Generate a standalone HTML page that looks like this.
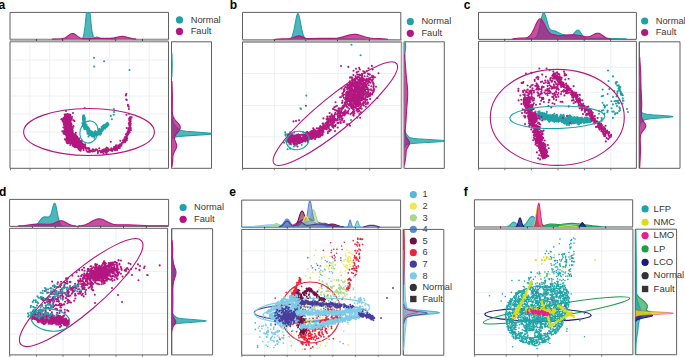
<!DOCTYPE html>
<html><head><meta charset="utf-8"><style>
html,body{margin:0;padding:0;background:#fff;}
svg{display:block;}
text{font-family:"Liberation Sans",sans-serif;}
</style></head><body>
<svg width="685" height="357" viewBox="0 0 685 357">
<rect width="685" height="357" fill="#fff"/>
<line x1="29.8" y1="41.6" x2="29.8" y2="168.3" stroke="#e8ecf1" stroke-width="0.8"/>
<line x1="49.7" y1="41.6" x2="49.7" y2="168.3" stroke="#e8ecf1" stroke-width="0.8"/>
<line x1="69.6" y1="41.6" x2="69.6" y2="168.3" stroke="#e8ecf1" stroke-width="0.8"/>
<line x1="89.5" y1="41.6" x2="89.5" y2="168.3" stroke="#e8ecf1" stroke-width="0.8"/>
<line x1="109.4" y1="41.6" x2="109.4" y2="168.3" stroke="#e8ecf1" stroke-width="0.8"/>
<line x1="129.3" y1="41.6" x2="129.3" y2="168.3" stroke="#e8ecf1" stroke-width="0.8"/>
<line x1="149.2" y1="41.6" x2="149.2" y2="168.3" stroke="#e8ecf1" stroke-width="0.8"/>
<line x1="10" y1="60" x2="168.5" y2="60" stroke="#e8ecf1" stroke-width="0.8"/>
<line x1="10" y1="78" x2="168.5" y2="78" stroke="#e8ecf1" stroke-width="0.8"/>
<line x1="10" y1="96" x2="168.5" y2="96" stroke="#e8ecf1" stroke-width="0.8"/>
<line x1="10" y1="114" x2="168.5" y2="114" stroke="#e8ecf1" stroke-width="0.8"/>
<line x1="10" y1="132" x2="168.5" y2="132" stroke="#e8ecf1" stroke-width="0.8"/>
<line x1="10" y1="150" x2="168.5" y2="150" stroke="#e8ecf1" stroke-width="0.8"/>
<line x1="274.3" y1="42" x2="274.3" y2="168.4" stroke="#e8ecf1" stroke-width="0.8"/>
<line x1="306" y1="42" x2="306" y2="168.4" stroke="#e8ecf1" stroke-width="0.8"/>
<line x1="338" y1="42" x2="338" y2="168.4" stroke="#e8ecf1" stroke-width="0.8"/>
<line x1="369.7" y1="42" x2="369.7" y2="168.4" stroke="#e8ecf1" stroke-width="0.8"/>
<line x1="242.5" y1="73.5" x2="401.5" y2="73.5" stroke="#e8ecf1" stroke-width="0.8"/>
<line x1="242.5" y1="105.5" x2="401.5" y2="105.5" stroke="#e8ecf1" stroke-width="0.8"/>
<line x1="242.5" y1="136.8" x2="401.5" y2="136.8" stroke="#e8ecf1" stroke-width="0.8"/>
<line x1="504.9" y1="41.3" x2="504.9" y2="168.3" stroke="#e8ecf1" stroke-width="0.8"/>
<line x1="531.4" y1="41.3" x2="531.4" y2="168.3" stroke="#e8ecf1" stroke-width="0.8"/>
<line x1="558" y1="41.3" x2="558" y2="168.3" stroke="#e8ecf1" stroke-width="0.8"/>
<line x1="584.4" y1="41.3" x2="584.4" y2="168.3" stroke="#e8ecf1" stroke-width="0.8"/>
<line x1="610.8" y1="41.3" x2="610.8" y2="168.3" stroke="#e8ecf1" stroke-width="0.8"/>
<line x1="478.5" y1="67.3" x2="636.4" y2="67.3" stroke="#e8ecf1" stroke-width="0.8"/>
<line x1="478.5" y1="92.3" x2="636.4" y2="92.3" stroke="#e8ecf1" stroke-width="0.8"/>
<line x1="478.5" y1="117.5" x2="636.4" y2="117.5" stroke="#e8ecf1" stroke-width="0.8"/>
<line x1="478.5" y1="143" x2="636.4" y2="143" stroke="#e8ecf1" stroke-width="0.8"/>
<line x1="36.5" y1="228.3" x2="36.5" y2="354.9" stroke="#e8ecf1" stroke-width="0.8"/>
<line x1="63" y1="228.3" x2="63" y2="354.9" stroke="#e8ecf1" stroke-width="0.8"/>
<line x1="89.4" y1="228.3" x2="89.4" y2="354.9" stroke="#e8ecf1" stroke-width="0.8"/>
<line x1="115.9" y1="228.3" x2="115.9" y2="354.9" stroke="#e8ecf1" stroke-width="0.8"/>
<line x1="142.5" y1="228.3" x2="142.5" y2="354.9" stroke="#e8ecf1" stroke-width="0.8"/>
<line x1="9.6" y1="250.9" x2="167.6" y2="250.9" stroke="#e8ecf1" stroke-width="0.8"/>
<line x1="9.6" y1="271.5" x2="167.6" y2="271.5" stroke="#e8ecf1" stroke-width="0.8"/>
<line x1="9.6" y1="292.4" x2="167.6" y2="292.4" stroke="#e8ecf1" stroke-width="0.8"/>
<line x1="9.6" y1="313.4" x2="167.6" y2="313.4" stroke="#e8ecf1" stroke-width="0.8"/>
<line x1="9.6" y1="334.2" x2="167.6" y2="334.2" stroke="#e8ecf1" stroke-width="0.8"/>
<line x1="264.6" y1="229.4" x2="264.6" y2="355.2" stroke="#e8ecf1" stroke-width="0.8"/>
<line x1="287.2" y1="229.4" x2="287.2" y2="355.2" stroke="#e8ecf1" stroke-width="0.8"/>
<line x1="310" y1="229.4" x2="310" y2="355.2" stroke="#e8ecf1" stroke-width="0.8"/>
<line x1="332.8" y1="229.4" x2="332.8" y2="355.2" stroke="#e8ecf1" stroke-width="0.8"/>
<line x1="355.5" y1="229.4" x2="355.5" y2="355.2" stroke="#e8ecf1" stroke-width="0.8"/>
<line x1="378.3" y1="229.4" x2="378.3" y2="355.2" stroke="#e8ecf1" stroke-width="0.8"/>
<line x1="241.7" y1="250.9" x2="400.6" y2="250.9" stroke="#e8ecf1" stroke-width="0.8"/>
<line x1="241.7" y1="272.2" x2="400.6" y2="272.2" stroke="#e8ecf1" stroke-width="0.8"/>
<line x1="241.7" y1="293.2" x2="400.6" y2="293.2" stroke="#e8ecf1" stroke-width="0.8"/>
<line x1="241.7" y1="313.7" x2="400.6" y2="313.7" stroke="#e8ecf1" stroke-width="0.8"/>
<line x1="241.7" y1="334.2" x2="400.6" y2="334.2" stroke="#e8ecf1" stroke-width="0.8"/>
<line x1="506.2" y1="229.1" x2="506.2" y2="354.7" stroke="#e8ecf1" stroke-width="0.8"/>
<line x1="537.8" y1="229.1" x2="537.8" y2="354.7" stroke="#e8ecf1" stroke-width="0.8"/>
<line x1="569.8" y1="229.1" x2="569.8" y2="354.7" stroke="#e8ecf1" stroke-width="0.8"/>
<line x1="601.6" y1="229.1" x2="601.6" y2="354.7" stroke="#e8ecf1" stroke-width="0.8"/>
<line x1="474.4" y1="250.9" x2="632.9" y2="250.9" stroke="#e8ecf1" stroke-width="0.8"/>
<line x1="474.4" y1="272" x2="632.9" y2="272" stroke="#e8ecf1" stroke-width="0.8"/>
<line x1="474.4" y1="292.6" x2="632.9" y2="292.6" stroke="#e8ecf1" stroke-width="0.8"/>
<line x1="474.4" y1="313.7" x2="632.9" y2="313.7" stroke="#e8ecf1" stroke-width="0.8"/>
<line x1="474.4" y1="334.8" x2="632.9" y2="334.8" stroke="#e8ecf1" stroke-width="0.8"/>
<path d="M74.9 136.7h0M80.3 145.6h0M75.4 143.8h0M65.4 123.3h0M68.2 126.2h0M78.5 147.0h0M67.5 114.2h0M77.7 144.0h0M76.0 144.5h0M66.6 133.5h0M68.7 126.3h0M68.4 125.3h0M68.1 124.4h0M68.7 132.1h0M71.5 134.0h0M68.2 137.5h0M84.1 146.9h0M76.0 144.2h0M73.4 137.5h0M83.4 147.8h0M66.8 122.8h0M68.5 120.5h0M67.5 140.8h0M67.0 115.8h0M65.2 115.5h0M67.3 135.3h0M70.6 132.6h0M81.3 145.4h0M71.1 139.3h0M69.3 134.8h0M69.2 134.1h0M68.4 124.1h0M69.5 114.5h0M68.1 121.8h0M76.5 136.9h0M66.8 122.2h0M69.9 128.7h0M68.2 114.2h0M78.1 144.0h0M66.9 120.3h0M71.0 124.7h0M81.1 142.3h0M71.9 134.1h0M80.3 141.1h0M74.1 137.9h0M72.9 144.8h0M69.3 117.7h0M68.7 136.6h0M72.6 133.9h0M79.0 145.7h0M68.9 128.6h0M71.4 137.7h0M66.7 116.4h0M64.4 130.6h0M67.5 127.2h0M67.2 120.1h0M78.6 142.4h0M67.0 129.7h0M83.4 146.8h0M69.4 138.5h0M71.5 137.9h0M68.7 141.3h0M76.8 138.0h0M68.2 120.1h0M66.8 132.3h0M68.5 123.7h0M70.3 130.0h0M68.0 117.9h0M83.8 144.9h0M67.4 122.8h0M68.1 143.3h0M65.3 126.4h0M80.4 143.3h0M74.3 138.9h0M68.3 119.4h0M77.4 146.5h0M82.6 145.3h0M81.1 144.6h0M68.8 137.9h0M65.6 119.9h0M68.4 121.8h0M82.2 144.4h0M73.3 134.2h0M69.1 121.3h0M81.7 141.6h0M70.7 140.2h0M71.9 135.9h0M67.2 129.5h0M64.3 131.6h0M65.1 123.9h0M69.0 115.6h0M78.7 146.7h0M66.4 133.5h0M71.6 135.0h0M70.1 127.0h0M75.5 142.2h0M69.4 115.0h0M64.9 129.9h0M70.5 115.2h0M69.7 119.0h0M83.0 146.5h0M73.0 139.5h0M68.3 131.5h0M69.1 135.5h0M79.5 144.8h0M65.5 128.6h0M75.4 134.7h0M73.2 140.6h0M69.7 128.1h0M69.2 135.2h0M75.5 143.1h0M81.4 144.4h0M68.9 120.1h0M81.0 147.5h0M67.1 114.2h0M76.3 141.2h0M74.6 147.1h0M62.7 119.6h0M72.0 130.3h0M77.0 144.5h0M64.7 114.6h0M70.3 139.8h0M76.4 143.8h0M69.9 134.7h0M75.2 140.8h0M68.2 123.2h0M68.9 122.0h0M66.5 129.1h0M68.5 121.3h0M69.0 127.9h0M83.0 144.8h0M70.8 136.8h0M70.0 127.7h0M68.2 125.0h0M81.5 148.2h0M68.0 132.2h0M82.9 147.8h0M68.6 135.0h0M69.4 135.2h0M80.3 145.4h0M75.5 141.6h0M69.3 138.1h0M71.2 130.8h0M78.4 147.6h0M68.5 130.7h0M81.8 144.9h0M68.3 116.8h0M70.3 131.1h0M69.2 135.2h0M82.7 145.5h0M65.2 124.4h0M78.1 142.5h0M77.3 137.6h0M75.2 140.2h0M75.9 136.3h0M83.0 146.9h0M65.6 127.7h0M67.0 130.5h0M70.6 122.1h0M68.6 116.1h0M63.7 122.9h0M80.7 146.5h0M78.2 144.6h0M65.5 118.6h0M66.4 141.1h0M66.2 134.1h0M70.9 137.8h0M71.9 140.3h0M66.5 126.6h0M83.0 145.9h0M71.5 132.4h0M71.8 138.8h0M73.9 137.8h0M67.7 121.5h0M67.4 116.5h0M63.3 131.9h0M76.9 141.3h0M77.5 143.8h0M74.9 141.5h0M66.7 118.6h0M80.0 147.6h0M77.6 142.8h0M80.2 143.9h0M72.9 133.1h0M81.7 144.5h0M66.8 115.9h0M67.4 115.2h0M68.7 114.8h0M68.6 124.3h0M67.7 124.1h0M66.5 121.7h0M71.7 135.9h0M67.8 115.6h0M74.7 135.1h0M70.1 120.6h0M69.9 142.4h0M70.1 114.9h0M68.7 126.6h0M81.6 146.7h0M70.7 135.2h0M78.3 142.6h0M72.7 139.7h0M71.5 138.2h0M67.8 121.8h0M74.5 134.5h0M67.7 115.6h0M78.0 142.2h0M82.9 146.0h0M78.5 145.2h0M66.6 116.1h0M65.9 127.9h0M69.1 126.9h0M65.7 118.6h0M69.5 140.2h0M75.3 145.4h0M64.8 127.0h0M79.1 144.7h0M77.0 143.2h0M65.8 119.3h0M77.6 140.5h0M79.5 145.7h0M68.8 122.0h0M71.4 136.4h0M75.6 136.9h0M73.3 137.0h0M67.5 117.9h0M70.9 141.0h0M70.0 140.1h0M77.7 144.1h0M77.2 143.4h0M69.8 127.2h0M73.8 142.3h0M79.4 144.6h0M79.6 146.6h0M63.7 120.8h0M67.5 115.1h0M75.3 137.7h0M69.6 122.6h0M73.4 134.7h0M82.9 144.7h0M65.4 130.1h0M67.3 124.3h0M72.4 131.8h0M71.3 140.6h0M65.2 118.1h0M69.1 129.3h0M68.9 119.5h0M73.3 139.5h0M77.5 144.8h0M66.8 129.6h0M65.6 129.7h0M67.5 137.3h0M65.0 122.9h0M64.7 124.3h0M66.5 127.5h0M72.5 131.8h0M67.7 117.3h0M74.9 142.9h0M71.6 136.6h0M65.8 126.3h0M68.1 117.2h0M76.9 141.1h0M64.5 119.3h0M66.1 119.4h0M67.1 119.3h0M66.0 117.3h0M79.7 147.5h0M67.0 125.0h0M73.5 126.1h0M78.8 143.4h0M72.6 137.9h0M69.8 121.5h0M68.3 131.7h0M78.8 147.4h0M69.4 129.0h0M75.6 139.4h0M63.9 118.0h0M75.2 141.0h0M77.7 141.0h0M77.4 144.6h0M72.1 140.9h0M69.8 128.7h0M66.3 116.6h0M70.6 134.8h0M76.7 141.0h0M67.2 121.8h0M66.1 125.0h0M71.1 134.8h0M74.8 142.8h0M80.3 145.5h0M61.8 119.1h0M69.2 121.4h0M75.1 145.8h0M72.4 139.3h0M74.5 141.4h0M83.4 148.4h0M81.1 147.8h0M77.1 146.9h0M75.7 143.6h0M69.8 129.8h0M73.2 138.5h0M66.5 121.6h0M74.8 143.5h0M73.6 144.9h0M73.8 142.3h0M66.4 132.6h0M64.9 130.1h0M68.3 131.1h0M69.4 115.4h0M79.4 142.5h0M72.9 134.0h0M64.8 130.5h0M71.8 134.9h0M72.7 143.7h0M67.0 129.8h0M75.7 147.1h0M80.3 147.6h0M68.6 129.7h0M67.9 119.6h0M75.5 142.7h0M83.6 147.6h0M68.7 120.0h0M74.1 141.3h0M75.6 146.8h0M82.4 143.4h0M67.0 119.0h0M69.1 117.7h0M83.4 147.5h0M65.9 118.8h0M67.7 121.2h0M69.2 137.9h0M72.5 131.3h0M73.8 144.2h0M68.9 121.7h0M80.4 146.9h0M67.3 122.9h0M79.3 138.5h0M68.7 116.8h0M68.6 133.3h0M65.5 115.3h0M67.3 126.8h0M67.3 126.8h0M76.3 139.1h0M65.7 133.2h0M64.9 116.3h0M83.8 147.5h0M80.1 145.1h0M82.2 143.4h0M65.8 124.2h0M62.3 131.3h0M66.1 123.4h0M65.0 119.1h0M66.8 115.3h0M71.6 133.9h0M64.8 119.0h0M70.3 121.0h0M79.1 144.6h0M68.6 133.8h0M65.6 121.6h0M72.0 140.7h0M66.9 124.9h0M71.2 134.3h0M70.8 125.4h0M69.3 134.9h0M73.3 137.9h0M72.5 133.9h0M71.3 129.5h0M77.2 142.6h0M81.0 142.0h0M70.6 121.1h0M70.9 119.6h0M67.2 118.6h0M83.0 147.7h0M80.3 149.5h0M71.1 123.2h0M83.4 146.0h0M65.6 122.6h0M69.9 134.4h0M70.1 134.0h0M79.5 148.7h0M67.9 115.7h0M70.6 126.7h0M73.9 136.1h0M67.0 116.7h0M67.0 123.7h0M72.2 132.2h0M80.5 143.7h0M74.9 143.5h0M77.1 145.2h0M76.5 141.5h0M73.1 142.3h0M78.0 145.8h0M75.6 137.4h0M75.2 141.4h0M67.0 126.4h0M68.8 120.8h0M78.4 138.9h0M68.2 120.7h0M80.5 147.2h0M68.0 139.7h0M72.9 127.1h0M79.7 150.3h0M70.0 120.2h0M67.3 135.3h0M65.4 117.7h0M82.0 148.3h0M70.4 137.1h0M78.5 141.8h0M66.4 125.6h0M77.9 142.5h0M77.3 136.7h0M66.7 142.8h0M81.7 147.7h0M64.6 132.5h0M70.7 130.4h0M71.4 143.4h0M76.0 147.0h0M64.4 127.9h0M72.8 140.2h0M70.3 122.4h0M70.6 135.9h0M78.8 139.1h0M70.1 116.7h0M74.4 141.9h0M68.6 114.6h0M82.6 146.5h0M69.3 132.9h0M64.2 131.6h0M72.5 143.8h0M69.7 135.1h0M73.0 143.9h0M68.8 117.5h0M71.1 136.1h0M68.5 137.5h0M82.5 144.3h0M67.9 115.6h0M72.0 131.7h0M71.7 139.0h0M66.9 138.2h0M68.7 117.0h0M70.7 137.8h0M69.7 122.9h0M70.2 121.8h0M80.6 143.2h0M64.4 122.3h0M63.6 133.6h0M74.6 143.1h0M74.9 140.0h0M68.8 137.1h0M77.5 143.2h0M67.2 133.3h0M71.1 138.9h0M77.1 144.5h0M71.8 141.2h0M73.3 138.5h0M69.5 130.3h0M73.8 134.2h0M69.4 129.9h0M77.0 139.8h0M68.6 129.4h0M71.2 132.4h0M75.3 142.6h0M68.3 134.6h0M71.2 127.6h0M78.8 143.0h0M70.4 129.0h0M77.7 146.0h0M74.2 146.0h0M66.9 132.6h0M74.6 140.8h0M65.6 115.4h0M71.8 129.1h0M77.6 147.6h0M72.2 136.2h0M75.9 132.8h0M67.6 143.3h0M69.9 142.4h0M73.0 135.9h0M68.3 131.2h0M68.1 121.5h0M67.6 125.9h0M71.2 125.7h0M70.3 131.1h0M83.7 148.1h0M67.6 128.5h0M66.2 132.7h0M68.1 129.2h0M66.1 140.2h0M82.6 145.5h0M79.7 145.9h0M72.6 128.4h0M70.6 124.7h0M78.7 147.6h0M71.5 133.5h0M72.5 141.6h0M67.6 117.0h0M80.0 143.2h0M68.7 126.7h0M70.5 133.8h0M68.7 122.0h0M66.9 131.4h0M76.9 145.3h0M78.5 143.4h0M71.2 132.7h0M75.5 143.2h0M69.2 132.5h0M65.9 129.7h0M64.8 139.3h0M65.8 122.3h0M68.0 126.9h0M74.1 140.9h0M77.1 141.4h0M68.8 116.3h0M76.1 140.2h0M77.9 143.4h0M69.8 131.8h0M66.4 116.5h0M73.7 139.9h0M68.2 124.0h0M74.6 137.8h0M64.6 130.1h0M71.1 139.7h0M63.8 124.8h0M67.3 133.7h0M66.7 137.1h0M72.4 138.5h0M66.1 122.4h0M80.6 150.7h0M70.6 125.6h0M65.2 126.6h0M64.0 124.7h0M66.9 116.8h0M66.9 131.5h0M74.3 145.0h0M74.9 140.1h0M66.7 122.0h0M69.4 119.6h0M69.5 127.0h0M76.7 141.7h0M69.6 133.7h0M81.1 146.3h0M71.6 140.3h0M74.6 136.7h0M73.1 146.1h0M73.7 144.3h0M66.3 128.4h0M68.6 124.4h0M69.0 131.7h0M68.0 134.1h0M66.6 119.8h0M72.8 131.1h0M70.7 140.1h0M61.3 119.5h0M71.5 119.6h0M65.3 121.2h0M67.0 125.6h0M82.7 146.6h0M65.8 115.1h0M70.3 121.3h0M67.2 120.8h0M65.7 134.0h0M67.7 114.6h0M70.0 132.4h0M67.3 120.7h0M68.8 124.9h0M74.5 146.0h0M69.7 121.4h0M69.9 139.5h0M71.4 129.9h0M67.1 131.3h0M77.5 143.8h0M73.4 120.2h0M81.2 146.1h0M81.0 143.7h0M73.7 139.6h0M65.3 116.0h0M74.9 138.6h0M73.5 136.4h0M74.0 145.3h0M67.4 122.7h0M81.1 149.0h0M79.6 146.0h0M69.2 118.7h0M68.1 126.8h0M65.9 115.3h0M76.6 145.9h0M80.9 146.0h0M83.6 147.4h0M71.8 138.1h0M73.9 139.3h0M69.2 142.9h0M70.6 136.8h0M83.1 144.9h0M72.4 137.4h0M66.3 127.8h0M67.9 135.1h0M67.7 114.8h0M75.4 140.5h0M73.5 140.9h0M72.6 130.3h0M79.8 142.4h0M74.3 143.8h0M69.1 127.7h0M66.9 117.2h0M64.9 119.4h0M66.1 121.6h0M67.9 126.4h0M63.9 133.2h0M80.8 147.3h0M68.7 125.3h0M79.7 146.9h0M72.5 141.3h0M79.4 143.3h0M68.3 130.4h0M67.7 114.1h0M79.1 139.9h0M68.1 124.0h0M68.1 119.8h0M77.4 142.8h0M75.6 137.7h0M68.5 122.6h0M67.9 124.9h0M81.7 146.6h0M70.4 124.8h0M72.8 142.2h0M70.0 119.3h0M77.6 143.6h0M64.9 118.8h0M71.1 134.5h0M68.2 115.4h0M68.0 137.5h0M78.8 144.0h0M68.0 117.4h0M67.3 125.2h0M74.3 144.5h0M76.0 135.2h0M69.9 126.6h0M74.0 137.5h0M71.5 131.9h0M79.7 143.5h0M69.8 125.8h0M75.1 143.0h0M73.9 137.9h0M74.8 142.3h0M67.4 129.6h0M75.5 140.4h0M73.4 141.2h0M64.6 130.6h0M67.1 115.1h0M83.1 145.9h0M74.2 141.3h0M69.7 122.2h0M74.3 142.3h0M65.8 125.5h0M71.0 132.6h0M79.1 144.6h0M66.3 132.7h0M69.0 125.7h0M67.5 126.5h0M69.2 117.1h0M69.5 122.8h0M69.0 125.0h0M62.8 121.4h0M68.1 116.6h0M70.3 132.6h0M68.9 122.7h0M75.1 141.8h0M80.7 147.1h0M67.4 125.2h0M66.5 139.5h0M68.9 134.6h0M65.2 117.1h0M66.9 119.1h0M79.3 146.4h0M72.4 132.5h0M77.2 143.5h0M67.6 116.7h0M71.7 137.3h0M81.0 141.3h0M78.4 146.6h0M67.9 114.2h0M70.4 134.5h0M68.8 128.9h0M75.9 142.2h0M66.9 117.0h0M70.7 124.6h0M78.5 142.4h0M68.4 133.2h0M68.6 132.4h0M83.1 146.4h0M69.2 127.0h0M68.6 115.7h0M68.5 129.9h0M64.9 120.4h0M69.3 117.3h0M67.5 138.6h0M81.7 147.9h0M71.7 136.5h0M70.8 140.4h0M71.3 127.0h0M74.1 134.6h0M77.1 140.2h0M71.9 136.9h0M77.4 143.1h0M71.2 135.4h0M67.4 122.1h0M75.2 134.5h0M68.1 134.1h0M70.7 120.6h0M73.0 137.6h0M77.9 143.4h0M69.9 119.5h0M72.8 134.1h0M76.1 140.2h0M68.5 130.4h0M66.5 125.1h0M67.0 129.4h0M72.0 134.5h0M74.4 139.3h0M72.2 135.2h0M66.7 118.4h0M80.0 140.8h0M80.2 148.1h0M68.4 118.1h0M69.5 124.1h0M66.8 121.1h0M77.6 146.6h0M80.4 146.4h0M66.1 115.8h0M67.7 127.6h0M64.9 122.0h0M66.2 133.6h0M81.2 145.9h0M65.3 116.9h0M67.2 121.0h0M69.0 133.8h0M71.5 134.0h0M75.5 141.7h0M67.0 132.1h0M70.3 119.8h0M66.6 128.7h0M83.1 147.7h0M74.9 142.8h0M71.8 118.7h0M77.3 143.6h0M66.4 126.8h0M77.3 141.9h0M67.4 114.5h0M81.4 141.0h0M66.1 120.7h0M70.5 132.2h0M70.9 141.0h0M73.7 133.6h0M66.0 120.8h0M68.0 119.7h0M66.0 125.7h0M68.8 116.1h0M69.1 122.7h0M62.9 119.3h0M70.9 132.4h0M69.7 128.2h0M71.5 137.0h0M70.1 125.3h0M66.0 115.4h0M64.0 127.7h0M76.4 141.3h0M71.6 124.2h0M65.9 131.0h0M73.9 144.3h0M66.7 130.9h0M78.9 147.4h0M81.7 144.6h0M68.3 126.6h0M76.7 139.6h0M70.9 124.1h0M65.4 119.7h0M70.3 131.4h0M66.7 140.8h0M81.6 146.4h0M68.9 120.0h0M73.0 142.7h0M65.0 134.2h0M66.5 119.4h0M83.9 145.3h0M73.0 141.6h0M64.7 119.3h0M81.0 145.0h0M68.9 118.2h0M65.7 117.8h0M67.7 127.5h0M82.6 144.7h0M68.0 115.3h0M81.6 144.8h0M70.9 138.6h0M67.3 116.7h0M68.3 138.2h0M67.4 132.9h0M73.6 134.6h0M74.3 142.7h0M71.3 141.6h0M83.6 148.1h0M65.3 120.5h0M78.0 143.0h0M70.7 130.2h0M75.1 144.7h0M80.9 143.8h0M85.2 144.4h0M65.5 125.0h0M70.6 132.0h0M82.1 146.0h0M83.1 144.4h0M71.2 128.5h0M82.7 144.7h0M69.3 130.3h0M67.4 129.4h0M78.6 138.6h0M67.4 133.5h0M71.6 131.6h0M70.8 129.2h0M67.2 131.9h0M67.7 119.7h0M69.8 116.5h0M72.9 145.5h0M72.2 135.5h0M72.4 140.6h0M76.7 144.0h0M64.6 123.6h0M68.7 123.5h0M65.6 125.5h0M69.6 126.3h0M74.1 144.5h0M70.0 128.9h0M68.8 127.1h0M68.3 141.4h0M66.9 121.7h0M67.3 118.3h0M70.4 144.9h0M75.0 143.1h0M69.7 126.0h0M70.6 140.0h0M69.0 115.4h0M66.0 131.0h0M68.4 138.6h0M69.1 124.3h0M69.4 127.9h0M71.1 138.3h0M71.0 137.5h0M69.7 120.2h0M73.1 142.2h0M70.8 117.3h0M83.2 146.3h0M68.5 122.2h0M68.4 124.3h0M67.0 122.2h0M84.5 145.7h0M66.5 125.8h0M71.8 137.7h0M84.1 146.4h0M83.2 144.6h0M69.1 115.7h0M68.8 135.5h0M73.3 136.6h0M73.7 141.2h0M65.6 127.8h0M65.6 127.5h0M65.9 114.2h0M67.9 115.4h0M72.4 134.7h0M65.9 117.1h0M67.0 122.3h0M65.4 127.7h0M67.5 116.9h0M66.0 115.3h0M80.7 147.5h0M67.2 132.0h0M66.5 122.4h0M73.4 142.0h0M67.2 114.4h0M67.2 124.0h0M81.8 148.2h0M80.7 144.8h0M68.6 141.2h0M67.7 117.8h0M65.7 127.1h0M67.6 115.1h0M68.2 122.9h0M65.1 115.0h0M68.1 119.1h0M74.5 137.3h0M68.8 118.1h0M68.2 120.3h0M78.7 149.2h0M67.5 127.7h0M65.8 127.7h0M69.2 117.5h0M76.3 144.1h0M71.7 141.2h0M66.5 138.3h0M73.1 137.5h0M66.4 118.1h0M67.1 124.7h0M73.0 135.9h0M82.3 146.6h0M77.7 143.6h0M76.7 136.3h0M68.1 135.3h0M66.9 114.6h0M80.4 144.8h0M69.6 116.7h0M64.5 119.3h0M73.1 141.3h0M75.9 145.5h0M74.6 145.6h0M70.1 132.1h0M65.8 121.3h0M67.8 115.4h0M78.6 144.7h0M83.2 147.0h0M67.8 124.0h0M78.1 147.0h0M68.2 130.4h0M68.3 126.7h0M70.0 134.3h0M67.1 114.3h0M70.9 131.5h0M68.7 122.1h0M74.1 141.3h0M70.7 134.1h0M79.3 144.9h0M80.7 144.6h0M63.4 127.2h0M64.8 125.6h0M81.4 147.1h0M69.5 134.4h0M63.6 117.9h0M67.1 115.9h0M83.7 147.2h0M70.2 137.5h0M67.1 116.2h0M66.2 135.4h0M69.4 134.4h0M64.0 132.7h0M82.9 145.3h0M81.6 147.6h0M69.5 119.1h0M63.5 120.4h0M69.3 130.4h0M78.0 144.4h0M70.0 139.8h0M72.9 144.0h0M73.0 135.5h0M68.4 122.5h0M79.2 141.8h0M67.3 114.6h0M73.8 140.8h0M68.4 121.9h0M70.7 132.8h0M83.4 146.5h0M71.4 134.7h0M66.7 116.3h0M65.3 132.1h0M76.3 137.5h0M67.7 116.3h0M68.7 124.2h0M66.9 114.7h0M71.9 134.5h0M68.7 129.4h0M71.8 133.9h0M66.3 126.2h0M72.3 139.9h0M67.9 121.0h0M80.3 146.4h0M82.7 146.4h0M72.9 133.2h0M67.7 133.2h0M78.6 145.4h0M68.2 125.8h0M75.7 145.3h0M65.1 125.9h0M75.8 139.7h0M69.8 127.5h0M68.2 139.9h0M80.2 148.4h0M68.6 116.2h0M78.6 141.9h0M71.3 135.0h0M69.4 129.2h0M71.6 127.5h0M67.5 116.8h0M70.7 124.4h0M74.2 137.1h0M65.9 118.0h0M74.1 139.3h0M82.7 146.7h0M82.9 148.0h0M79.3 146.8h0M77.5 143.2h0M67.5 121.3h0M83.5 145.8h0M63.8 122.5h0M99.3 148.2h0M107.1 151.8h0M101.4 151.3h0M102.8 150.6h0M87.5 151.8h0M100.8 151.3h0M93.9 149.7h0M86.0 148.8h0M88.0 148.0h0M97.3 150.1h0M91.1 150.6h0M105.3 150.5h0M87.5 148.6h0M83.7 150.0h0M112.1 151.0h0M92.4 151.4h0M98.1 151.7h0M89.5 150.4h0M89.1 151.5h0M95.1 150.8h0M106.5 153.2h0M85.4 147.3h0M107.4 150.5h0M111.4 148.4h0M99.5 150.7h0M93.8 151.3h0M90.1 151.8h0M89.2 148.9h0M92.9 150.5h0M107.8 150.3h0M84.4 147.2h0M105.7 149.6h0M102.6 151.2h0M85.2 146.2h0M85.8 148.8h0M104.5 151.2h0M102.8 150.4h0M92.8 149.2h0M107.8 149.0h0M89.0 152.0h0M96.0 149.4h0M86.5 150.8h0M102.0 151.9h0M86.5 148.4h0M89.3 148.3h0M105.6 152.4h0M97.8 153.1h0M102.5 150.0h0M104.5 150.8h0M100.9 152.4h0M89.2 150.2h0M103.5 153.6h0M87.4 148.4h0M91.2 150.9h0M96.4 149.5h0M129.2 129.3h0M122.7 142.8h0M107.8 149.0h0M123.9 142.3h0M129.6 123.8h0M125.6 140.9h0M127.6 135.0h0M120.1 144.9h0M110.4 149.9h0M127.3 135.2h0M123.6 140.9h0M118.9 145.7h0M115.7 148.8h0M128.9 132.0h0M118.9 148.0h0M125.3 136.7h0M115.3 147.7h0M128.9 129.1h0M120.4 145.3h0M123.6 141.3h0M129.7 120.6h0M129.3 131.0h0M129.1 130.0h0M118.2 145.3h0M130.6 125.0h0M121.4 145.6h0M129.9 117.6h0M130.4 122.2h0M127.3 133.5h0M130.4 125.4h0M125.6 138.8h0M128.3 130.0h0M109.0 149.6h0M129.8 117.5h0M129.7 126.9h0M110.0 150.0h0M114.7 148.4h0M126.2 137.3h0M126.7 128.0h0M110.3 149.9h0M129.1 118.9h0M119.4 146.2h0M130.8 117.3h0M129.4 129.3h0M123.8 141.1h0M119.7 145.4h0M107.7 150.1h0M107.2 149.7h0M127.0 135.0h0M128.8 128.0h0M130.6 121.6h0M119.9 145.4h0M130.5 120.1h0M117.1 147.1h0M130.1 120.0h0M129.8 121.0h0M110.7 150.2h0M130.3 123.9h0M128.7 131.6h0M128.0 131.5h0M129.2 124.9h0M126.9 140.1h0M124.5 140.3h0M119.8 145.2h0M130.7 123.7h0M130.5 121.9h0M110.9 150.3h0M129.1 128.2h0M117.1 150.0h0M112.1 149.9h0M112.8 149.8h0M126.4 137.6h0M115.8 146.3h0M114.1 147.1h0M107.9 150.6h0M118.6 147.0h0M129.3 128.1h0M103.8 149.6h0M122.9 140.6h0M126.9 136.3h0M105.2 149.0h0M117.4 148.3h0M130.6 121.7h0M131.6 117.4h0M130.3 124.4h0M111.2 149.0h0M128.7 128.5h0M120.3 140.8h0M111.2 149.0h0M123.9 141.4h0M130.5 120.9h0M130.2 123.1h0M121.3 145.1h0M106.1 150.7h0M130.3 121.9h0M130.9 117.7h0M124.0 139.6h0M113.7 148.3h0M124.6 138.1h0M129.7 132.2h0M125.1 142.1h0M119.9 146.4h0M114.4 147.1h0M117.2 147.5h0M105.4 150.3h0M115.3 148.2h0M129.9 119.3h0M103.5 151.5h0M128.5 130.3h0M130.1 127.5h0M121.6 144.4h0M126.8 136.7h0M113.6 148.7h0M127.7 133.1h0M129.2 131.5h0M128.7 130.0h0M124.6 141.2h0M129.9 118.5h0M128.8 123.6h0M127.2 138.2h0M127.4 132.3h0M116.4 148.4h0M130.3 119.8h0M126.4 134.0h0M129.3 122.2h0M116.6 147.0h0M129.7 117.8h0M107.9 148.9h0M126.0 139.8h0M108.4 149.8h0M112.4 149.8h0M129.0 128.6h0M106.3 150.8h0M120.1 144.3h0M112.3 149.3h0M130.1 124.4h0M107.0 150.4h0M118.5 146.0h0M129.0 124.1h0M128.4 132.4h0M128.8 131.6h0M130.0 117.4h0M104.0 150.0h0M128.4 133.5h0M130.9 130.1h0M128.9 129.4h0M128.9 131.1h0M106.6 150.8h0M106.6 147.6h0M129.5 128.3h0M126.7 135.8h0M116.2 149.3h0M103.4 150.6h0M124.8 138.9h0M107.4 150.0h0M129.2 129.4h0M118.6 145.8h0M129.6 126.5h0M107.4 148.8h0M124.2 140.8h0M108.0 151.0h0M130.9 128.0h0M126.7 138.6h0M114.4 148.8h0M130.7 118.9h0M129.0 132.8h0M119.9 147.7h0M130.4 124.2h0M120.4 144.9h0M130.2 119.9h0M117.3 147.5h0M130.3 117.8h0M106.1 150.7h0M128.3 129.9h0M116.1 145.4h0M121.8 143.1h0M125.9 134.3h0M105.3 150.7h0M113.8 148.7h0M107.8 148.4h0M129.5 130.0h0M114.1 149.6h0M124.6 140.8h0M119.6 147.9h0M115.1 150.3h0M129.3 120.2h0M125.6 141.0h0M128.2 134.2h0M128.8 131.6h0M130.3 125.9h0M126.8 100.0h0M128.0 105.7h0M126.3 94.1h0M128.8 106.6h0M125.9 95.4h0M128.4 106.6h0M128.9 109.0h0M126.2 99.6h0M129.0 113.7h0M127.9 104.7h0M110.8 141.7h0M126.5 114.8h0M66.0 111.0h0M73.0 113.0h0M72.0 117.0h0M74.5 121.0h0" stroke="#b3167f" stroke-opacity="1" stroke-width="2.1" stroke-linecap="round"/>
<path d="M96.6 133.1h0M87.8 133.3h0M99.5 132.4h0M85.0 125.5h0M99.1 134.4h0M99.6 133.3h0M93.2 134.3h0M84.9 126.3h0M84.0 115.6h0M85.0 123.5h0M101.6 127.1h0M83.6 124.5h0M84.7 118.6h0M84.6 125.9h0M92.9 133.1h0M94.8 133.2h0M104.2 126.9h0M103.8 127.9h0M107.3 124.7h0M105.4 127.8h0M89.6 132.8h0M83.3 121.5h0M106.4 124.5h0M84.2 125.1h0M96.5 134.3h0M85.8 126.0h0M102.5 128.9h0M84.6 123.8h0M88.9 131.8h0M84.4 124.6h0M103.5 127.3h0M96.2 133.3h0M97.0 134.9h0M88.0 127.3h0M84.7 122.7h0M104.7 128.5h0M99.2 128.8h0M99.9 130.9h0M108.2 123.9h0M93.6 132.5h0M82.3 123.3h0M95.4 131.2h0M84.7 127.7h0M91.2 135.6h0M89.3 133.6h0M94.0 134.2h0M105.8 125.9h0M101.8 128.6h0M88.2 132.1h0M101.9 128.2h0M103.6 127.4h0M102.1 130.9h0M93.3 133.2h0M104.8 126.2h0M91.3 133.6h0M84.5 119.9h0M84.6 127.0h0M98.0 133.7h0M89.2 129.1h0M89.2 131.6h0M89.3 130.4h0M84.9 123.3h0M83.5 119.4h0M83.9 117.5h0M98.9 133.9h0M87.3 128.1h0M89.2 133.6h0M106.0 125.3h0M96.8 135.0h0M102.1 128.8h0M100.7 130.3h0M106.1 124.3h0M83.2 118.3h0M87.3 131.2h0M107.5 126.0h0M89.6 134.4h0M106.5 125.1h0M84.5 123.1h0M83.3 118.0h0M104.8 126.5h0M87.5 132.5h0M91.4 134.8h0M105.7 124.9h0M85.3 124.4h0M107.6 125.1h0M88.2 131.1h0M85.3 125.5h0M83.9 125.6h0M92.6 133.5h0M90.6 132.6h0M104.3 126.5h0M84.6 117.6h0M83.1 117.3h0M84.9 121.6h0M95.7 133.5h0M101.1 129.6h0M90.5 134.0h0M96.1 134.1h0M97.3 133.8h0M84.3 116.3h0M85.2 125.5h0M107.3 122.9h0M86.5 128.8h0M106.6 125.2h0M91.4 133.4h0M83.0 125.1h0M83.3 115.6h0M84.2 124.6h0M86.5 128.4h0M89.8 132.0h0M88.9 133.3h0M92.8 135.8h0M91.5 131.6h0M83.0 116.9h0M85.1 126.6h0M107.3 125.1h0M83.3 116.6h0M99.5 130.5h0M91.5 131.8h0M100.5 133.7h0M86.6 128.9h0M88.9 128.9h0M92.1 134.3h0M105.1 125.9h0M88.4 127.7h0M85.0 119.1h0M84.4 117.1h0M104.6 127.1h0M86.5 128.0h0M83.9 120.4h0M95.5 134.6h0M103.7 128.4h0M95.1 131.8h0M84.2 121.7h0M89.4 130.5h0M86.5 125.8h0M83.8 116.2h0M106.9 124.4h0M90.4 132.6h0M84.8 120.9h0M104.3 126.5h0M108.4 124.8h0M101.9 128.3h0M86.6 125.1h0M84.2 123.4h0M92.2 134.8h0M95.0 134.9h0M103.7 126.4h0M107.5 124.9h0M104.9 125.7h0M88.1 128.5h0M94.9 133.6h0M83.8 120.6h0M91.9 134.8h0M83.2 118.5h0M83.6 120.1h0M83.1 120.7h0M86.1 127.6h0M85.5 128.3h0M98.4 131.0h0M84.5 118.7h0M83.1 120.3h0M96.8 132.2h0M98.1 132.8h0M99.4 132.0h0M99.5 131.4h0M97.6 132.9h0M93.9 136.3h0M98.6 129.6h0M83.0 118.9h0M82.8 124.7h0M100.5 131.3h0M84.4 123.4h0M92.4 135.0h0M83.9 126.9h0M90.5 130.9h0M103.1 128.4h0M97.7 133.2h0M89.3 132.8h0M85.5 126.6h0M102.7 129.7h0M97.4 133.1h0M89.6 132.2h0M103.7 126.9h0M98.5 132.0h0M107.4 124.0h0M97.9 133.1h0M104.4 125.7h0M93.9 136.5h0M99.4 132.0h0M102.4 127.3h0M82.9 119.3h0M91.2 132.2h0M95.9 134.8h0M83.6 117.9h0M102.0 129.9h0M99.8 132.1h0M105.8 125.0h0M87.7 130.1h0M89.3 135.3h0M104.2 124.8h0M88.8 131.4h0M103.4 128.6h0M90.1 130.7h0M88.2 128.2h0M83.9 127.7h0M84.9 124.2h0M87.5 133.7h0M83.7 122.3h0M103.0 128.6h0M107.4 124.5h0M83.2 119.6h0M82.9 117.8h0M83.3 115.7h0M106.0 125.5h0M83.5 118.6h0M99.4 134.0h0M85.5 128.1h0M85.3 123.5h0M85.6 125.3h0M99.0 132.9h0M83.8 116.2h0M103.7 127.2h0M94.0 133.3h0M85.1 125.1h0M84.2 124.2h0M98.3 134.4h0M96.8 134.0h0M84.6 129.2h0M86.9 128.8h0M88.4 136.5h0M105.8 126.6h0M92.8 134.9h0M102.9 127.9h0M95.2 131.3h0M94.0 134.3h0M91.2 133.6h0M99.8 134.5h0M92.2 131.9h0M101.2 133.2h0M84.5 123.0h0M85.9 128.7h0M102.8 125.7h0M88.3 130.9h0M103.1 127.9h0M106.4 125.6h0M94.7 134.5h0M84.3 119.7h0M101.6 131.4h0M98.5 133.8h0M85.5 127.5h0M104.5 128.0h0M90.4 134.5h0M83.6 117.9h0M84.3 118.3h0M85.9 124.6h0M96.2 135.8h0M103.0 129.4h0M83.5 119.6h0M83.7 116.4h0M96.5 134.1h0M88.8 131.3h0M90.0 131.9h0M102.2 128.4h0M106.6 127.0h0M107.1 124.5h0M101.1 129.7h0M84.1 115.6h0M84.5 121.6h0M95.2 135.2h0M107.0 125.2h0M83.7 118.9h0M92.2 134.0h0M88.7 130.6h0M89.7 130.3h0M84.5 127.0h0M85.3 126.6h0M83.0 126.3h0M84.1 119.8h0M93.6 134.4h0M89.0 133.1h0M99.4 131.8h0M96.2 132.6h0M106.1 124.4h0M86.8 129.1h0M104.6 127.1h0M88.2 130.4h0M98.5 134.2h0M102.9 129.9h0M88.1 131.1h0M89.8 132.4h0M96.8 133.7h0M83.3 120.2h0M92.3 135.2h0M83.6 119.5h0M84.4 124.8h0M96.5 133.7h0M106.5 123.6h0M107.6 123.1h0M84.8 126.4h0M83.7 121.6h0M91.4 135.7h0M89.6 132.3h0M87.2 131.0h0M102.2 131.3h0M100.1 132.9h0M93.9 133.8h0M96.4 133.9h0M94.8 134.5h0M97.7 132.1h0M106.0 125.8h0M106.9 125.5h0M107.2 123.9h0M105.0 128.6h0M83.8 119.9h0M90.2 132.4h0M101.5 129.9h0M86.7 127.0h0M95.9 134.7h0M83.5 117.8h0M83.2 124.2h0M88.0 131.4h0M83.3 118.4h0M89.4 131.5h0M86.0 124.7h0M103.8 127.4h0M87.3 127.8h0M87.2 131.1h0M102.2 129.4h0M94.3 136.5h0M83.1 117.6h0M84.0 124.6h0M96.1 134.4h0M84.3 123.8h0M84.6 125.9h0M96.7 135.1h0M91.9 132.7h0M85.1 126.6h0M94.4 137.7h0M96.9 133.9h0M83.7 117.1h0M86.2 126.3h0M87.6 127.1h0M105.0 127.7h0M83.5 117.6h0M86.8 129.4h0M83.0 123.9h0M100.6 134.6h0M101.9 128.6h0M83.0 117.9h0M104.3 127.8h0M99.3 132.8h0M84.3 124.5h0M105.4 125.9h0M84.6 128.0h0M102.2 130.2h0M83.4 118.6h0M88.9 133.8h0M91.3 134.7h0M105.1 126.7h0M103.3 128.5h0M92.3 136.4h0M83.3 117.7h0M89.4 131.8h0M88.6 129.5h0M107.7 123.5h0M97.8 131.9h0M88.6 131.2h0M87.3 130.1h0M99.8 129.2h0M83.6 119.5h0M103.0 129.3h0M98.3 133.2h0M90.4 131.2h0M100.3 133.1h0M89.1 130.3h0M84.8 121.2h0M90.0 130.6h0M83.6 117.6h0M83.0 119.2h0M94.0 57.7h0M104.1 61.3h0M94.2 66.6h0M129.5 70.0h0M84.7 107.8h0M113.9 109.0h0M110.8 115.9h0M111.9 119.2h0M113.7 114.8h0M114.1 112.0h0" stroke="#1ea2a6" stroke-opacity="1" stroke-width="2.1" stroke-linecap="round"/>
<ellipse cx="89" cy="132" rx="65.4" ry="23.5" transform="rotate(0 89 132)" fill="none" stroke="#b3167f" stroke-width="1.1"/>
<ellipse cx="89" cy="132" rx="9" ry="11.2" transform="rotate(15 89 132)" fill="none" stroke="#1ea2a6" stroke-width="1.1"/>
<path d="M304.3 140.3h0M297.2 138.4h0M286.6 134.5h0M291.0 138.1h0M289.1 137.2h0M295.0 141.5h0M283.8 142.5h0M296.3 137.1h0M300.2 137.9h0M295.9 145.6h0M298.6 136.1h0M289.0 138.0h0M285.8 141.0h0M291.2 138.4h0M303.7 137.1h0M303.4 140.6h0M293.9 146.5h0M303.2 132.4h0M293.8 140.3h0M306.5 138.3h0M299.3 139.1h0M292.8 139.9h0M301.3 137.9h0M291.3 144.4h0M289.3 139.5h0M285.9 141.3h0M297.8 139.7h0M295.7 140.4h0M295.4 139.5h0M293.8 143.9h0M305.9 138.2h0M293.2 141.1h0M291.0 140.7h0M304.0 135.0h0M305.3 135.4h0M297.7 136.0h0M284.1 142.8h0M291.4 138.3h0M299.6 135.6h0M296.3 140.8h0M307.0 139.9h0M285.5 135.6h0M301.7 145.0h0M291.7 140.9h0M305.1 138.0h0M296.1 143.8h0M303.1 139.0h0M291.2 138.7h0M287.6 149.3h0M287.7 137.6h0M291.8 140.4h0M289.5 144.2h0M303.6 134.9h0M305.2 138.0h0M298.1 141.0h0M290.2 148.8h0M294.6 137.1h0M291.2 140.7h0M306.4 140.5h0M298.2 139.9h0M285.4 134.2h0M290.2 132.3h0M289.3 137.1h0M290.3 138.0h0M292.4 133.2h0M292.0 134.8h0M290.2 133.5h0M289.9 136.5h0M285.7 134.9h0M288.6 134.2h0M289.7 133.6h0M287.8 134.3h0M351.5 44.7h0M360.6 55.3h0M306.3 95.6h0M301.0 109.0h0M285.2 132.2h0M300.5 108.4h0M351.0 120.0h0" stroke="#1ea2a6" stroke-opacity="1" stroke-width="2.1" stroke-linecap="round"/>
<path d="M349.5 100.2h0M359.4 86.4h0M360.0 102.3h0M351.5 84.0h0M363.9 94.8h0M373.6 88.9h0M360.7 94.8h0M365.2 85.4h0M353.2 101.2h0M353.8 84.3h0M359.4 96.5h0M360.5 92.4h0M361.9 94.4h0M373.9 90.9h0M352.4 113.0h0M361.3 91.3h0M359.3 110.7h0M355.5 78.5h0M342.2 107.4h0M350.9 100.9h0M346.3 106.1h0M368.8 80.3h0M349.9 103.6h0M367.6 96.9h0M363.5 102.1h0M353.6 111.2h0M353.8 94.9h0M363.9 88.8h0M361.1 96.9h0M355.9 81.6h0M357.8 97.2h0M361.4 94.9h0M356.9 97.0h0M367.7 94.4h0M372.8 79.5h0M354.6 87.4h0M359.1 91.6h0M350.1 96.2h0M357.3 101.4h0M359.4 77.5h0M357.6 105.5h0M355.5 102.2h0M362.4 96.6h0M354.8 96.4h0M358.3 71.5h0M357.3 117.6h0M358.2 89.3h0M368.3 90.5h0M354.8 104.2h0M358.3 100.6h0M369.6 94.3h0M366.8 79.4h0M361.1 105.1h0M342.1 102.9h0M366.7 86.8h0M363.1 78.7h0M355.2 95.6h0M347.6 112.6h0M366.0 81.0h0M365.8 99.4h0M352.4 77.8h0M357.5 93.5h0M351.8 94.3h0M361.9 100.3h0M361.9 78.7h0M366.5 81.5h0M345.6 110.9h0M356.9 103.2h0M371.2 80.0h0M353.6 95.2h0M351.6 105.3h0M349.7 89.0h0M358.7 94.8h0M361.8 96.3h0M352.3 95.7h0M362.3 98.9h0M344.0 91.2h0M348.8 84.8h0M346.1 96.3h0M353.5 94.2h0M356.9 94.3h0M363.0 81.1h0M358.8 89.5h0M361.0 96.0h0M357.3 86.9h0M352.4 85.8h0M355.6 79.8h0M371.5 94.4h0M353.5 70.8h0M362.6 80.5h0M365.4 97.5h0M358.3 98.1h0M356.9 82.8h0M359.9 88.4h0M361.8 96.3h0M357.5 109.6h0M344.2 106.8h0M363.3 92.0h0M362.4 86.8h0M367.2 88.9h0M359.3 108.4h0M360.3 82.8h0M347.1 93.7h0M361.5 90.7h0M369.2 94.3h0M357.6 102.1h0M356.1 98.9h0M360.2 117.7h0M347.6 98.2h0M354.3 111.6h0M356.3 87.5h0M358.1 92.6h0M362.1 85.1h0M367.5 94.1h0M349.4 96.0h0M356.1 88.4h0M346.9 92.0h0M363.0 88.9h0M356.4 88.9h0M355.3 103.0h0M351.6 90.0h0M355.8 91.5h0M361.8 98.7h0M360.6 84.5h0M368.7 79.5h0M358.7 97.8h0M354.0 95.1h0M338.9 108.2h0M362.4 96.9h0M356.5 97.4h0M353.1 115.0h0M347.7 84.8h0M351.0 83.1h0M342.3 93.5h0M351.0 93.9h0M358.9 104.5h0M364.1 87.8h0M350.4 106.4h0M356.8 96.2h0M370.6 77.8h0M356.1 91.7h0M361.8 89.9h0M357.6 94.7h0M340.1 97.3h0M355.2 92.2h0M366.9 93.2h0M350.7 101.0h0M358.3 89.6h0M359.8 80.2h0M359.7 82.1h0M356.5 110.3h0M351.6 100.9h0M344.5 104.5h0M350.2 77.3h0M357.1 85.9h0M349.8 81.2h0M343.4 95.7h0M356.6 105.6h0M361.8 94.3h0M347.4 86.7h0M358.3 103.0h0M360.7 93.0h0M356.1 85.1h0M362.6 93.0h0M343.8 97.7h0M341.3 108.4h0M348.4 91.3h0M352.1 88.4h0M361.2 97.8h0M348.2 93.1h0M348.0 95.9h0M355.5 83.9h0M358.3 94.0h0M356.2 90.9h0M357.9 104.1h0M350.8 96.5h0M351.1 87.9h0M350.2 100.5h0M352.0 104.3h0M350.8 93.3h0M364.5 83.1h0M368.4 96.4h0M360.9 78.3h0M357.1 94.3h0M363.5 99.5h0M347.5 103.6h0M350.1 95.7h0M357.9 77.1h0M361.1 91.2h0M363.6 87.9h0M359.8 86.3h0M357.6 93.2h0M363.5 98.4h0M362.7 94.3h0M352.7 83.0h0M359.4 88.8h0M360.2 88.9h0M362.1 93.6h0M352.6 99.2h0M352.6 93.4h0M350.6 100.0h0M352.1 79.0h0M347.7 111.6h0M353.1 93.2h0M369.9 74.6h0M350.1 93.1h0M349.8 101.8h0M351.8 90.3h0M357.3 78.4h0M360.5 96.3h0M357.5 86.1h0M360.2 93.3h0M349.4 93.1h0M367.8 73.6h0M348.3 87.5h0M352.2 96.3h0M352.3 95.8h0M362.2 91.1h0M360.1 89.7h0M359.8 85.5h0M362.5 94.0h0M351.8 106.2h0M362.7 89.7h0M360.1 97.8h0M355.6 95.2h0M348.9 105.3h0M356.5 98.9h0M351.7 98.2h0M359.2 94.3h0M356.8 108.9h0M362.2 94.8h0M355.7 90.7h0M345.1 99.2h0M354.1 98.3h0M352.7 100.2h0M367.5 87.9h0M345.1 111.4h0M354.5 95.3h0M353.8 109.7h0M352.7 95.4h0M360.2 84.9h0M363.8 103.3h0M366.1 95.8h0M356.9 102.2h0M367.5 76.3h0M356.0 82.0h0M365.4 84.4h0M351.5 104.9h0M353.5 103.3h0M359.3 81.8h0M356.3 94.6h0M355.1 94.6h0M360.5 90.8h0M359.4 108.1h0M362.7 87.0h0M348.2 88.0h0M354.1 85.9h0M345.5 94.4h0M355.2 86.1h0M357.1 100.7h0M363.8 85.5h0M359.1 81.1h0M362.8 85.5h0M355.4 86.1h0M352.3 83.2h0M339.5 108.5h0M356.3 83.0h0M363.8 99.3h0M350.3 88.3h0M362.8 98.9h0M358.2 109.0h0M353.8 97.2h0M359.9 86.9h0M360.3 78.5h0M354.3 98.3h0M356.8 102.8h0M363.9 79.9h0M358.7 103.5h0M373.2 77.7h0M359.3 93.4h0M355.0 101.6h0M361.3 83.9h0M366.8 78.7h0M344.6 102.5h0M366.5 80.1h0M357.1 95.9h0M359.2 77.2h0M367.4 102.3h0M344.7 104.2h0M354.7 85.9h0M363.0 85.4h0M356.0 68.7h0M360.7 75.3h0M352.0 82.4h0M350.8 92.3h0M354.1 97.1h0M357.6 96.4h0M359.5 103.4h0M360.4 97.6h0M353.7 115.8h0M361.3 92.9h0M354.5 91.8h0M373.3 76.4h0M358.0 84.7h0M351.6 95.4h0M368.2 92.1h0M356.0 106.0h0M355.7 98.8h0M352.9 111.6h0M368.6 82.5h0M352.4 83.7h0M351.3 103.1h0M350.4 90.1h0M362.2 84.7h0M355.7 86.5h0M366.4 93.3h0M356.2 101.9h0M349.8 96.2h0M357.5 91.9h0M354.7 81.2h0M353.7 100.3h0M355.1 104.4h0M363.8 83.4h0M342.3 95.7h0M360.2 82.3h0M361.1 92.1h0M362.9 85.9h0M371.5 80.6h0M353.2 83.1h0M363.6 87.4h0M349.4 99.2h0M355.1 99.6h0M362.3 88.2h0M367.9 81.1h0M360.3 78.8h0M368.2 73.8h0M352.1 86.8h0M350.3 87.1h0M364.8 85.4h0M357.0 92.5h0M348.0 88.8h0M347.7 99.8h0M361.8 84.1h0M360.9 106.8h0M365.3 91.2h0M355.1 107.7h0M352.3 78.0h0M352.0 101.7h0M363.6 86.7h0M352.1 108.1h0M357.5 97.9h0M361.2 81.7h0M363.2 105.0h0M365.6 96.4h0M354.5 96.8h0M341.8 109.7h0M369.9 95.9h0M356.1 87.4h0M358.8 106.1h0M370.3 93.1h0M348.4 97.3h0M354.2 102.6h0M355.3 91.8h0M356.9 100.4h0M368.9 74.1h0M360.9 112.2h0M363.8 87.9h0M361.6 84.0h0M354.4 113.6h0M347.8 107.5h0M357.7 86.8h0M367.4 103.4h0M354.4 87.1h0M359.6 81.3h0M355.7 96.3h0M346.5 99.3h0M335.5 106.5h0M363.9 94.0h0M348.6 98.9h0M355.6 88.5h0M356.2 89.7h0M345.5 102.4h0M359.1 74.5h0M363.0 83.6h0M373.5 91.6h0M355.9 105.5h0M359.5 98.6h0M346.4 93.5h0M355.2 96.5h0M345.5 99.5h0M363.4 91.1h0M357.0 90.1h0M359.0 89.7h0M354.4 97.1h0M359.8 79.7h0M349.6 86.9h0M350.4 114.1h0M346.6 94.6h0M350.4 90.0h0M359.9 83.4h0M351.9 93.5h0M357.5 95.8h0M359.7 101.6h0M361.6 87.6h0M356.2 97.4h0M354.6 98.3h0M358.5 101.9h0M349.5 82.7h0M356.8 98.6h0M344.4 105.1h0M353.2 83.8h0M354.0 99.1h0M356.7 88.6h0M362.1 91.1h0M368.7 85.2h0M350.1 77.5h0M354.2 97.8h0M367.2 99.8h0M356.1 106.8h0M372.8 82.0h0M359.7 89.2h0M355.6 76.4h0M349.5 92.5h0M351.8 113.1h0M369.4 81.9h0M353.6 89.9h0M356.3 90.9h0M358.9 93.1h0M350.4 82.2h0M357.7 87.1h0M358.9 111.6h0M374.2 89.3h0M354.2 97.2h0M365.2 102.2h0M362.1 76.0h0M356.9 82.4h0M343.8 89.8h0M354.0 112.1h0M355.8 90.3h0M372.1 94.4h0M358.6 94.5h0M352.6 104.5h0M343.6 94.8h0M359.8 108.2h0M356.2 89.9h0M360.0 85.1h0M350.0 77.7h0M359.0 102.0h0M363.7 93.5h0M356.3 86.2h0M355.4 97.7h0M358.7 95.3h0M372.1 76.6h0M358.7 91.3h0M370.7 89.8h0M353.9 96.0h0M354.0 90.8h0M346.8 106.8h0M345.2 87.0h0M358.1 79.9h0M372.3 77.0h0M364.1 82.9h0M355.8 84.4h0M359.4 93.4h0M343.3 92.5h0M354.9 93.5h0M362.9 88.9h0M357.5 101.8h0M357.2 82.4h0M357.8 104.2h0M359.4 114.0h0M350.2 100.7h0M353.7 109.8h0M342.4 100.7h0M351.5 77.2h0M359.7 96.4h0M358.4 91.0h0M363.6 83.1h0M359.7 80.0h0M353.3 96.5h0M367.7 83.3h0M368.4 94.3h0M356.0 92.2h0M350.1 84.3h0M357.8 109.1h0M357.0 101.6h0M360.5 95.7h0M361.0 87.9h0M368.0 102.5h0M357.1 94.2h0M364.5 85.7h0M353.4 75.1h0M357.5 84.4h0M359.2 79.6h0M355.2 96.4h0M357.7 96.6h0M354.5 87.9h0M365.4 100.4h0M349.0 94.4h0M362.2 76.9h0M357.6 95.3h0M345.9 97.9h0M362.6 90.1h0M369.0 78.3h0M356.0 91.3h0M373.4 87.3h0M355.7 97.0h0M356.5 98.0h0M348.8 96.3h0M347.3 89.4h0M362.1 74.7h0M350.2 102.2h0M362.1 77.0h0M356.9 104.0h0M344.3 88.9h0M354.7 82.2h0M350.0 82.1h0M365.9 94.1h0M346.6 106.0h0M356.0 88.2h0M346.5 98.9h0M372.2 75.8h0M354.0 93.6h0M359.3 91.8h0M340.8 97.3h0M361.5 100.4h0M353.5 105.5h0M364.7 85.7h0M362.9 98.7h0M358.7 87.3h0M353.2 98.5h0M358.9 99.3h0M365.4 82.6h0M351.5 100.8h0M349.3 109.0h0M356.3 87.8h0M356.0 105.0h0M360.4 99.4h0M361.4 84.8h0M363.9 105.5h0M352.7 80.7h0M352.8 98.3h0M373.5 84.4h0M360.9 79.9h0M346.2 92.6h0M364.0 98.7h0M356.5 101.8h0M351.5 87.7h0M366.7 84.8h0M345.0 102.9h0M354.0 80.9h0M350.4 104.2h0M350.7 99.2h0M343.0 105.7h0M364.8 73.1h0M351.9 89.5h0M358.7 90.9h0M354.0 98.8h0M366.2 85.5h0M345.2 110.3h0M350.0 88.9h0M359.9 69.5h0M354.1 95.6h0M365.8 97.0h0M365.0 89.3h0M350.0 98.3h0M362.6 95.3h0M355.2 81.0h0M363.7 94.0h0M356.8 88.5h0M359.9 98.1h0M362.1 91.8h0M356.0 91.6h0M365.7 80.8h0M354.6 83.4h0M355.7 94.8h0M353.3 115.5h0M372.9 92.8h0M364.6 88.1h0M353.6 101.3h0M342.6 107.8h0M357.9 106.0h0M352.3 79.9h0M348.0 100.1h0M357.1 98.0h0M351.6 87.5h0M371.3 86.3h0M363.2 96.1h0M353.6 92.2h0M351.7 96.2h0M357.3 74.6h0M354.3 79.4h0M359.3 95.0h0M354.4 107.1h0M355.6 100.9h0M361.3 88.5h0M350.9 97.7h0M363.3 85.9h0M350.7 85.5h0M358.6 90.3h0M368.4 91.2h0M366.8 92.2h0M350.8 99.2h0M353.9 94.8h0M374.9 77.2h0M361.7 108.7h0M346.8 92.9h0M359.7 82.2h0M357.8 95.0h0M360.3 103.5h0M346.6 102.3h0M363.2 89.9h0M360.2 82.9h0M376.0 86.7h0M359.9 93.6h0M361.2 83.2h0M350.7 101.1h0M363.9 94.4h0M357.9 100.8h0M352.0 88.3h0M361.9 86.8h0M354.7 79.6h0M348.6 99.6h0M355.8 77.9h0M347.7 93.4h0M348.8 100.1h0M351.0 91.6h0M353.5 107.4h0M361.7 95.1h0M357.2 89.6h0M350.1 91.5h0M364.1 90.4h0M344.6 90.0h0M346.6 87.4h0M354.7 107.8h0M361.1 94.3h0M358.8 103.2h0M354.0 96.3h0M349.8 90.1h0M355.3 89.7h0M352.9 109.1h0M345.9 104.6h0M352.0 93.6h0M351.7 84.7h0M352.4 86.4h0M366.0 87.3h0M365.7 82.6h0M353.1 85.2h0M351.2 90.0h0M349.5 100.5h0M356.0 102.9h0M348.6 93.7h0M357.5 90.0h0M346.4 84.8h0M350.3 89.3h0M358.9 95.4h0M365.1 89.8h0M351.8 87.7h0M354.3 88.0h0M363.1 92.4h0M352.6 96.6h0M349.6 100.5h0M362.4 90.0h0M360.2 89.7h0M362.4 98.0h0M359.8 98.8h0M364.0 71.6h0M353.2 99.3h0M355.9 94.6h0M350.9 86.7h0M346.6 100.4h0M363.2 94.6h0M356.6 72.4h0M367.0 87.4h0M361.7 88.1h0M359.2 87.2h0M360.8 93.4h0M364.3 85.7h0M363.3 97.7h0M353.1 95.5h0M356.5 91.3h0M360.0 84.1h0M369.2 95.3h0M365.6 89.5h0M343.0 108.3h0M360.8 81.3h0M363.3 71.3h0M363.4 81.0h0M357.0 96.3h0M365.8 106.8h0M348.4 85.3h0M358.5 104.6h0M363.0 87.7h0M351.0 95.6h0M360.8 83.9h0M360.7 79.4h0M348.3 111.1h0M364.2 93.1h0M345.7 94.8h0M358.2 109.2h0M359.5 100.1h0M362.0 73.9h0M367.8 92.8h0M373.7 83.7h0M357.6 85.3h0M373.8 86.0h0M370.1 99.1h0M355.6 104.8h0M354.2 82.0h0M371.9 90.5h0M368.5 68.4h0M342.7 115.3h0M356.9 96.1h0M359.7 79.1h0M357.5 111.8h0M361.5 98.9h0M378.5 73.2h0M369.8 79.1h0M346.4 100.7h0M364.6 76.2h0M370.5 82.8h0M359.0 82.9h0M377.4 98.0h0M357.0 89.7h0M348.0 101.3h0M362.4 103.5h0M367.0 87.6h0M358.0 91.6h0M366.6 71.1h0M358.4 98.8h0M349.1 124.2h0M360.8 100.0h0M356.8 89.0h0M362.7 90.5h0M363.7 95.6h0M357.9 105.7h0M348.3 66.9h0M347.1 97.8h0M356.0 82.3h0M354.0 95.8h0M351.5 107.9h0M372.3 80.3h0M347.1 124.2h0M351.4 102.7h0M360.1 88.4h0M367.8 103.8h0M357.4 82.4h0M358.9 95.6h0M365.8 104.2h0M372.6 69.5h0M341.5 88.4h0M359.1 96.5h0M348.2 104.4h0M352.1 101.5h0M368.7 89.6h0M364.0 88.4h0M355.5 92.3h0M359.6 104.6h0M364.5 86.9h0M348.1 113.4h0M357.5 98.3h0M357.7 97.1h0M350.0 101.8h0M355.0 89.8h0M353.6 101.0h0M345.8 99.1h0M359.1 67.7h0M371.0 89.3h0M362.8 78.4h0M357.5 92.5h0M362.1 81.5h0M362.2 84.2h0M364.7 79.2h0M371.9 65.9h0M350.4 92.8h0M365.6 93.5h0M352.2 91.2h0M350.1 125.7h0M335.5 102.3h0M350.0 89.0h0M289.2 140.6h0M307.1 132.0h0M314.3 131.0h0M296.3 136.6h0M311.1 138.0h0M295.6 139.1h0M293.7 135.5h0M298.5 140.3h0M297.1 141.0h0M318.7 132.9h0M294.9 138.7h0M301.5 139.5h0M303.9 140.6h0M310.2 136.5h0M319.3 133.9h0M307.6 136.9h0M315.3 133.8h0M291.5 137.7h0M309.3 137.0h0M292.8 139.0h0M315.7 133.9h0M307.5 139.0h0M291.6 140.7h0M315.7 135.9h0M304.0 134.7h0M303.6 139.3h0M289.8 138.5h0M316.6 132.6h0M303.9 136.2h0M316.4 136.3h0M289.5 141.2h0M309.3 135.1h0M299.2 136.5h0M305.1 137.8h0M307.7 136.1h0M315.4 137.5h0M316.8 131.5h0M292.4 135.5h0M315.4 134.0h0M291.0 139.7h0M287.4 139.7h0M297.3 141.1h0M297.0 144.2h0M312.5 134.9h0M305.5 136.5h0M299.3 135.0h0M313.5 135.6h0M318.4 134.8h0M308.3 136.3h0M309.5 138.8h0M315.6 134.5h0M297.2 142.9h0M320.0 133.3h0M292.8 137.2h0M288.6 138.4h0M313.4 132.4h0M292.7 135.7h0M298.5 139.8h0M304.7 139.7h0M290.6 143.6h0M301.3 138.5h0M298.9 138.6h0M290.0 137.5h0M307.8 139.0h0M302.4 139.2h0M292.3 138.3h0M313.6 136.4h0M301.1 139.9h0M288.0 136.4h0M316.6 135.3h0M300.9 139.0h0M290.2 138.9h0M296.7 138.4h0M295.9 143.5h0M288.4 142.3h0M299.1 143.3h0M292.6 137.0h0M294.1 138.0h0M310.0 138.1h0M292.2 137.0h0M287.8 138.3h0M292.8 135.5h0M297.3 143.6h0M292.8 142.1h0M307.3 138.1h0M316.3 134.5h0M314.3 134.1h0M302.7 137.4h0M313.5 136.3h0M312.9 134.0h0M308.9 139.1h0M313.4 134.3h0M299.4 137.0h0M312.6 138.0h0M304.5 137.6h0M311.9 136.8h0M311.4 135.1h0M289.4 135.4h0M315.0 135.6h0M288.3 137.2h0M301.9 140.9h0M305.9 134.3h0M313.3 131.8h0M288.9 140.1h0M309.7 137.2h0M298.7 139.4h0M288.5 137.4h0M298.7 141.2h0M307.6 134.0h0M289.9 138.7h0M314.7 133.3h0M288.5 138.9h0M295.3 141.5h0M297.9 137.9h0M289.1 140.6h0M318.0 134.7h0M318.0 130.7h0M316.3 132.1h0M293.7 138.7h0M314.3 133.8h0M298.6 139.9h0M296.5 134.9h0M310.4 137.6h0M289.8 141.1h0M287.2 139.2h0M317.0 131.5h0M299.0 139.1h0M313.1 134.3h0M301.6 139.8h0M290.2 139.5h0M303.3 139.7h0M292.7 138.7h0M289.6 142.4h0M287.8 135.7h0M300.1 136.6h0M295.9 140.6h0M297.7 135.9h0M319.2 134.3h0M313.8 132.8h0M310.6 136.3h0M295.1 137.3h0M311.7 134.9h0M310.4 136.5h0M304.7 137.6h0M295.0 138.6h0M294.4 144.7h0M301.2 138.6h0M296.2 137.2h0M316.8 135.6h0M303.1 140.0h0M310.3 138.6h0M317.7 136.7h0M307.3 135.2h0M292.6 142.0h0M298.0 141.9h0M317.5 133.7h0M288.5 140.0h0M294.1 132.4h0M307.4 135.9h0M316.4 137.3h0M313.2 132.0h0M311.1 134.9h0M310.6 136.7h0M299.9 140.2h0M289.0 142.6h0M307.3 133.5h0M289.5 139.7h0M314.1 136.6h0M291.6 136.9h0M287.8 139.5h0M320.9 135.5h0M292.9 142.6h0M306.9 138.4h0M289.3 134.8h0M319.3 132.8h0M287.5 140.2h0M309.8 135.7h0M315.0 134.5h0M297.5 146.5h0M287.3 139.2h0M288.3 137.9h0M289.1 140.0h0M312.0 135.1h0M304.7 137.2h0M316.6 133.9h0M308.6 138.3h0M307.1 137.7h0M293.7 136.7h0M294.6 139.2h0M319.6 133.7h0M318.2 132.7h0M302.3 140.9h0M313.9 136.5h0M310.5 134.2h0M296.5 140.1h0M294.1 144.3h0M312.8 138.4h0M318.8 133.2h0M319.9 134.3h0M298.8 137.6h0M289.3 136.9h0M297.9 140.6h0M289.4 140.1h0M319.9 133.7h0M297.4 139.3h0M315.3 135.1h0M295.3 138.3h0M319.0 134.0h0M303.9 139.8h0M314.7 134.6h0M307.6 138.7h0M311.4 132.5h0M289.5 138.1h0M289.9 142.4h0M299.9 142.9h0M316.2 134.6h0M317.0 133.7h0M310.0 133.8h0M307.3 137.9h0M288.6 141.0h0M316.9 131.4h0M309.4 137.6h0M307.9 137.9h0M315.2 135.3h0M294.8 136.8h0M308.1 138.0h0M309.0 133.6h0M313.1 138.2h0M290.2 139.9h0M310.7 133.9h0M317.6 136.0h0M308.7 139.1h0M292.7 138.2h0M318.6 137.1h0M290.5 137.6h0M294.9 140.3h0M316.0 136.4h0M305.4 132.9h0M298.9 141.4h0M313.7 135.0h0M308.7 136.7h0M291.1 137.4h0M294.9 140.3h0M313.3 133.2h0M313.4 133.4h0M289.6 138.8h0M304.0 135.4h0M311.6 138.9h0M297.4 136.3h0M289.2 138.2h0M300.9 138.0h0M317.9 133.6h0M311.8 137.3h0M294.4 141.5h0M314.9 134.1h0M309.1 135.8h0M296.9 139.5h0M296.2 141.3h0M293.1 141.2h0M300.4 137.6h0M298.2 134.5h0M297.0 144.3h0M316.5 135.7h0M312.5 136.0h0M303.8 138.8h0M318.5 132.5h0M309.0 134.6h0M318.3 132.9h0M314.3 134.5h0M307.9 135.7h0M309.4 133.6h0M312.6 134.9h0M312.6 136.6h0M315.7 133.5h0M298.5 139.2h0M298.3 134.5h0M295.4 139.0h0M317.4 133.5h0M316.2 132.0h0M301.1 134.8h0M300.8 139.6h0M291.6 138.0h0M319.5 133.8h0M309.2 135.7h0M319.2 134.1h0M308.0 136.2h0M303.7 134.9h0M311.9 135.6h0M316.2 133.6h0M315.4 135.6h0M298.5 138.2h0M303.9 137.2h0M318.7 134.7h0M304.6 140.4h0M314.1 136.3h0M305.1 140.0h0M314.9 135.5h0M289.3 141.0h0M287.0 140.9h0M290.0 140.4h0M301.7 138.6h0M299.5 139.3h0M320.0 136.8h0M319.9 132.9h0M291.6 139.2h0M314.5 134.1h0M304.1 137.9h0M315.1 135.0h0M299.0 136.5h0M311.5 132.1h0M287.1 140.0h0M302.1 134.9h0M298.4 139.8h0M295.6 139.8h0M297.4 142.0h0M301.9 142.2h0M303.9 138.8h0M304.4 136.7h0M310.9 133.8h0M314.0 133.5h0M318.8 133.3h0M308.2 132.7h0M295.7 139.6h0M306.4 137.3h0M302.1 139.8h0M294.9 138.7h0M298.3 139.5h0M294.7 137.8h0M304.9 136.8h0M289.4 136.3h0M305.4 138.0h0M301.6 142.0h0M287.2 139.8h0M296.4 140.3h0M318.6 131.7h0M307.3 140.1h0M289.3 138.2h0M306.9 138.9h0M310.6 136.3h0M291.7 137.6h0M301.1 140.9h0M294.3 139.6h0M305.4 138.1h0M314.6 135.6h0M295.1 139.4h0M291.8 138.9h0M291.7 140.7h0M307.4 136.3h0M289.4 139.7h0M304.4 136.5h0M313.0 132.6h0M312.1 134.4h0M309.1 135.6h0M287.4 139.5h0M302.1 141.0h0M295.0 135.5h0M304.4 138.2h0M291.8 134.8h0M291.7 137.4h0M318.2 132.6h0M314.9 130.7h0M290.5 135.9h0M314.6 135.0h0M289.2 139.7h0M298.4 138.9h0M319.4 131.7h0M319.3 136.7h0M302.7 137.9h0M310.0 134.6h0M300.7 142.5h0M315.5 135.5h0M297.7 138.5h0M294.2 142.4h0M291.9 140.0h0M308.5 138.1h0M305.9 138.0h0M316.3 132.4h0M291.9 141.8h0M313.8 135.3h0M317.7 132.0h0M311.5 134.4h0M290.8 141.6h0M292.2 138.9h0M290.0 139.7h0M298.6 140.7h0M312.4 135.8h0M292.1 136.4h0M302.4 139.8h0M288.4 141.2h0M310.1 138.0h0M290.2 142.9h0M313.6 135.8h0M308.0 138.5h0M293.7 143.3h0M310.2 135.7h0M299.7 142.9h0M305.4 141.4h0M306.2 139.1h0M296.5 143.7h0M301.5 140.5h0M331.8 119.4h0M313.3 133.9h0M315.5 131.2h0M335.7 119.1h0M320.3 131.4h0M319.6 134.3h0M343.8 114.3h0M327.3 127.3h0M327.2 127.6h0M329.9 125.0h0M304.1 138.6h0M322.7 134.5h0M329.6 113.1h0M330.9 123.0h0M340.6 115.3h0M318.1 135.5h0M322.4 126.7h0M313.7 135.7h0M311.6 137.8h0M306.2 136.8h0M310.3 131.8h0M309.7 135.7h0M321.0 127.2h0M322.1 132.2h0M333.3 117.7h0M340.8 122.9h0M327.1 127.3h0M329.9 121.3h0M323.2 128.1h0M315.5 130.8h0M326.0 129.0h0M333.4 127.8h0M341.1 111.4h0M339.8 119.5h0M304.7 136.3h0M331.4 124.6h0M308.0 141.9h0M327.4 121.0h0M341.8 119.0h0M335.6 125.0h0M306.6 133.5h0M320.1 127.0h0M310.8 133.8h0M333.6 125.6h0M332.8 120.5h0M334.2 120.2h0M319.7 133.6h0M329.4 125.5h0M312.4 136.1h0M340.0 112.2h0M344.6 115.4h0M303.0 137.3h0M330.9 130.1h0M333.3 120.5h0M312.3 133.5h0M304.0 139.7h0M302.4 139.9h0M329.4 116.6h0M302.8 139.3h0M318.5 128.2h0M334.4 116.3h0M305.1 139.7h0M331.7 119.5h0M322.7 131.0h0M319.9 130.3h0M327.9 133.0h0M318.5 131.9h0M335.4 112.9h0M329.8 120.1h0M319.1 129.2h0M308.0 137.3h0M325.4 128.1h0M346.2 112.7h0M340.2 114.9h0M305.4 138.2h0M319.2 132.7h0M323.8 128.9h0M321.4 131.5h0M308.0 138.7h0M311.6 137.6h0M325.6 125.9h0M330.4 116.6h0M332.2 119.3h0M332.7 123.5h0M327.2 116.5h0M302.2 138.1h0M313.1 136.2h0M317.3 131.2h0M313.1 132.1h0M322.4 135.2h0M322.5 134.1h0M317.8 131.8h0M303.3 141.2h0M342.5 118.5h0M338.4 109.1h0M335.0 131.0h0M314.0 132.1h0M322.7 129.1h0M337.1 111.0h0M329.3 125.3h0M330.4 118.6h0M333.2 121.9h0M345.9 113.6h0M331.8 123.8h0M307.1 136.8h0M328.1 131.5h0M338.0 111.1h0M309.0 138.8h0M304.3 137.7h0M304.6 138.6h0M305.4 138.0h0M310.0 136.6h0M335.6 119.1h0M327.7 123.2h0M332.9 119.5h0M328.2 127.4h0M318.6 131.8h0M333.1 116.0h0M309.7 134.8h0M318.1 130.3h0M321.4 130.4h0M332.8 122.9h0M335.6 119.8h0M326.6 124.6h0M329.5 124.8h0M313.9 130.9h0M323.4 118.4h0M337.9 116.2h0M320.4 126.0h0M332.5 117.9h0M323.4 125.3h0M326.8 129.2h0M327.2 121.9h0M309.0 137.2h0M311.9 134.4h0M309.6 133.6h0M323.7 123.5h0M332.8 123.9h0M334.2 122.6h0M312.9 137.0h0M319.9 136.4h0M309.3 137.1h0M331.9 124.0h0M321.5 130.0h0M315.1 134.1h0M312.5 134.4h0M338.7 109.9h0M327.8 133.1h0M337.0 105.7h0M317.5 133.3h0M312.9 136.2h0M334.1 121.7h0M337.4 111.2h0M309.8 135.9h0M337.2 114.4h0M326.6 122.8h0M339.8 113.7h0M340.1 111.2h0M321.2 128.9h0M343.2 114.0h0M310.0 133.8h0M323.3 130.8h0M321.9 128.3h0M314.2 135.4h0M324.6 128.8h0M335.6 120.3h0M306.6 135.3h0M323.0 127.1h0M324.6 125.4h0M311.6 136.0h0M332.2 125.4h0M315.3 136.6h0M327.0 124.7h0M328.1 126.0h0M330.6 116.5h0M334.3 107.2h0M338.0 110.8h0M324.0 126.6h0M312.8 130.9h0M311.7 131.0h0M337.5 119.6h0M333.1 117.8h0M331.7 114.4h0M344.0 121.9h0M328.0 126.4h0M338.7 113.3h0M332.7 124.7h0M328.8 122.0h0M342.1 120.0h0M328.1 119.4h0M331.9 116.3h0M340.3 112.4h0M319.5 129.1h0M338.6 122.9h0M314.3 129.8h0M323.2 126.9h0M339.5 115.5h0M343.8 112.4h0M344.2 114.5h0M336.0 120.3h0M344.2 121.0h0M337.8 113.4h0M329.8 125.0h0M314.6 136.3h0M302.6 138.1h0M334.4 118.8h0M333.9 118.4h0M332.5 119.2h0M326.1 122.9h0M330.2 121.6h0M330.5 117.0h0M327.0 127.9h0M328.2 119.0h0M315.0 139.1h0M329.4 130.8h0M332.3 126.6h0M327.4 125.4h0M313.6 133.0h0M308.9 139.1h0M331.5 123.5h0M307.8 138.1h0M334.3 116.5h0M311.5 138.0h0M333.3 117.2h0M318.8 132.0h0M334.6 109.7h0M312.1 133.7h0M309.9 137.2h0M331.1 121.3h0M334.3 117.9h0M319.3 133.6h0M323.8 128.7h0M333.9 125.9h0M313.2 128.2h0M320.9 132.2h0M328.6 127.1h0M314.5 129.8h0M308.1 133.9h0M342.4 115.6h0M307.2 134.8h0M340.5 108.8h0M339.5 117.4h0M322.3 128.7h0M339.7 116.5h0M304.5 136.2h0M328.0 126.7h0M319.8 134.2h0M316.6 133.8h0M333.1 108.9h0M304.2 139.4h0M338.5 115.5h0M305.2 135.9h0M334.9 125.8h0M313.5 129.8h0M329.4 131.3h0M338.6 111.3h0M340.5 121.4h0M306.7 137.1h0M314.9 130.2h0M324.7 128.6h0M334.3 121.9h0M302.6 139.7h0M341.4 117.7h0M335.2 114.1h0M342.9 112.8h0M312.3 137.0h0M312.0 134.7h0M334.8 114.4h0M323.9 125.4h0M314.5 136.0h0M303.3 140.0h0M311.5 133.5h0M329.3 119.0h0M337.4 123.1h0M316.7 128.4h0M340.6 113.5h0M324.0 125.9h0M322.6 123.6h0M320.6 131.1h0M320.6 130.1h0M320.5 134.8h0M343.4 122.0h0M322.2 129.2h0M314.2 136.8h0M323.6 132.2h0M338.9 111.6h0M328.8 121.4h0M308.1 140.2h0M321.0 129.3h0M323.6 129.0h0M302.5 138.2h0M341.2 111.1h0M338.3 111.7h0M307.4 138.6h0M329.4 129.2h0M316.3 132.0h0M310.7 132.6h0M315.0 133.8h0M303.6 135.3h0M331.2 120.3h0M320.6 134.2h0M337.7 127.5h0M337.9 118.0h0M325.9 123.2h0M319.0 133.7h0M307.2 132.1h0M329.7 121.4h0M335.0 126.2h0M337.7 120.2h0M307.7 133.9h0M303.2 135.2h0M341.4 116.7h0M329.1 124.5h0M306.1 136.2h0M334.2 122.4h0M304.3 136.9h0M326.5 119.1h0M328.7 128.1h0M332.2 119.4h0M305.9 135.4h0M336.0 110.3h0M341.6 112.8h0M339.9 108.5h0M336.9 120.5h0M316.4 132.3h0M345.4 113.4h0M328.8 123.4h0M332.4 119.3h0M327.5 117.9h0M311.2 133.1h0M305.9 105.7h0M293.5 121.4h0M299.1 120.3h0M296.0 121.0h0M341.0 66.0h0M373.0 83.0h0" stroke="#b3167f" stroke-opacity="1" stroke-width="2.1" stroke-linecap="round"/>
<ellipse cx="335.34" cy="113.66" rx="79.17" ry="16.85" transform="rotate(-39.27 335.34 113.66)" fill="none" stroke="#b3167f" stroke-width="1.1"/>
<ellipse cx="297.74" cy="140.49" rx="11.46" ry="9.04" transform="rotate(-16.39 297.74 140.49)" fill="none" stroke="#1ea2a6" stroke-width="1.1"/>
<path d="M573.9 122.5h0M566.6 121.6h0M532.5 115.2h0M563.7 115.4h0M550.4 116.5h0M572.8 121.6h0M572.7 117.6h0M559.5 118.6h0M573.9 120.1h0M536.6 116.8h0M579.3 120.9h0M589.1 120.4h0M584.7 119.8h0M579.1 120.5h0M553.4 118.1h0M586.8 121.1h0M563.3 119.1h0M541.1 118.1h0M562.3 116.2h0M581.5 122.3h0M570.6 119.8h0M580.3 122.2h0M530.2 114.0h0M589.1 121.0h0M586.2 122.1h0M559.6 118.1h0M586.1 120.4h0M539.4 115.5h0M550.7 118.3h0M539.1 112.8h0M570.0 119.8h0M585.7 120.0h0M586.6 119.3h0M533.1 114.2h0M576.4 117.6h0M562.8 122.1h0M541.6 117.1h0M584.5 122.9h0M561.3 117.6h0M531.0 112.2h0M551.4 118.5h0M570.9 117.0h0M581.5 120.9h0M540.6 114.7h0M565.2 119.0h0M533.3 115.0h0M585.4 120.4h0M528.0 116.3h0M589.2 120.7h0M563.7 117.1h0M575.2 122.1h0M570.2 117.6h0M559.6 119.3h0M555.6 116.3h0M541.2 114.6h0M545.4 119.4h0M534.1 113.8h0M545.0 115.6h0M569.1 119.0h0M562.6 118.8h0M563.3 122.2h0M561.3 117.0h0M587.5 118.8h0M581.5 121.4h0M545.0 113.8h0M563.0 118.7h0M589.1 121.2h0M544.7 116.8h0M572.1 119.3h0M568.8 118.7h0M570.1 118.4h0M563.0 118.3h0M574.5 120.5h0M551.0 120.3h0M587.1 121.3h0M563.6 118.4h0M549.4 116.2h0M567.9 121.2h0M571.1 116.7h0M585.8 119.8h0M568.0 119.3h0M560.9 117.1h0M550.4 115.9h0M554.5 119.2h0M546.4 113.9h0M567.1 118.1h0M582.1 119.6h0M565.1 119.8h0M541.1 113.5h0M529.9 115.5h0M583.2 120.0h0M546.5 116.6h0M571.3 119.5h0M587.5 119.4h0M587.1 119.1h0M562.5 121.5h0M585.5 120.5h0M553.2 118.1h0M587.3 121.3h0M570.6 118.8h0M532.8 115.5h0M579.1 120.4h0M538.4 113.9h0M590.9 120.6h0M531.6 111.7h0M575.5 121.5h0M537.8 113.8h0M561.8 120.0h0M550.8 120.4h0M583.1 121.2h0M545.3 115.7h0M573.2 120.1h0M587.2 119.8h0M532.4 112.4h0M572.9 118.1h0M533.2 114.5h0M576.9 121.2h0M582.0 117.9h0M536.7 115.1h0M583.7 121.1h0M555.4 118.8h0M547.6 115.3h0M588.9 121.1h0M552.4 115.8h0M540.9 117.2h0M548.1 120.3h0M584.8 117.7h0M590.0 120.2h0M556.4 119.3h0M558.9 119.3h0M565.6 118.2h0M580.8 120.0h0M529.0 111.4h0M578.0 120.5h0M589.3 120.6h0M553.6 117.0h0M555.5 116.8h0M588.3 119.6h0M553.4 118.2h0M551.5 118.0h0M582.1 120.3h0M557.6 118.9h0M568.8 117.5h0M546.8 111.9h0M570.6 121.2h0M550.5 120.4h0M577.3 117.8h0M558.9 117.7h0M585.9 120.6h0M562.1 121.0h0M581.9 121.4h0M555.3 120.9h0M570.0 119.9h0M544.5 117.4h0M564.7 120.3h0M569.7 119.2h0M539.5 118.0h0M562.0 120.4h0M586.1 121.4h0M540.7 115.2h0M558.4 120.8h0M580.7 118.8h0M554.5 119.2h0M530.7 109.8h0M561.1 117.2h0M556.8 120.1h0M586.4 119.7h0M569.6 120.3h0M576.9 117.4h0M550.5 120.6h0M584.5 121.1h0M580.1 120.3h0M533.6 115.2h0M569.4 120.6h0M585.1 122.0h0M568.8 120.3h0M589.1 118.6h0M544.4 116.1h0M564.6 121.9h0M561.3 120.2h0M546.6 116.2h0M577.1 121.3h0M554.9 118.7h0M568.7 121.0h0M577.3 117.5h0M573.7 118.5h0M534.1 115.7h0M531.5 113.7h0M579.6 120.9h0M568.4 123.5h0M537.4 114.7h0M536.0 115.4h0M559.2 117.9h0M539.3 114.5h0M586.6 120.1h0M542.5 113.5h0M587.3 117.8h0M572.9 122.6h0M562.9 119.1h0M570.0 122.1h0M571.4 120.3h0M545.8 117.1h0M558.4 120.1h0M531.9 115.3h0M531.4 112.1h0M587.5 121.5h0M581.6 119.0h0M575.3 120.6h0M533.6 118.9h0M567.1 119.9h0M572.8 123.2h0M555.0 117.9h0M551.4 119.0h0M573.6 120.2h0M528.5 114.1h0M557.6 117.2h0M544.3 114.9h0M555.7 119.2h0M562.9 116.4h0M554.6 116.8h0M583.2 121.3h0M583.4 119.5h0M575.8 118.6h0M578.0 118.4h0M559.3 119.2h0M545.1 116.0h0M579.3 120.6h0M535.4 114.5h0M564.9 123.0h0M567.8 119.0h0M535.5 111.5h0M540.7 116.2h0M570.2 120.0h0M582.0 120.7h0M553.0 115.1h0M561.1 121.2h0M572.5 120.0h0M564.5 119.4h0M557.2 115.8h0M568.0 120.7h0M572.6 120.0h0M578.3 122.5h0M563.2 118.6h0M569.7 117.7h0M540.2 116.1h0M538.4 113.8h0M578.9 121.0h0M542.3 114.2h0M555.3 118.3h0M583.7 120.1h0M537.2 115.2h0M570.6 119.1h0M543.8 115.0h0M567.3 119.6h0M579.4 119.4h0M579.6 120.6h0M576.9 119.8h0M560.8 114.9h0M562.1 119.1h0M538.2 118.0h0M535.2 115.3h0M575.0 121.3h0M531.1 114.7h0M586.7 119.6h0M540.1 113.4h0M573.2 121.6h0M555.8 120.5h0M566.3 120.7h0M575.5 121.0h0M546.4 117.7h0M579.9 120.3h0M575.5 120.7h0M564.4 119.5h0M563.9 120.0h0M552.3 116.3h0M589.0 119.4h0M552.0 119.0h0M543.2 115.7h0M563.4 114.9h0M586.0 120.4h0M586.1 117.6h0M563.9 122.9h0M552.3 119.4h0M574.9 121.4h0M563.2 118.1h0M579.8 118.6h0M580.4 120.1h0M572.1 120.1h0M589.2 119.3h0M568.7 120.2h0M589.4 120.7h0M568.8 121.0h0M542.0 114.2h0M567.8 115.8h0M576.3 120.2h0M554.7 117.2h0M538.3 116.3h0M549.5 120.6h0M577.0 123.1h0M540.9 116.5h0M528.4 115.1h0M583.5 122.6h0M589.2 120.1h0M582.7 120.8h0M578.3 121.7h0M573.8 120.1h0M562.6 118.4h0M569.0 118.6h0M574.9 120.2h0M548.7 116.3h0M540.6 117.4h0M571.6 119.5h0M565.6 122.3h0M590.5 121.0h0M554.3 116.1h0M553.5 120.3h0M535.8 114.3h0M528.5 115.5h0M536.5 116.0h0M565.1 119.5h0M588.7 120.7h0M535.3 113.9h0M537.9 116.0h0M570.8 120.8h0M546.9 116.8h0M530.7 114.5h0M583.8 119.1h0M537.1 116.2h0M555.5 116.4h0M575.4 121.4h0M577.0 121.1h0M588.2 120.8h0M565.2 118.6h0M536.2 120.4h0M533.1 114.1h0M568.3 120.2h0M561.7 117.9h0M543.1 119.1h0M538.5 114.7h0M549.6 119.4h0M546.3 115.3h0M550.1 118.3h0M550.1 117.0h0M575.2 121.9h0M556.9 118.2h0M581.4 119.3h0M559.3 119.8h0M546.5 114.9h0M586.1 119.2h0M568.7 121.4h0M581.1 117.8h0M542.3 117.7h0M589.3 119.7h0M568.0 118.2h0M551.3 118.4h0M543.5 117.7h0M534.4 113.8h0M530.1 113.6h0M540.0 117.4h0M547.1 118.6h0M561.2 119.1h0M553.1 116.9h0M531.1 112.6h0M537.2 114.3h0M529.0 114.6h0M530.4 114.8h0M546.5 117.6h0M567.8 122.4h0M537.7 114.9h0M583.6 119.9h0M590.2 119.7h0M566.2 123.2h0M531.7 111.0h0M539.2 116.3h0M559.9 119.9h0M586.9 120.3h0M590.0 122.2h0M574.2 122.4h0M584.1 121.4h0M534.4 113.3h0M559.7 120.0h0M558.0 118.3h0M541.5 116.3h0M563.3 119.8h0M563.4 118.6h0M589.2 120.7h0M531.7 116.8h0M546.3 119.0h0M538.6 116.0h0M542.5 112.9h0M547.5 119.3h0M550.7 119.8h0M588.3 120.0h0M548.7 116.6h0M558.1 120.2h0M538.6 114.3h0M541.5 117.7h0M541.9 114.3h0M563.8 117.9h0M546.8 117.2h0M545.8 114.4h0M560.8 119.3h0M528.9 114.4h0M582.2 118.8h0M530.9 115.5h0M553.9 117.5h0M590.3 120.5h0M538.4 116.0h0M530.9 113.4h0M558.5 118.1h0M567.8 116.9h0M552.1 116.9h0M542.0 114.9h0M571.3 123.2h0M564.8 121.5h0M550.1 115.3h0M566.5 121.3h0M580.8 120.9h0M560.3 118.5h0M552.1 119.0h0M566.5 121.3h0M559.7 118.1h0M534.2 114.3h0M584.9 120.6h0M536.1 113.5h0M574.6 120.7h0M555.1 118.6h0M577.3 119.3h0M560.9 117.8h0M579.6 121.0h0M557.2 120.5h0M543.3 117.2h0M576.5 118.9h0M580.0 121.6h0M559.4 119.4h0M586.5 121.0h0M572.4 122.3h0M586.7 119.3h0M540.2 115.8h0M587.4 119.6h0M576.3 118.9h0M587.5 122.4h0M549.5 119.4h0M563.1 116.4h0M584.3 121.0h0M570.2 119.2h0M545.7 119.1h0M546.0 117.2h0M587.6 120.0h0M570.1 120.5h0M531.2 114.7h0M544.1 116.8h0M562.9 119.1h0M539.9 115.7h0M557.0 119.8h0M570.1 118.2h0M533.2 114.6h0M543.9 116.5h0M583.4 119.9h0M530.3 115.1h0M535.4 112.9h0M579.6 120.0h0M570.5 118.7h0M557.4 119.9h0M582.0 120.0h0M541.0 116.3h0M528.2 114.1h0M579.2 118.0h0M567.9 120.8h0M549.3 116.3h0M564.3 119.2h0M533.1 114.4h0M547.3 118.8h0M563.5 120.9h0M581.0 123.1h0M547.7 117.7h0M531.9 113.6h0M533.6 113.9h0M546.9 118.4h0M567.0 122.8h0M572.3 120.9h0M571.6 119.2h0M583.1 120.9h0M570.8 120.7h0M570.1 120.3h0M565.4 118.4h0M570.3 115.7h0M573.9 119.4h0M589.5 121.1h0M539.1 116.2h0M568.7 116.1h0M535.7 115.1h0M541.4 112.9h0M586.5 122.5h0M553.2 118.7h0M563.7 117.4h0M540.9 117.6h0M560.1 117.8h0M529.4 114.6h0M564.4 119.7h0M588.0 119.0h0M571.1 121.4h0M570.0 117.8h0M562.5 121.8h0M548.0 117.5h0M576.7 118.7h0M552.8 115.0h0M548.5 120.4h0M562.0 122.0h0M589.3 118.9h0M574.0 123.3h0M570.3 120.5h0M536.0 114.8h0M578.8 120.4h0M554.5 118.1h0M567.2 122.5h0M563.1 119.8h0M577.5 117.4h0M529.4 116.9h0M533.8 116.1h0M545.9 115.1h0M540.7 115.5h0M570.8 118.6h0M535.3 115.1h0M533.6 115.3h0M561.1 119.7h0M532.3 113.5h0M578.0 119.2h0M548.3 119.0h0M546.9 117.1h0M565.0 123.7h0M589.4 119.4h0M545.4 118.4h0M542.1 116.5h0M551.2 116.7h0M576.9 122.7h0M586.8 120.4h0M537.9 114.0h0M530.0 113.4h0M546.8 119.1h0M548.4 115.3h0M574.9 122.8h0M570.7 121.4h0M575.0 119.9h0M552.1 120.6h0M554.2 121.7h0M587.4 120.9h0M531.0 114.4h0M528.8 116.4h0M528.6 115.8h0M579.4 119.1h0M560.4 118.9h0M571.6 119.9h0M569.1 119.4h0M579.2 118.2h0M561.0 120.9h0M548.5 117.7h0M534.9 115.1h0M553.2 120.9h0M540.3 115.0h0M586.3 120.2h0M575.9 120.9h0M545.9 116.3h0M560.0 119.0h0M557.2 120.3h0M565.9 119.8h0M587.7 121.6h0M545.4 115.6h0M566.5 120.2h0M559.8 116.6h0M588.1 120.1h0M541.8 115.1h0M568.4 122.5h0M533.4 115.8h0M562.0 120.3h0M588.6 122.0h0M573.1 122.9h0M529.7 114.9h0M589.9 119.4h0M562.1 116.8h0M564.3 119.6h0M587.5 119.9h0M564.8 118.5h0M541.8 115.8h0M555.3 115.8h0M575.0 123.0h0M553.1 116.3h0M538.7 114.5h0M552.1 119.2h0M535.0 112.3h0M533.9 116.2h0M535.2 116.6h0M559.9 118.6h0M548.4 115.5h0M539.4 115.0h0M574.5 117.0h0M566.1 122.3h0M579.6 120.6h0M538.3 114.3h0M567.1 118.3h0M544.2 117.8h0M558.7 121.8h0M556.1 116.5h0M564.7 118.6h0M564.0 116.4h0M585.9 121.1h0M567.1 120.2h0M549.2 121.8h0M578.0 120.3h0M538.2 114.9h0M576.8 119.2h0M564.0 121.1h0M544.7 113.9h0M575.2 121.7h0M535.0 115.4h0M530.4 113.2h0M545.2 115.3h0M559.4 121.0h0M567.2 123.3h0M547.8 116.6h0M564.2 120.6h0M589.9 121.7h0M590.9 119.5h0M573.3 119.9h0M547.2 115.1h0M557.8 118.7h0M578.8 120.4h0M583.8 119.9h0M587.9 119.4h0M552.7 115.4h0M549.5 115.3h0M549.3 115.9h0M577.3 121.5h0M588.3 119.7h0M563.4 118.0h0M555.6 119.9h0M569.7 121.2h0M554.6 117.2h0M563.8 118.4h0M539.5 117.1h0M534.1 115.4h0M553.6 116.9h0M544.7 117.3h0M537.5 115.4h0M588.8 121.2h0M571.8 118.7h0M552.0 119.8h0M590.5 120.4h0M535.0 113.3h0M549.4 119.6h0M583.7 121.7h0M588.9 118.8h0M577.7 123.7h0M540.0 113.9h0M563.7 117.9h0M532.5 113.9h0M531.7 115.5h0M582.4 121.4h0M528.2 113.4h0M533.6 116.9h0M534.5 115.5h0M572.6 122.8h0M566.9 125.0h0M541.4 116.6h0M554.4 113.8h0M587.9 119.7h0M541.5 114.3h0M532.2 114.5h0M568.5 120.2h0M535.1 112.9h0M563.1 117.4h0M544.0 116.2h0M530.1 113.6h0M569.8 115.4h0M575.2 122.1h0M547.6 117.4h0M537.9 115.5h0M589.5 120.4h0M543.6 114.7h0M543.4 116.5h0M550.5 119.8h0M542.6 118.5h0M543.2 117.4h0M586.2 120.0h0M533.4 113.3h0M580.4 122.5h0M561.4 120.3h0M530.3 113.3h0M538.2 111.8h0M569.3 118.5h0M563.4 116.0h0M542.7 118.8h0M546.1 117.5h0M586.3 119.4h0M574.3 119.8h0M569.1 124.9h0M586.3 121.7h0M542.9 114.0h0M548.6 117.3h0M580.8 118.7h0M555.8 115.6h0M555.9 119.1h0M578.8 124.4h0M591.1 121.4h0M583.9 120.5h0M576.5 119.7h0M555.9 119.2h0M572.3 122.2h0M542.5 113.7h0M544.4 113.3h0M540.1 119.6h0M570.8 120.7h0M587.8 122.0h0M575.5 120.8h0M544.1 119.5h0M569.5 119.0h0M549.7 118.7h0M579.8 123.0h0M558.2 120.9h0M543.7 115.8h0M545.8 118.8h0M533.5 113.5h0M551.0 115.3h0M549.0 118.6h0M556.4 121.5h0M569.1 121.7h0M586.4 118.8h0M579.4 121.9h0M563.8 120.9h0M550.7 117.1h0M539.5 111.3h0M564.9 121.6h0M531.7 115.7h0M531.2 115.0h0M568.6 116.8h0M538.8 113.0h0M581.3 122.1h0M570.0 121.7h0M560.7 120.2h0M586.9 120.0h0M536.1 115.9h0M547.5 116.3h0M559.8 118.6h0M588.7 119.3h0M532.8 114.9h0M565.8 119.0h0M586.0 121.5h0M536.8 116.6h0M572.3 118.7h0M571.2 123.7h0M550.9 115.8h0M561.4 120.2h0M587.0 121.5h0M557.0 121.3h0M556.9 114.7h0M563.2 121.4h0M529.6 115.8h0M578.8 122.9h0M531.9 110.7h0M589.6 119.4h0M620.5 91.4h0M617.2 85.6h0M622.9 100.8h0M615.9 83.8h0M622.9 95.2h0M621.0 94.7h0M618.5 88.6h0M623.5 100.7h0M615.6 83.0h0M618.9 86.8h0M619.2 88.2h0M622.0 93.9h0M620.6 93.3h0M622.6 95.2h0M622.8 98.4h0M617.0 82.0h0M621.0 92.4h0M619.9 89.3h0M622.0 94.9h0M620.5 91.9h0M619.3 88.4h0M616.2 82.0h0M620.4 87.0h0M619.2 90.6h0M619.6 88.0h0M609.3 89.1h0M605.2 106.6h0M618.0 102.4h0M604.7 107.8h0M614.5 101.3h0M619.2 111.0h0M622.5 103.6h0M619.3 107.3h0M615.3 113.4h0M602.6 102.8h0M620.0 110.1h0M619.3 103.3h0M616.9 105.9h0M616.6 96.5h0M611.6 108.2h0M607.4 112.2h0M618.6 100.5h0M619.9 108.3h0M603.8 105.1h0M617.4 91.4h0M612.8 104.4h0M617.2 113.0h0M613.0 97.0h0M618.8 85.4h0M618.2 103.1h0M617.3 95.6h0M601.5 118.1h0M616.8 100.9h0M611.4 101.3h0M603.2 95.7h0M616.0 103.5h0M601.6 96.3h0M617.3 93.3h0M622.9 100.8h0M607.6 94.1h0M617.5 113.0h0M614.3 91.0h0M615.7 100.7h0M604.4 113.6h0M601.7 119.0h0M613.7 111.6h0M599.0 113.7h0M612.9 117.9h0M601.6 120.9h0M607.5 110.8h0M615.0 114.3h0M599.0 110.9h0M601.8 110.6h0M612.3 111.6h0M607.8 110.7h0M605.0 106.4h0M607.0 105.3h0M603.4 110.3h0M608.0 70.5h0M613.0 76.4h0M608.5 81.0h0M602.6 89.5h0M628.0 112.0h0M627.0 109.0h0M616.0 83.0h0" stroke="#1ea2a6" stroke-opacity="1" stroke-width="2.1" stroke-linecap="round"/>
<path d="M527.4 98.0h0M540.7 131.1h0M539.9 139.0h0M528.8 123.2h0M523.8 103.9h0M541.4 145.4h0M540.1 143.2h0M531.7 121.3h0M524.6 104.8h0M541.4 148.5h0M542.1 144.1h0M542.9 147.7h0M539.0 147.9h0M524.1 116.0h0M539.4 134.9h0M539.9 124.2h0M531.2 122.1h0M533.8 122.5h0M538.5 138.4h0M542.9 158.5h0M534.7 126.4h0M536.1 118.9h0M542.8 134.0h0M538.1 135.6h0M536.5 121.4h0M537.6 136.9h0M541.7 136.3h0M541.2 142.4h0M532.4 106.9h0M539.3 136.8h0M534.9 122.7h0M541.5 151.1h0M534.4 136.2h0M542.0 146.4h0M543.7 145.9h0M524.7 112.4h0M526.3 102.9h0M539.1 144.0h0M525.4 101.7h0M541.3 155.7h0M536.7 140.2h0M532.2 123.9h0M536.9 138.8h0M530.1 105.3h0M539.7 135.7h0M543.8 153.1h0M525.4 98.0h0M543.9 154.3h0M530.8 116.9h0M533.3 121.8h0M544.8 154.1h0M545.3 144.5h0M531.0 121.8h0M543.6 157.1h0M527.8 99.4h0M537.4 138.0h0M534.6 128.8h0M542.8 151.2h0M529.2 98.1h0M534.9 116.3h0M536.5 126.2h0M523.7 103.4h0M540.4 136.0h0M543.0 148.5h0M545.6 151.6h0M529.5 106.3h0M534.7 128.6h0M548.4 156.0h0M532.7 100.4h0M537.8 140.8h0M531.0 115.2h0M544.6 152.1h0M535.1 135.2h0M541.1 152.4h0M530.6 99.7h0M537.9 134.1h0M531.0 124.1h0M529.1 104.0h0M534.4 122.3h0M537.9 143.2h0M537.7 132.6h0M540.3 132.6h0M532.7 114.2h0M538.9 127.4h0M532.9 125.2h0M546.9 151.5h0M540.6 151.3h0M538.3 122.8h0M535.3 128.2h0M535.0 114.3h0M537.5 131.7h0M525.8 106.6h0M542.3 156.6h0M530.4 123.9h0M525.9 98.5h0M531.1 115.9h0M543.7 155.0h0M530.0 117.1h0M534.1 120.8h0M542.6 157.1h0M540.3 145.3h0M529.7 120.6h0M527.6 108.3h0M531.5 122.0h0M534.7 119.7h0M544.0 151.4h0M539.4 129.2h0M544.3 153.3h0M545.1 157.1h0M540.8 150.7h0M536.7 121.3h0M525.0 124.1h0M536.6 130.7h0M535.8 139.7h0M539.9 149.6h0M547.8 145.1h0M532.3 116.5h0M536.4 143.3h0M539.1 118.5h0M539.0 145.1h0M527.4 98.3h0M543.3 148.5h0M538.8 140.0h0M532.8 105.4h0M529.9 113.2h0M533.3 116.1h0M537.5 128.1h0M541.8 152.7h0M538.1 158.2h0M536.6 134.4h0M526.5 104.9h0M544.7 156.7h0M545.7 155.2h0M526.7 103.4h0M534.9 139.1h0M538.2 138.1h0M536.4 138.3h0M540.4 141.2h0M521.3 99.7h0M535.8 115.1h0M530.7 118.7h0M537.0 137.3h0M526.8 103.9h0M533.8 113.6h0M531.8 107.6h0M526.9 100.7h0M534.6 126.4h0M532.6 109.2h0M537.7 126.0h0M528.1 110.8h0M538.7 146.2h0M529.0 104.3h0M542.5 143.6h0M540.4 136.8h0M522.7 109.4h0M531.7 121.1h0M533.2 120.8h0M532.0 126.1h0M533.2 140.3h0M523.8 99.5h0M532.2 106.8h0M539.6 139.8h0M528.2 103.3h0M543.0 148.3h0M535.9 119.2h0M527.0 99.9h0M543.5 143.1h0M529.5 113.0h0M545.0 157.9h0M546.5 152.4h0M546.6 149.9h0M544.0 150.6h0M525.7 102.8h0M525.2 99.9h0M533.6 122.0h0M542.2 120.4h0M534.9 122.1h0M539.2 133.1h0M541.9 144.7h0M544.2 144.3h0M544.6 153.5h0M540.6 138.0h0M536.9 152.4h0M525.9 103.9h0M526.4 99.4h0M534.6 125.0h0M543.2 150.8h0M532.7 121.2h0M528.6 104.3h0M528.1 105.5h0M527.4 112.6h0M540.7 150.3h0M531.4 118.4h0M539.5 150.4h0M543.6 154.6h0M543.3 143.6h0M547.2 152.3h0M532.3 112.7h0M529.5 109.6h0M529.3 112.8h0M524.0 99.7h0M544.9 153.5h0M531.7 109.7h0M536.1 136.4h0M528.1 116.0h0M537.4 129.9h0M533.3 124.4h0M536.4 142.3h0M528.7 110.3h0M531.4 115.2h0M533.1 104.7h0M528.6 118.6h0M540.5 148.4h0M544.2 155.9h0M526.7 98.6h0M545.1 147.7h0M540.3 141.9h0M527.3 102.7h0M526.1 108.5h0M545.3 149.0h0M525.7 110.8h0M543.3 152.5h0M533.2 131.3h0M546.5 156.5h0M534.6 128.5h0M525.3 106.7h0M537.3 134.4h0M538.1 123.4h0M527.6 102.0h0M540.4 147.4h0M546.2 151.0h0M547.1 155.0h0M537.7 136.8h0M539.5 132.1h0M527.6 110.2h0M546.6 155.1h0M544.7 140.5h0M540.7 137.4h0M535.6 140.8h0M544.2 147.8h0M532.3 118.5h0M527.2 104.9h0M546.6 156.9h0M524.2 100.5h0M530.4 114.4h0M534.1 127.8h0M529.5 99.4h0M536.1 115.1h0M548.8 148.3h0M538.4 135.3h0M537.7 132.8h0M524.6 99.5h0M530.2 124.8h0M528.5 105.1h0M533.9 121.0h0M532.1 121.7h0M530.0 124.7h0M533.8 116.2h0M539.5 145.3h0M535.3 125.5h0M544.1 152.2h0M530.2 119.3h0M530.2 106.0h0M535.2 118.4h0M541.2 150.7h0M532.7 119.5h0M542.4 147.0h0M539.6 139.4h0M529.3 113.9h0M530.2 109.2h0M526.1 105.3h0M533.4 125.3h0M535.6 140.8h0M528.1 116.7h0M542.6 155.7h0M526.2 98.7h0M540.8 145.1h0M530.3 107.7h0M540.1 159.4h0M527.9 103.7h0M542.5 153.6h0M530.0 123.2h0M534.6 114.0h0M527.9 99.9h0M530.8 110.8h0M535.6 120.1h0M546.4 153.3h0M545.4 155.7h0M524.4 103.6h0M534.8 132.3h0M526.1 100.0h0M527.5 104.2h0M541.9 133.5h0M534.2 130.1h0M542.3 152.2h0M545.5 151.5h0M528.2 107.7h0M538.6 135.8h0M542.8 145.9h0M543.3 143.4h0M538.4 131.4h0M538.0 127.9h0M535.7 132.6h0M532.7 123.1h0M535.9 132.1h0M543.4 151.3h0M533.4 118.5h0M529.1 126.1h0M538.9 122.7h0M539.9 150.8h0M529.4 113.0h0M534.0 124.4h0M541.7 142.6h0M533.8 121.3h0M545.1 148.4h0M539.6 129.1h0M527.7 103.8h0M536.9 118.6h0M526.4 107.4h0M531.4 125.3h0M541.4 116.9h0M536.1 117.0h0M541.3 147.9h0M542.7 151.9h0M540.2 143.4h0M539.7 144.2h0M541.5 152.0h0M541.8 153.6h0M524.5 109.9h0M543.1 151.8h0M526.6 108.3h0M535.0 112.9h0M541.5 145.3h0M531.2 105.7h0M541.8 156.6h0M539.2 155.3h0M524.6 98.3h0M541.4 135.0h0M543.9 153.4h0M536.1 130.4h0M535.6 130.4h0M534.4 134.1h0M534.1 131.9h0M543.6 130.6h0M535.6 139.9h0M545.2 155.1h0M528.3 102.6h0M526.5 113.2h0M526.1 98.2h0M529.6 101.1h0M532.9 109.0h0M543.1 152.1h0M529.4 117.7h0M533.7 135.3h0M532.1 116.6h0M545.6 157.0h0M525.2 110.9h0M534.4 121.3h0M529.1 121.4h0M529.1 111.0h0M526.5 102.6h0M533.8 121.2h0M528.7 110.3h0M526.8 99.1h0M544.4 150.6h0M532.6 118.5h0M526.9 98.3h0M536.9 135.2h0M534.7 126.7h0M539.8 139.1h0M533.1 119.4h0M528.8 106.2h0M533.8 137.8h0M533.4 121.9h0M544.1 150.1h0M532.7 117.3h0M528.2 111.9h0M529.7 109.0h0M530.9 113.2h0M530.8 112.1h0M535.4 129.4h0M531.8 120.6h0M543.7 156.4h0M533.7 108.9h0M546.0 153.7h0M538.8 115.9h0M533.0 127.6h0M542.2 156.2h0M537.8 145.8h0M543.8 154.9h0M533.3 131.2h0M531.8 117.0h0M539.2 138.3h0M542.9 137.8h0M527.8 100.0h0M528.9 104.0h0M542.3 155.3h0M535.7 142.6h0M542.9 147.0h0M528.3 109.6h0M544.1 156.6h0M533.4 115.4h0M532.2 105.1h0M534.5 118.9h0M536.1 117.9h0M527.3 101.3h0M542.5 148.6h0M543.0 150.0h0M529.8 109.7h0M535.2 131.4h0M544.7 149.5h0M530.7 121.4h0M539.8 127.1h0M530.1 112.7h0M533.8 126.4h0M533.7 116.1h0M545.6 146.2h0M527.1 108.0h0M527.4 99.6h0M541.6 152.5h0M527.0 108.9h0M536.4 130.9h0M539.6 140.5h0M529.4 118.4h0M543.0 153.9h0M534.5 117.5h0M528.9 109.9h0M525.7 102.3h0M542.8 152.1h0M529.3 111.1h0M543.5 151.7h0M534.8 125.2h0M545.7 153.4h0M530.2 102.2h0M539.8 150.0h0M545.8 156.4h0M539.1 140.8h0M531.6 104.9h0M544.7 157.9h0M543.4 145.4h0M522.0 113.0h0M546.4 155.6h0M529.2 102.5h0M525.9 106.5h0M523.8 99.5h0M542.5 131.7h0M532.8 122.4h0M525.4 103.7h0M538.3 126.5h0M541.4 151.3h0M528.4 103.2h0M540.6 135.4h0M529.7 107.8h0M536.8 128.2h0M535.8 117.4h0M525.3 116.4h0M526.6 98.5h0M538.8 132.0h0M532.1 125.3h0M539.4 139.3h0M525.8 110.1h0M545.2 156.9h0M525.3 99.4h0M529.1 109.8h0M537.8 136.6h0M528.6 105.9h0M530.9 113.5h0M531.2 129.5h0M542.2 142.7h0M543.8 149.4h0M532.6 116.7h0M537.1 137.9h0M525.3 99.6h0M541.0 152.0h0M542.1 137.1h0M542.7 152.3h0M530.1 110.5h0M536.0 127.5h0M539.9 142.7h0M529.6 98.4h0M541.5 148.6h0M539.2 140.5h0M544.7 144.1h0M528.9 107.7h0M537.1 145.8h0M537.7 131.6h0M527.1 107.4h0M528.6 105.7h0M544.2 148.8h0M535.7 121.1h0M531.9 114.0h0M529.5 121.2h0M537.1 139.7h0M529.8 105.7h0M526.3 108.5h0M538.7 136.8h0M544.6 151.2h0M537.8 138.6h0M545.8 154.1h0M535.0 113.6h0M529.2 120.3h0M537.4 118.8h0M531.2 119.9h0M534.6 112.8h0M541.3 145.5h0M531.6 114.8h0M534.8 122.6h0M540.3 124.5h0M545.2 157.7h0M532.1 117.7h0M541.4 138.7h0M532.1 117.6h0M538.9 146.7h0M535.0 120.6h0M525.5 99.4h0M538.7 128.4h0M531.2 118.6h0M529.1 114.4h0M525.0 117.6h0M524.0 98.6h0M538.9 142.1h0M532.9 132.0h0M540.6 135.3h0M534.1 133.0h0M534.4 120.4h0M536.1 125.0h0M532.2 127.4h0M543.0 153.2h0M529.0 120.0h0M531.9 106.0h0M526.6 103.2h0M533.5 117.8h0M537.5 132.1h0M541.7 131.3h0M537.6 142.4h0M538.0 137.7h0M529.2 102.3h0M536.5 120.2h0M535.0 119.5h0M524.7 105.7h0M537.4 133.2h0M541.7 144.1h0M525.4 100.9h0M535.9 129.8h0M527.3 105.3h0M539.1 145.1h0M535.7 131.7h0M525.1 102.5h0M538.6 127.9h0M530.0 112.5h0M530.4 110.1h0M538.4 138.1h0M533.6 122.2h0M544.9 153.3h0M544.2 152.7h0M540.2 149.8h0M534.9 122.1h0M545.8 151.5h0M525.7 102.7h0M538.5 145.3h0M533.2 119.3h0M542.2 150.0h0M527.6 99.3h0M537.3 132.3h0M524.7 102.9h0M529.2 116.3h0M536.3 132.0h0M528.8 106.1h0M543.2 138.3h0M534.8 129.0h0M528.7 111.8h0M533.5 131.1h0M529.3 126.4h0M525.5 100.2h0M537.2 141.3h0M542.3 139.9h0M540.9 153.3h0M542.3 155.0h0M529.4 121.3h0M536.5 137.1h0M536.4 134.8h0M523.7 102.0h0M541.4 140.8h0M529.2 114.9h0M531.1 124.4h0M539.6 134.6h0M538.2 127.3h0M529.8 115.2h0M542.4 150.4h0M526.0 104.0h0M535.8 134.7h0M530.9 108.5h0M542.9 153.7h0M541.6 154.8h0M540.4 140.5h0M543.4 150.8h0M543.3 143.0h0M536.4 137.9h0M535.5 144.4h0M546.1 151.8h0M555.0 87.9h0M556.7 87.5h0M539.6 89.2h0M541.8 93.4h0M533.9 92.6h0M537.0 88.0h0M548.1 90.6h0M553.8 84.6h0M547.5 95.2h0M556.2 84.2h0M548.6 102.3h0M532.5 88.2h0M563.2 90.8h0M560.0 82.0h0M537.9 85.5h0M566.9 89.8h0M551.7 88.6h0M547.8 83.2h0M568.6 78.7h0M518.4 88.8h0M527.4 89.7h0M554.5 93.1h0M543.4 99.0h0M535.2 85.8h0M563.9 71.6h0M552.0 87.2h0M531.3 72.9h0M538.5 77.6h0M556.2 97.2h0M567.2 93.2h0M522.9 83.0h0M549.2 83.1h0M541.8 87.7h0M525.9 73.6h0M544.4 92.5h0M527.6 85.5h0M540.0 104.0h0M565.3 79.5h0M552.3 96.9h0M555.5 82.7h0M553.4 97.1h0M550.5 80.2h0M557.7 94.7h0M532.7 84.7h0M542.2 81.5h0M556.4 87.2h0M537.9 92.5h0M541.3 91.9h0M560.5 101.8h0M564.4 95.4h0M539.3 68.5h0M536.9 85.1h0M553.3 71.6h0M549.6 85.2h0M538.5 93.8h0M553.4 77.2h0M552.9 78.5h0M547.4 89.7h0M573.6 86.0h0M562.4 101.9h0M556.0 91.2h0M558.4 93.0h0M573.6 103.3h0M559.3 84.2h0M538.1 88.5h0M550.2 80.1h0M547.3 90.7h0M539.8 97.3h0M549.5 100.1h0M549.4 88.2h0M545.8 82.5h0M540.8 82.0h0M556.2 76.7h0M527.8 89.5h0M556.2 100.0h0M546.6 68.5h0M549.7 70.1h0M518.6 100.4h0M566.2 74.9h0M526.2 91.3h0M536.4 77.8h0M554.1 95.1h0M539.4 95.2h0M541.7 90.0h0M520.3 95.5h0M541.4 89.0h0M549.0 93.3h0M554.5 104.0h0M543.1 97.9h0M549.1 83.0h0M551.7 81.7h0M538.6 86.5h0M537.7 86.6h0M569.5 89.2h0M536.5 83.4h0M561.0 94.1h0M547.4 88.9h0M563.8 91.6h0M539.0 88.6h0M552.6 93.8h0M550.4 78.4h0M543.9 102.0h0M550.2 91.5h0M537.5 92.4h0M545.6 93.8h0M541.8 97.8h0M555.5 94.8h0M545.5 90.6h0M530.2 87.1h0M542.2 74.6h0M545.4 90.4h0M535.9 86.0h0M562.2 86.0h0M551.3 107.5h0M556.5 72.8h0M537.6 89.1h0M541.9 98.9h0M558.4 96.8h0M529.7 99.2h0M550.9 77.9h0M547.6 80.5h0M540.7 93.9h0M547.6 86.1h0M533.9 103.2h0M549.2 90.6h0M532.2 90.3h0M531.5 92.4h0M563.0 86.4h0M538.3 89.7h0M521.6 82.9h0M558.0 88.4h0M537.4 84.6h0M518.4 90.9h0M545.9 76.7h0M557.5 76.0h0M550.7 92.6h0M566.8 90.6h0M545.1 80.5h0M553.6 86.8h0M534.7 79.8h0M548.5 106.1h0M564.6 75.4h0M552.5 103.3h0M548.5 81.7h0M523.2 92.3h0M542.1 86.5h0M531.4 85.5h0M555.7 96.7h0M537.8 95.7h0M550.8 86.3h0M534.7 81.0h0M568.8 106.4h0M532.7 100.7h0M548.2 89.9h0M573.6 86.2h0M549.1 91.2h0M536.3 89.4h0M553.8 98.9h0M558.3 80.5h0M556.8 88.9h0M523.3 82.1h0M549.1 99.9h0M521.4 104.1h0M569.0 88.0h0M547.4 93.3h0M541.1 100.7h0M554.5 86.2h0M552.3 80.8h0M532.6 97.6h0M565.8 93.1h0M543.7 87.0h0M525.8 101.2h0M563.1 90.8h0M564.7 73.6h0M561.4 91.7h0M553.1 88.3h0M536.0 104.8h0M557.7 88.6h0M568.6 87.0h0M556.2 92.5h0M565.6 90.9h0M537.4 76.8h0M558.7 89.8h0M557.7 86.0h0M528.9 100.7h0M527.3 107.5h0M538.1 79.3h0M547.6 80.6h0M552.0 81.6h0M543.9 83.2h0M526.2 92.2h0M528.4 104.2h0M531.5 93.8h0M524.4 104.6h0M523.7 100.8h0M522.8 91.0h0M531.6 93.2h0M532.3 104.8h0M523.7 100.5h0M523.4 94.7h0M528.7 96.5h0M531.6 96.5h0M531.3 91.6h0M528.9 94.5h0M530.3 92.2h0M529.3 93.3h0M526.6 97.8h0M534.0 90.7h0M528.3 99.1h0M524.9 96.0h0M526.9 99.3h0M523.7 99.9h0M528.3 101.7h0M531.6 98.6h0M524.5 99.0h0M531.7 94.6h0M534.0 98.3h0M529.4 91.0h0M524.8 94.2h0M525.7 99.2h0M527.3 95.2h0M524.4 97.7h0M524.5 90.2h0M527.5 102.3h0M527.7 92.6h0M530.1 97.5h0M524.7 95.4h0M533.9 100.1h0M531.5 93.6h0M531.0 90.5h0M609.4 137.6h0M589.1 114.6h0M571.9 95.8h0M577.4 99.9h0M603.4 127.3h0M573.1 97.8h0M606.5 132.7h0M579.3 100.6h0M604.4 136.3h0M560.4 83.8h0M599.3 122.6h0M579.5 100.9h0M566.5 87.2h0M588.1 110.1h0M559.3 74.2h0M563.4 86.9h0M600.5 128.7h0M583.0 106.9h0M573.3 94.1h0M561.1 82.5h0M561.4 84.1h0M567.9 86.3h0M580.2 102.1h0M555.0 73.5h0M563.9 87.1h0M577.5 100.7h0M605.1 128.9h0M603.3 128.5h0M604.2 135.5h0M567.5 86.1h0M560.0 81.2h0M602.4 127.3h0M591.6 119.5h0M567.4 88.7h0M578.8 100.2h0M607.2 131.8h0M600.1 125.6h0M605.4 134.6h0M580.7 105.5h0M566.1 83.6h0M582.1 109.5h0M559.9 79.9h0M561.4 79.1h0M558.1 79.0h0M568.6 88.3h0M563.4 82.7h0M568.9 88.6h0M593.1 117.8h0M592.4 115.8h0M557.1 72.3h0M601.5 129.2h0M600.7 125.5h0M605.4 135.5h0M564.9 87.7h0M594.2 120.8h0M585.0 109.0h0M592.0 120.0h0M605.0 131.3h0M559.2 76.9h0M600.8 127.8h0M605.6 125.8h0M590.7 114.2h0M576.1 98.9h0M584.9 107.3h0M559.3 83.7h0M594.9 121.9h0M584.7 108.6h0M586.8 109.5h0M592.4 120.0h0M559.9 78.6h0M556.4 75.5h0M558.8 81.6h0M556.7 78.9h0M596.4 127.0h0M561.0 81.2h0M577.7 94.7h0M590.0 116.1h0M566.2 91.1h0M605.3 132.0h0M603.3 133.9h0M573.3 100.1h0M587.8 110.0h0M598.7 123.3h0M610.5 135.5h0M592.2 118.3h0M578.1 102.7h0M554.6 76.6h0M591.6 113.0h0M592.0 114.6h0M594.8 116.1h0M575.6 93.1h0M604.0 127.4h0M589.3 109.3h0M575.5 97.0h0M566.6 89.1h0M553.8 75.8h0M594.0 118.9h0M572.4 92.3h0M601.9 128.3h0M571.0 94.3h0M571.3 92.1h0M597.9 123.7h0M575.6 96.9h0M609.8 136.5h0M585.7 109.4h0M607.9 132.7h0M558.5 82.2h0M558.1 73.8h0M553.1 74.5h0M604.8 128.4h0M578.6 105.4h0M594.1 121.3h0M584.5 105.8h0M608.7 135.4h0M600.9 124.2h0M580.9 103.7h0M562.9 85.1h0M571.8 100.6h0M577.7 96.3h0M572.3 97.5h0M594.9 118.5h0M600.6 127.4h0M599.5 127.6h0M563.7 86.3h0M562.2 84.3h0M591.9 116.0h0M595.2 120.3h0M597.8 123.8h0M603.2 132.8h0M574.7 92.6h0M557.7 76.7h0M576.3 95.0h0M573.3 92.4h0M560.6 79.0h0M590.7 118.0h0M579.7 108.3h0M587.2 114.7h0M604.2 128.1h0M586.2 110.1h0M605.2 129.4h0M599.1 126.1h0M581.8 108.4h0M588.0 113.5h0M579.1 104.2h0M575.8 97.5h0M597.6 118.1h0M590.3 109.4h0M574.7 96.4h0M589.9 115.7h0M582.3 108.9h0M560.0 79.7h0M595.7 121.2h0M581.5 105.1h0M604.7 134.3h0M604.5 131.2h0M561.2 78.8h0M567.0 91.4h0M592.6 118.4h0M564.1 86.3h0M601.9 125.0h0M591.8 116.4h0M609.3 133.0h0M576.3 92.8h0M592.9 117.1h0M588.4 111.2h0M591.5 117.6h0M605.4 136.0h0M573.6 95.4h0M563.9 90.1h0M599.9 124.4h0M560.7 83.7h0M586.6 107.0h0M605.8 133.2h0M601.9 127.5h0M593.1 117.4h0M552.9 74.7h0M611.1 134.8h0M579.1 102.1h0M571.1 90.5h0M556.7 77.5h0M560.8 82.8h0M556.2 75.4h0M585.9 108.6h0M576.9 95.9h0M569.4 92.5h0M600.8 125.2h0M557.0 78.7h0M579.6 98.3h0M597.4 126.4h0M601.9 125.6h0M592.3 120.0h0M584.0 106.1h0M561.5 83.9h0M576.3 98.1h0M594.1 120.8h0M597.8 123.5h0M586.6 113.7h0M603.6 132.0h0M584.7 110.1h0M599.5 129.6h0M605.6 131.0h0M560.9 85.5h0M561.4 82.4h0M611.1 135.7h0M569.6 92.5h0M579.4 101.5h0M575.3 102.1h0M602.2 127.4h0M553.7 73.9h0M581.1 104.7h0M582.4 100.3h0M558.0 80.0h0M580.3 100.4h0M601.3 131.1h0M553.5 78.6h0M567.6 89.0h0M590.2 110.3h0M584.2 108.1h0M596.4 122.3h0M572.0 95.7h0M560.6 80.5h0M576.2 95.1h0M600.8 126.6h0M579.6 99.8h0M573.7 100.5h0M598.8 122.8h0M587.7 109.9h0M561.0 81.7h0M577.0 95.7h0M605.5 131.5h0M554.9 74.7h0M597.4 121.7h0M571.4 92.3h0M594.4 122.7h0M561.9 84.1h0M592.6 113.8h0M602.8 128.3h0M555.7 78.2h0M608.4 134.5h0M559.1 79.9h0M553.8 73.8h0M599.5 126.8h0M583.0 105.7h0M555.3 75.0h0M591.9 114.3h0M582.0 106.0h0M610.8 136.7h0M606.6 138.1h0M603.3 129.9h0M583.6 106.3h0M599.0 126.8h0M595.4 120.5h0M568.8 90.5h0M596.0 121.2h0M571.3 90.9h0M578.8 98.7h0M558.7 77.2h0M559.3 83.3h0M582.9 104.4h0M601.5 126.8h0M599.1 123.9h0M561.1 84.0h0M581.7 110.1h0M572.2 91.4h0M564.1 86.8h0M574.2 96.5h0M592.5 116.5h0M605.3 133.5h0M560.5 77.5h0M568.9 92.8h0M595.7 121.6h0M583.2 103.8h0M573.4 99.7h0M597.9 125.7h0M552.3 75.8h0M608.8 133.0h0M569.3 90.0h0M602.2 127.3h0M600.1 127.7h0M599.3 128.6h0M591.2 110.7h0M590.4 114.8h0M556.0 75.9h0M576.5 101.5h0M589.1 113.2h0M570.7 88.8h0M592.5 116.7h0M586.3 107.3h0M592.5 115.2h0M602.0 128.5h0M573.2 93.7h0M588.7 113.5h0M558.1 74.1h0M595.9 127.0h0M598.2 127.1h0M591.7 118.2h0M594.5 116.2h0M588.3 106.5h0M573.2 92.6h0M599.0 124.3h0M557.4 84.4h0M584.9 111.9h0M560.0 79.2h0M594.3 122.5h0M580.4 106.6h0M589.5 113.8h0M561.1 85.5h0M576.8 100.0h0M591.9 114.8h0M580.3 99.8h0M594.8 119.6h0M556.5 79.8h0M575.8 94.1h0M561.7 77.8h0M594.8 121.3h0M579.8 94.9h0M593.7 123.3h0M597.0 121.4h0M554.1 76.4h0M586.4 115.1h0M601.0 123.5h0M606.6 131.3h0M554.8 81.7h0M558.8 78.5h0M579.0 101.2h0M595.8 121.7h0M557.9 81.6h0M608.3 139.1h0M593.8 119.1h0M554.3 73.5h0M595.8 121.0h0M577.6 100.9h0M561.3 86.0h0M591.0 115.9h0M591.8 121.1h0M590.0 112.0h0M567.0 89.9h0M561.1 87.0h0M554.6 78.6h0M562.3 84.2h0M575.3 94.9h0M573.7 93.6h0M557.3 77.3h0M601.0 128.0h0M564.2 84.6h0M559.8 76.2h0M566.2 85.4h0M578.0 101.9h0M587.9 114.1h0M559.8 76.3h0M562.3 82.2h0M557.1 72.4h0M577.0 97.7h0M605.8 141.4h0M597.8 123.6h0M602.3 127.9h0M605.9 131.7h0M567.6 85.5h0M592.7 112.6h0M577.3 99.6h0M574.6 95.8h0M594.7 123.6h0M587.7 107.2h0M588.3 113.6h0M566.9 92.0h0M609.0 132.1h0M590.0 116.0h0M591.4 111.7h0M596.0 122.6h0M603.4 133.7h0M563.2 84.2h0M568.0 90.2h0M609.3 135.5h0M591.4 116.8h0M602.4 131.7h0M572.6 93.9h0M609.4 137.0h0M577.6 101.1h0M598.2 125.9h0M607.1 130.5h0M563.0 118.0h0M567.0 116.0h0M570.0 123.0h0M583.0 114.0h0M586.0 115.0h0" stroke="#b3167f" stroke-opacity="1" stroke-width="2.1" stroke-linecap="round"/>
<ellipse cx="557.3" cy="117.4" rx="67" ry="48" transform="rotate(0 557.3 117.4)" fill="none" stroke="#b3167f" stroke-width="1.1"/>
<ellipse cx="557.3" cy="117.3" rx="47.5" ry="11.3" transform="rotate(-1.2 557.3 117.3)" fill="none" stroke="#1ea2a6" stroke-width="1.1"/>
<path d="M99.7 269.5h0M97.6 283.7h0M104.6 272.2h0M111.0 276.6h0M102.2 270.0h0M111.7 271.5h0M91.5 273.6h0M97.9 277.1h0M92.0 275.1h0M100.1 270.7h0M103.3 279.4h0M99.3 275.4h0M87.9 268.8h0M99.6 272.8h0M95.7 271.1h0M103.9 267.1h0M97.5 271.9h0M109.5 268.5h0M102.5 273.0h0M84.1 275.4h0M96.7 266.6h0M88.0 275.2h0M109.7 274.4h0M110.6 264.3h0M101.1 276.0h0M104.8 274.1h0M88.0 275.6h0M82.3 280.8h0M95.0 272.0h0M97.9 272.6h0M86.7 273.5h0M101.9 275.1h0M104.9 278.1h0M105.0 269.1h0M114.9 274.1h0M104.5 262.9h0M96.3 271.0h0M100.1 269.2h0M107.7 278.7h0M91.1 274.0h0M112.5 273.0h0M105.3 262.9h0M98.8 274.6h0M96.0 277.5h0M120.7 266.8h0M104.2 261.2h0M108.5 271.7h0M116.4 271.9h0M110.3 276.1h0M102.8 274.5h0M104.2 264.9h0M92.7 275.1h0M107.6 275.2h0M86.7 274.4h0M104.8 274.6h0M104.5 270.1h0M87.8 278.0h0M117.4 271.3h0M90.1 273.8h0M112.4 280.7h0M96.4 275.5h0M103.6 274.0h0M94.2 272.3h0M120.8 267.2h0M108.8 269.6h0M113.7 262.8h0M105.1 265.3h0M106.7 272.7h0M101.7 272.7h0M95.4 264.1h0M102.9 263.3h0M101.6 271.8h0M99.3 273.6h0M90.0 279.6h0M96.5 269.3h0M106.4 274.2h0M96.4 273.5h0M102.9 270.5h0M99.3 273.3h0M93.4 280.2h0M93.9 278.1h0M95.7 279.0h0M97.4 271.5h0M98.1 273.0h0M108.4 265.8h0M91.0 274.2h0M83.2 277.4h0M105.8 269.7h0M97.8 277.5h0M100.3 275.5h0M121.7 270.0h0M113.0 270.0h0M107.0 276.1h0M108.7 271.3h0M103.0 277.0h0M109.3 272.9h0M96.6 278.0h0M94.7 275.1h0M95.2 269.7h0M111.9 263.4h0M116.2 277.1h0M96.2 276.6h0M110.9 272.1h0M99.2 273.2h0M109.1 268.7h0M101.4 284.3h0M107.2 266.4h0M99.7 273.5h0M98.3 274.0h0M99.1 269.0h0M100.4 267.9h0M95.0 272.2h0M89.0 275.7h0M114.2 266.9h0M98.6 277.7h0M84.2 273.6h0M82.5 281.1h0M82.2 285.9h0M96.9 278.6h0M110.6 265.2h0M84.0 267.8h0M99.2 277.7h0M86.2 280.3h0M109.2 268.1h0M105.5 277.5h0M103.0 270.9h0M112.2 270.2h0M113.1 264.8h0M109.8 271.9h0M95.4 273.2h0M89.1 275.0h0M93.5 280.5h0M86.5 279.0h0M113.9 262.5h0M100.1 276.7h0M103.0 276.4h0M101.4 269.5h0M117.1 266.4h0M96.2 275.1h0M110.3 269.2h0M103.5 273.1h0M100.4 276.4h0M84.2 276.6h0M111.2 279.2h0M93.7 272.6h0M96.3 272.5h0M105.3 280.6h0M104.7 282.7h0M110.2 270.5h0M95.0 274.5h0M100.8 268.7h0M104.6 277.2h0M101.3 274.0h0M105.4 268.2h0M99.3 275.7h0M112.7 275.6h0M95.8 278.0h0M91.7 286.1h0M102.0 278.1h0M111.2 272.0h0M96.5 274.7h0M96.3 277.3h0M99.5 279.2h0M103.3 276.4h0M100.8 278.1h0M103.7 273.4h0M87.5 281.1h0M114.9 274.2h0M105.5 271.2h0M92.0 270.5h0M114.5 276.6h0M105.3 274.5h0M112.5 267.7h0M91.4 277.5h0M114.3 267.9h0M99.0 266.5h0M83.5 278.2h0M105.3 265.7h0M98.6 275.0h0M92.3 275.7h0M100.5 278.5h0M84.5 278.2h0M106.2 273.3h0M98.7 272.8h0M98.1 272.6h0M110.8 264.0h0M102.4 277.2h0M95.6 275.9h0M92.2 273.6h0M100.6 274.4h0M109.2 268.9h0M95.1 272.1h0M92.5 277.2h0M110.1 275.7h0M101.0 272.2h0M98.8 267.8h0M117.4 265.3h0M93.1 283.9h0M101.4 269.6h0M87.6 282.9h0M98.0 273.2h0M106.7 274.8h0M110.1 269.9h0M88.2 270.5h0M107.3 269.5h0M110.1 279.7h0M99.6 273.2h0M121.4 269.2h0M100.4 272.0h0M93.3 275.2h0M104.8 273.5h0M86.0 280.3h0M116.7 278.0h0M109.0 270.7h0M97.3 273.8h0M105.1 269.1h0M103.6 266.7h0M114.9 261.7h0M96.6 277.7h0M87.7 269.5h0M85.7 284.5h0M99.5 277.6h0M87.4 276.5h0M97.9 269.3h0M104.3 272.4h0M97.2 274.7h0M94.4 280.5h0M109.8 267.2h0M98.7 272.4h0M102.7 272.6h0M108.4 269.7h0M89.2 274.4h0M90.9 269.0h0M118.6 260.4h0M98.6 271.1h0M91.9 275.3h0M100.0 278.1h0M99.1 284.2h0M92.8 283.6h0M97.9 276.1h0M103.1 281.0h0M100.6 273.0h0M104.6 269.8h0M89.4 287.3h0M87.0 273.2h0M106.9 269.6h0M96.8 273.6h0M112.9 275.9h0M102.6 270.2h0M90.1 280.3h0M104.8 270.3h0M90.8 271.3h0M103.3 273.6h0M111.3 270.8h0M116.9 263.1h0M99.1 270.1h0M105.6 268.4h0M104.6 276.4h0M108.0 273.1h0M80.6 281.0h0M98.2 276.4h0M102.6 270.7h0M105.4 274.0h0M93.8 273.0h0M106.0 265.9h0M109.1 267.6h0M101.7 274.1h0M99.1 274.4h0M99.2 278.6h0M99.8 266.3h0M110.4 269.3h0M113.8 270.9h0M95.7 270.8h0M93.4 276.9h0M93.7 273.9h0M107.6 266.2h0M104.1 277.3h0M101.5 267.1h0M106.1 276.1h0M103.4 270.7h0M98.6 270.0h0M91.1 272.7h0M94.8 272.1h0M100.8 269.7h0M104.5 273.4h0M95.4 267.0h0M99.0 279.5h0M113.3 273.1h0M98.8 280.2h0M101.4 268.9h0M95.2 265.0h0M92.9 273.2h0M88.0 276.8h0M96.8 276.1h0M93.4 273.6h0M107.8 270.8h0M91.5 277.1h0M95.4 268.4h0M108.6 278.9h0M98.5 269.2h0M105.3 273.1h0M109.2 275.5h0M86.1 274.8h0M97.4 274.5h0M95.0 282.5h0M111.6 268.7h0M101.2 277.9h0M105.3 273.3h0M115.2 269.8h0M98.8 277.3h0M101.2 272.3h0M104.0 271.5h0M99.9 278.0h0M111.6 271.1h0M108.2 273.2h0M107.6 266.0h0M101.3 273.4h0M99.6 279.2h0M99.1 278.0h0M98.3 275.8h0M86.6 275.8h0M103.0 270.0h0M108.1 273.0h0M102.6 279.1h0M96.8 275.0h0M102.8 278.6h0M102.3 271.7h0M105.1 277.4h0M114.4 264.7h0M94.0 276.5h0M102.5 268.2h0M107.4 274.2h0M102.2 275.5h0M97.7 270.3h0M91.5 273.2h0M95.4 273.3h0M104.7 265.6h0M111.6 265.9h0M94.3 271.8h0M105.7 275.3h0M106.9 277.6h0M108.5 269.0h0M102.5 271.7h0M104.7 273.1h0M107.5 269.0h0M90.9 275.5h0M102.3 276.7h0M86.7 279.1h0M84.6 278.4h0M93.3 273.4h0M90.1 283.4h0M104.2 269.7h0M109.1 271.3h0M97.0 270.2h0M98.9 271.5h0M99.0 274.5h0M98.2 272.6h0M102.6 275.2h0M103.8 272.8h0M95.2 269.2h0M91.4 266.3h0M97.9 278.8h0M106.6 269.0h0M99.3 280.5h0M112.7 269.7h0M97.8 271.1h0M112.7 272.1h0M90.7 275.5h0M95.2 275.4h0M103.5 268.5h0M105.6 274.7h0M100.9 278.2h0M116.8 266.0h0M103.7 280.4h0M102.4 270.4h0M96.5 276.0h0M112.2 262.6h0M105.3 263.5h0M106.9 280.8h0M89.3 283.5h0M105.2 277.1h0M94.8 267.9h0M104.3 273.3h0M108.8 272.7h0M94.8 275.8h0M102.9 274.1h0M106.7 267.5h0M101.9 272.4h0M96.6 269.8h0M91.7 274.9h0M95.8 276.7h0M89.5 273.7h0M108.5 269.7h0M101.1 271.5h0M90.9 276.7h0M101.9 277.1h0M90.6 277.8h0M80.8 281.7h0M108.7 264.5h0M109.8 268.9h0M89.9 280.6h0M93.8 271.9h0M101.9 271.2h0M96.4 270.6h0M95.6 281.0h0M96.0 273.0h0M97.9 271.2h0M97.1 277.4h0M103.9 277.3h0M99.5 276.0h0M95.9 279.4h0M101.2 274.2h0M87.1 277.3h0M111.9 267.9h0M86.0 276.0h0M99.3 271.3h0M104.0 274.0h0M104.0 271.9h0M103.0 273.1h0M111.8 272.5h0M91.6 276.2h0M98.4 268.2h0M100.9 269.9h0M95.3 270.3h0M93.5 267.4h0M111.3 270.5h0M93.4 270.5h0M95.2 269.6h0M97.1 269.9h0M100.1 277.5h0M101.6 271.8h0M100.4 278.0h0M103.6 272.1h0M101.3 271.4h0M105.3 274.4h0M112.6 272.2h0M94.0 276.1h0M112.7 265.0h0M96.5 272.8h0M104.6 267.0h0M101.7 272.0h0M98.4 274.6h0M86.8 284.5h0M115.6 274.9h0M95.5 278.1h0M95.6 279.3h0M109.6 271.6h0M104.6 283.2h0M118.0 274.6h0M117.5 279.0h0M106.9 273.1h0M103.3 274.4h0M108.2 275.7h0M90.3 277.7h0M102.5 274.2h0M100.6 269.1h0M98.1 278.4h0M102.9 273.3h0M90.0 280.5h0M107.7 270.2h0M108.8 263.0h0M90.9 278.8h0M103.4 277.7h0M111.5 264.3h0M102.8 268.5h0M92.0 274.9h0M92.4 275.0h0M105.3 264.4h0M117.7 275.7h0M93.3 280.3h0M100.2 270.9h0M92.1 268.2h0M98.9 275.6h0M105.7 280.6h0M101.4 276.9h0M96.7 279.8h0M116.4 264.2h0M99.7 274.8h0M97.3 267.9h0M112.1 278.5h0M101.5 275.7h0M96.3 265.6h0M105.9 263.6h0M93.0 278.1h0M106.8 272.0h0M108.5 269.5h0M106.8 274.2h0M101.8 281.9h0M101.1 274.9h0M84.5 270.7h0M99.4 273.2h0M101.3 267.5h0M106.6 268.0h0M102.2 274.4h0M97.3 273.8h0M92.6 271.4h0M100.3 273.4h0M100.7 269.8h0M111.0 272.4h0M100.4 272.4h0M97.1 276.3h0M99.4 272.6h0M97.7 277.7h0M98.6 273.5h0M83.0 279.1h0M87.2 275.3h0M91.3 277.1h0M102.1 265.1h0M103.3 283.6h0M100.9 270.3h0M110.1 270.8h0M91.7 274.2h0M109.1 268.5h0M104.2 274.0h0M94.3 273.2h0M112.0 267.8h0M87.4 271.6h0M90.4 272.6h0M97.4 269.3h0M106.2 279.5h0M97.4 268.6h0M82.2 274.7h0M98.5 274.9h0M101.8 279.3h0M118.5 260.1h0M109.6 263.6h0M101.8 273.6h0M92.3 277.6h0M101.5 266.9h0M89.0 269.2h0M101.0 269.0h0M104.5 275.4h0M97.4 274.3h0M103.6 275.7h0M97.8 273.8h0M96.0 274.7h0M113.7 271.9h0M105.1 271.4h0M98.5 275.1h0M93.3 271.7h0M101.2 270.5h0M105.7 273.8h0M107.1 270.2h0M111.4 266.6h0M105.1 274.8h0M92.4 278.5h0M116.8 268.1h0M108.9 267.3h0M108.4 274.8h0M114.5 279.9h0M87.7 274.0h0M95.6 268.2h0M95.5 271.6h0M108.9 266.6h0M89.5 271.4h0M96.5 269.5h0M113.8 272.8h0M106.9 275.1h0M99.4 280.3h0M116.6 271.5h0M89.4 274.9h0M105.6 276.5h0M98.0 271.5h0M104.2 270.7h0M96.9 269.4h0M95.5 280.4h0M103.6 276.9h0M89.5 274.9h0M104.4 270.8h0M98.1 274.3h0M108.2 271.8h0M98.1 277.9h0M95.3 275.4h0M104.3 273.9h0M108.5 264.2h0M83.7 277.5h0M99.2 265.9h0M107.9 278.9h0M91.0 282.6h0M94.5 278.5h0M107.1 276.1h0M96.6 283.5h0M96.7 278.8h0M112.2 262.6h0M92.8 275.0h0M90.6 266.2h0M81.1 276.1h0M90.2 271.2h0M90.7 276.5h0M114.7 270.5h0M109.0 266.5h0M90.1 275.5h0M116.6 269.4h0M106.5 270.7h0M98.9 273.1h0M103.9 261.6h0M103.0 270.6h0M95.5 278.5h0M86.9 278.9h0M91.4 269.8h0M100.1 272.3h0M98.0 275.3h0M93.4 271.4h0M109.2 273.5h0M91.0 272.9h0M107.2 269.7h0M96.5 274.1h0M104.3 281.9h0M91.2 275.0h0M99.7 271.1h0M95.2 278.2h0M86.0 276.0h0M100.6 274.2h0M97.2 264.5h0M107.5 272.4h0M102.8 272.5h0M90.8 270.8h0M97.4 280.3h0M80.4 278.8h0M91.3 275.5h0M109.1 264.7h0M110.5 262.9h0M105.8 269.1h0M100.9 266.5h0M105.8 273.8h0M105.5 275.5h0M85.9 275.3h0M91.5 269.2h0M109.4 268.7h0M108.5 266.0h0M102.6 273.4h0M98.3 274.9h0M96.9 272.6h0M96.3 275.0h0M94.5 279.9h0M87.3 285.1h0M101.0 270.9h0M97.8 277.4h0M98.5 272.9h0M112.8 264.7h0M106.9 276.9h0M95.4 276.7h0M105.3 272.4h0M88.9 278.6h0M108.7 269.9h0M101.2 268.4h0M101.2 280.9h0M106.2 275.4h0M112.5 270.6h0M98.0 278.4h0M84.4 289.0h0M44.9 291.0h0M59.5 313.0h0M60.2 286.9h0M87.9 283.7h0M54.0 306.0h0M55.3 298.9h0M91.9 282.6h0M78.0 284.6h0M63.9 282.0h0M53.3 302.7h0M49.9 310.3h0M57.7 293.7h0M48.0 292.5h0M83.0 278.8h0M68.7 292.8h0M68.1 293.0h0M75.2 293.9h0M68.3 294.5h0M56.9 301.3h0M72.3 275.6h0M83.7 296.4h0M85.9 281.4h0M69.0 296.1h0M49.6 300.5h0M87.8 279.1h0M45.8 305.7h0M56.7 308.7h0M80.4 293.6h0M85.2 285.3h0M92.5 290.1h0M70.2 287.2h0M58.6 300.3h0M44.9 302.9h0M81.1 291.9h0M73.5 288.0h0M53.1 307.1h0M82.8 293.7h0M82.2 269.9h0M59.8 310.6h0M72.6 290.4h0M62.4 292.4h0M66.7 279.4h0M49.2 301.1h0M79.2 270.1h0M58.1 297.8h0M72.9 287.1h0M60.9 307.6h0M51.8 299.2h0M90.9 285.3h0M59.9 303.9h0M93.3 290.3h0M82.9 281.2h0M71.8 293.8h0M65.4 282.7h0M42.8 299.9h0M78.6 283.3h0M75.2 286.7h0M67.4 283.5h0M80.2 281.5h0M67.7 295.9h0M60.4 292.7h0M77.6 284.6h0M64.2 287.6h0M75.8 295.5h0M57.2 309.9h0M54.4 301.1h0M52.6 300.1h0M85.3 292.1h0M91.0 281.5h0M87.0 276.3h0M65.5 283.8h0M78.4 281.4h0M57.1 312.8h0M57.5 293.6h0M94.8 294.8h0M57.9 297.3h0M51.2 300.3h0M67.9 299.9h0M78.6 283.5h0M90.4 281.2h0M43.1 300.2h0M69.6 282.0h0M80.6 279.3h0M82.0 284.6h0M84.5 277.7h0M67.9 278.3h0M84.2 285.1h0M62.2 293.6h0M70.3 287.9h0M67.5 287.5h0M57.9 282.4h0M69.3 300.8h0M75.1 283.8h0M53.2 304.1h0M86.0 290.0h0M79.5 291.8h0M54.4 301.1h0M60.3 295.9h0M83.5 284.4h0M66.3 298.2h0M84.5 285.6h0M61.2 292.3h0M90.9 281.4h0M63.2 296.5h0M91.1 282.9h0M62.4 295.9h0M67.4 300.5h0M53.2 301.9h0M82.4 288.7h0M48.6 303.9h0M78.4 281.5h0M64.2 287.2h0M83.1 281.6h0M74.1 291.1h0M90.9 286.6h0M67.5 290.9h0M53.3 297.0h0M85.1 278.3h0M88.5 288.0h0M82.9 283.5h0M70.1 286.6h0M58.8 301.8h0M41.6 299.3h0M81.6 284.2h0M74.1 287.2h0M64.0 292.7h0M64.3 285.8h0M82.8 289.1h0M60.4 307.2h0M41.8 299.2h0M49.5 303.8h0M91.2 282.5h0M61.2 310.5h0M87.8 277.5h0M43.3 300.7h0M74.8 287.1h0M74.1 300.8h0M67.0 292.2h0M45.8 307.2h0M75.3 298.5h0M66.1 278.3h0M76.6 272.3h0M84.6 287.7h0M83.3 287.5h0M43.2 297.8h0M85.7 284.6h0M68.2 291.3h0M84.5 283.3h0M83.6 277.3h0M47.1 301.5h0M60.5 290.0h0M67.5 291.9h0M71.0 287.9h0M91.6 288.9h0M48.5 307.9h0M67.1 281.4h0M67.9 294.0h0M55.3 308.8h0M76.1 288.2h0M80.3 291.1h0M49.9 302.5h0M51.8 306.3h0M63.8 287.6h0M90.1 284.0h0M78.5 276.3h0M78.2 293.6h0M58.0 287.2h0M82.1 269.7h0M67.4 295.0h0M50.5 301.2h0M71.8 289.7h0M50.4 305.3h0M83.7 282.2h0M64.6 287.4h0M78.4 286.5h0M84.0 284.4h0M81.5 286.7h0M85.6 294.0h0M78.1 280.6h0M62.1 295.2h0M48.0 307.8h0M54.7 296.5h0M70.4 281.9h0M57.1 294.1h0M92.2 284.6h0M57.9 295.5h0M78.1 289.3h0M48.1 299.0h0M66.3 295.1h0M79.0 280.5h0M83.6 277.0h0M48.5 304.4h0M81.1 284.1h0M92.3 287.2h0M40.9 297.7h0M82.7 286.1h0M51.9 312.3h0M78.7 293.7h0M88.4 277.4h0M55.7 304.9h0M57.4 296.3h0M64.8 309.8h0M63.7 304.4h0M65.2 293.5h0M67.5 303.2h0M52.1 281.6h0M51.6 306.9h0M50.7 299.9h0M49.6 299.8h0M61.1 284.9h0M64.9 312.4h0M81.8 295.2h0M66.9 296.0h0M62.2 305.1h0M75.1 295.6h0M55.2 290.9h0M65.1 301.7h0M71.0 289.7h0M69.3 302.3h0M65.7 298.0h0M58.8 305.1h0M50.5 288.3h0M60.6 305.9h0M56.5 299.1h0M68.4 311.1h0M60.7 292.3h0M67.2 310.3h0M47.1 302.0h0M71.0 302.6h0M54.1 291.8h0M47.6 301.0h0M49.3 301.8h0M56.2 291.1h0M72.4 288.7h0M68.6 291.5h0M51.2 307.5h0M62.8 298.1h0M61.0 303.7h0M47.5 299.1h0M52.9 297.8h0M43.2 298.6h0M54.0 294.1h0M42.2 305.7h0M54.7 298.2h0M53.4 298.6h0M54.6 287.1h0M54.4 299.2h0M72.7 292.2h0M58.8 293.4h0M64.2 304.4h0M69.0 289.2h0M70.3 295.6h0M68.3 301.5h0M56.9 305.2h0M51.9 293.3h0M54.8 299.3h0M57.6 299.0h0M62.0 288.9h0M61.2 281.7h0M105.3 270.9h0M131.1 269.1h0M126.0 271.0h0M111.3 276.5h0M118.5 269.4h0M120.9 260.5h0M121.3 268.5h0M124.7 270.4h0M147.6 275.2h0M117.0 275.3h0M126.5 274.8h0M117.1 268.8h0M118.6 273.3h0M116.0 262.6h0M122.6 276.6h0M119.3 272.2h0M128.6 272.6h0M127.2 268.1h0M115.9 270.3h0M144.6 266.6h0M113.0 272.9h0M128.6 263.2h0M147.2 275.0h0M117.7 272.8h0M138.5 280.3h0M139.5 269.8h0M128.5 269.5h0M106.1 271.0h0M139.5 270.2h0M125.9 269.4h0M119.4 264.4h0M138.0 264.4h0M117.6 267.1h0M135.9 268.5h0M119.4 263.9h0M130.5 264.1h0M114.0 268.5h0M120.9 273.8h0M115.6 269.0h0M117.7 273.5h0M159.7 265.4h0M144.0 268.0h0M140.0 266.0h0M132.0 275.0h0M118.0 295.0h0M122.0 302.0h0M95.0 303.0h0M112.0 288.0h0" stroke="#b3167f" stroke-opacity="1" stroke-width="2.1" stroke-linecap="round"/>
<path d="M41.2 318.7h0M32.6 318.4h0M60.0 317.9h0M65.1 320.3h0M39.2 321.5h0M33.9 315.1h0M46.1 317.0h0M35.5 317.5h0M47.6 318.0h0M41.3 315.9h0M52.6 323.4h0M59.5 319.1h0M64.3 321.8h0M58.5 319.3h0M62.6 320.4h0M69.1 319.8h0M46.2 320.9h0M37.5 316.5h0M37.5 320.0h0M49.3 316.2h0M57.7 319.1h0M62.5 321.9h0M37.7 317.6h0M51.4 317.7h0M34.4 316.7h0M53.4 316.5h0M63.9 321.2h0M45.3 312.1h0M56.9 320.5h0M54.8 323.1h0M56.1 322.2h0M38.1 319.3h0M50.7 318.2h0M33.4 317.5h0M47.1 317.8h0M33.5 316.6h0M67.7 321.4h0M45.6 310.4h0M40.5 320.1h0M65.2 322.1h0M47.4 320.8h0M51.0 317.0h0M63.9 322.4h0M50.9 320.5h0M47.0 313.3h0M59.7 316.2h0M42.8 318.3h0M37.4 316.0h0M58.4 320.3h0M50.4 317.6h0M68.6 323.9h0M52.6 314.9h0M65.4 318.8h0M33.3 315.2h0M32.7 314.7h0M44.8 317.0h0M62.8 320.9h0M49.8 315.9h0M54.2 320.6h0M44.7 321.6h0M44.1 321.0h0M43.2 323.1h0M41.8 320.8h0M32.9 316.6h0M56.3 324.4h0M42.8 319.9h0M65.5 324.6h0M53.7 319.2h0M38.0 313.2h0M42.9 315.3h0M38.3 317.9h0M59.6 321.8h0M41.0 317.4h0M52.1 321.9h0M48.1 316.1h0M45.5 316.8h0M63.7 323.0h0M50.7 319.4h0M43.1 318.4h0M37.4 320.3h0M42.3 320.8h0M38.9 315.9h0M56.3 320.6h0M59.9 316.4h0M53.9 319.7h0M58.0 321.3h0M60.1 316.4h0M52.5 323.3h0M37.9 321.8h0M55.3 321.1h0M32.2 318.0h0M48.9 322.7h0M37.6 317.1h0M57.3 322.7h0M56.4 321.0h0M44.4 314.7h0M53.7 317.5h0M58.4 319.0h0M50.3 321.8h0M41.0 318.2h0M35.5 318.9h0M64.3 320.2h0M35.1 314.8h0M38.2 322.1h0M59.9 326.9h0M33.3 317.4h0M36.9 316.9h0M45.0 321.4h0M37.5 315.2h0M33.1 316.4h0M61.0 317.4h0M37.8 318.5h0M65.7 321.8h0M33.4 316.2h0M42.0 316.5h0M53.4 316.0h0M35.5 315.6h0M49.0 322.1h0M49.9 318.3h0M53.6 322.8h0M66.4 319.9h0M46.8 318.6h0M65.7 320.5h0M39.8 317.2h0M55.7 321.9h0M48.2 314.0h0M60.4 322.4h0M50.8 321.0h0M63.5 321.1h0M37.3 317.5h0M41.5 317.5h0M51.7 321.1h0M55.3 320.1h0M46.0 316.6h0M61.6 321.2h0M45.4 320.9h0M66.4 322.1h0M66.4 321.5h0M33.1 317.1h0M55.7 318.8h0M63.9 320.2h0M33.8 313.9h0M59.2 320.1h0M53.0 322.0h0M51.0 318.4h0M42.1 315.9h0M58.7 322.6h0M39.7 318.1h0M38.3 317.8h0M44.4 319.6h0M68.5 322.8h0M46.7 318.6h0M37.1 315.7h0M45.9 322.8h0M60.2 320.8h0M55.2 318.1h0M58.4 320.8h0M62.1 323.4h0M42.9 314.8h0M44.1 321.5h0M63.7 320.8h0M45.2 323.4h0M50.5 320.9h0M62.8 320.8h0M54.7 322.9h0M65.4 323.6h0M32.1 316.1h0M54.6 320.4h0M50.8 318.1h0M46.6 320.9h0M43.1 314.8h0M45.7 318.2h0M62.8 316.4h0M49.2 320.5h0M40.5 312.8h0M57.9 317.8h0M62.2 321.5h0M46.8 317.9h0M36.5 316.4h0M59.7 318.2h0M57.6 319.1h0M58.1 316.1h0M32.0 317.0h0M35.8 318.7h0M67.6 322.8h0M52.3 319.4h0M40.8 320.9h0M33.3 317.5h0M49.0 321.4h0M43.5 319.2h0M37.3 317.5h0M55.7 318.2h0M39.1 312.1h0M66.9 322.6h0M40.2 317.6h0M64.3 324.9h0M45.5 313.8h0M42.2 320.1h0M60.2 318.4h0M50.4 319.3h0M37.0 315.6h0M62.9 321.7h0M52.1 319.4h0M52.5 321.7h0M45.6 318.9h0M62.3 321.9h0M54.1 322.9h0M34.1 317.8h0M64.7 321.0h0M52.3 322.5h0M41.7 317.8h0M33.0 317.4h0M33.1 316.3h0M36.3 316.0h0M42.1 310.9h0M51.1 321.0h0M40.3 315.2h0M60.8 322.4h0M50.6 323.6h0M48.0 315.8h0M47.3 320.9h0M40.5 317.7h0M51.5 320.5h0M40.6 315.1h0M43.6 318.4h0M50.6 319.7h0M54.8 323.3h0M43.1 323.4h0M58.4 321.2h0M45.0 317.6h0M65.3 325.2h0M37.1 317.2h0M53.2 319.5h0M44.8 318.7h0M48.4 320.1h0M35.6 318.5h0M44.4 317.1h0M38.6 317.4h0M56.2 324.6h0M60.1 324.3h0M60.8 321.7h0M65.6 321.9h0M45.9 318.1h0M55.1 322.4h0M67.5 320.8h0M50.2 319.6h0M51.1 318.3h0M56.3 318.6h0M32.6 316.8h0M63.3 321.1h0M47.3 317.5h0M59.8 320.5h0M36.4 317.4h0M50.1 318.1h0M53.0 318.1h0M60.5 320.4h0M53.6 321.4h0M54.4 322.5h0M66.1 321.8h0M41.7 317.4h0M48.3 318.9h0M64.0 324.8h0M48.3 321.2h0M54.0 317.5h0M50.5 319.2h0M68.1 320.9h0M57.1 319.4h0M61.0 316.9h0M32.7 316.7h0M46.7 315.5h0M59.7 319.2h0M37.3 320.5h0M60.4 323.0h0M66.2 319.9h0M60.4 318.3h0M58.9 318.3h0M42.4 313.7h0M36.3 315.4h0M66.7 321.1h0M47.6 316.4h0M65.1 322.7h0M56.5 320.0h0M66.5 320.6h0M32.1 319.2h0M61.3 322.4h0M59.2 320.7h0M52.0 324.0h0M37.2 320.1h0M39.3 316.2h0M66.3 322.0h0M46.2 317.7h0M60.2 317.2h0M67.7 324.6h0M39.6 321.2h0M34.3 314.9h0M32.7 317.5h0M48.2 315.0h0M62.1 323.2h0M61.5 320.7h0M53.7 319.1h0M31.3 318.2h0M40.7 318.0h0M37.1 316.9h0M37.1 319.2h0M36.5 316.7h0M32.6 318.0h0M50.4 319.3h0M44.0 320.4h0M44.5 320.0h0M41.6 320.0h0M61.4 318.6h0M41.7 322.6h0M37.4 317.1h0M41.5 322.3h0M41.0 316.6h0M44.6 317.8h0M45.8 318.0h0M39.6 320.5h0M55.2 318.9h0M37.2 318.2h0M66.0 318.6h0M64.7 320.4h0M49.9 319.8h0M58.9 320.2h0M40.1 313.6h0M42.2 319.4h0M65.8 319.7h0M48.6 323.7h0M59.3 320.1h0M61.3 325.7h0M57.6 321.9h0M48.3 320.1h0M45.9 317.5h0M33.8 316.7h0M63.8 322.0h0M58.1 315.7h0M33.6 318.5h0M63.1 318.6h0M42.2 317.5h0M64.1 315.6h0M37.0 318.3h0M32.2 317.7h0M63.6 321.7h0M64.8 321.9h0M50.1 318.4h0M65.7 321.7h0M34.5 319.1h0M37.2 316.6h0M67.8 322.5h0M66.6 322.7h0M57.6 319.7h0M44.0 319.0h0M58.2 320.9h0M31.6 315.9h0M44.0 324.3h0M63.6 320.2h0M39.5 321.8h0M36.0 319.3h0M50.6 314.4h0M56.7 320.8h0M42.8 320.8h0M61.9 322.7h0M65.7 319.7h0M39.5 318.4h0M46.3 315.8h0M63.1 318.9h0M50.4 318.7h0M59.4 321.0h0M42.7 322.1h0M62.1 321.7h0M62.5 323.2h0M60.9 318.0h0M64.7 319.0h0M46.3 317.5h0M50.3 323.6h0M62.1 318.0h0M59.1 316.6h0M51.6 319.3h0M32.5 318.5h0M40.2 314.1h0M48.6 318.4h0M60.2 317.4h0M65.1 324.0h0M68.4 322.8h0M45.8 319.3h0M67.7 321.6h0M45.9 318.1h0M38.3 317.9h0M66.5 320.4h0M35.7 315.6h0M49.7 316.5h0M60.6 320.7h0M55.3 318.0h0M63.2 322.8h0M52.1 314.4h0M48.0 320.3h0M44.0 319.7h0M54.5 322.8h0M52.7 319.0h0M51.1 315.7h0M57.3 318.0h0M50.1 322.0h0M57.6 319.5h0M50.4 318.3h0M60.7 319.4h0M39.1 317.5h0M45.1 318.0h0M43.5 314.5h0M64.6 320.1h0M52.9 322.1h0M66.5 323.9h0M52.4 319.3h0M66.7 320.6h0M58.7 323.8h0M65.1 321.0h0M43.1 315.4h0M68.9 321.6h0M42.5 319.9h0M59.0 324.3h0M54.9 318.7h0M44.6 319.8h0M35.5 316.5h0M32.9 318.5h0M31.8 316.9h0M52.1 320.2h0M52.9 317.2h0M35.7 316.6h0M33.0 316.2h0M33.0 311.5h0M52.9 321.7h0M59.8 320.6h0M65.2 320.9h0M49.2 318.2h0M59.3 320.6h0M40.3 318.4h0M33.6 314.8h0M53.0 320.0h0M43.7 318.6h0M46.5 318.8h0M36.2 314.5h0M57.5 319.9h0M64.9 318.8h0M59.2 321.4h0M36.2 319.8h0M41.4 320.2h0M39.0 316.9h0M68.8 321.0h0M46.3 317.3h0M36.9 318.0h0M62.2 319.4h0M39.6 316.5h0M35.1 312.8h0M45.7 316.5h0M33.1 315.5h0M48.9 317.7h0M47.4 321.8h0M43.7 315.0h0M52.8 316.3h0M60.9 322.1h0M44.6 316.1h0M41.7 317.7h0M55.3 320.4h0M47.2 318.9h0M41.5 316.1h0M66.8 323.1h0M38.8 321.1h0M46.8 316.3h0M42.5 317.5h0M61.6 322.9h0M56.5 319.6h0M65.8 319.6h0M41.8 317.0h0M62.2 322.7h0M56.9 317.7h0M35.6 317.6h0M40.8 318.9h0M63.1 319.7h0M47.6 320.3h0M37.3 318.8h0M36.1 319.1h0M42.1 320.4h0M56.3 316.4h0M36.3 319.0h0M37.2 318.6h0M63.3 323.0h0M41.7 316.0h0M56.7 322.4h0M62.6 321.8h0M59.9 317.8h0M54.6 323.0h0M48.6 317.1h0M58.2 317.9h0M45.1 319.5h0M60.3 319.2h0M57.5 321.2h0M35.8 316.7h0M31.7 316.9h0M56.1 322.1h0M49.4 319.0h0M54.0 321.9h0M56.1 322.2h0M49.3 317.1h0M36.2 318.9h0M53.0 321.2h0M42.3 318.5h0M49.9 321.9h0M32.2 319.1h0M67.3 322.8h0M38.8 314.5h0M68.6 322.4h0M61.3 320.5h0M46.0 318.0h0M52.6 320.4h0M39.8 317.0h0M31.6 318.9h0M49.9 319.9h0M34.1 317.0h0M37.9 319.2h0M33.7 318.2h0M51.8 322.4h0M56.3 321.7h0M67.5 321.6h0M40.6 318.2h0M63.5 316.6h0M54.0 316.2h0M31.8 318.0h0M45.3 317.8h0M67.9 324.5h0M58.3 324.8h0M57.0 317.2h0M57.6 321.1h0M66.8 326.2h0M51.9 317.6h0M36.5 318.1h0M33.4 316.5h0M52.9 319.1h0M38.2 317.0h0M66.6 321.5h0M68.0 322.9h0M52.9 317.7h0M54.2 321.1h0M36.6 315.9h0M61.8 322.0h0M47.3 319.6h0M60.0 318.8h0M47.5 319.2h0M61.8 319.2h0M36.3 315.7h0M67.8 323.5h0M57.8 315.9h0M44.2 319.8h0M46.7 320.5h0M39.7 316.4h0M50.2 321.9h0M64.8 323.0h0M49.8 316.0h0M43.8 319.7h0M48.7 320.2h0M47.3 317.1h0M47.2 320.3h0" stroke="#b3167f" stroke-opacity="1" stroke-width="2.1" stroke-linecap="round"/>
<path d="M47.6 297.7h0M37.4 296.3h0M43.6 298.7h0M46.0 289.2h0M36.9 315.8h0M51.2 291.2h0M46.4 305.4h0M46.5 308.4h0M56.0 294.7h0M35.7 300.2h0M46.3 312.3h0M54.6 296.9h0M50.2 292.7h0M38.1 303.3h0M52.1 307.4h0M57.8 296.2h0M35.8 307.8h0M59.8 297.2h0M62.3 288.4h0M49.6 304.3h0M53.1 293.9h0M40.7 292.7h0M56.7 291.3h0M47.1 300.8h0M51.5 288.4h0M35.9 311.8h0M45.2 300.1h0M35.6 310.3h0M53.3 301.4h0M37.4 312.7h0M41.3 305.6h0M45.0 288.1h0M55.4 286.3h0M31.0 305.8h0M40.8 297.1h0M51.0 291.3h0M38.4 297.8h0M41.7 297.1h0M45.4 298.9h0M57.4 283.9h0M52.7 286.0h0M46.0 306.5h0M28.9 315.4h0M45.5 288.4h0M49.2 296.7h0M60.9 284.3h0M50.6 307.5h0M47.9 304.3h0M42.7 293.3h0M55.1 297.0h0M46.0 290.6h0M38.3 317.2h0M42.2 313.5h0M48.8 296.5h0M40.8 311.8h0M47.0 292.6h0M51.8 294.3h0M55.4 293.9h0M43.6 307.8h0M50.5 296.8h0M43.4 310.6h0M51.2 293.7h0M33.7 300.4h0M60.8 293.4h0M56.8 287.0h0M40.8 311.2h0M40.6 307.4h0M54.1 285.4h0M57.3 293.9h0M60.2 284.2h0M35.9 316.4h0M48.1 289.2h0M36.1 311.7h0M54.6 299.1h0M43.3 310.3h0M42.4 311.2h0M36.0 312.2h0M46.0 299.7h0M37.0 305.6h0M47.1 293.0h0M33.2 310.2h0M42.1 304.9h0M38.7 310.9h0M46.2 308.8h0M54.9 297.7h0M42.8 290.7h0M39.8 316.3h0M53.5 289.5h0M52.8 291.2h0M39.3 314.4h0M40.4 298.1h0M49.3 308.9h0M51.1 306.1h0M52.6 304.6h0M46.3 289.7h0M33.8 309.9h0M40.7 311.0h0M37.0 302.0h0M30.5 312.6h0M34.3 307.6h0M34.6 311.9h0M38.2 303.3h0M39.2 314.7h0M31.1 315.9h0M39.4 317.7h0M35.8 302.0h0M31.3 312.5h0M39.8 311.5h0M32.7 302.0h0M30.7 307.2h0M39.5 309.8h0M40.1 315.8h0M33.1 306.8h0M40.9 311.0h0M40.6 309.9h0M33.8 311.6h0M45.0 308.5h0M81.0 290.6h0M76.6 286.3h0M77.4 291.2h0M74.4 289.8h0M62.9 299.7h0M58.9 291.7h0M75.4 285.3h0M75.3 290.4h0M55.6 291.1h0M64.7 287.6h0M62.1 291.4h0M69.2 289.0h0M64.4 284.2h0M66.9 289.5h0M70.1 286.1h0M74.3 285.9h0M77.4 285.7h0M66.8 287.8h0M65.8 293.0h0M76.9 287.0h0M55.5 292.4h0M74.3 286.3h0M57.8 296.1h0M63.4 292.9h0M79.4 289.1h0M62.6 289.8h0M56.5 293.3h0M60.8 298.6h0M78.9 284.5h0M67.4 294.7h0M51.5 314.5h0M41.4 316.3h0M33.7 313.0h0M49.8 316.2h0M39.2 318.6h0M39.2 317.7h0M31.0 315.1h0M54.2 315.8h0M45.6 313.5h0M45.0 315.4h0M47.9 314.6h0M46.7 313.4h0M45.6 312.8h0M48.9 318.6h0M42.6 315.3h0M28.0 313.4h0M50.7 314.4h0M48.2 317.8h0M45.0 318.1h0M57.5 314.1h0M33.7 315.5h0M28.0 316.8h0M56.7 314.6h0M48.1 313.1h0M31.8 313.4h0" stroke="#1ea2a6" stroke-opacity="1" stroke-width="2.1" stroke-linecap="round"/>
<ellipse cx="81.17" cy="292.57" rx="79.53" ry="19.72" transform="rotate(-40.63 81.17 292.57)" fill="none" stroke="#b3167f" stroke-width="1.1"/>
<ellipse cx="50.5" cy="320" rx="19.5" ry="11" transform="rotate(8 50.5 320)" fill="none" stroke="#1ea2a6" stroke-width="1.1"/>
<ellipse cx="310.5" cy="312.5" rx="30" ry="30.5" transform="rotate(0 310.5 312.5)" fill="none" stroke="#e8223f" stroke-width="1.2"/>
<ellipse cx="311" cy="312.6" rx="56.8" ry="8.5" transform="rotate(0 311 312.6)" fill="none" stroke="#4a3c9c" stroke-width="1.1"/>
<ellipse cx="312" cy="310.5" rx="57.5" ry="12" transform="rotate(-3 312 310.5)" fill="none" stroke="#7dcbe6" stroke-width="1.1"/>
<ellipse cx="315" cy="313" rx="52" ry="7" transform="rotate(-2 315 313)" fill="none" stroke="#7dcbe6" stroke-width="1.0"/>
<path d="M280.3 339.6h0M268.2 331.8h0M257.7 347.3h0M277.5 344.0h0M268.0 330.4h0M260.0 331.1h0M271.0 325.3h0M255.3 322.8h0M271.4 337.5h0M286.5 330.4h0M255.3 329.4h0M277.9 331.0h0M266.5 336.8h0M270.7 338.6h0M266.6 332.1h0M279.4 330.8h0M274.1 332.8h0M267.7 346.3h0M263.3 317.9h0M270.6 324.2h0M283.7 335.4h0M264.1 333.1h0M277.6 340.5h0M276.9 341.1h0M257.6 345.7h0" stroke="#56b9d9" stroke-opacity="1" stroke-width="1.7" stroke-linecap="round"/>
<path d="M304.3 292.6h0M329.1 339.2h0M314.2 302.5h0M335.4 295.3h0M321.6 329.7h0M334.0 296.2h0M305.3 324.8h0M321.3 327.2h0M309.3 318.5h0M313.8 327.6h0M310.4 297.6h0M300.2 299.7h0M338.1 312.8h0M323.6 315.3h0M337.6 314.2h0M300.9 321.3h0M284.0 305.9h0M307.0 288.1h0M315.7 320.5h0M332.4 312.4h0M337.1 325.7h0M340.0 341.8h0M345.6 316.3h0M331.3 322.7h0M320.4 303.9h0M305.0 326.9h0M330.6 319.6h0M309.6 318.5h0M304.3 327.0h0M328.8 300.8h0M322.3 322.5h0M333.6 321.1h0M305.8 335.6h0M339.1 292.2h0M324.8 314.1h0M315.5 343.3h0M305.1 310.1h0M299.4 309.7h0M294.4 338.0h0M343.2 343.6h0M293.4 316.8h0M329.6 306.2h0M314.1 307.7h0M308.3 310.2h0M310.1 304.5h0M316.8 305.0h0M334.4 317.5h0M328.4 315.8h0M318.4 321.4h0M294.2 315.6h0" stroke="#56b9d9" stroke-opacity="1" stroke-width="1.6" stroke-linecap="round"/>
<path d="M310.3 277.8h0M329.5 271.7h0M324.6 269.4h0M316.5 263.8h0M319.5 272.1h0M325.4 260.5h0M323.0 271.3h0M320.9 270.3h0M329.7 262.2h0M332.6 273.1h0M319.1 268.3h0M322.0 275.5h0M311.3 265.9h0M320.5 274.4h0M326.9 284.0h0" stroke="#56b9d9" stroke-opacity="1" stroke-width="1.6" stroke-linecap="round"/>
<path d="M316.1 302.8h0M325.7 311.5h0M303.2 322.9h0M307.7 327.3h0M283.7 296.8h0M310.9 322.0h0M295.6 309.5h0M315.1 308.8h0M280.9 318.0h0M299.8 313.3h0M314.6 330.9h0M319.4 331.0h0M287.3 318.2h0M306.8 313.8h0M348.2 344.9h0M325.6 345.9h0M315.8 327.0h0M277.8 320.1h0M298.8 334.9h0M321.4 340.5h0M316.9 315.3h0M320.4 345.1h0M328.3 320.0h0M314.8 336.0h0M326.6 315.5h0M285.2 322.9h0M348.2 316.2h0M308.6 322.4h0M303.1 335.1h0M336.8 310.6h0M322.7 318.2h0M328.5 329.0h0M303.5 316.1h0M317.6 348.1h0M324.4 303.3h0M295.4 350.6h0M309.8 313.6h0M309.4 334.5h0M308.6 342.7h0M302.2 328.9h0M293.5 304.0h0M319.9 317.7h0M317.0 322.9h0M331.3 329.3h0M312.1 334.7h0M302.7 336.5h0M290.5 341.0h0M314.5 309.8h0M308.3 334.8h0M344.7 299.6h0M348.2 323.9h0M337.9 308.3h0M299.0 299.1h0M291.3 333.8h0M309.5 321.6h0M299.2 334.8h0M335.4 301.7h0M315.0 306.3h0M306.8 320.7h0M312.9 313.5h0M332.8 322.9h0M298.4 314.0h0M320.8 317.6h0M292.4 307.3h0M309.9 338.6h0M302.8 317.9h0M318.1 306.8h0M315.6 330.8h0M331.9 328.3h0M323.9 324.8h0M303.7 324.9h0M292.4 316.9h0M300.4 320.3h0M306.4 293.5h0M309.5 301.9h0M301.2 306.2h0M330.1 325.7h0M327.7 337.8h0M308.9 319.9h0M305.4 318.6h0M309.4 336.6h0M312.4 317.3h0M312.8 330.5h0M287.8 327.6h0M306.4 304.9h0M283.7 326.1h0M313.7 324.7h0M323.7 307.2h0M296.5 308.7h0M315.7 305.6h0M303.5 339.7h0M302.2 349.3h0M343.8 331.1h0M327.0 342.3h0M320.7 304.6h0M306.3 340.2h0M319.5 347.5h0M310.1 342.9h0M320.2 309.9h0M299.0 336.1h0M312.0 320.5h0M306.9 335.9h0M291.0 313.7h0M339.6 322.2h0M325.9 314.6h0M300.7 328.2h0M290.1 320.7h0M301.7 336.4h0M300.0 332.7h0M303.5 327.4h0" stroke="#f1e65b" stroke-opacity="1" stroke-width="1.7" stroke-linecap="round"/>
<path d="M347.3 260.4h0M345.6 266.2h0M347.7 259.0h0M350.1 257.3h0M347.9 259.6h0M349.0 256.5h0M347.6 258.6h0M346.4 264.8h0M344.5 266.4h0M341.9 261.6h0M348.9 261.1h0M349.7 256.7h0M345.5 255.6h0M352.5 262.4h0M344.2 260.1h0M350.6 258.2h0M348.5 258.4h0M347.3 266.3h0M349.9 264.5h0M350.0 260.7h0M347.4 260.9h0M343.7 264.5h0M343.9 260.8h0M347.9 261.1h0M352.9 254.6h0M351.1 253.8h0M348.7 252.5h0M349.8 252.3h0M349.4 260.3h0M352.0 262.2h0M346.0 256.2h0M349.2 262.1h0M348.0 261.9h0M345.5 259.3h0M345.7 253.7h0M350.0 266.3h0M347.5 265.6h0M347.3 257.7h0M346.4 267.7h0M350.2 260.7h0" stroke="#f1e65b" stroke-opacity="1" stroke-width="1.6" stroke-linecap="round"/>
<path d="M319.4 276.9h0M323.6 271.4h0M307.7 268.8h0M324.2 256.9h0M310.5 278.1h0M340.5 272.0h0M331.6 265.4h0M312.8 272.3h0M334.4 279.9h0M309.2 257.3h0M329.8 256.5h0M333.3 261.8h0M328.8 263.3h0M315.7 250.0h0M326.8 266.0h0M326.0 283.1h0M328.7 268.7h0M344.4 282.2h0M346.7 250.0h0M345.4 270.9h0M321.1 285.9h0M319.8 287.7h0M328.3 267.0h0M332.8 263.7h0M305.4 275.9h0M321.3 259.8h0M347.7 268.4h0M314.4 255.3h0M319.9 272.8h0M320.3 272.1h0" stroke="#f1e65b" stroke-opacity="1" stroke-width="1.7" stroke-linecap="round"/>
<path d="M350.4 284.9h0M340.7 288.8h0M331.1 281.2h0M337.3 290.5h0M327.5 290.0h0M336.6 280.2h0M336.7 292.5h0M340.8 286.6h0M345.6 289.9h0M322.0 291.7h0M341.0 291.7h0M343.9 289.3h0M328.3 290.4h0M353.4 289.5h0M333.0 294.7h0M353.6 277.2h0M344.2 289.0h0M345.2 286.0h0M339.3 284.7h0M347.0 294.4h0M330.6 295.7h0M330.8 286.5h0M321.6 287.8h0M342.9 292.9h0M331.9 288.2h0M343.7 287.5h0M341.2 280.4h0M327.3 291.2h0M344.4 294.0h0M339.7 287.6h0M339.5 289.2h0M343.0 297.1h0M338.5 293.9h0M339.2 296.3h0M346.8 291.3h0M331.1 296.7h0M327.2 284.3h0M331.3 287.4h0M344.9 281.2h0M337.2 300.2h0M353.3 288.1h0M320.6 292.5h0M331.8 287.6h0M333.7 286.1h0M338.4 279.9h0M350.3 297.9h0M336.5 289.9h0M330.0 291.7h0M343.5 282.6h0M350.2 287.5h0M321.0 294.7h0M342.5 288.8h0M340.8 292.3h0M330.8 287.4h0M334.5 292.1h0M341.0 293.5h0M338.7 292.4h0M336.3 292.0h0M328.7 291.1h0M339.5 285.2h0M333.2 293.3h0M338.4 288.1h0M332.6 286.6h0M340.2 293.1h0M342.6 281.8h0M339.4 287.2h0M343.8 292.5h0M327.8 296.1h0M341.4 287.7h0M340.3 289.8h0" stroke="#a9d88a" stroke-opacity="1" stroke-width="1.7" stroke-linecap="round"/>
<path d="M335.4 264.8h0M329.2 278.5h0M322.2 281.0h0M334.3 268.7h0M331.6 268.1h0M331.0 263.0h0M341.1 275.3h0M333.0 266.0h0M325.3 269.9h0M331.5 271.6h0M349.3 269.4h0M322.7 281.6h0M327.3 287.7h0M321.9 257.9h0M333.5 268.4h0" stroke="#a9d88a" stroke-opacity="1" stroke-width="1.7" stroke-linecap="round"/>
<path d="M325.9 307.0h0M305.0 299.6h0M313.3 297.7h0M325.2 303.5h0M344.2 304.1h0M340.7 306.1h0M317.2 317.0h0M324.0 294.4h0M316.1 318.0h0M319.1 280.2h0M303.1 308.6h0M293.6 292.6h0M316.0 318.0h0M337.5 292.0h0M334.1 309.5h0M292.0 291.1h0M318.8 289.8h0M311.8 307.2h0M326.5 307.8h0M304.3 293.7h0M336.5 319.8h0M318.6 297.1h0M331.1 314.0h0M335.9 290.9h0M290.8 291.3h0M318.4 300.8h0M346.1 290.9h0M322.2 304.1h0M338.6 280.7h0M328.7 301.6h0M313.9 294.9h0M326.4 291.4h0M338.7 301.9h0M342.5 298.0h0M345.1 295.9h0M304.2 307.2h0M335.2 302.6h0M299.9 303.4h0M319.9 311.9h0M318.6 299.3h0M332.0 307.5h0M327.0 296.2h0M341.9 305.4h0M312.1 304.7h0M335.4 295.1h0M328.2 286.4h0M322.0 288.5h0M302.8 291.5h0M331.1 305.0h0M327.0 298.8h0" stroke="#a9d88a" stroke-opacity="1" stroke-width="1.7" stroke-linecap="round"/>
<path d="M313.8 300.0h0M324.6 296.1h0M328.1 310.4h0M337.4 317.4h0M309.7 296.9h0M325.6 306.9h0M327.8 295.1h0M304.7 301.8h0M319.7 322.5h0M305.2 309.5h0M314.8 305.7h0M323.8 308.6h0M294.3 310.5h0M305.8 307.1h0M306.7 297.4h0M319.3 297.4h0M307.7 326.0h0M323.2 301.1h0M306.0 318.7h0M310.8 301.6h0M326.4 319.6h0M322.4 314.2h0M320.1 306.1h0M317.4 326.0h0M331.9 299.6h0M337.1 305.9h0M312.8 300.3h0M307.9 301.0h0M303.5 304.7h0M342.1 299.4h0" stroke="#5f8cc9" stroke-opacity="1" stroke-width="1.8" stroke-linecap="round"/>
<path d="M321.7 286.0h0M340.7 257.9h0M307.7 257.7h0M312.5 267.8h0M315.5 269.8h0M320.4 265.9h0M335.0 260.5h0M332.1 256.3h0M329.7 265.5h0M327.0 261.7h0" stroke="#5f8cc9" stroke-opacity="1" stroke-width="1.8" stroke-linecap="round"/>
<path d="M299.0 314.8h0M295.4 293.7h0M301.6 327.7h0M295.0 291.7h0M301.0 327.4h0M300.3 314.9h0M297.2 290.2h0M298.5 296.7h0M295.9 295.9h0M299.5 319.4h0M300.3 324.9h0M299.2 306.4h0M301.5 319.0h0M299.8 315.4h0M300.8 329.0h0M297.3 301.0h0M296.8 295.8h0M300.3 308.3h0M301.8 327.8h0M297.1 301.7h0M303.8 326.5h0M294.2 294.4h0M304.1 328.4h0M297.9 310.4h0M302.8 327.3h0M299.2 311.1h0M301.2 313.6h0M302.2 321.2h0M296.3 297.7h0M296.9 291.1h0M299.4 307.5h0M295.8 296.2h0M296.7 300.5h0M297.2 297.7h0M296.8 295.4h0M300.0 328.8h0M301.0 318.0h0M298.0 306.1h0M302.3 330.2h0M298.7 290.2h0M306.2 330.5h0M302.0 326.0h0M298.2 311.4h0M303.1 332.2h0M299.4 305.6h0M298.3 296.2h0M295.8 294.7h0M302.1 322.9h0M300.7 303.1h0M296.9 302.2h0M301.9 326.4h0M302.2 329.4h0M297.3 307.7h0M296.5 305.9h0M299.0 313.4h0M299.3 308.2h0M306.2 329.0h0M299.5 314.1h0M298.2 302.0h0M294.4 290.5h0M301.5 333.0h0M297.8 305.4h0M301.3 332.8h0M303.1 329.9h0M299.3 309.3h0M299.1 300.2h0M302.0 322.5h0M296.7 294.3h0M295.2 293.0h0M297.8 291.2h0M299.0 315.8h0M298.4 325.9h0M303.0 318.8h0M303.7 331.7h0M296.9 293.6h0M300.1 323.3h0M298.3 322.2h0M299.6 322.9h0M299.9 313.2h0M298.6 296.0h0M298.7 305.6h0M297.9 301.0h0M303.2 333.2h0M303.4 324.7h0M300.8 331.6h0M301.5 315.8h0M295.7 292.8h0M301.4 323.7h0M300.4 306.1h0M300.9 319.4h0M299.2 309.8h0M300.6 315.6h0M296.1 297.5h0M303.8 330.3h0M294.4 304.9h0M301.0 329.1h0M304.6 330.6h0M304.2 315.1h0M295.4 297.5h0M298.6 308.2h0M299.7 312.9h0M299.7 302.9h0M299.2 293.1h0M306.4 332.3h0M296.6 318.0h0M297.3 313.5h0M297.9 294.5h0M297.0 314.0h0M305.1 325.8h0M296.4 298.3h0M302.1 331.4h0M299.0 299.0h0M297.9 295.9h0M303.5 324.3h0M297.5 298.4h0M300.9 330.3h0M296.4 302.2h0M296.3 294.0h0M299.0 318.3h0M299.4 290.5h0M293.9 295.4h0M300.5 316.4h0M303.8 323.1h0M300.4 312.7h0M303.5 327.3h0M297.3 297.7h0M301.7 326.2h0M303.0 309.7h0M300.8 329.0h0M294.6 296.6h0M301.7 314.0h0M294.7 294.5h0M295.5 297.9h0M297.1 306.2h0M297.6 315.4h0M302.4 315.0h0M296.7 301.1h0M299.9 303.5h0M300.0 334.3h0M298.2 291.0h0M300.9 307.7h0M300.9 328.5h0M300.3 321.0h0M300.3 316.1h0M297.2 297.1h0M297.0 301.6h0M301.2 335.3h0M301.4 315.4h0M299.1 302.9h0M304.3 331.7h0M302.5 326.8h0M301.8 324.1h0M299.8 300.3h0M298.6 308.4h0M304.6 327.6h0M298.6 302.7h0M304.1 333.3h0M299.5 308.8h0M297.5 313.2h0M299.3 325.0h0M295.3 294.6h0M298.2 318.5h0M301.0 317.1h0M295.2 297.9h0M297.5 297.7h0M296.3 291.4h0M298.3 306.8h0M303.0 318.6h0M297.9 293.2h0M300.1 313.3h0M296.9 297.9h0M302.6 326.9h0M298.2 293.0h0M298.4 290.0h0M301.1 320.1h0M300.5 305.7h0M305.0 330.6h0M299.1 307.5h0M301.8 325.7h0M300.9 311.4h0M302.5 311.6h0M298.5 307.7h0M300.1 321.7h0M297.3 291.4h0M302.9 326.5h0M304.7 319.1h0M300.2 323.3h0M298.8 294.5h0M300.4 322.5h0M300.8 313.1h0M301.7 322.3h0M300.2 313.7h0M305.8 329.5h0M298.0 327.4h0M302.8 315.3h0M303.7 334.5h0M301.2 313.3h0M299.0 305.6h0M300.6 329.3h0M300.5 298.1h0M302.2 324.6h0M299.4 314.9h0M303.7 334.3h0M296.1 292.3h0M299.4 303.2h0M305.9 331.1h0M302.5 315.9h0M298.3 299.5h0M300.2 321.9h0M299.6 312.3h0M297.8 316.3h0M297.3 297.9h0M296.4 291.4h0M302.8 330.9h0M303.8 319.5h0M302.8 333.8h0M301.5 312.2h0M298.6 302.2h0M293.1 292.8h0M302.2 314.8h0M301.8 325.2h0M302.9 331.8h0M298.6 307.1h0M298.0 302.2h0M298.7 300.7h0M300.3 332.8h0M304.4 320.0h0M301.6 313.8h0M301.0 331.9h0M300.9 323.8h0M301.2 313.9h0M303.4 324.6h0M301.5 319.9h0M297.6 324.6h0M297.7 305.3h0M303.0 321.4h0M297.0 297.4h0M297.7 291.9h0M297.4 313.0h0M301.4 324.5h0M295.8 300.3h0M302.7 330.1h0M296.3 311.6h0M300.4 320.1h0M302.4 329.3h0M303.8 325.7h0M301.6 319.3h0M297.5 302.7h0M298.3 297.9h0M296.4 316.5h0M300.5 316.7h0M301.7 316.8h0M297.4 308.2h0M298.3 297.9h0M302.7 331.8h0M301.3 320.5h0M302.4 321.0h0M294.4 291.4h0M299.8 314.0h0M298.3 314.3h0" stroke="#6e1144" stroke-opacity="1" stroke-width="1.9" stroke-linecap="round"/>
<path d="M309.1 288.5h0M324.1 298.5h0M316.8 296.9h0M301.2 295.6h0M315.2 293.8h0M309.7 289.2h0M306.4 288.6h0M304.9 292.7h0M317.1 295.0h0M320.9 298.5h0M310.8 288.8h0M310.8 291.4h0M307.0 288.8h0M319.6 297.8h0M324.4 301.6h0M310.5 289.4h0M310.6 289.3h0M304.0 292.8h0M307.0 291.2h0M308.8 288.3h0M309.6 288.5h0M303.0 293.0h0M308.3 288.9h0M301.7 296.7h0M306.3 290.6h0M314.9 295.2h0M323.4 298.4h0M306.3 293.5h0M316.9 295.1h0M304.4 291.3h0M324.4 299.3h0M306.0 292.0h0M301.4 297.0h0M323.7 300.3h0M307.9 289.1h0M304.7 292.6h0M310.8 289.3h0M320.2 299.0h0M308.7 288.4h0M310.7 289.6h0M316.3 293.2h0M301.3 298.1h0M322.7 299.3h0M317.6 294.9h0M313.1 293.6h0M308.5 289.1h0M325.1 299.6h0M300.6 295.2h0M299.9 297.7h0M314.7 292.2h0M316.2 294.6h0M304.9 295.3h0M319.3 300.2h0M310.1 289.1h0M308.1 289.8h0M316.8 296.1h0M309.5 288.3h0M302.7 292.9h0M309.3 289.6h0M300.8 296.9h0M307.3 290.3h0M313.3 293.1h0M301.3 295.5h0M309.1 290.1h0M311.2 290.2h0M300.9 297.2h0M304.4 292.2h0M301.5 297.2h0M311.6 291.7h0M315.5 293.6h0M300.4 298.2h0M313.5 292.1h0M321.8 297.9h0M300.8 296.7h0M313.6 293.3h0M307.6 290.0h0M303.8 294.8h0M321.7 298.4h0M306.9 289.8h0M320.7 298.4h0M322.0 299.9h0M305.5 291.4h0M321.9 298.3h0M323.2 298.6h0M300.8 298.6h0M321.3 299.8h0M315.4 293.4h0M301.0 298.7h0M312.4 291.3h0M320.8 298.8h0M320.3 299.2h0M322.2 298.9h0M312.5 290.6h0M301.2 294.4h0M308.0 289.3h0M307.0 290.5h0M314.3 294.1h0M306.3 291.4h0M313.0 292.1h0M307.7 290.7h0M311.4 289.2h0M315.0 294.2h0M319.7 298.0h0M300.8 296.9h0M309.5 290.5h0M307.6 289.9h0M314.2 294.6h0M316.8 296.2h0M317.2 295.4h0M304.7 294.9h0" stroke="#6e1144" stroke-opacity="1" stroke-width="1.9" stroke-linecap="round"/>
<path d="M319.0 296.3h0M310.3 308.0h0M309.2 294.1h0M301.8 298.5h0M308.9 295.0h0M308.2 301.4h0M311.8 304.3h0M306.7 296.3h0M314.7 303.0h0M309.5 291.7h0M297.4 298.1h0M306.1 290.7h0M302.9 298.0h0M299.9 294.0h0M308.1 298.3h0M317.5 291.5h0M301.2 298.3h0M294.0 297.7h0" stroke="#6e1144" stroke-opacity="1" stroke-width="1.8" stroke-linecap="round"/>
<path d="M309.9 331.9h0M334.5 310.8h0M301.3 335.1h0M302.1 343.8h0M336.6 314.7h0M308.0 342.6h0M316.8 338.6h0M336.8 318.1h0M319.3 335.1h0M300.9 337.0h0M320.6 335.4h0M326.5 318.6h0M310.9 348.2h0M312.9 337.3h0M316.4 336.5h0M298.6 335.6h0M331.4 326.4h0M306.1 344.4h0M307.6 330.7h0M318.0 329.1h0M328.5 319.4h0M302.8 336.9h0M340.7 314.4h0M328.6 336.2h0M306.1 333.7h0M309.8 342.4h0M322.0 327.4h0M306.3 345.3h0M303.8 327.9h0M333.2 311.0h0M337.9 318.0h0M323.1 323.1h0M334.8 323.4h0M304.3 337.0h0M315.4 340.1h0M301.6 343.2h0M323.0 325.4h0M299.0 337.7h0M304.6 338.5h0M340.5 312.7h0M304.1 339.5h0M333.0 309.2h0M333.4 338.7h0M316.0 324.9h0M305.6 337.9h0M318.7 334.6h0M312.8 330.0h0M328.2 322.7h0M333.9 309.9h0M310.6 329.1h0M301.9 342.5h0M330.7 309.1h0M318.9 327.3h0M321.1 336.7h0M325.9 318.0h0M328.3 326.5h0M326.6 331.9h0M308.0 342.8h0M333.1 319.7h0M310.6 335.9h0M320.7 321.3h0M308.9 338.4h0M311.4 339.0h0M324.2 323.5h0M326.1 318.9h0M338.7 313.1h0M324.5 319.8h0M327.6 326.1h0M323.4 324.5h0M308.7 329.3h0M340.3 317.1h0M326.2 328.6h0M303.3 342.4h0M316.9 325.0h0M314.8 333.6h0M307.7 339.5h0M325.7 320.5h0M337.9 321.8h0M325.5 310.0h0M335.7 317.0h0M328.1 306.5h0M306.4 331.1h0M319.8 322.9h0M319.2 334.2h0M327.0 319.3h0M325.9 320.7h0M302.0 335.8h0M308.6 330.4h0M308.7 333.4h0M301.7 335.5h0M311.4 334.7h0M319.7 328.6h0M307.6 325.9h0M305.9 335.6h0M336.0 321.1h0M302.2 337.7h0M310.9 336.4h0M325.4 320.7h0M315.8 329.5h0M326.1 324.0h0M301.5 333.7h0M333.6 312.2h0M312.8 326.2h0M333.0 318.1h0M314.0 325.9h0M334.3 318.5h0M302.9 344.4h0M308.2 329.6h0M338.2 311.6h0M302.6 337.7h0M336.8 318.7h0M315.0 330.8h0M319.9 328.7h0M311.9 334.3h0M318.5 338.2h0M327.6 306.3h0M322.0 333.0h0M306.5 338.6h0M328.1 319.1h0M309.3 336.0h0M325.3 331.0h0M333.8 320.9h0M323.9 336.8h0M303.2 336.3h0M323.2 315.2h0M331.7 311.8h0M326.7 322.4h0M332.3 311.7h0M323.1 334.7h0M312.8 346.8h0M315.6 335.3h0M323.8 314.7h0M338.2 314.8h0M310.3 333.4h0M331.6 317.5h0M333.3 321.9h0M310.8 338.3h0M331.2 317.2h0M318.8 332.5h0M307.7 341.3h0M325.3 329.0h0M316.7 343.8h0M313.0 318.3h0M331.4 310.0h0M308.2 334.7h0M325.6 330.0h0M322.3 329.4h0M309.0 341.3h0M320.4 320.8h0M310.6 335.5h0M335.9 315.2h0M332.0 315.9h0M320.9 326.9h0M311.7 337.4h0M309.0 345.1h0M307.2 327.8h0M327.1 333.3h0M325.0 327.1h0M304.8 334.6h0M332.3 322.0h0M320.8 329.8h0M339.8 313.5h0M315.0 329.2h0M322.3 333.8h0M327.1 316.8h0M318.5 332.9h0M333.2 320.7h0M322.2 327.6h0M306.3 341.3h0M331.0 312.6h0M337.4 316.4h0M304.9 336.3h0M312.6 331.4h0M323.1 326.5h0M304.6 338.6h0M315.2 328.8h0M304.1 342.8h0M321.8 327.7h0M322.1 331.9h0M328.0 309.6h0M325.8 315.4h0M311.3 334.7h0M324.3 319.7h0M334.1 311.3h0M306.6 340.8h0M325.8 331.6h0M308.8 344.3h0M313.4 339.1h0M318.7 327.1h0M301.1 342.7h0M319.2 327.8h0M314.5 337.0h0M301.1 335.0h0M326.5 332.4h0M309.7 338.9h0M308.7 336.0h0M328.8 309.4h0M319.4 332.1h0M321.1 325.9h0M305.0 339.9h0M331.6 310.3h0M322.4 324.5h0M314.6 337.3h0M331.5 328.2h0M322.1 320.2h0M320.2 328.9h0M319.3 332.7h0M304.0 338.3h0M328.2 319.2h0M305.0 349.1h0" stroke="#e8223f" stroke-opacity="1" stroke-width="1.8" stroke-linecap="round"/>
<path d="M292.8 324.3h0M309.6 302.0h0M297.7 313.4h0M303.2 326.2h0M275.2 298.1h0M317.0 318.1h0M301.6 286.4h0M291.1 298.8h0M327.9 308.3h0M300.7 325.2h0M296.0 323.0h0M292.7 301.8h0M319.5 312.0h0M305.0 316.1h0M300.2 293.4h0M286.0 319.2h0M291.9 331.3h0M309.4 329.9h0M304.3 306.0h0M276.4 308.4h0M292.3 301.5h0M307.8 307.3h0M336.8 310.4h0M294.0 322.6h0M275.2 314.8h0M315.3 301.6h0M297.9 324.3h0M286.1 325.1h0M312.5 305.8h0M301.3 310.5h0M291.1 312.4h0M286.2 292.3h0M302.9 315.5h0M305.8 322.4h0M279.7 339.0h0M318.4 316.2h0M286.8 310.0h0M324.2 311.8h0M309.2 321.7h0M302.0 324.1h0M309.3 302.6h0M296.3 316.2h0M303.7 322.2h0M327.6 287.6h0M296.6 331.6h0" stroke="#e8223f" stroke-opacity="1" stroke-width="1.7" stroke-linecap="round"/>
<path d="M357.8 239.3h0M358.9 249.0h0M349.5 269.7h0M359.6 258.2h0M357.8 238.2h0M356.1 266.7h0M355.2 275.0h0M355.1 244.1h0M354.2 270.1h0M353.5 260.3h0M358.9 261.3h0M353.2 240.6h0M348.2 272.9h0M355.0 275.4h0M358.1 242.8h0M354.9 268.3h0M357.2 250.8h0M360.2 238.5h0M356.1 257.2h0M352.7 268.8h0M358.0 259.9h0M362.6 239.1h0M355.7 270.3h0M358.8 254.1h0M355.2 258.4h0M359.4 253.4h0M355.9 274.3h0M355.7 257.7h0M353.7 268.1h0M351.8 272.7h0M356.4 260.0h0M351.9 268.9h0M357.5 246.0h0M362.5 244.3h0M354.8 265.3h0M354.1 262.7h0M353.3 273.3h0M355.1 250.7h0M359.4 244.5h0M356.4 253.2h0M356.7 271.6h0M357.0 258.3h0M360.0 249.9h0M359.6 257.0h0M358.2 265.8h0M357.3 242.0h0M354.6 263.8h0M359.2 254.5h0M356.8 271.1h0M356.6 268.2h0M353.2 266.0h0M360.1 239.2h0M354.5 257.4h0M361.2 239.3h0M357.8 251.0h0M356.8 244.7h0M354.6 255.7h0M359.6 245.8h0M360.4 250.1h0M358.3 266.6h0" stroke="#e8223f" stroke-opacity="1" stroke-width="1.7" stroke-linecap="round"/>
<path d="M342.1 249.5h0M333.8 249.2h0M331.2 252.5h0M331.5 250.2h0M336.9 249.4h0M335.1 257.1h0M344.3 242.3h0M317.7 265.2h0M341.6 246.0h0M330.6 242.7h0M334.3 255.4h0M332.4 257.5h0M334.2 258.7h0M340.9 260.2h0M336.7 253.3h0M323.4 250.4h0" stroke="#e8223f" stroke-opacity="1" stroke-width="1.6" stroke-linecap="round"/>
<path d="M294.4 292.3h0M295.9 288.8h0M296.3 286.7h0M291.9 293.2h0M292.6 299.6h0M296.2 288.9h0M292.4 297.5h0M296.8 290.4h0M297.8 282.8h0M294.6 293.7h0M294.6 295.5h0M300.2 281.0h0M298.3 282.4h0M299.1 280.2h0M299.7 278.3h0M297.1 285.0h0M296.5 288.8h0M294.7 290.3h0M296.0 288.7h0M291.5 295.5h0M300.5 282.5h0M291.0 298.6h0M293.2 294.3h0M300.1 278.9h0M300.4 279.2h0M300.2 280.5h0M295.6 291.5h0M296.4 290.7h0M296.8 282.7h0M293.7 292.4h0M296.9 285.0h0M293.2 295.1h0M295.4 294.4h0M298.6 283.1h0M300.1 279.4h0M294.0 291.0h0M300.7 280.1h0M295.0 290.2h0M294.6 292.5h0M299.3 281.1h0M294.3 295.0h0M296.5 286.5h0M294.7 291.6h0M297.1 289.7h0M293.2 293.2h0M294.3 287.9h0M296.3 289.5h0M295.3 287.7h0M299.9 281.7h0M295.1 291.8h0M299.4 277.8h0M296.5 286.9h0M292.4 294.6h0M292.8 296.6h0M292.3 296.2h0M294.0 294.2h0M291.1 298.9h0M290.6 299.3h0M296.3 286.4h0M294.8 292.8h0" stroke="#e8223f" stroke-opacity="1" stroke-width="1.9" stroke-linecap="round"/>
<path d="M349.3 279.7h0M347.1 289.2h0M351.0 280.2h0M348.1 286.1h0M349.8 284.0h0M347.1 288.3h0M348.1 289.9h0M350.0 279.2h0M348.4 283.4h0M346.7 288.1h0M349.3 282.9h0M348.0 279.8h0M350.0 284.0h0M349.4 278.4h0M350.8 280.3h0M347.9 288.2h0M349.2 288.2h0M348.2 287.6h0M349.0 278.6h0M349.7 286.0h0" stroke="#e8223f" stroke-opacity="1" stroke-width="1.8" stroke-linecap="round"/>
<path d="M302.8 301.2h0M326.8 304.5h0M311.7 302.8h0M321.4 304.6h0M317.0 302.5h0M330.0 303.1h0M305.8 300.4h0M323.3 305.6h0M316.6 302.0h0M337.0 305.1h0M312.3 301.7h0M317.5 304.6h0M312.9 302.4h0M351.4 308.6h0M303.6 301.2h0M308.7 303.0h0M347.9 307.7h0M319.2 304.9h0M340.9 304.7h0M302.6 301.5h0M306.1 302.3h0M332.6 303.0h0M307.3 303.3h0M311.7 303.4h0M318.7 304.3h0M333.7 303.7h0M307.4 302.7h0M301.7 302.4h0M320.2 305.1h0M336.5 305.0h0M343.9 307.2h0M330.1 307.3h0M316.4 302.9h0M350.8 306.6h0M315.9 303.0h0M341.9 304.4h0M341.4 305.7h0M335.5 307.4h0M328.3 303.6h0M309.9 302.5h0M330.2 306.4h0M298.5 302.2h0M352.1 307.5h0M328.0 304.3h0M325.3 304.3h0M352.1 307.2h0M346.7 307.5h0M314.8 303.4h0M351.2 308.2h0M350.2 304.8h0M307.5 303.5h0M322.6 303.5h0M320.0 303.9h0M329.8 304.4h0M335.1 306.2h0M321.1 303.8h0M335.7 306.3h0M333.5 304.3h0M326.5 304.8h0M299.4 303.1h0M312.9 304.4h0M319.6 303.4h0M338.7 306.0h0M318.7 303.3h0M312.5 302.9h0M300.4 301.8h0M338.2 307.3h0M319.0 304.4h0M327.8 306.4h0M347.9 308.6h0M335.6 304.0h0M311.9 303.4h0M314.0 302.7h0M333.7 303.4h0M345.4 305.3h0M308.4 302.0h0M321.6 306.0h0M309.8 302.9h0M304.8 302.0h0M337.5 305.7h0M321.1 303.1h0M321.4 304.2h0M346.0 306.5h0M299.0 299.7h0M311.1 302.3h0M300.7 305.8h0M299.1 302.4h0M328.2 304.6h0M316.3 304.3h0M336.8 304.5h0M308.9 302.8h0M305.3 303.3h0M340.1 304.1h0M301.0 301.0h0M329.5 304.4h0M301.0 301.5h0M351.3 306.5h0M348.8 307.2h0M301.1 303.0h0M351.7 307.6h0M329.5 306.1h0M340.0 307.2h0M346.1 305.9h0M323.8 304.6h0M324.2 303.9h0M317.0 304.3h0M333.0 304.8h0M299.8 301.5h0M336.8 307.7h0M339.8 305.8h0M337.6 303.9h0M333.3 305.4h0M316.3 303.8h0M336.9 305.1h0M320.0 303.9h0M334.5 306.6h0M312.4 302.4h0M313.1 302.9h0M335.2 304.7h0M307.8 302.9h0M345.5 306.4h0M344.9 305.4h0M329.5 304.7h0M312.6 305.2h0M317.8 301.6h0M306.6 300.8h0M340.5 306.5h0M352.7 305.6h0M304.5 304.5h0M302.3 300.2h0M322.9 302.6h0M353.4 306.8h0M309.7 304.0h0M309.6 303.7h0M320.8 304.6h0M317.1 303.9h0M313.0 304.7h0M331.0 302.9h0M304.1 302.5h0M302.9 303.7h0M326.2 303.3h0M352.0 307.6h0M309.0 304.1h0M310.9 304.4h0M310.9 302.7h0M302.6 304.2h0M303.5 302.7h0M316.0 304.7h0M314.4 302.0h0M331.6 304.2h0M307.4 301.6h0M349.7 309.1h0M330.7 302.3h0M344.0 304.3h0M305.1 303.2h0M344.5 306.6h0M321.6 300.6h0M316.9 303.1h0M348.1 306.5h0M322.9 305.6h0M315.0 301.1h0M320.9 303.3h0M331.5 306.4h0M311.7 303.9h0M326.7 303.5h0M316.7 303.2h0M305.5 300.6h0M299.5 303.3h0M345.0 306.0h0M349.0 308.4h0" stroke="#4a3c9c" stroke-opacity="1" stroke-width="1.9" stroke-linecap="round"/>
<path d="M361.8 313.7h0M368.9 317.4h0M370.2 318.5h0M374.1 317.7h0M361.6 312.5h0M368.6 315.5h0M373.7 317.2h0M367.4 312.9h0M373.5 320.2h0M372.8 318.3h0M362.3 316.9h0M366.6 314.5h0M363.5 315.0h0M371.3 317.5h0M359.4 312.7h0M369.1 317.6h0M358.5 312.5h0M359.4 312.7h0M370.9 317.2h0M362.8 311.0h0M368.0 314.9h0M373.4 317.0h0M360.7 315.4h0M364.6 315.4h0M370.6 317.9h0M368.1 316.7h0M368.6 315.8h0M360.9 315.5h0M367.0 315.2h0M372.6 315.7h0M366.7 316.2h0M368.2 317.5h0M369.6 316.6h0M364.2 314.9h0M366.3 316.5h0M363.6 316.3h0M362.7 314.7h0M359.0 314.9h0M372.5 318.0h0M363.1 316.9h0M370.5 315.0h0M361.4 314.7h0M367.9 316.2h0M370.3 316.9h0M370.2 315.0h0M365.7 316.4h0M374.4 318.1h0M361.3 312.2h0M370.7 316.1h0M360.5 312.9h0M366.5 315.4h0M358.9 311.4h0M359.9 311.7h0M372.7 318.2h0M370.4 316.7h0M358.3 315.0h0M360.0 312.4h0M359.9 313.9h0M371.2 319.4h0M366.3 314.9h0M371.4 318.5h0M368.0 316.3h0M370.8 317.0h0M359.9 315.1h0M370.5 315.5h0M363.5 313.4h0M369.5 314.1h0M361.0 313.2h0M363.4 315.5h0M371.4 316.9h0M359.4 313.9h0M361.3 312.4h0M362.6 315.4h0M361.9 313.5h0M372.0 316.8h0M371.8 319.5h0M371.8 317.3h0M365.3 315.6h0M368.6 316.2h0M367.3 316.5h0M368.7 316.3h0M368.9 314.6h0M373.1 318.2h0M368.7 316.8h0M358.8 313.1h0M370.6 316.6h0M366.6 317.7h0M371.4 316.2h0M363.9 314.5h0M361.7 313.9h0" stroke="#4a3c9c" stroke-opacity="1" stroke-width="1.9" stroke-linecap="round"/>
<path d="M387.0 298.0h0M393.0 288.0h0M381.0 318.0h0" stroke="#4a3c9c" stroke-opacity="1" stroke-width="1.8" stroke-linecap="round"/>
<path d="M283.3 322.5h0M291.1 298.8h0M281.5 315.3h0M271.2 308.7h0M299.6 307.1h0M280.1 322.8h0M278.2 323.5h0M287.1 301.2h0M297.3 312.9h0M276.3 317.0h0M276.4 315.3h0M288.1 302.2h0M280.6 323.6h0M284.2 299.5h0M277.5 323.9h0M296.3 303.3h0M298.7 313.0h0M276.8 310.7h0M293.4 304.3h0M273.9 307.8h0M280.4 304.9h0M289.7 320.5h0M296.0 307.4h0M289.6 300.7h0M278.6 310.1h0M269.7 310.5h0M278.9 310.6h0M288.5 307.3h0M276.1 310.7h0M281.2 319.2h0M275.5 305.4h0M299.4 306.1h0M298.6 301.6h0M282.1 311.6h0M294.7 317.1h0M283.8 303.4h0M287.4 311.7h0M285.6 320.0h0M285.6 326.1h0M287.9 317.5h0M295.4 296.6h0M291.0 307.8h0M291.0 323.7h0M278.3 301.8h0M279.0 308.4h0M286.8 317.1h0M294.7 308.9h0M272.6 313.3h0M283.1 310.3h0M271.7 317.4h0M291.3 312.7h0M292.5 311.3h0M297.4 296.3h0M288.9 314.5h0M292.2 304.0h0M276.1 316.1h0M291.0 300.9h0M281.2 316.2h0M295.9 314.7h0M277.9 317.7h0M295.3 309.6h0M276.5 319.5h0M279.9 309.5h0M293.2 304.3h0M274.8 319.7h0M295.9 317.3h0M272.8 316.5h0M293.0 319.2h0M291.6 309.6h0M287.2 308.9h0M286.6 322.4h0M293.1 312.9h0M271.7 315.7h0M283.4 309.4h0M283.6 308.0h0M292.3 298.9h0M295.1 298.3h0M279.9 320.3h0M296.9 316.6h0M277.7 302.6h0M297.2 313.4h0M278.7 302.2h0M277.1 314.1h0M272.6 319.0h0M296.1 295.2h0M275.4 322.1h0M288.8 302.3h0M275.9 314.7h0M275.9 312.1h0M298.6 314.8h0M293.5 318.2h0M279.1 313.5h0M294.6 306.9h0M284.4 312.5h0M273.3 315.7h0M277.4 315.2h0M291.5 305.7h0M279.6 314.4h0M294.3 308.8h0M273.8 318.9h0M271.0 309.6h0M269.7 314.2h0M288.8 323.9h0M281.2 317.8h0M271.0 311.3h0M294.3 298.8h0M288.4 313.8h0M275.2 308.3h0M282.8 307.1h0M295.7 318.5h0M299.3 311.9h0M286.5 300.7h0M284.5 317.2h0M280.7 309.6h0M276.3 319.8h0M294.9 306.4h0M278.6 322.1h0M289.0 312.4h0M293.8 296.6h0M277.1 303.8h0M273.4 317.5h0M288.3 322.7h0M285.7 299.6h0M293.0 296.5h0M280.4 315.1h0M271.8 316.6h0M280.3 317.3h0M284.8 322.0h0M297.0 314.9h0M283.9 324.7h0M297.0 294.9h0M292.4 303.3h0M284.6 297.6h0M287.4 324.7h0M276.8 313.5h0M290.0 322.2h0M279.8 312.4h0M292.2 302.2h0M296.4 304.5h0M293.6 300.1h0M294.7 309.3h0M280.3 307.8h0M279.2 304.3h0M285.1 308.0h0M284.8 323.2h0M285.4 325.2h0M277.2 309.1h0M278.5 317.4h0M282.4 313.3h0M286.3 307.7h0M277.8 309.5h0M298.0 304.1h0M275.2 320.7h0M275.0 306.0h0M282.7 301.3h0M299.3 298.6h0M272.2 318.4h0M296.3 310.0h0M295.3 316.6h0M276.1 314.9h0M275.5 312.6h0M287.4 311.5h0M288.3 307.0h0M283.9 316.6h0M298.3 308.3h0M296.0 313.4h0M290.4 309.6h0M297.3 299.8h0M289.7 318.9h0M290.2 297.0h0M280.0 325.0h0M297.0 313.1h0M279.7 319.0h0M284.8 303.6h0M289.7 296.8h0M286.0 313.3h0M277.7 321.3h0M285.7 318.4h0M278.3 321.4h0M289.4 318.3h0M285.5 307.4h0M288.1 305.9h0M285.3 325.3h0M280.6 313.1h0M298.1 312.0h0M293.1 319.4h0M276.4 319.2h0M269.6 315.2h0M290.8 315.7h0M297.8 314.9h0M283.9 312.8h0M276.2 319.2h0M288.0 319.5h0M295.4 313.0h0M278.8 321.6h0M290.8 307.5h0M287.0 313.5h0M275.4 321.5h0M292.9 300.4h0M285.3 316.6h0M286.7 324.1h0M286.5 304.8h0M291.4 319.8h0M284.6 325.4h0M295.6 313.1h0M280.1 316.9h0M299.7 305.0h0M281.7 319.0h0M293.1 307.1h0M283.6 323.5h0M267.7 313.3h0M277.1 308.9h0M286.6 311.3h0M293.8 308.4h0M268.2 310.7h0M283.8 317.9h0M293.1 305.5h0M278.1 317.3h0M276.1 309.6h0M295.1 304.6h0M285.2 321.8h0M300.2 305.3h0M289.8 301.6h0M299.0 313.0h0M286.7 309.7h0M279.9 314.7h0M289.4 297.9h0M284.3 302.9h0M287.5 311.7h0M296.1 294.8h0M288.6 322.0h0M273.3 313.0h0M298.1 301.8h0M279.7 322.2h0M291.6 305.6h0M289.0 315.2h0M292.1 305.8h0M292.3 301.7h0M282.6 322.0h0M282.9 325.9h0M282.5 308.5h0M272.1 317.5h0M294.3 301.1h0M296.8 309.2h0M275.0 319.6h0M268.4 311.5h0M295.0 319.3h0M285.0 309.7h0M297.8 299.3h0M274.7 313.0h0M273.3 312.1h0M278.8 321.2h0M293.3 305.5h0M284.9 309.0h0M280.2 321.4h0M278.7 311.8h0M281.7 327.2h0M274.5 315.1h0M290.7 316.1h0M286.4 302.3h0M290.7 296.6h0M293.3 295.4h0M272.5 306.4h0M287.8 303.2h0M292.1 296.8h0M293.2 321.0h0M292.6 297.1h0M273.4 308.4h0M279.6 308.9h0M289.9 300.3h0M283.8 299.5h0M293.3 305.3h0M273.2 307.4h0M280.7 314.8h0M277.5 316.4h0M295.3 315.0h0M277.6 308.7h0M291.4 300.3h0M288.0 319.1h0M270.1 310.4h0M296.1 302.7h0M297.4 303.4h0M278.2 319.4h0M278.8 320.9h0M287.1 312.5h0M287.6 315.4h0M286.5 315.8h0M275.3 321.2h0M276.6 303.5h0M275.5 318.0h0M287.2 322.1h0M290.7 300.7h0M281.6 302.6h0M283.9 303.8h0M278.3 315.8h0M279.9 311.8h0M298.8 302.6h0M296.7 300.4h0M292.9 297.1h0M296.4 316.4h0M287.6 317.2h0M299.6 301.1h0M293.3 318.9h0M284.6 321.3h0M283.6 304.2h0M288.0 305.0h0M291.4 321.1h0M285.2 321.4h0M279.9 319.9h0M279.3 307.3h0M294.0 317.6h0M283.8 309.1h0M290.2 311.1h0M281.0 301.5h0M285.6 308.1h0M297.1 298.3h0M281.8 299.1h0M280.0 305.2h0M296.7 313.8h0M286.1 311.2h0M271.5 314.2h0M293.2 311.1h0M285.0 316.0h0M287.0 299.7h0M271.1 313.9h0M289.3 303.3h0M294.5 306.0h0M298.7 313.4h0M284.5 310.0h0M286.2 324.0h0M300.2 300.6h0M274.3 309.2h0M295.8 305.2h0M283.8 301.6h0M279.0 321.1h0M288.0 314.6h0M291.5 301.5h0M278.5 319.7h0M286.5 313.1h0M279.3 308.6h0M295.5 314.1h0M281.8 325.8h0M286.9 325.7h0M277.9 316.2h0M292.6 304.0h0M285.0 317.9h0M278.0 306.8h0M283.1 325.3h0M293.5 311.3h0M291.9 314.6h0M288.3 315.3h0M270.7 315.3h0M278.0 318.2h0M273.8 309.6h0M276.7 319.8h0M279.4 325.3h0M293.7 300.9h0M292.2 300.6h0M292.0 314.7h0M283.2 306.2h0M283.8 299.7h0M297.0 295.8h0M279.1 322.4h0M290.9 298.6h0M296.4 295.4h0M286.0 313.1h0M278.7 303.3h0M296.6 299.6h0M269.4 311.9h0M292.4 308.4h0M276.1 307.5h0M290.5 316.6h0M297.1 310.9h0M282.6 325.3h0M294.1 319.1h0M278.1 307.1h0M295.5 307.6h0M280.2 322.3h0M280.6 317.6h0M293.7 311.3h0M270.5 310.6h0M290.2 296.0h0M281.8 311.9h0M290.3 309.1h0M292.1 299.1h0M274.5 313.3h0M296.9 316.3h0M288.9 307.2h0M278.1 306.0h0M277.0 308.2h0M279.5 317.8h0M282.2 312.6h0M280.2 315.2h0M277.9 304.8h0M292.3 296.3h0M296.7 316.8h0M271.4 307.9h0M286.3 308.1h0M296.7 302.1h0M283.8 319.4h0M266.5 312.6h0M289.5 315.0h0M296.1 303.3h0M297.3 306.4h0M281.5 316.5h0M287.0 320.7h0M279.7 314.7h0M282.8 311.2h0M295.0 311.4h0M293.7 303.3h0M280.5 301.1h0M277.2 317.3h0M293.5 313.8h0M277.0 321.0h0M295.1 297.6h0M275.3 314.6h0M284.0 322.7h0M272.3 313.7h0M279.2 318.0h0M278.9 313.2h0M280.8 303.2h0M274.7 318.5h0M277.8 314.3h0M282.6 311.8h0M284.0 320.6h0M287.3 325.5h0M289.9 322.1h0M281.4 313.3h0M275.6 310.4h0M287.1 310.6h0M282.8 299.0h0M272.7 309.7h0M291.5 304.3h0M289.6 320.9h0M290.3 311.6h0M287.1 311.7h0M285.9 303.4h0M295.7 310.6h0M268.8 309.9h0M281.7 300.2h0M296.3 304.5h0M284.3 308.9h0M287.5 307.0h0M298.4 299.4h0M290.2 320.8h0M276.4 307.6h0M295.6 298.2h0M296.1 299.3h0M290.1 317.2h0M299.2 301.8h0M293.4 316.1h0M298.5 306.4h0M279.7 315.8h0M281.4 315.5h0M276.6 318.4h0M271.0 313.4h0M287.8 316.2h0M299.4 306.4h0M270.9 314.9h0M287.9 299.7h0M281.6 327.6h0M287.2 319.5h0M284.3 323.0h0M282.6 303.0h0M276.3 311.8h0M295.0 310.1h0M296.7 304.7h0M283.0 307.8h0M296.0 310.2h0M275.0 316.7h0M291.8 304.9h0M295.8 317.5h0M285.3 298.9h0M280.8 325.7h0M280.3 316.4h0M277.4 307.4h0M294.5 314.7h0M276.1 304.1h0M271.5 317.0h0M285.7 302.8h0M279.8 322.9h0M280.6 326.3h0M290.3 318.0h0M280.8 321.6h0M277.0 322.7h0M298.1 303.8h0M277.4 314.1h0M299.5 308.3h0M282.7 324.4h0M296.6 306.9h0M267.5 311.5h0M293.6 307.5h0M290.9 303.5h0M272.5 314.4h0M284.0 315.7h0M294.8 300.8h0M286.2 324.3h0M282.3 321.8h0M289.6 301.8h0M292.1 296.0h0M286.6 309.4h0M292.5 298.4h0M282.8 321.8h0M299.2 302.1h0M275.5 304.9h0M273.2 305.7h0M287.3 313.2h0M282.2 312.5h0M286.0 304.5h0M282.4 315.2h0M287.4 301.7h0M269.7 317.0h0M279.0 305.0h0M285.2 302.1h0M287.3 306.0h0M281.3 303.3h0M290.5 319.9h0M283.5 298.2h0M278.0 322.0h0M289.8 297.7h0" stroke="#7dcbe6" stroke-opacity="1" stroke-width="1.9" stroke-linecap="round"/>
<path d="M328.8 312.9h0M350.5 310.0h0M345.1 312.5h0M322.1 312.7h0M349.3 310.8h0M309.9 313.7h0M309.4 313.4h0M330.5 312.9h0M313.6 312.4h0M301.0 312.5h0M346.1 309.5h0M346.5 309.4h0M291.4 310.9h0M338.8 312.7h0M355.1 312.7h0M346.8 312.2h0M296.2 310.8h0M291.7 311.2h0M318.9 311.3h0M353.1 310.9h0M354.3 310.7h0M287.0 311.6h0M353.5 311.2h0M334.1 313.9h0M335.1 313.5h0M303.1 310.9h0M332.8 313.7h0M356.3 309.4h0M329.3 313.3h0M354.5 310.9h0M337.5 314.6h0M303.2 312.5h0M311.7 312.7h0M304.7 312.2h0M307.7 313.9h0M335.9 313.0h0M322.3 312.6h0M353.8 311.8h0M299.9 315.6h0M294.8 314.6h0M291.6 314.3h0M303.9 311.9h0M339.4 312.4h0M297.6 312.6h0M333.6 310.6h0M354.6 312.7h0M332.6 310.9h0M300.7 313.1h0M342.9 310.7h0M348.8 311.6h0M325.2 313.9h0M314.1 313.6h0M331.1 311.7h0M292.5 311.0h0M335.2 313.8h0M302.3 312.5h0M333.5 312.8h0M308.6 314.1h0M313.3 309.5h0M355.6 311.0h0M310.9 314.5h0M345.2 314.0h0M292.8 313.1h0M337.6 311.7h0M290.8 313.4h0M323.6 315.3h0M352.4 310.3h0M305.5 311.7h0M306.4 312.5h0M354.6 310.3h0M317.8 310.3h0M333.2 309.8h0M339.3 311.0h0M340.1 311.8h0M358.3 310.8h0M357.4 309.9h0M290.8 312.2h0M288.8 313.9h0M342.1 315.8h0M300.3 313.8h0M338.4 311.4h0M293.6 313.6h0M320.0 313.0h0M318.1 313.4h0M318.2 314.3h0M327.3 313.8h0M294.9 310.2h0M319.1 311.5h0M360.3 310.4h0M289.5 312.9h0M345.5 314.3h0M328.3 313.6h0M299.2 311.9h0M336.0 312.0h0M311.0 311.8h0M321.6 311.3h0M301.4 310.7h0M360.7 309.5h0M355.9 310.7h0M323.4 312.0h0M321.5 313.0h0M314.9 312.5h0M329.0 312.5h0M333.0 312.2h0M342.8 312.5h0M296.1 312.3h0M354.0 307.9h0M290.6 312.3h0M356.0 310.7h0M301.5 311.7h0M322.1 313.2h0M348.7 310.7h0M311.9 313.0h0M293.0 310.7h0M336.8 313.4h0M340.5 312.9h0M316.0 311.0h0M335.1 311.8h0M349.1 312.2h0M285.2 312.2h0M334.5 312.8h0M332.4 311.3h0M319.6 312.1h0M300.2 312.8h0M310.8 313.2h0M316.1 312.9h0M347.0 310.7h0M341.4 312.1h0M323.8 312.3h0M308.1 311.1h0M351.2 309.9h0M288.1 310.5h0M312.5 310.8h0M310.4 313.4h0M321.9 314.0h0M288.3 313.1h0M317.4 311.9h0M296.0 311.1h0M289.6 312.2h0M360.4 309.6h0M348.4 311.2h0M310.6 312.3h0M334.5 310.7h0M303.1 314.4h0M352.3 309.4h0M333.5 310.8h0M318.3 314.0h0M307.0 311.2h0M318.5 314.4h0M342.1 312.7h0M344.3 312.4h0M289.2 311.2h0M358.7 308.7h0M324.7 311.4h0M353.7 311.0h0M289.3 311.6h0M350.2 309.9h0M329.9 311.3h0M292.3 310.7h0M285.1 311.4h0M303.1 313.2h0M354.7 311.8h0M335.0 312.2h0M309.8 314.7h0M308.1 313.7h0M339.8 314.3h0M315.4 311.7h0M291.6 312.8h0M333.7 314.0h0M323.7 310.7h0M351.6 312.2h0M292.4 312.6h0M335.4 313.7h0M343.9 312.2h0M323.4 314.4h0M345.8 311.3h0M352.4 310.4h0M341.1 313.2h0M299.9 313.5h0M294.6 310.1h0M326.7 314.3h0M359.8 311.4h0M357.8 311.5h0M319.8 312.1h0M332.4 314.2h0M308.7 313.4h0M333.5 313.8h0M286.4 311.5h0M353.2 310.5h0M353.9 310.1h0M337.1 311.8h0M295.7 313.5h0M306.4 311.6h0M350.7 310.5h0M308.1 313.2h0M345.2 311.6h0M350.1 309.0h0M339.1 311.7h0M307.9 312.2h0M332.4 314.6h0M350.3 312.0h0M339.7 311.3h0M347.2 310.4h0M351.5 310.6h0M325.5 313.1h0M336.3 311.7h0M328.1 313.3h0M359.5 308.7h0M292.1 312.5h0M286.9 313.5h0M345.3 308.8h0M343.9 312.0h0M331.8 313.0h0M285.8 312.3h0M308.2 312.8h0M349.1 311.3h0M296.4 312.7h0M286.9 311.8h0M359.4 310.3h0M326.5 314.8h0M293.8 313.6h0M313.1 314.1h0M349.6 310.6h0M349.3 310.8h0M304.6 314.1h0M343.5 310.9h0M310.8 314.1h0M299.2 310.5h0M328.8 315.4h0M313.5 314.5h0M344.0 311.4h0M352.6 310.5h0M358.8 308.1h0M342.4 312.2h0M312.2 314.4h0M311.3 313.6h0M299.3 312.1h0M320.6 315.6h0M341.7 312.9h0M288.6 312.4h0M293.7 311.6h0M337.7 313.2h0M304.4 316.3h0M326.9 313.4h0M325.1 310.8h0M297.7 312.7h0M352.2 313.2h0M320.4 314.5h0M287.8 310.9h0M351.8 311.5h0M340.4 310.7h0M297.5 313.3h0M345.7 310.8h0M294.1 311.3h0M321.8 312.2h0M335.9 311.8h0M360.7 311.9h0M357.5 312.0h0M352.3 310.7h0M355.7 310.7h0M293.7 314.6h0M288.8 311.3h0M293.5 311.4h0M336.9 311.6h0M288.2 314.1h0M300.3 312.7h0M288.8 311.8h0M332.8 312.2h0M336.4 311.5h0M302.5 313.9h0M304.0 311.5h0M359.1 309.7h0M318.0 310.8h0M305.5 311.1h0M336.3 312.0h0M339.8 311.9h0M324.7 311.0h0M291.7 311.0h0M304.8 312.4h0M345.6 308.8h0M306.1 313.5h0M297.2 311.9h0M306.3 310.8h0M342.0 311.9h0M354.2 311.3h0M351.5 311.1h0M352.6 311.0h0M353.1 310.9h0M358.7 311.0h0M349.4 309.8h0M332.7 312.0h0M307.8 313.2h0M360.8 310.0h0M301.7 311.0h0M309.3 312.3h0M343.1 311.3h0M318.5 313.0h0M288.4 309.2h0M326.8 310.8h0M351.6 309.5h0M324.9 312.7h0M343.7 314.9h0M300.1 313.9h0M344.7 313.3h0M310.1 312.7h0M312.1 314.9h0M341.4 312.7h0M327.6 312.9h0M317.9 314.3h0M312.1 311.1h0M308.7 309.7h0M351.6 309.8h0M329.1 314.5h0M343.7 313.1h0M357.6 310.6h0M319.5 312.7h0M339.5 312.3h0M290.5 312.4h0M322.8 311.8h0M336.7 313.5h0M342.6 311.0h0M332.1 314.3h0M321.1 312.5h0M355.7 309.6h0M298.5 312.0h0M337.4 311.4h0M314.8 312.7h0M286.2 308.8h0M360.7 309.5h0M343.7 312.1h0M349.6 311.8h0M293.5 311.5h0M347.7 312.9h0M318.9 310.8h0M306.5 312.3h0M327.3 312.2h0M349.6 311.3h0M356.6 310.2h0M323.6 314.6h0M342.3 312.2h0M348.3 310.4h0M334.1 315.6h0M360.0 310.1h0M319.9 312.8h0M292.7 313.3h0M319.0 312.2h0M325.0 312.6h0M342.9 313.1h0M348.1 310.2h0M288.4 311.0h0M303.0 313.9h0M296.7 314.9h0M354.1 310.7h0M292.7 311.8h0M351.2 312.4h0M299.7 310.3h0M350.9 310.4h0M323.6 311.9h0M345.7 309.4h0M357.0 307.3h0M360.0 309.7h0M291.1 313.2h0M352.2 311.8h0M341.9 313.7h0M312.1 309.1h0M300.8 312.3h0M334.5 314.2h0M338.0 311.5h0M295.5 310.2h0M340.5 312.8h0M327.1 312.8h0M336.9 313.3h0M348.2 311.5h0M320.2 314.6h0M355.4 311.4h0M328.6 313.1h0M305.5 312.1h0M313.1 313.7h0M307.5 311.7h0M356.7 311.5h0M335.0 314.0h0M326.2 314.0h0M354.4 309.3h0M331.1 313.2h0M323.8 313.3h0M319.0 314.1h0M350.8 309.4h0M324.4 312.1h0M313.1 312.7h0M300.3 314.5h0M307.4 311.8h0M344.3 313.0h0M300.8 312.7h0M350.0 313.5h0M346.6 312.1h0M303.4 310.3h0M293.7 311.6h0M349.3 311.7h0M329.4 314.3h0M349.4 312.1h0M356.5 310.2h0M298.9 310.6h0M334.6 312.7h0M304.3 312.4h0M322.8 314.6h0M294.1 313.5h0M345.6 310.2h0M314.7 309.7h0M296.1 311.6h0M294.1 312.5h0M316.8 311.6h0M308.3 312.0h0M338.6 313.9h0M298.1 313.4h0M308.4 310.3h0M355.5 311.0h0M311.4 313.0h0M294.7 311.8h0M299.4 313.3h0M353.7 311.5h0M297.0 315.9h0M300.9 312.8h0M329.1 311.8h0M312.9 312.1h0M288.4 312.8h0M316.6 315.5h0M301.3 313.4h0M316.1 313.6h0M328.6 313.1h0M322.5 312.4h0M294.4 312.2h0M336.2 311.1h0M300.9 313.6h0M346.6 312.3h0M323.1 313.1h0M288.1 310.4h0M360.5 309.8h0M303.7 311.8h0M285.4 312.0h0M349.4 311.0h0M317.5 313.4h0M313.2 314.1h0M343.0 313.6h0M360.8 308.9h0M295.7 311.7h0M345.4 310.6h0M359.8 311.5h0M356.0 309.6h0M308.2 314.6h0M288.9 311.0h0M323.6 314.2h0M332.2 312.0h0M303.0 312.2h0M330.4 312.9h0M287.4 311.8h0M350.3 311.1h0M312.0 313.7h0M288.7 313.6h0M305.5 313.8h0M352.7 310.4h0M299.8 309.8h0M304.5 312.8h0M310.9 308.9h0M318.1 313.8h0M299.2 313.3h0M302.3 310.8h0M345.5 312.5h0M330.7 311.9h0M301.2 314.4h0M359.4 309.4h0M311.0 311.6h0M326.6 312.0h0M333.6 312.9h0M359.3 309.1h0M337.9 315.2h0M350.0 310.9h0M315.6 315.2h0M308.1 312.3h0M342.8 311.8h0M331.3 311.8h0M318.7 312.0h0M292.8 312.7h0M319.2 314.5h0M290.8 312.0h0M340.3 311.4h0M302.3 312.9h0M325.1 311.9h0M321.0 309.5h0M285.5 311.7h0M358.1 308.4h0M300.3 311.6h0M341.1 312.4h0M355.2 310.2h0M321.1 312.6h0M309.7 314.9h0M291.2 313.4h0M307.7 314.8h0M319.6 313.3h0M315.3 313.2h0M301.5 315.1h0M331.9 311.9h0M344.2 312.4h0M314.9 313.0h0M302.6 313.0h0M307.7 313.5h0M300.0 312.7h0M358.1 311.2h0M350.5 310.3h0M290.9 312.6h0M294.6 310.6h0M347.6 312.8h0M322.0 314.2h0M309.1 312.4h0M355.4 310.1h0M315.9 312.9h0M317.5 313.7h0M350.8 309.5h0M341.1 311.2h0M326.0 314.0h0M286.8 311.3h0M323.8 311.3h0M347.7 309.0h0M325.2 312.3h0M297.9 309.8h0M332.1 312.8h0M344.0 311.9h0M324.4 315.2h0M322.6 311.3h0M345.3 312.6h0M310.6 311.1h0M307.0 311.2h0M315.8 312.6h0M311.5 311.6h0M335.7 314.8h0M342.8 312.1h0M324.1 311.9h0M355.7 313.2h0M350.6 310.3h0M349.9 310.9h0M340.7 312.1h0M357.0 309.6h0M306.9 313.5h0M337.8 313.9h0M315.6 311.1h0M317.9 312.3h0M358.8 309.8h0M325.3 311.1h0M329.5 311.1h0M293.7 311.5h0M344.7 310.8h0M306.3 313.0h0M318.4 314.0h0M303.8 312.8h0M334.9 312.9h0M302.3 311.2h0M328.5 312.0h0M317.5 313.4h0M329.2 313.4h0M351.8 310.9h0M321.7 313.6h0M331.1 312.4h0M329.8 311.3h0M299.9 312.9h0M348.6 310.9h0M324.3 310.7h0M349.1 312.3h0M289.1 312.3h0M323.8 313.7h0M308.8 312.0h0M291.0 314.0h0M357.7 310.9h0M336.1 313.7h0M352.1 310.3h0M330.2 312.3h0M311.0 314.4h0M322.0 312.8h0M293.4 312.0h0M332.1 314.4h0M336.0 313.9h0M326.8 313.0h0M342.8 314.3h0M308.0 310.6h0M353.3 310.8h0M336.2 311.9h0M302.9 314.6h0M336.4 314.4h0M338.0 311.9h0M354.2 310.9h0M321.7 314.1h0M302.8 313.2h0M295.5 312.5h0M310.3 314.0h0M317.3 315.4h0M341.9 312.4h0M289.8 310.1h0M293.4 311.8h0M341.6 312.2h0M300.2 311.9h0M286.8 312.6h0M291.7 313.0h0" stroke="#7dcbe6" stroke-opacity="1" stroke-width="1.9" stroke-linecap="round"/>
<path d="M348.2 316.8h0M342.1 318.0h0M310.4 326.4h0M357.4 314.7h0M325.4 327.1h0M355.5 313.1h0M300.8 325.8h0M344.6 319.8h0M351.6 318.3h0M349.2 319.5h0M337.7 319.4h0M358.2 316.0h0M314.6 323.4h0M326.2 323.3h0M313.8 328.0h0M347.2 319.3h0M332.2 320.2h0M345.1 317.9h0M304.6 323.9h0M302.7 325.7h0M305.0 324.9h0M350.0 317.8h0M330.9 321.3h0M303.7 327.4h0M303.3 326.5h0M342.7 319.1h0M310.6 329.1h0M339.4 321.8h0M311.7 325.2h0M352.9 318.4h0M320.1 326.5h0M344.9 320.7h0M318.4 326.6h0M300.5 324.2h0M309.6 326.3h0M345.7 315.6h0M319.9 323.7h0M340.7 319.1h0M311.1 328.5h0M325.9 323.8h0M332.2 322.3h0M344.5 320.1h0M353.9 315.1h0M322.0 326.4h0M317.6 326.5h0M312.9 325.7h0M340.2 319.4h0M339.2 320.0h0M316.4 327.4h0M312.0 328.7h0M305.9 326.3h0M307.2 326.4h0M345.1 321.3h0M347.6 322.4h0M328.3 325.4h0M344.9 319.3h0M330.9 321.8h0M335.4 322.1h0M350.8 317.6h0M326.7 322.4h0M331.2 324.0h0M358.5 318.2h0M357.1 314.2h0M335.6 320.2h0M328.9 322.2h0M301.0 324.9h0M327.0 324.5h0M316.6 324.6h0M326.4 324.5h0M314.0 327.5h0M357.5 316.1h0M314.0 325.1h0M338.7 320.7h0M301.6 326.9h0M324.3 325.4h0M357.8 315.6h0M322.4 324.0h0M305.5 328.1h0M339.9 322.0h0M350.3 319.2h0M302.5 325.6h0M336.2 321.7h0M305.0 325.5h0M346.2 318.4h0M335.7 322.1h0M347.3 316.4h0M356.0 319.3h0M343.8 320.9h0M346.3 317.6h0M325.1 323.2h0M318.7 325.8h0M354.2 316.0h0M318.1 324.4h0M351.1 317.0h0M326.5 321.5h0M301.4 325.8h0M335.3 323.6h0M343.8 319.2h0M301.5 326.0h0M358.0 317.1h0M320.0 325.9h0M327.0 324.2h0M343.2 318.7h0M334.3 322.9h0M327.5 322.8h0M356.4 316.7h0M307.8 327.6h0M342.4 321.9h0M300.8 327.8h0M344.8 319.0h0M341.3 318.5h0M324.0 323.9h0M324.0 323.4h0M333.8 323.6h0M352.2 316.2h0M309.4 323.9h0M322.8 325.2h0M327.2 324.4h0M320.5 324.1h0M314.3 327.9h0M327.9 321.3h0M319.9 325.8h0M334.4 321.3h0M325.5 324.3h0M348.6 318.5h0M348.4 317.0h0M332.0 323.1h0M350.7 316.6h0M329.8 322.7h0M321.4 327.0h0M333.3 320.5h0M349.5 317.7h0M332.3 324.1h0M347.2 320.0h0M320.6 324.4h0M338.7 319.7h0M333.1 322.5h0M338.0 319.8h0M326.1 323.8h0M307.8 325.0h0M300.9 327.3h0M305.3 324.6h0M304.3 326.8h0M325.1 324.9h0M321.9 324.0h0M336.3 318.9h0M355.0 314.2h0M323.6 321.8h0M319.9 327.9h0M335.5 318.7h0M330.2 320.7h0M303.1 327.0h0M346.0 318.7h0M321.1 326.5h0M332.2 323.7h0M338.0 321.2h0M354.0 316.1h0M318.7 325.1h0M327.2 323.1h0M351.0 318.4h0M355.3 316.7h0M342.8 320.3h0M347.5 316.0h0M302.1 325.6h0M333.5 320.8h0M317.8 325.4h0M334.5 320.0h0M337.1 321.7h0M324.1 325.7h0M350.6 319.7h0M347.3 317.6h0M303.5 326.5h0M351.7 317.0h0M343.3 319.4h0M349.1 316.6h0M318.4 327.1h0M323.1 321.8h0M343.4 318.7h0M349.6 315.0h0M317.6 327.1h0M339.3 318.5h0M322.6 323.1h0M327.5 323.2h0M328.1 321.6h0M322.8 325.0h0M351.5 316.5h0M349.4 320.3h0M302.6 325.0h0M303.8 325.6h0M304.8 327.4h0M308.7 326.9h0M312.8 327.5h0M311.8 326.5h0M317.2 327.6h0M323.0 325.1h0M342.6 321.3h0M334.5 319.6h0M307.5 327.1h0M339.2 320.1h0M334.0 322.1h0M300.2 325.3h0M350.8 318.3h0M312.4 325.2h0M329.6 323.8h0M330.4 323.1h0M303.5 324.3h0M308.6 327.3h0M310.3 324.3h0M353.7 317.1h0M351.6 314.8h0M351.2 317.0h0M314.8 326.6h0M323.9 322.1h0M331.3 319.7h0M303.3 327.3h0M308.1 326.1h0M328.1 324.5h0M306.6 326.7h0M328.0 326.8h0M331.0 322.5h0M301.7 328.9h0M345.3 319.4h0M322.7 324.8h0M328.0 323.8h0M338.1 319.6h0M350.4 316.5h0M309.4 329.0h0M310.7 326.6h0M336.6 319.4h0M351.9 317.6h0M313.0 325.9h0M327.4 323.4h0M302.4 328.1h0M300.5 328.2h0M354.6 318.6h0M344.8 320.6h0M340.8 320.9h0M303.2 327.3h0M340.9 320.4h0M341.9 319.7h0M320.9 328.4h0M347.1 318.3h0M358.5 317.2h0M314.8 326.9h0M302.1 328.2h0M316.1 322.8h0M339.5 320.5h0M352.1 316.0h0M355.3 318.0h0M347.9 320.2h0M335.6 320.4h0M312.6 326.9h0M319.2 327.1h0M312.5 327.4h0M333.7 321.8h0M305.7 328.0h0M345.9 317.0h0M338.1 322.8h0M346.5 319.2h0M340.5 316.3h0" stroke="#7dcbe6" stroke-opacity="1" stroke-width="1.9" stroke-linecap="round"/>
<path d="M266.8 333.7h0M273.9 347.4h0M292.7 330.5h0M274.5 337.4h0M261.8 326.3h0M286.3 325.7h0M278.1 330.6h0M274.7 334.1h0M283.7 337.5h0M271.5 316.6h0M273.8 340.6h0M283.4 343.2h0M278.6 342.2h0M283.1 338.6h0M271.7 331.8h0M289.2 336.6h0M262.8 341.7h0M263.2 325.8h0M279.2 337.3h0M272.3 336.2h0M276.7 331.7h0M275.3 345.2h0M273.7 327.7h0M265.9 325.7h0M277.6 332.3h0M286.2 328.2h0M267.9 342.0h0M291.1 320.9h0M288.4 323.4h0M267.8 334.8h0M281.9 337.8h0M265.7 324.3h0M274.0 341.7h0M265.7 319.1h0M270.5 339.7h0M259.3 326.3h0M273.7 329.2h0M266.1 345.1h0M267.5 332.1h0M258.3 328.0h0M275.4 334.2h0M291.3 345.7h0M272.0 332.9h0M273.8 327.1h0M265.4 333.9h0M271.1 323.8h0M267.8 327.6h0M261.8 328.5h0M267.5 337.0h0M270.6 329.0h0M277.7 335.8h0M272.1 340.5h0M277.4 343.5h0M286.0 320.6h0M282.9 332.0h0M271.4 324.3h0M259.9 336.9h0M273.3 334.1h0M275.6 332.3h0M283.4 328.7h0" stroke="#7dcbe6" stroke-opacity="1" stroke-width="1.7" stroke-linecap="round"/>
<path d="M357.4 303.5h0M354.5 303.1h0M365.1 304.9h0M360.4 298.8h0M361.3 299.5h0M362.5 306.4h0M364.4 300.3h0M368.7 305.1h0M360.5 300.5h0M363.8 298.4h0M354.7 297.4h0M359.6 300.8h0M358.4 301.3h0M358.7 298.3h0M365.8 308.8h0M361.6 303.3h0M361.5 299.7h0M361.5 309.1h0M360.3 306.5h0M360.3 300.2h0M358.6 299.1h0M359.1 302.5h0M359.5 306.1h0M360.5 297.6h0M353.7 307.8h0" stroke="#7dcbe6" stroke-opacity="1" stroke-width="1.8" stroke-linecap="round"/>
<path d="M285.3 314.3h0M291.6 317.0h0M286.5 316.5h0M289.8 315.0h0M290.6 320.3h0M293.9 320.9h0M283.6 314.3h0M297.0 325.5h0M280.7 318.1h0M288.9 321.7h0M290.8 324.4h0M287.4 310.7h0M291.9 318.7h0M279.0 320.4h0M287.1 321.6h0M292.4 319.9h0M287.4 320.8h0M281.6 310.3h0M288.1 312.6h0M288.3 319.0h0M282.2 308.1h0M294.1 314.3h0M284.6 315.8h0M282.0 318.1h0M287.9 320.3h0M284.0 317.6h0M286.3 313.1h0M288.5 312.6h0M285.2 318.3h0M290.4 319.0h0M288.8 318.1h0M293.6 317.2h0M282.2 317.0h0M287.7 310.8h0M288.7 316.5h0M288.8 319.7h0M276.6 311.9h0M281.9 318.4h0M289.0 319.5h0M290.3 326.2h0M287.5 316.3h0M288.3 315.5h0M293.6 311.6h0M285.5 312.0h0M283.4 309.8h0M295.0 309.1h0M290.5 319.5h0M286.5 316.5h0M283.7 317.8h0M295.6 310.0h0M285.9 308.2h0M283.2 309.2h0M293.9 323.3h0M279.8 321.3h0M286.6 311.0h0M290.6 317.0h0M285.9 317.3h0M284.7 312.5h0M289.6 313.9h0M281.1 320.5h0M286.3 319.6h0M291.1 320.3h0M281.8 318.0h0M294.5 317.1h0M286.3 318.7h0M287.0 316.0h0M284.9 323.6h0M290.3 317.6h0M284.9 318.9h0M288.5 316.3h0M293.8 313.9h0M293.8 316.4h0M279.6 315.3h0M294.3 313.3h0M284.8 320.0h0M288.9 324.9h0M287.9 317.8h0M288.8 316.2h0M284.3 313.7h0M290.4 310.6h0M292.5 319.2h0M284.4 319.0h0M287.3 313.4h0M291.5 317.0h0M292.9 313.1h0M289.1 322.6h0M288.7 317.2h0M289.8 318.5h0M285.6 323.8h0M289.1 307.4h0M285.9 318.4h0M285.6 317.8h0M275.3 315.5h0M278.2 316.8h0M289.2 321.9h0M291.1 314.0h0M289.6 314.0h0M287.9 323.9h0M285.8 321.0h0M290.2 318.7h0M285.3 320.1h0M287.3 317.1h0M295.0 315.5h0M280.2 316.2h0M284.2 318.1h0M286.1 314.8h0M277.5 310.2h0M281.2 316.1h0M292.7 317.9h0M289.9 316.2h0M286.6 319.6h0M294.0 318.0h0M282.2 320.8h0M297.1 317.3h0M286.9 316.1h0M284.2 319.2h0M292.8 320.5h0M289.9 315.0h0M288.3 313.3h0M286.7 322.3h0M278.0 314.6h0M276.6 318.3h0M287.2 314.9h0M292.2 317.7h0M283.2 322.6h0M287.7 323.8h0M279.2 311.4h0M279.6 310.8h0M286.9 306.8h0M290.8 319.2h0M291.0 323.2h0M293.4 317.9h0M283.1 315.6h0M286.4 320.2h0M291.2 312.9h0M282.0 319.5h0M285.6 322.4h0M287.2 321.9h0M287.1 319.7h0M291.7 314.7h0M289.4 315.4h0M284.9 313.0h0M275.3 324.5h0M291.2 321.9h0M292.3 316.5h0M289.8 316.5h0M289.0 317.8h0M289.4 314.1h0M293.4 318.9h0M284.6 318.8h0M286.8 318.6h0M282.1 317.0h0M286.0 306.8h0M282.9 316.0h0M283.0 311.0h0M277.0 309.8h0M286.6 326.0h0M292.3 314.7h0M275.0 316.0h0M293.6 315.5h0M286.9 313.2h0M283.6 323.4h0M288.7 309.1h0M285.8 318.7h0M286.7 314.3h0M294.4 322.0h0M288.0 320.2h0M289.0 317.0h0M285.7 310.5h0M286.2 319.9h0M282.4 320.7h0M286.4 319.4h0M283.1 315.5h0M292.9 319.3h0M285.9 313.5h0M290.8 317.7h0M293.7 318.2h0M292.3 315.7h0M283.6 312.6h0M295.6 315.8h0M277.3 313.1h0M294.3 311.7h0M275.0 321.0h0M282.4 316.0h0M286.7 314.5h0M283.4 314.5h0M276.2 318.5h0M279.4 315.3h0M288.3 313.7h0M278.3 317.8h0M290.3 317.2h0M292.9 312.9h0M293.9 312.2h0M288.3 322.0h0M286.8 315.5h0M285.0 321.6h0M299.0 319.1h0M293.2 316.4h0M290.3 315.7h0M288.7 323.4h0M292.6 314.0h0M277.2 315.0h0M291.4 313.2h0M284.1 316.0h0M275.2 312.8h0M292.7 317.1h0M283.1 311.4h0M289.3 318.8h0M283.2 318.0h0M285.0 317.5h0M295.3 314.1h0M288.7 321.9h0M289.0 324.9h0M279.0 316.1h0M291.6 313.4h0M283.7 319.3h0M289.4 315.8h0M281.8 317.2h0M288.9 319.3h0M289.8 311.0h0M279.5 319.6h0M288.7 312.3h0M282.5 311.5h0M293.4 315.0h0M288.9 322.7h0M287.3 314.0h0M299.0 318.5h0M291.3 312.8h0M285.1 319.2h0M291.5 317.9h0M288.5 321.4h0M294.0 317.4h0M281.9 316.6h0M297.1 308.9h0M284.4 317.9h0M285.1 319.9h0M283.3 317.4h0M285.5 317.4h0M296.9 318.9h0M288.0 320.2h0M281.6 312.9h0M286.3 316.3h0M288.3 318.4h0M292.0 317.7h0M285.4 312.6h0M288.1 308.4h0M299.0 317.9h0M286.4 319.6h0M287.7 323.5h0M280.9 318.3h0M292.0 313.0h0M284.7 318.4h0M296.6 316.1h0M293.3 313.8h0M291.2 310.7h0M284.5 309.1h0M285.3 313.7h0M285.1 314.9h0M287.5 316.8h0M285.3 316.7h0" stroke="#4a3c9c" stroke-opacity="1" stroke-width="1.9" stroke-linecap="round"/>
<ellipse cx="536" cy="312" rx="31" ry="25" transform="rotate(-20 536 312)" fill="none" stroke="#1fa5a8" stroke-width="1.0"/>
<ellipse cx="538" cy="314.8" rx="53.2" ry="6.3" transform="rotate(0.6 538 314.8)" fill="none" stroke="#1c1a7e" stroke-width="1.1"/>
<ellipse cx="556.5" cy="310.4" rx="74.1" ry="6.1" transform="rotate(-9.47 556.5 310.4)" fill="none" stroke="#1e9e4a" stroke-width="1.1"/>
<path d="M512.4 332.5h0M526.4 338.7h0M525.3 325.7h0M534.6 335.9h0M511.7 315.3h0M543.3 314.2h0M519.3 320.6h0M529.2 319.5h0M536.4 293.0h0M560.4 291.9h0M526.4 322.5h0M534.7 304.9h0M552.9 297.0h0M536.4 320.4h0M528.2 344.1h0M546.3 315.1h0M566.5 309.8h0M547.3 297.9h0M555.5 317.0h0M513.7 337.8h0M566.7 300.2h0M528.1 327.3h0M558.0 318.3h0M535.4 288.0h0M516.0 306.3h0M511.1 305.1h0M529.2 343.5h0M524.3 290.4h0M542.0 338.9h0M568.5 304.4h0M534.3 317.5h0M553.9 319.3h0M528.2 299.8h0M509.5 316.7h0M545.5 311.5h0M531.6 343.3h0M516.1 294.6h0M513.3 321.2h0M523.5 318.6h0M561.7 313.6h0M566.0 292.9h0M519.4 299.7h0M529.2 311.0h0M548.7 289.3h0M516.0 300.3h0M511.0 305.2h0M535.7 340.1h0M524.0 325.7h0M555.1 331.4h0M539.4 294.1h0M528.8 314.0h0M552.0 297.9h0M530.6 287.9h0M548.4 293.1h0M554.6 289.1h0M533.2 290.8h0M524.9 299.9h0M514.9 309.4h0M549.2 338.6h0M526.5 320.1h0M549.5 315.7h0M564.9 293.7h0M524.6 322.0h0M536.1 292.5h0M536.7 315.4h0M510.3 314.3h0M555.1 317.9h0M531.7 308.1h0M531.3 290.9h0M533.7 330.0h0M552.5 291.6h0M522.4 300.2h0M562.3 313.9h0M521.8 341.0h0M523.8 317.2h0M543.6 293.5h0M528.5 322.8h0M540.6 338.3h0M515.6 322.6h0M506.0 314.0h0M568.2 305.4h0M550.6 310.2h0M555.1 308.1h0M527.7 318.8h0M507.0 307.8h0M524.9 316.4h0M537.4 296.1h0M522.9 321.4h0M564.3 317.9h0M526.7 327.9h0M520.6 301.2h0M526.5 325.2h0M531.1 320.9h0M565.3 303.7h0M546.7 336.5h0M555.5 315.6h0M561.9 291.8h0M527.5 325.0h0M524.9 293.3h0M541.2 324.9h0M545.9 337.3h0M543.9 316.7h0M558.5 302.1h0M554.6 314.0h0M523.8 301.1h0M528.5 307.9h0M528.5 297.0h0M538.5 334.5h0M533.3 313.9h0M554.1 318.8h0M549.7 303.3h0M552.4 286.3h0M529.7 330.3h0M529.3 297.1h0M535.0 326.9h0M534.5 298.0h0M506.0 320.0h0M517.8 317.9h0M549.5 333.4h0M559.5 328.4h0M561.2 323.3h0M525.3 317.3h0M547.7 322.1h0M559.1 326.6h0M561.0 296.6h0M527.2 309.8h0M548.9 326.2h0M544.1 309.4h0M519.3 317.1h0M553.8 284.0h0M514.2 307.1h0M550.0 308.5h0M530.7 330.2h0M555.5 331.2h0M514.7 327.4h0M540.7 312.7h0M547.5 314.2h0M533.6 310.9h0M517.3 305.4h0M516.1 337.5h0M540.5 298.9h0M556.2 287.9h0M557.7 284.8h0M558.5 300.6h0M545.9 286.0h0M539.8 300.0h0M558.1 330.9h0M529.5 323.2h0M541.1 328.2h0M511.9 303.3h0M522.9 309.7h0M547.3 325.3h0M507.1 314.9h0M527.7 309.7h0M514.1 296.4h0M529.8 344.3h0M546.1 323.9h0M539.4 333.1h0M508.4 318.2h0M538.2 304.3h0M506.3 317.4h0M533.7 322.2h0M556.3 305.5h0M529.4 337.7h0M546.9 303.3h0M542.1 342.0h0M530.4 338.0h0M530.5 341.0h0M548.9 286.7h0M546.4 319.8h0M515.4 333.7h0M557.9 292.9h0M537.9 318.3h0M546.4 309.6h0M544.7 326.8h0M536.2 317.5h0M538.6 336.8h0M514.2 323.3h0M545.7 324.8h0M508.6 328.8h0M555.5 333.6h0M548.3 301.3h0M529.2 322.7h0M548.3 319.9h0M514.4 305.9h0M553.2 329.7h0M512.2 312.5h0M526.2 324.1h0M567.7 297.9h0M539.8 327.7h0M521.1 321.3h0M514.8 331.7h0M531.0 330.4h0M525.2 303.6h0M528.4 326.0h0M556.9 331.0h0M532.7 309.9h0M539.9 333.9h0M536.9 323.6h0M551.6 318.7h0M544.6 298.4h0M532.8 324.2h0M547.6 289.4h0M562.0 295.6h0M520.8 295.1h0M540.7 331.4h0M553.2 330.6h0M541.6 308.0h0M530.7 297.7h0M557.0 322.0h0M559.9 319.7h0M526.9 297.1h0M561.0 288.9h0M519.1 305.6h0M514.0 325.4h0M554.2 298.3h0M525.4 301.1h0M527.3 338.5h0M545.2 296.7h0M561.1 293.3h0M548.8 331.2h0M550.2 316.2h0M526.9 306.0h0M532.2 344.7h0M515.6 322.9h0M518.5 296.0h0M545.6 309.2h0M545.7 306.6h0M507.1 305.4h0M521.4 299.3h0M550.8 329.1h0M560.2 319.3h0M549.7 338.3h0M539.8 330.2h0M506.9 311.8h0M536.1 319.0h0M557.7 315.2h0M556.3 312.2h0M557.8 319.8h0M533.2 317.1h0M540.5 298.6h0M530.4 307.1h0M523.3 319.6h0M539.1 319.7h0M535.8 292.3h0M540.7 308.7h0M537.4 298.7h0M536.4 293.9h0M521.3 296.6h0M562.3 308.2h0M566.3 291.1h0M540.7 302.0h0M566.9 293.5h0M530.8 341.7h0M529.7 299.3h0M528.7 305.9h0M510.4 308.0h0M532.5 320.7h0M550.8 303.2h0M524.8 336.5h0M530.2 307.3h0M554.2 302.8h0M537.2 295.9h0M544.7 312.2h0M532.3 341.4h0M531.2 313.5h0M541.0 334.1h0M561.0 297.3h0M529.3 338.4h0M513.3 319.7h0M545.5 318.1h0M558.8 310.1h0M557.7 318.0h0M518.5 303.0h0M536.5 297.7h0M510.8 322.0h0M541.1 322.1h0M565.3 297.2h0M532.3 304.8h0M536.6 308.3h0M522.6 301.2h0M563.0 285.0h0M541.9 301.9h0M533.2 341.1h0M545.0 340.4h0M516.7 315.1h0M523.3 319.5h0M527.0 308.4h0M549.9 323.8h0M544.7 287.3h0M560.9 305.4h0M555.2 316.5h0M557.5 314.5h0M542.9 302.6h0M543.9 309.9h0M521.9 332.9h0M552.1 299.6h0M528.2 326.3h0M545.9 285.9h0M539.6 318.0h0M534.9 345.1h0M535.7 319.7h0M546.7 317.6h0M564.4 292.6h0M537.1 339.3h0M546.5 293.8h0M549.5 309.1h0M541.2 336.8h0M512.5 326.3h0M515.0 325.2h0M548.2 333.6h0M523.0 309.9h0M540.5 339.3h0M538.8 311.4h0M538.3 303.8h0M554.3 305.1h0M513.1 327.2h0M566.7 304.8h0M538.0 335.7h0M550.2 307.0h0M560.6 320.0h0M524.1 327.0h0M539.1 301.8h0M528.0 320.2h0M552.1 293.9h0M533.3 306.9h0M537.8 291.6h0M559.6 315.8h0M543.0 295.9h0M522.4 324.1h0M563.0 310.6h0M512.2 323.4h0M553.9 299.4h0M534.0 325.0h0M521.8 320.6h0M515.1 326.4h0M540.4 336.6h0M552.0 320.0h0M505.6 313.2h0M523.4 341.3h0M536.7 330.0h0M537.7 323.7h0M540.7 338.7h0M539.9 344.1h0M515.9 306.3h0M539.3 342.9h0M556.8 300.2h0M555.8 294.8h0M554.9 314.5h0M519.4 336.8h0M510.9 327.8h0M542.7 310.8h0M518.1 334.8h0M558.5 284.8h0M540.3 324.4h0M519.4 301.6h0M542.4 324.3h0M531.3 287.7h0M506.4 307.0h0M522.3 311.5h0M513.0 329.7h0M541.9 314.2h0M567.1 290.1h0M519.2 300.3h0M522.2 338.1h0M542.2 294.7h0M548.5 324.1h0M510.1 308.0h0M558.9 289.0h0M536.4 329.4h0M565.1 289.8h0M527.9 335.8h0M533.7 341.6h0M525.9 326.5h0M511.3 324.6h0M522.6 342.1h0M563.6 288.2h0M552.3 285.3h0M537.4 327.3h0M566.6 293.1h0M543.6 338.0h0M553.5 298.1h0M550.3 331.2h0M529.5 338.6h0M533.3 341.7h0M565.1 308.2h0M537.6 302.3h0M514.5 301.6h0M515.2 303.8h0M513.6 302.2h0M562.7 310.3h0M545.2 318.3h0M547.2 308.5h0M515.8 323.1h0M542.3 287.5h0M547.9 338.3h0M539.8 296.1h0M529.7 309.2h0M522.0 299.0h0M549.3 302.0h0M516.7 337.0h0M565.5 302.2h0M537.6 298.3h0M539.8 336.0h0M560.4 314.1h0M512.7 329.4h0M563.2 288.0h0M529.4 328.5h0M556.8 324.7h0M507.9 329.0h0M552.2 318.9h0M513.8 331.4h0M512.5 303.9h0M551.0 329.4h0M533.2 328.0h0M513.6 338.2h0M525.1 342.8h0M509.0 308.9h0M547.3 286.0h0M551.4 333.9h0M516.8 294.8h0M561.6 321.1h0M557.8 314.4h0M517.5 311.1h0M541.9 340.8h0M540.9 319.9h0M541.4 339.1h0M554.6 317.6h0M550.7 311.6h0M560.2 287.1h0M525.3 337.1h0M567.0 312.5h0M568.0 297.7h0M552.0 292.5h0M508.6 306.0h0M530.1 319.6h0M519.4 309.6h0M536.5 342.6h0M515.6 310.0h0M528.6 299.1h0M558.3 288.8h0M563.3 300.0h0M529.5 315.6h0M552.4 295.2h0M519.1 301.8h0M508.2 302.4h0M522.2 296.2h0M519.1 296.7h0M546.1 341.6h0M545.1 321.7h0M545.1 294.2h0M541.3 308.5h0M522.2 296.0h0M515.9 316.2h0M549.2 299.2h0M507.2 306.1h0M533.4 326.4h0M511.1 332.9h0M530.7 321.6h0M513.5 314.7h0M534.1 329.9h0M524.7 308.5h0M525.4 330.4h0M514.8 323.4h0M564.5 316.7h0M555.7 332.0h0M554.9 320.7h0M535.1 341.1h0M560.3 297.8h0M536.2 302.5h0M539.5 297.9h0M551.5 311.4h0M522.0 300.6h0M509.9 313.6h0M535.7 324.1h0M512.0 303.6h0M532.4 330.4h0M544.6 287.2h0M508.9 318.0h0M556.4 296.0h0M512.7 325.6h0M547.5 300.1h0M566.2 303.3h0M512.5 313.4h0M550.5 297.9h0M535.6 309.8h0M541.9 296.1h0M532.9 302.8h0M541.3 302.4h0M557.6 329.2h0M507.8 326.7h0M519.7 334.0h0M538.3 289.5h0M536.1 311.6h0M553.8 287.7h0M555.2 325.6h0M544.4 321.0h0M529.1 314.4h0M556.2 295.6h0M553.2 310.9h0M509.7 301.3h0M550.1 301.6h0M526.6 323.3h0M556.3 301.0h0M541.5 306.9h0M519.0 317.6h0M551.4 296.1h0M550.8 291.9h0M534.6 327.8h0M550.3 307.3h0M559.2 296.9h0M547.6 292.7h0M561.5 321.3h0M529.9 314.8h0M555.2 329.5h0M554.2 319.9h0M560.4 288.4h0M531.6 320.8h0M531.0 306.1h0M541.6 321.9h0M518.0 292.1h0M533.2 325.6h0M542.0 326.7h0M526.9 342.5h0M508.9 316.9h0M527.6 308.1h0M523.1 308.1h0M517.9 338.1h0M515.4 309.2h0M512.0 318.7h0M559.8 288.1h0M534.6 343.5h0M552.4 302.0h0M517.2 310.2h0M547.0 300.5h0M529.4 314.4h0M517.4 306.8h0M529.1 343.4h0M530.7 323.8h0M533.0 339.0h0M563.1 322.2h0M561.6 314.7h0M558.6 329.4h0M554.9 319.9h0M556.7 305.9h0M556.3 313.1h0M563.4 302.1h0M534.6 311.2h0M537.0 340.9h0M537.4 292.0h0M565.1 300.7h0M557.4 290.5h0M561.4 292.5h0M544.7 309.8h0M540.9 318.2h0M518.8 306.5h0M542.8 299.9h0M545.3 297.1h0M508.4 313.0h0M545.6 333.4h0M559.3 291.6h0M541.1 322.6h0M543.6 293.3h0M563.0 313.1h0M519.8 290.7h0M558.5 284.5h0M525.2 300.4h0M556.6 310.7h0M568.7 293.1h0M553.0 310.3h0M565.0 292.7h0M545.2 287.0h0M530.6 338.0h0M527.9 314.2h0M532.0 329.0h0M567.3 311.3h0M546.8 287.9h0M536.1 342.7h0M512.0 320.1h0M539.6 299.2h0M532.0 317.7h0M509.9 330.5h0M536.7 317.3h0M549.2 330.5h0M527.3 313.9h0M565.9 303.8h0M511.7 330.2h0M536.8 292.9h0M561.9 287.1h0M553.9 289.3h0M518.3 317.2h0M558.0 308.5h0M557.0 312.2h0M525.9 325.1h0M522.3 341.3h0M560.0 308.0h0M550.5 305.3h0M536.1 312.6h0M510.7 318.2h0M563.7 300.2h0M538.8 341.1h0M527.4 332.9h0M538.1 293.4h0M545.9 297.9h0M549.6 315.6h0M540.5 307.2h0M508.1 325.9h0M515.4 314.6h0M522.1 304.9h0M535.3 323.0h0M542.5 316.5h0M556.5 297.3h0M512.3 309.5h0M559.1 329.1h0M543.7 321.2h0M529.6 325.1h0M517.5 294.2h0M557.0 300.6h0M506.3 319.4h0M537.3 309.4h0M533.4 294.3h0M554.5 316.8h0M530.8 322.4h0M552.2 293.9h0M547.3 308.7h0M531.2 309.5h0M521.3 312.8h0M524.7 320.7h0M528.6 310.6h0M533.5 341.0h0M533.0 301.0h0M547.0 304.6h0M528.9 321.3h0M565.6 305.1h0M516.4 294.6h0M512.2 336.1h0M509.8 332.2h0M510.7 319.1h0M531.6 342.1h0M550.6 333.8h0M558.1 316.6h0M542.2 335.6h0M558.4 293.3h0M526.2 306.8h0M532.4 289.1h0M511.8 321.8h0M548.2 339.3h0M564.7 299.4h0M537.7 296.1h0M524.6 317.0h0M514.8 300.8h0M506.7 309.1h0M539.7 335.5h0M532.1 305.7h0M523.9 304.6h0M520.4 333.1h0M549.0 321.1h0M568.2 291.9h0M532.2 293.0h0M554.4 326.8h0M508.7 305.3h0M540.0 327.1h0M535.4 293.3h0M530.2 321.9h0M515.5 299.2h0M516.7 305.5h0M559.1 292.1h0M527.6 304.4h0M558.6 293.1h0M554.7 318.7h0M550.2 286.4h0M536.1 291.7h0M558.1 325.8h0M562.6 285.8h0M554.0 318.5h0M542.8 287.9h0M546.0 339.7h0M565.7 295.5h0M555.2 312.2h0M540.3 296.1h0M529.2 320.4h0M512.3 330.9h0M559.0 323.4h0M556.6 300.3h0M547.0 305.8h0M507.0 326.7h0M544.0 289.4h0M546.7 312.6h0M540.8 316.2h0M545.1 311.1h0M555.7 300.2h0M568.9 301.0h0M555.5 326.3h0M538.4 302.4h0M553.9 290.6h0M528.0 328.5h0M535.3 302.1h0M529.0 342.4h0M546.9 326.7h0M520.1 304.4h0M527.6 335.1h0M544.3 307.7h0M549.5 304.5h0M542.8 323.7h0M510.0 319.2h0M532.4 291.3h0M550.2 313.5h0M536.5 313.5h0M522.7 320.1h0M539.5 306.9h0M529.6 325.9h0M558.1 323.4h0M535.4 312.7h0M534.6 313.6h0M551.3 313.7h0M539.9 328.0h0M533.3 297.4h0M534.9 336.0h0M568.1 296.4h0M560.5 302.1h0M562.4 312.8h0M537.3 301.3h0M550.1 309.6h0M545.6 317.3h0M537.3 317.6h0M518.8 338.3h0M528.4 307.9h0M527.9 299.1h0M555.0 315.0h0M514.8 312.0h0M509.4 320.4h0M560.3 290.9h0M541.6 338.8h0M514.9 323.3h0M545.5 341.5h0M520.4 333.5h0M525.3 312.7h0M537.4 291.9h0M517.5 313.8h0M538.7 339.3h0M565.8 306.3h0M535.2 316.7h0M536.4 290.7h0M555.1 313.0h0M525.4 338.9h0M530.7 311.1h0M540.6 297.7h0M555.7 332.6h0M531.6 340.8h0M533.8 328.1h0M563.1 286.2h0M526.2 325.9h0M533.8 312.7h0M549.6 317.9h0M533.8 329.2h0M529.1 313.1h0M512.6 322.3h0M511.4 327.5h0M535.7 295.3h0M558.2 319.5h0M544.3 342.1h0M564.2 310.1h0M538.5 303.1h0M519.4 303.5h0M541.5 311.2h0M518.2 307.0h0M554.9 291.8h0M539.1 300.5h0M561.5 316.6h0M549.5 302.8h0M545.9 292.3h0M548.9 304.9h0M562.9 301.4h0M530.9 324.6h0M528.1 295.3h0M539.5 319.7h0M553.8 288.1h0M540.7 314.2h0M537.2 297.7h0M510.9 302.8h0M508.3 327.9h0M560.8 321.5h0M534.3 342.0h0M534.1 316.7h0M511.1 300.1h0M553.4 316.2h0M525.8 329.1h0M545.5 287.2h0M517.0 311.7h0M529.0 315.6h0M565.8 298.3h0M561.5 324.1h0M526.6 324.0h0M520.0 299.1h0M553.7 298.6h0M531.6 313.6h0M537.5 303.9h0M532.5 305.0h0M542.6 328.1h0M516.1 301.6h0M522.2 291.5h0M531.5 296.9h0M531.8 311.2h0M554.0 306.9h0M508.0 313.4h0M525.1 327.7h0M511.9 320.6h0M516.4 307.8h0M543.6 304.0h0M521.0 317.0h0M505.3 315.7h0M547.0 286.1h0M536.1 343.4h0M525.6 289.3h0M535.4 301.8h0M529.3 316.8h0M550.8 318.3h0M540.9 342.5h0M532.3 323.6h0M540.6 294.2h0M561.5 308.0h0M515.5 336.2h0M545.2 336.0h0M556.4 293.6h0M563.1 296.0h0M517.1 305.2h0M555.4 325.8h0M543.9 299.3h0M531.7 299.8h0M543.4 341.8h0M532.8 311.4h0M550.5 322.1h0M550.9 332.9h0M548.5 338.6h0M514.5 303.7h0M536.0 330.4h0M517.2 301.3h0M524.2 308.4h0M553.0 296.6h0M537.4 343.0h0M546.2 323.1h0M550.1 313.4h0M527.6 336.2h0M540.6 316.4h0M521.5 338.6h0M510.4 321.9h0M515.7 336.7h0M563.6 308.2h0M567.2 291.8h0M515.5 312.4h0M558.2 286.6h0M542.6 311.7h0M554.8 312.7h0M544.1 340.0h0M538.3 321.8h0M528.9 314.6h0M529.7 311.3h0M515.3 336.2h0M523.6 313.4h0M511.7 299.3h0M522.6 312.8h0M557.4 288.5h0M562.8 323.7h0M526.3 301.0h0M519.7 292.4h0M538.8 307.2h0M525.4 339.3h0M517.9 300.4h0M568.7 297.6h0M546.5 295.3h0M544.7 319.4h0M516.9 304.9h0M532.3 293.2h0M522.2 306.1h0M509.3 311.9h0M544.7 296.9h0M553.0 309.2h0M565.3 317.1h0M546.5 315.0h0M521.5 340.7h0M539.6 299.6h0M523.9 290.1h0M541.9 337.7h0M523.3 299.6h0M538.0 309.1h0M568.3 300.5h0M549.9 295.0h0M514.2 297.1h0M561.6 307.7h0M558.0 303.7h0M558.1 300.6h0M549.2 308.9h0M536.7 341.0h0M566.7 297.9h0M535.7 297.5h0M559.5 320.5h0M552.4 297.2h0M553.4 326.5h0M528.0 325.3h0M552.5 294.4h0M507.2 306.2h0M519.9 298.6h0M520.3 292.3h0M556.3 308.4h0M555.4 303.2h0M565.5 287.6h0M537.1 301.2h0M529.2 342.4h0M529.7 318.0h0M548.1 306.8h0M528.5 314.9h0M565.6 313.5h0M562.3 321.2h0M528.2 301.1h0M534.5 312.2h0M552.2 302.7h0M564.0 302.5h0M548.2 293.0h0M560.3 292.0h0M525.7 334.0h0M510.4 298.9h0M507.3 315.2h0M559.2 289.7h0M539.2 301.9h0M520.7 334.1h0M509.3 304.7h0M556.6 332.8h0M531.7 304.9h0M528.6 341.5h0M547.8 299.0h0M545.7 292.2h0M560.9 321.0h0M543.4 341.4h0M541.8 323.1h0M546.8 305.9h0M540.8 327.3h0M519.5 333.7h0M550.1 321.8h0M545.1 289.9h0M549.0 327.3h0M529.4 339.2h0M510.7 318.4h0M555.0 300.9h0M538.4 296.8h0M507.4 307.3h0M558.7 322.3h0M517.3 292.5h0M526.2 309.3h0M538.5 294.6h0M560.0 307.6h0M565.0 306.3h0M536.8 332.4h0M555.9 288.2h0M535.7 307.3h0M538.3 344.9h0M533.1 327.1h0M517.6 317.3h0M563.7 289.3h0M527.9 343.4h0M524.9 320.1h0M535.6 315.0h0M526.7 296.7h0M563.4 299.8h0M512.6 331.4h0M518.5 331.8h0M547.3 326.2h0M566.2 312.8h0M515.3 301.7h0M526.5 330.4h0M530.1 314.1h0M537.2 318.9h0M551.9 285.7h0M564.4 305.2h0M549.2 306.9h0M543.2 318.9h0M559.3 320.0h0M520.7 336.7h0M536.7 325.3h0M556.5 320.1h0M522.9 338.9h0M531.7 340.5h0M543.2 342.5h0M545.5 326.6h0M548.0 335.9h0M556.6 284.7h0M539.1 302.2h0M538.0 290.5h0M534.4 294.6h0M509.1 312.8h0M546.1 289.4h0M557.2 293.1h0M551.9 284.0h0M518.2 292.2h0M518.7 319.5h0M532.4 326.1h0M555.8 307.3h0M563.3 291.2h0M529.1 310.8h0M544.5 321.7h0M565.5 298.5h0M531.0 326.2h0M559.4 305.6h0M563.1 300.8h0M551.6 334.9h0M530.3 341.7h0M557.8 329.4h0M532.9 295.1h0M561.2 291.4h0M543.2 320.3h0M548.8 337.1h0M518.3 298.3h0M515.7 332.2h0M531.1 300.2h0M523.5 338.8h0M535.1 345.6h0M548.4 340.1h0M540.1 322.4h0M510.2 304.1h0M542.9 340.4h0M567.5 291.3h0M532.3 343.0h0M511.6 321.6h0M512.4 313.6h0M512.6 318.3h0M536.6 345.8h0M552.8 315.7h0M547.0 293.0h0M545.9 323.4h0M557.6 323.3h0M540.5 317.2h0M526.8 299.6h0M523.7 317.6h0M536.9 317.3h0M511.2 318.8h0M531.4 329.9h0M539.5 296.2h0M552.0 298.4h0M544.7 339.3h0M536.3 290.7h0M533.3 292.1h0M542.0 339.3h0M552.5 313.1h0M516.1 337.6h0M513.9 323.0h0M515.2 329.8h0M538.7 339.6h0M532.9 340.5h0M555.2 303.7h0M547.5 310.4h0M547.8 335.7h0M539.1 305.9h0M535.6 318.8h0M528.3 327.1h0M525.3 334.5h0M531.8 328.8h0M553.8 287.6h0M532.5 309.0h0M514.8 308.9h0M519.3 336.3h0M538.5 304.8h0M529.5 289.1h0M542.5 340.7h0M520.6 300.5h0M526.7 319.4h0M529.5 310.7h0M545.1 301.8h0M559.8 326.8h0M540.6 334.7h0M560.6 316.7h0M547.9 289.5h0M536.6 294.5h0M526.3 306.6h0M539.2 322.9h0M526.9 299.4h0M552.9 309.9h0M525.2 331.7h0M526.2 327.7h0M526.1 295.1h0M532.7 342.9h0M547.4 300.0h0M522.4 309.0h0M545.6 311.7h0M551.5 319.7h0M537.5 305.2h0M508.8 305.3h0M527.0 312.5h0M549.3 303.9h0M531.0 306.6h0M514.2 314.6h0M567.0 295.0h0M521.8 295.1h0M536.1 331.3h0M521.0 304.9h0M538.1 293.2h0M523.5 335.6h0M529.3 343.1h0M545.2 309.3h0M539.5 305.4h0M526.4 297.2h0M513.6 328.2h0M560.8 319.3h0M535.2 335.2h0M522.3 314.2h0M562.8 308.7h0M562.4 311.6h0M542.3 317.9h0M513.5 313.8h0M548.4 327.5h0M527.3 311.0h0M542.4 304.8h0M508.4 330.3h0M518.5 304.0h0M534.0 305.6h0M533.4 340.4h0M534.1 345.4h0M508.0 318.9h0M548.7 311.8h0M538.1 296.1h0M538.9 338.3h0M523.9 319.4h0M551.0 314.4h0M553.4 329.3h0M561.2 304.7h0M550.7 289.8h0M541.4 337.4h0M523.6 324.8h0M530.2 289.6h0M514.0 304.9h0M512.2 324.8h0M521.0 323.9h0M539.0 317.2h0M533.5 344.8h0M538.5 302.3h0M549.8 322.2h0M527.0 317.2h0M522.6 312.6h0M523.2 291.0h0M529.7 339.1h0M542.4 302.0h0M512.6 309.8h0M519.9 304.1h0M557.6 302.1h0M534.4 314.1h0M524.7 301.3h0M566.8 304.6h0M561.4 287.0h0M508.8 303.1h0M521.6 293.1h0M532.8 298.3h0M554.4 293.4h0M525.7 304.6h0M514.2 309.9h0M530.6 328.6h0M526.6 323.2h0M550.6 331.5h0M512.6 320.8h0M534.4 290.9h0M509.2 316.6h0M518.8 333.5h0M531.7 329.1h0M554.6 313.8h0M524.8 318.8h0M509.7 301.0h0M532.2 313.4h0M510.5 328.0h0M546.2 291.4h0M536.7 336.6h0M517.9 334.4h0M514.3 306.7h0M532.4 292.5h0M566.4 290.4h0M527.3 297.5h0M543.3 288.1h0M516.5 338.6h0M560.8 326.3h0M565.3 301.5h0M517.9 337.9h0M526.4 321.0h0M550.0 303.0h0M565.4 305.5h0M565.5 301.1h0M535.0 332.2h0M515.0 317.5h0M524.9 291.5h0M538.7 312.5h0M529.3 320.7h0M544.0 342.2h0M510.6 315.0h0M527.1 331.0h0M544.3 304.4h0M568.8 301.2h0M518.7 296.1h0M541.8 313.3h0M542.3 319.2h0M532.2 343.9h0M529.0 330.7h0M530.8 311.2h0M530.6 323.3h0M529.5 342.8h0M557.7 328.8h0M535.2 289.2h0M541.8 326.3h0M541.0 318.1h0M562.8 316.1h0M566.6 306.5h0M518.5 315.7h0M537.8 317.1h0M529.0 342.1h0M544.5 304.4h0M555.6 283.5h0M547.1 298.1h0M520.4 298.9h0M546.3 319.0h0M551.8 301.0h0M512.5 334.6h0M531.8 304.2h0M527.6 312.6h0M515.0 309.8h0M548.5 287.3h0M549.3 310.9h0M547.2 294.6h0M547.5 290.6h0M551.2 291.3h0M540.9 299.7h0M539.9 313.7h0M554.6 300.0h0M521.4 321.1h0M544.8 298.1h0M527.5 298.8h0M523.0 299.9h0M527.6 336.4h0M526.5 314.7h0M513.3 337.2h0M561.6 325.3h0M527.3 298.0h0M526.8 311.8h0M515.7 339.1h0M516.9 294.2h0M560.3 309.0h0M561.0 309.2h0M523.9 310.5h0M561.3 303.3h0M553.5 308.3h0M532.7 287.8h0M544.5 297.7h0M515.3 295.5h0M526.9 302.6h0M530.4 310.6h0M537.4 335.6h0M522.3 294.6h0M525.7 325.7h0M521.0 340.1h0M531.6 320.9h0M540.5 326.2h0M557.1 295.3h0M551.3 314.9h0M559.3 315.0h0M516.5 304.4h0M558.1 285.7h0M519.8 304.8h0M562.4 295.8h0M554.8 332.2h0M536.0 322.6h0M526.1 311.0h0M543.7 294.7h0M566.0 289.3h0M548.7 309.8h0M514.7 311.6h0M554.9 332.2h0M540.2 327.3h0M537.4 309.1h0M530.8 304.8h0M518.8 291.2h0M548.0 289.5h0M534.9 326.1h0M516.1 329.5h0M509.8 308.9h0M548.9 317.6h0M557.4 286.0h0M547.4 335.1h0M533.5 314.5h0M563.4 306.8h0M516.3 335.8h0M550.1 326.2h0M555.0 306.0h0M557.7 323.3h0M550.4 310.2h0M550.0 286.8h0M536.4 326.6h0M562.8 295.1h0M557.6 296.8h0M510.9 328.2h0M526.8 340.6h0M522.3 312.8h0M507.4 320.2h0M532.4 312.4h0M523.8 312.2h0M524.6 338.0h0M550.2 327.0h0M569.2 298.6h0M555.8 302.4h0M560.7 311.2h0M511.8 309.8h0M515.3 306.1h0M507.1 305.2h0M531.4 307.4h0M520.4 341.3h0M516.2 296.6h0M547.2 302.1h0M550.6 325.1h0M530.4 340.4h0M512.7 310.1h0M512.8 305.1h0M554.9 316.1h0M557.3 329.2h0M514.2 301.1h0M547.6 306.1h0M508.4 316.7h0M540.0 305.8h0M533.2 301.9h0M566.4 289.4h0M520.7 311.9h0M522.1 309.7h0M563.2 320.5h0M563.0 299.1h0M531.2 309.3h0M530.9 309.5h0M525.4 319.2h0M549.5 304.4h0M547.3 313.0h0M560.8 284.4h0M546.4 310.9h0M553.6 309.9h0M539.3 332.3h0M551.9 299.5h0M541.3 334.6h0M518.1 312.2h0M509.3 323.8h0M539.2 295.6h0M557.3 301.9h0M555.8 293.3h0M549.3 287.8h0M535.5 320.4h0M556.8 311.7h0M525.4 322.2h0M532.6 304.9h0M551.6 289.9h0M562.6 294.9h0M513.8 331.6h0M513.8 324.9h0M523.9 326.3h0M566.4 304.2h0M538.1 327.6h0M529.1 328.8h0M535.5 336.7h0M553.4 314.5h0M556.0 294.3h0M525.1 328.5h0M533.3 288.5h0M542.4 294.8h0M510.1 302.5h0M539.5 287.9h0M518.4 321.7h0M516.2 298.8h0M557.0 324.0h0M565.0 287.1h0M545.5 294.7h0M520.2 320.0h0M520.5 340.5h0M564.9 313.9h0M527.5 304.8h0M527.8 297.5h0M548.5 337.0h0M523.6 291.3h0M524.0 306.7h0M510.0 321.9h0M514.6 327.5h0M569.1 302.0h0M541.3 303.0h0M566.9 310.2h0M524.8 334.1h0M535.4 332.7h0M552.8 296.7h0M541.9 323.3h0M547.2 318.8h0M567.6 294.8h0M550.9 287.6h0M529.8 327.5h0M524.3 303.4h0M533.9 313.2h0M535.1 321.6h0M521.0 336.0h0M535.5 298.2h0M523.9 319.1h0M565.1 315.4h0M522.3 304.6h0M538.8 313.2h0M545.2 293.3h0M513.6 332.8h0M560.4 315.0h0M526.9 326.9h0M539.3 318.0h0M562.0 309.8h0M560.5 305.4h0M527.4 303.9h0M545.1 308.9h0M521.5 314.7h0M526.6 341.1h0M539.3 330.0h0M531.3 342.6h0M527.1 336.9h0M565.9 307.6h0M561.7 315.0h0M543.0 319.5h0M556.1 311.2h0M553.9 290.3h0M545.2 323.2h0M528.4 299.8h0M528.1 319.8h0M541.1 301.5h0M516.3 295.2h0M538.1 293.2h0M548.7 323.3h0M562.5 292.9h0M558.7 320.5h0M532.6 291.3h0M514.3 300.6h0M558.8 324.2h0M523.3 341.0h0M554.3 311.9h0M536.1 306.1h0M514.5 328.9h0M529.4 319.6h0M550.8 286.1h0M541.2 309.0h0M540.6 310.7h0M518.7 307.5h0M536.0 301.3h0M544.2 337.8h0M538.9 329.6h0M537.3 342.3h0M517.4 304.9h0M553.7 329.5h0M565.1 295.9h0M545.4 342.0h0M515.4 327.6h0M518.9 337.8h0M511.4 327.2h0M567.7 302.9h0M547.1 321.4h0M549.0 316.6h0M545.3 341.6h0M564.2 309.1h0M557.0 318.5h0M536.9 298.8h0M555.7 324.9h0M518.2 293.8h0M545.2 292.4h0M548.1 290.0h0M529.7 343.1h0M520.6 306.0h0M539.5 311.2h0M550.5 299.2h0M542.6 315.0h0M554.3 329.7h0M550.2 294.6h0M557.3 293.1h0M562.1 317.3h0M548.3 298.4h0M513.8 318.1h0M514.5 333.3h0M537.0 340.7h0M553.2 302.3h0M547.1 315.5h0M528.0 324.3h0M521.3 290.9h0M526.6 341.0h0M535.6 306.3h0M532.5 295.6h0M568.2 299.7h0M524.1 289.3h0M523.8 291.3h0M551.6 321.1h0M532.8 330.6h0M545.5 309.2h0M518.7 296.0h0M516.4 305.7h0M557.6 308.1h0M519.9 292.3h0M520.3 300.9h0M536.2 320.8h0M508.7 318.4h0M558.0 318.9h0M538.9 331.6h0M559.5 312.6h0M558.7 298.0h0M545.8 285.7h0M552.2 290.4h0M524.2 307.5h0M521.8 333.7h0M536.9 298.2h0M516.3 292.5h0M548.0 289.5h0M545.5 312.1h0M526.8 318.3h0M544.0 290.2h0M552.9 304.4h0M522.7 339.8h0M556.4 301.4h0M554.1 320.7h0M531.7 322.3h0M536.1 295.9h0M533.7 296.4h0M556.9 306.5h0M556.1 323.2h0M552.6 300.6h0M513.0 312.3h0M537.1 304.0h0M543.2 312.2h0M545.4 307.6h0M543.8 333.7h0M566.4 298.0h0M522.1 292.4h0M553.7 302.9h0M553.0 297.0h0M554.3 333.0h0M535.3 302.6h0M544.3 318.1h0M558.6 321.7h0M529.1 288.2h0M525.5 318.0h0M522.4 333.0h0M522.8 293.9h0M528.7 309.9h0M524.0 298.6h0M543.5 295.8h0M543.8 288.5h0M526.0 339.2h0M523.5 289.8h0M535.1 299.9h0M509.4 324.0h0M542.7 303.3h0M557.7 312.6h0M568.8 304.4h0M511.5 318.7h0M507.0 306.2h0M531.8 292.4h0M548.9 331.1h0M564.2 312.7h0M532.0 305.0h0M540.0 315.7h0M520.6 317.5h0M523.9 295.8h0M562.6 322.0h0M518.1 297.2h0M527.7 317.9h0M535.8 292.7h0M545.1 321.2h0M524.3 321.5h0M541.3 330.3h0M553.7 329.7h0M540.2 326.3h0M560.3 316.4h0M561.6 301.0h0M541.9 294.1h0M524.5 334.4h0M553.6 307.2h0M511.3 301.4h0M515.6 303.0h0M562.4 286.5h0M531.9 338.6h0M521.5 299.5h0M560.7 295.7h0M549.8 331.0h0M521.2 341.5h0M518.3 321.0h0M552.2 314.9h0M565.0 317.1h0M548.2 314.8h0M517.0 335.4h0M523.5 338.1h0M557.6 321.9h0M568.7 306.7h0M532.7 301.5h0M548.5 299.3h0M554.2 300.1h0M522.1 295.8h0M519.9 303.3h0M556.6 322.0h0M563.1 294.7h0M511.1 316.4h0M526.0 307.9h0M550.4 310.5h0M536.2 300.5h0M537.6 322.4h0M562.0 313.5h0M506.8 322.7h0M537.3 300.9h0M537.8 336.4h0M510.7 327.4h0M531.1 330.2h0M551.8 334.4h0M567.4 297.2h0M562.3 308.1h0M564.1 298.9h0M520.9 313.1h0M559.5 317.6h0M553.4 326.7h0M559.1 311.7h0M536.6 340.4h0M532.6 338.4h0M543.9 304.8h0M536.2 303.2h0M540.6 311.0h0M555.2 291.4h0M557.1 314.5h0M545.9 337.5h0M545.5 305.9h0M519.8 334.3h0M526.4 307.6h0M562.0 293.3h0M551.9 313.3h0M506.9 321.9h0M537.2 341.1h0M534.1 322.2h0M546.3 291.0h0M532.3 305.8h0M523.8 341.2h0M522.4 296.4h0M509.1 318.8h0M559.9 295.6h0M508.8 327.5h0M510.5 327.4h0M510.1 325.9h0M546.9 339.7h0M534.9 335.3h0M555.1 300.7h0M536.0 321.9h0M532.7 308.9h0M551.5 310.9h0M526.8 299.5h0M521.2 313.9h0M506.5 310.5h0M546.3 339.6h0M508.0 302.5h0M513.0 333.7h0M520.7 336.6h0M543.5 301.4h0M544.5 324.3h0M555.8 329.7h0M506.5 309.5h0M531.5 309.3h0M553.9 299.1h0M533.2 338.8h0M508.9 315.9h0M513.4 316.6h0M555.3 318.5h0M541.7 320.9h0M547.3 333.7h0M557.5 302.3h0M539.3 342.2h0M522.3 323.8h0M546.2 309.0h0M532.0 296.7h0M532.3 322.9h0M545.2 315.3h0M529.6 310.6h0M565.3 315.6h0M538.6 296.4h0M521.6 323.1h0M560.5 300.3h0M540.0 302.8h0M524.5 289.4h0M538.3 321.2h0M532.4 291.1h0M535.5 345.5h0M537.4 332.0h0M528.4 330.6h0M553.7 294.5h0M560.5 286.6h0M550.7 326.3h0M510.1 301.7h0M526.6 324.3h0M543.3 324.0h0M510.6 302.1h0M521.7 309.9h0M551.7 305.9h0M519.8 298.9h0M546.4 307.7h0M515.1 338.1h0M540.9 304.7h0M515.6 325.3h0M561.4 304.7h0M562.3 325.3h0M506.5 321.7h0M545.3 334.2h0M542.4 301.1h0M543.8 295.4h0M534.5 290.3h0M517.4 292.5h0M551.7 309.9h0M561.3 326.7h0M527.0 329.4h0M567.1 296.4h0M558.8 328.8h0M531.4 310.2h0M519.4 298.7h0M540.2 300.1h0M511.7 323.3h0M567.0 303.9h0M529.5 301.1h0M519.4 338.5h0M544.7 325.6h0M553.3 300.2h0M529.2 307.4h0M531.4 296.5h0M521.8 303.3h0M537.2 292.7h0M530.4 309.9h0M550.5 331.6h0M516.5 309.6h0M514.1 308.7h0M514.8 301.0h0M550.7 294.5h0M512.1 316.5h0M522.2 309.8h0M527.5 306.5h0M537.9 316.0h0M515.8 297.7h0M515.4 332.8h0M563.0 302.3h0M523.1 318.4h0M542.8 314.8h0M534.0 299.7h0M516.3 311.2h0M533.8 295.9h0M533.1 314.1h0M528.4 301.8h0M506.8 324.2h0M509.0 304.1h0M552.8 313.7h0M564.0 289.0h0M517.7 305.8h0M534.2 345.3h0M525.6 313.6h0M516.1 295.2h0M550.6 294.9h0M537.0 300.7h0M524.7 298.8h0M530.5 298.4h0M529.7 311.0h0M561.6 302.3h0M549.2 308.4h0M562.2 301.9h0M525.8 331.3h0M506.0 312.7h0M523.7 292.0h0M562.7 317.2h0M564.3 297.9h0M520.9 312.2h0M522.1 294.7h0M558.5 326.7h0M550.4 328.4h0M565.8 293.4h0M532.1 315.1h0M531.4 301.6h0M520.4 336.6h0M558.7 314.0h0M533.7 323.6h0M546.0 301.1h0M524.7 294.1h0M526.4 301.8h0M540.4 309.4h0M544.6 300.2h0M511.5 331.5h0M520.1 315.4h0M535.9 332.1h0M529.3 329.6h0M537.3 291.2h0M563.3 295.7h0M533.2 310.4h0M530.5 322.5h0M555.9 326.8h0M552.9 328.9h0M522.2 337.4h0M509.5 309.2h0M516.2 297.0h0M530.2 341.5h0M538.9 301.9h0M559.5 318.4h0M542.1 338.4h0M546.7 313.9h0M547.7 332.7h0M567.2 303.6h0M560.4 327.2h0M543.8 307.1h0M549.6 305.8h0M559.5 311.6h0M545.6 310.0h0M550.0 302.7h0M512.0 318.7h0M514.8 298.4h0M551.9 297.2h0M553.3 300.8h0M541.1 323.7h0M510.7 320.4h0M558.8 321.5h0M550.8 332.4h0M560.0 293.0h0M530.6 320.6h0M552.9 331.6h0M522.5 317.0h0M518.6 301.2h0M550.8 322.3h0M565.0 311.3h0M560.1 288.3h0M526.0 341.7h0M520.1 332.8h0M531.6 327.1h0M548.8 338.9h0M563.5 308.5h0M535.1 302.2h0M561.2 307.6h0M513.3 316.3h0M531.1 312.1h0M563.8 290.7h0M537.5 336.0h0M544.8 314.4h0M525.6 305.8h0M519.1 299.0h0M541.0 299.4h0M544.0 291.9h0M540.9 299.6h0M507.5 306.1h0M521.2 336.0h0M520.8 333.0h0M565.0 289.3h0M536.9 317.6h0M539.4 339.1h0M518.8 338.4h0M509.2 306.6h0M546.4 287.4h0M535.3 337.5h0M531.5 297.5h0M505.5 318.9h0M533.8 321.5h0M528.0 325.7h0M569.6 302.5h0M533.6 294.8h0M516.2 337.2h0M528.4 306.6h0M541.5 300.4h0M566.6 289.8h0M531.7 292.2h0M564.6 304.0h0M545.5 294.9h0M521.4 337.6h0M517.8 302.4h0M508.7 314.4h0M515.9 316.6h0M520.7 301.1h0M544.6 302.7h0M536.9 289.5h0M545.0 340.6h0M552.2 305.1h0M550.9 319.4h0M538.7 320.3h0M536.0 337.5h0M522.0 311.7h0M535.6 302.7h0M557.2 330.6h0M515.5 323.8h0M559.8 313.0h0M519.5 312.7h0M521.7 309.5h0M562.6 301.8h0M553.1 334.4h0M521.7 299.7h0M527.0 332.4h0M524.9 314.7h0M525.8 325.2h0M546.1 313.8h0M517.5 334.8h0M529.3 337.5h0M541.9 311.4h0M541.2 335.7h0M550.3 316.1h0M536.7 342.8h0M556.5 286.4h0M508.1 313.1h0M531.2 316.0h0M518.6 293.3h0M524.5 321.1h0M550.6 284.7h0M544.6 341.1h0M533.4 290.4h0M516.5 293.5h0M519.5 335.9h0M540.2 337.3h0M521.1 321.6h0M533.6 319.1h0M524.7 304.1h0M511.9 329.4h0M567.7 296.3h0M558.1 311.0h0M562.9 307.9h0M543.9 316.9h0M517.2 307.8h0M553.7 304.8h0M561.0 307.8h0M536.7 314.3h0M510.6 319.6h0M531.0 311.0h0M526.3 333.3h0M550.2 316.3h0M551.0 289.2h0M528.9 310.9h0M520.1 303.2h0M512.1 324.6h0M515.4 304.9h0M524.0 313.0h0M538.6 315.9h0M567.4 303.7h0M565.2 309.5h0M554.8 311.6h0M557.7 319.4h0M547.9 290.9h0M532.4 319.0h0M510.5 330.3h0M534.2 289.7h0M506.5 322.8h0M531.4 340.2h0M515.3 334.8h0M552.3 331.0h0M518.7 310.7h0M513.3 309.2h0M555.8 304.9h0M568.2 301.5h0M540.9 322.6h0M534.0 314.9h0M521.2 319.1h0M513.3 320.9h0M523.7 325.1h0M528.5 295.7h0M547.5 285.9h0M510.1 312.2h0M553.9 291.8h0M513.3 319.8h0M522.3 332.7h0M534.3 318.6h0M527.2 296.7h0M566.7 299.2h0M557.5 326.0h0M524.4 291.7h0M539.9 287.2h0M532.1 292.1h0M539.4 310.2h0M545.6 293.3h0M527.0 329.2h0M510.2 322.2h0M558.5 304.3h0M542.9 316.8h0M542.8 342.8h0M531.1 309.6h0M544.0 320.7h0M543.7 302.3h0M558.9 325.6h0M543.9 338.4h0M554.0 304.5h0M560.5 323.6h0M550.7 320.6h0M546.6 310.2h0M560.0 293.5h0M568.9 297.3h0M513.2 320.5h0M533.9 291.6h0M564.5 308.7h0M548.9 338.9h0M515.0 312.7h0M566.8 303.3h0M547.6 315.6h0M554.5 310.3h0M512.0 309.5h0M544.3 286.1h0M515.5 293.3h0M561.5 306.7h0M539.6 297.7h0M555.6 297.0h0M555.1 301.6h0M539.2 288.3h0M532.6 329.8h0M529.5 306.6h0M548.9 306.9h0M511.0 306.9h0M537.7 332.1h0M519.4 301.4h0M562.7 308.1h0M513.4 332.1h0M519.9 340.4h0M523.1 315.3h0M520.3 308.6h0M531.2 339.3h0M516.0 327.2h0M564.8 294.4h0M508.7 329.3h0M539.9 302.6h0M540.2 330.0h0M515.7 324.9h0M554.1 285.9h0M530.0 327.7h0M529.1 324.2h0M515.6 298.2h0M538.5 331.7h0M552.4 302.7h0M536.6 297.1h0M510.2 333.0h0M562.8 298.7h0M512.0 321.0h0M554.1 296.8h0M526.9 331.8h0M522.0 323.9h0M539.4 320.6h0M510.2 322.3h0M567.6 308.1h0M523.9 301.4h0M566.1 293.1h0M535.1 298.4h0M546.9 320.9h0M518.6 338.2h0M541.3 337.7h0M538.1 337.2h0M516.3 323.1h0M567.0 297.4h0M533.0 309.6h0M542.7 316.8h0M549.4 289.7h0M550.2 313.7h0M534.7 295.8h0M532.9 288.7h0M533.7 322.4h0M559.9 292.8h0M524.3 297.4h0M531.1 294.1h0M520.1 321.6h0M541.9 320.2h0M561.6 319.7h0M543.5 319.6h0M558.9 284.7h0M548.5 307.4h0M547.2 315.1h0M555.2 332.2h0M555.3 322.3h0M523.5 330.3h0M519.9 304.6h0M523.7 342.4h0M511.4 333.2h0M516.9 325.3h0M520.5 315.5h0M531.0 311.5h0M557.9 319.8h0M564.6 319.3h0M543.3 308.9h0M538.3 333.6h0M536.7 310.0h0M562.7 312.1h0M546.4 308.9h0M559.7 305.3h0M566.7 298.0h0M537.3 310.4h0M517.5 307.2h0M536.6 303.3h0M526.5 304.5h0M509.8 321.8h0M544.2 333.9h0M542.6 315.4h0M511.3 319.4h0M548.5 319.0h0M532.4 329.6h0M526.2 329.6h0M526.5 299.2h0M534.1 339.2h0M539.7 310.0h0M557.0 328.0h0M533.7 327.5h0M529.1 316.2h0M538.9 301.0h0M516.9 335.8h0M513.5 304.5h0M517.6 299.4h0M543.8 289.8h0M528.7 313.6h0M564.6 305.0h0M522.6 302.6h0M526.0 341.9h0M540.3 298.4h0M559.4 328.5h0M549.5 319.4h0M529.7 312.2h0M523.8 293.1h0M527.3 303.1h0M561.9 321.0h0M525.3 311.1h0M516.2 337.5h0M522.2 297.7h0M530.6 301.3h0M567.0 308.1h0M536.0 308.3h0M563.2 296.4h0M552.4 318.7h0M511.9 326.4h0M512.0 299.9h0M536.8 330.5h0M507.2 321.8h0M559.4 290.0h0M513.0 311.0h0M563.3 317.1h0M540.7 303.7h0M564.5 286.2h0M515.1 309.3h0M565.9 312.9h0M543.3 307.4h0M524.3 309.8h0M512.2 330.7h0M538.4 292.6h0M546.0 299.7h0M558.5 307.2h0M521.5 316.8h0M539.3 337.4h0M509.2 317.6h0M526.5 340.1h0M511.0 301.8h0M543.3 323.6h0" stroke="#1fa5a8" stroke-opacity="1" stroke-width="1.6" stroke-linecap="round"/>
<path d="M566.8 331.2h0M540.0 327.6h0M505.3 296.6h0M540.0 299.7h0M546.5 310.1h0M552.5 315.6h0M517.1 314.1h0M501.2 301.0h0M579.9 320.8h0M511.9 280.5h0M509.7 300.7h0M539.9 315.6h0M557.5 315.1h0M555.3 313.2h0M520.8 321.2h0M536.9 318.1h0M522.4 309.6h0M536.3 342.4h0M523.5 313.4h0M559.0 286.4h0M532.8 330.3h0M533.7 293.4h0M562.7 285.9h0M523.2 298.2h0M531.4 272.5h0M527.5 306.1h0M536.9 313.3h0M568.7 297.5h0M524.1 306.9h0M512.7 322.7h0M514.9 304.0h0M524.5 330.9h0M509.9 302.3h0M512.6 346.8h0M520.2 314.5h0M545.8 291.9h0M541.1 327.2h0M529.5 319.0h0M543.3 289.3h0M537.0 348.5h0M534.1 307.4h0M519.4 324.8h0M535.6 303.2h0M532.3 302.6h0M529.3 323.0h0M539.0 274.1h0M534.5 333.8h0M512.8 300.1h0M524.8 339.7h0M513.5 336.3h0M489.5 295.8h0M511.4 292.4h0M584.5 336.8h0M502.4 293.9h0M534.0 315.6h0M550.5 323.3h0M532.8 330.2h0M534.0 316.0h0M516.7 301.4h0M522.3 329.7h0M522.5 323.4h0M513.8 334.3h0M533.2 297.3h0M548.1 342.2h0M553.4 324.4h0M568.9 309.8h0M547.6 325.9h0M584.5 313.7h0M539.8 283.3h0M515.4 303.9h0M509.0 321.2h0M541.5 320.1h0M552.8 319.1h0M554.6 302.0h0M537.4 297.2h0M562.3 307.6h0M538.0 318.3h0M529.5 313.2h0M533.9 320.9h0M538.7 303.3h0M548.8 304.9h0M513.6 304.5h0M516.8 310.0h0M559.4 304.5h0M530.1 313.9h0M559.5 306.9h0M549.5 338.0h0M543.0 302.6h0M560.2 298.6h0M534.2 322.2h0M549.8 343.5h0M552.8 312.2h0M557.4 294.1h0M519.0 328.1h0M536.7 296.8h0M566.2 313.8h0M551.1 310.2h0M563.5 294.5h0M567.0 328.9h0M526.2 320.7h0M537.0 312.1h0M565.3 319.6h0M547.8 294.5h0M520.7 309.6h0M546.2 320.4h0M545.2 326.9h0M527.4 282.9h0M530.1 322.7h0" stroke="#1fa5a8" stroke-opacity="1" stroke-width="1.6" stroke-linecap="round"/>
<path d="M531.9 282.0h0M519.0 280.4h0M554.6 292.7h0M558.2 285.4h0M532.2 284.1h0M554.7 288.7h0M545.6 280.9h0M554.5 286.4h0M567.9 279.4h0M559.9 279.9h0M546.9 292.9h0M530.9 272.0h0M536.1 286.1h0M541.0 279.1h0M537.3 287.8h0M549.3 279.0h0M552.3 283.8h0M567.5 276.0h0M559.1 288.6h0M529.3 279.1h0M571.4 275.5h0M544.9 272.0h0M539.9 273.4h0M523.3 286.6h0M546.7 276.3h0M571.4 276.0h0M545.0 282.9h0M551.9 282.0h0M550.3 283.5h0M557.9 281.3h0M536.2 292.3h0M535.3 276.8h0M553.1 279.3h0M557.0 281.5h0M537.1 285.7h0M550.2 290.5h0M557.5 283.0h0M549.8 287.0h0M540.1 285.0h0M571.2 294.0h0M563.3 279.5h0M553.2 290.1h0M543.5 282.7h0M529.8 284.2h0M539.8 286.5h0M545.8 289.4h0M533.4 279.4h0M558.0 282.2h0M530.0 278.0h0M565.4 272.0h0M540.3 293.9h0M535.6 283.7h0M541.8 282.6h0M551.4 278.6h0M558.1 281.6h0M531.7 284.8h0M553.2 289.2h0M539.6 284.4h0M528.7 283.6h0M530.9 277.3h0M559.9 279.7h0M528.4 282.9h0M537.3 273.1h0M545.5 280.2h0M563.6 283.0h0M518.7 291.2h0M546.8 273.9h0M547.0 275.8h0M524.4 287.0h0M539.4 272.0h0M540.9 294.0h0M551.8 283.9h0M540.9 287.6h0M538.2 285.9h0M547.4 274.1h0M558.2 286.0h0M528.6 277.9h0M545.4 281.7h0M542.0 282.9h0M544.1 284.0h0M556.2 287.0h0M537.3 283.1h0M526.4 288.7h0M542.1 284.5h0M528.9 280.0h0M564.9 285.2h0M561.8 280.6h0M531.5 287.1h0M544.7 280.9h0M524.6 281.1h0" stroke="#1fa5a8" stroke-opacity="1" stroke-width="1.6" stroke-linecap="round"/>
<path d="M568.9 270.8h0M573.2 261.7h0M572.9 255.3h0M568.4 273.5h0M571.4 255.5h0M573.2 258.3h0M570.8 240.5h0M570.0 259.3h0M571.8 265.4h0M571.7 261.5h0M571.9 260.8h0M569.3 276.1h0M570.1 247.4h0M569.1 274.2h0M571.3 276.3h0M569.0 252.5h0M572.2 258.3h0M571.1 247.1h0M571.2 257.0h0M570.2 271.2h0M570.7 274.0h0M572.9 265.0h0M569.5 275.1h0M569.5 244.7h0M571.7 264.8h0M571.0 256.8h0M573.6 238.0h0M571.5 239.9h0M571.6 258.3h0M571.7 239.6h0M569.6 265.2h0M571.0 243.8h0M572.4 257.9h0M573.9 251.6h0M570.8 243.4h0M574.4 261.7h0M570.1 248.8h0M569.2 269.7h0M570.6 269.1h0M574.0 254.0h0" stroke="#1fa5a8" stroke-opacity="1" stroke-width="1.6" stroke-linecap="round"/>
<path d="M565.1 273.0h0M561.4 260.1h0M566.7 259.9h0M565.8 261.0h0M561.8 254.6h0M563.2 266.7h0M568.9 257.0h0M565.6 257.6h0M566.6 262.6h0M562.3 259.0h0M566.0 264.2h0M560.1 265.4h0M565.7 265.6h0M566.6 261.5h0M563.2 257.3h0M565.1 261.6h0M562.7 256.0h0M563.0 253.9h0M564.5 253.6h0M565.1 266.7h0M564.3 254.5h0M565.2 267.5h0M560.9 261.3h0M559.6 259.8h0M565.1 261.9h0M557.8 269.8h0M559.1 254.4h0M560.0 263.9h0M565.9 259.2h0M565.7 256.2h0" stroke="#1fa5a8" stroke-opacity="1" stroke-width="1.6" stroke-linecap="round"/>
<path d="M555.6 260.5h0M557.3 260.7h0M554.5 271.6h0M563.3 272.0h0M563.3 266.6h0M560.0 269.9h0M548.6 253.5h0M557.5 262.5h0M551.9 268.9h0M565.8 276.2h0M551.8 257.3h0M558.2 272.0h0M550.4 256.8h0M554.6 260.9h0M551.2 251.8h0M554.1 264.9h0M545.3 253.6h0M552.4 270.0h0M557.8 273.7h0M546.6 251.1h0M559.1 274.3h0M566.0 265.8h0M560.2 272.9h0M555.4 267.0h0M555.8 263.7h0M558.2 275.6h0M551.0 263.7h0M550.4 251.6h0M551.8 265.3h0M554.8 260.9h0M556.3 270.5h0M557.7 268.0h0M559.4 264.3h0M554.0 257.6h0M551.4 258.9h0" stroke="#1fa5a8" stroke-opacity="1" stroke-width="1.6" stroke-linecap="round"/>
<path d="M556.8 266.6h0M560.4 275.3h0M553.5 272.0h0M549.4 279.5h0M562.0 271.0h0M562.8 283.2h0M557.7 283.8h0M554.6 282.8h0M549.1 278.9h0M552.2 272.0h0M553.9 273.8h0M557.6 278.9h0M561.1 276.5h0M556.3 272.4h0M558.4 274.1h0M548.2 271.7h0M556.7 276.5h0M563.0 274.7h0M551.9 280.1h0M544.6 277.9h0M560.1 273.5h0M564.9 280.5h0M560.3 266.2h0M553.0 269.2h0M559.6 272.6h0" stroke="#1fa5a8" stroke-opacity="1" stroke-width="1.6" stroke-linecap="round"/>
<path d="M560.0 239.0h0M559.3 243.8h0M553.8 246.9h0M575.0 239.0h0M574.0 243.0h0" stroke="#1fa5a8" stroke-opacity="1" stroke-width="1.6" stroke-linecap="round"/>
<path d="M547.6 257.4h0M554.5 255.0h0M549.0 259.2h0M546.4 258.7h0M544.9 260.6h0M536.1 260.0h0M542.0 260.6h0M550.4 259.0h0M546.6 256.9h0M542.0 259.5h0M544.8 259.9h0M541.7 263.8h0M535.3 260.1h0M543.8 257.1h0M562.4 268.0h0M540.0 276.0h0M545.0 277.0h0M549.0 274.0h0M595.0 260.0h0" stroke="#d7dd1c" stroke-opacity="1" stroke-width="1.7" stroke-linecap="round"/>
<path d="M526.6 293.1h0M520.4 303.5h0M516.4 316.1h0M524.9 295.1h0M520.8 306.7h0M524.8 295.6h0M526.0 292.7h0M521.8 303.1h0M528.5 287.5h0M520.0 307.9h0M521.7 303.9h0M526.0 293.0h0M516.3 314.5h0M525.6 294.2h0M524.9 297.8h0M528.9 286.9h0M526.9 292.6h0M526.7 291.8h0M527.8 288.4h0M525.7 292.1h0M521.1 304.5h0M517.1 313.4h0M529.8 285.2h0M530.8 284.2h0M521.9 303.3h0M525.9 295.9h0M531.0 283.0h0M516.1 314.0h0M531.1 283.4h0M530.8 281.6h0M515.7 315.8h0M516.4 312.8h0M519.4 309.1h0M516.6 315.7h0M517.0 311.5h0M527.8 288.3h0M525.6 293.4h0M515.7 313.7h0M521.8 302.5h0M528.1 288.4h0M519.0 307.1h0M523.3 296.4h0M520.6 303.4h0M518.2 310.7h0M529.5 283.7h0M518.2 310.4h0M524.5 296.8h0M524.9 296.6h0M526.5 292.1h0M525.4 294.9h0M526.7 293.5h0M531.0 281.6h0M531.5 281.2h0M526.0 294.9h0M520.4 304.1h0M529.9 285.5h0M525.9 290.3h0M529.5 283.5h0M519.5 305.7h0M515.7 315.7h0M522.1 302.0h0M521.2 301.0h0M524.6 298.6h0M531.8 282.9h0M529.2 287.9h0M528.7 287.0h0M526.9 292.0h0M518.0 310.0h0M518.6 308.9h0M522.8 299.5h0M520.7 305.4h0M525.4 293.9h0M520.2 305.4h0M518.2 312.7h0M516.4 314.1h0M517.3 313.2h0M518.0 311.4h0M524.0 297.2h0M526.7 291.4h0M524.3 298.5h0M521.5 302.7h0M523.2 300.3h0M519.7 306.6h0M523.5 298.4h0M522.9 301.9h0M530.2 282.0h0M529.5 284.8h0M520.8 304.1h0M521.3 304.2h0M520.8 304.1h0M523.7 298.5h0M518.2 311.2h0M530.4 286.0h0M520.6 306.5h0M515.5 314.8h0M530.2 286.0h0M524.4 296.9h0M516.0 314.2h0M524.2 297.5h0M524.6 295.2h0M521.0 303.9h0M517.3 311.4h0M527.3 289.8h0M513.8 317.2h0M526.3 294.3h0M530.0 284.5h0M529.9 285.8h0M530.1 284.8h0M518.8 309.0h0M522.6 302.5h0M523.2 301.0h0M522.8 299.8h0M521.9 303.3h0M525.2 294.7h0M525.8 293.1h0M528.3 288.7h0M519.3 308.2h0M522.0 301.9h0M514.3 316.5h0M514.7 317.2h0M518.3 310.3h0M518.5 310.7h0M521.4 304.3h0M519.0 308.0h0M515.1 317.9h0M526.4 290.8h0M518.5 310.4h0M532.0 282.4h0M519.5 307.4h0M523.2 298.3h0" stroke="#d7dd1c" stroke-opacity="1" stroke-width="1.8" stroke-linecap="round"/>
<path d="M514.0 315.4h0M517.4 307.9h0M512.7 317.8h0M518.7 307.0h0M516.3 310.9h0M517.9 308.6h0M515.9 309.7h0M514.9 313.5h0M512.9 317.7h0M513.3 315.4h0M516.4 311.4h0M515.7 311.9h0M516.2 311.1h0M516.1 312.7h0M513.0 317.4h0M516.5 311.8h0M517.7 306.1h0M516.5 311.7h0M515.1 314.3h0M514.5 313.0h0M518.3 305.6h0M514.4 318.0h0M515.1 312.5h0M517.0 310.6h0M519.0 306.1h0M517.2 309.1h0M513.8 316.2h0M512.9 316.7h0M512.9 316.8h0M515.4 311.5h0M517.6 309.1h0M516.6 307.9h0M516.3 309.4h0M515.2 313.5h0M516.0 310.9h0M513.3 316.8h0M513.1 316.5h0M512.4 317.2h0M513.0 317.1h0M517.4 307.3h0M514.4 314.2h0M517.5 307.3h0M515.7 309.9h0M514.3 316.6h0M512.3 317.1h0M513.4 318.1h0M518.7 305.6h0M514.8 313.2h0M514.2 313.6h0M516.7 308.8h0M515.2 312.4h0M516.2 308.4h0M515.2 314.2h0M515.7 311.8h0M518.3 306.8h0M514.0 315.7h0M514.7 315.4h0M513.8 316.0h0M513.9 316.7h0M518.7 305.4h0" stroke="#d7dd1c" stroke-opacity="1" stroke-width="1.8" stroke-linecap="round"/>
<path d="M551.1 312.9h0M553.2 314.6h0M544.1 311.9h0M542.2 310.7h0M537.8 314.3h0M531.3 307.8h0M544.7 313.0h0M554.3 309.5h0M536.3 307.9h0M546.9 309.9h0M526.6 310.4h0M528.0 309.8h0M527.4 309.0h0M540.5 311.6h0M531.5 308.8h0M530.0 312.1h0M538.6 311.0h0M536.3 311.4h0M543.0 309.2h0M536.1 310.5h0M527.5 307.4h0M548.5 312.7h0M530.2 307.2h0M553.1 312.9h0M536.1 312.2h0M546.6 312.4h0M542.5 313.2h0M527.2 311.7h0M545.6 311.0h0M548.2 310.9h0M544.7 310.7h0M551.7 311.7h0M552.7 311.5h0M553.5 311.5h0M533.5 312.9h0M540.7 311.1h0M555.4 311.3h0M548.7 313.9h0M538.3 309.0h0M549.5 311.5h0M539.8 311.8h0M548.1 312.6h0M549.4 309.7h0M547.3 309.4h0M534.6 308.5h0M536.2 309.3h0M540.4 312.8h0M552.9 311.7h0M546.4 312.0h0M554.6 310.6h0M526.0 308.3h0M551.6 312.7h0M525.7 309.6h0M545.1 311.0h0M548.6 313.1h0M550.3 310.8h0M555.1 311.0h0M535.7 309.8h0M527.4 308.4h0M536.9 311.9h0M541.1 308.8h0M526.3 309.8h0M553.4 309.0h0M552.4 309.1h0M536.7 310.6h0M539.2 311.3h0M542.5 310.9h0M541.3 307.9h0M553.6 313.6h0M541.7 312.7h0M526.9 307.9h0M531.7 311.9h0M535.2 309.5h0M536.3 310.6h0M544.6 310.2h0M536.6 309.0h0M530.5 307.4h0M544.7 310.9h0M529.1 310.5h0M542.8 310.6h0M534.6 311.3h0M552.9 313.1h0M553.6 314.1h0M536.4 312.1h0M530.8 309.9h0M549.4 312.0h0M554.7 311.7h0M547.7 310.3h0M552.9 310.0h0M541.2 313.6h0M553.7 310.5h0M554.1 312.7h0M536.4 312.8h0M527.8 309.7h0M530.4 308.9h0M535.5 311.1h0M548.5 314.0h0M548.2 310.2h0M539.8 309.6h0M538.3 310.0h0M536.5 311.8h0M553.4 313.1h0M535.2 309.6h0M547.5 311.7h0M545.3 312.8h0M530.4 307.9h0M547.8 311.4h0M525.6 309.7h0M536.4 311.6h0M543.4 312.3h0M543.5 309.2h0M545.7 311.4h0M550.0 310.8h0M525.7 309.4h0M549.0 312.3h0M536.4 310.4h0M534.3 310.7h0M535.0 313.8h0M528.3 312.3h0M532.6 311.6h0M529.9 309.8h0M536.7 313.7h0M542.2 310.2h0M530.6 307.1h0M554.7 311.6h0M540.3 309.6h0M548.8 308.1h0M544.8 309.8h0M532.1 309.4h0M554.6 311.2h0M538.1 311.3h0M538.6 311.7h0M552.6 312.7h0M554.9 310.2h0M528.5 310.6h0M526.9 311.7h0M553.7 311.5h0M534.8 310.1h0M526.5 309.9h0M528.0 310.3h0M540.7 311.0h0M547.1 312.2h0M546.4 310.1h0M555.0 309.2h0M547.8 310.7h0M535.5 309.9h0M538.7 310.7h0M540.6 310.2h0M555.9 310.5h0M546.0 311.8h0" stroke="#d7dd1c" stroke-opacity="1" stroke-width="1.7" stroke-linecap="round"/>
<path d="M543.2 305.5h0M543.3 305.1h0M550.1 325.9h0M547.8 314.1h0M542.3 302.3h0M543.4 305.6h0M550.6 325.5h0M543.8 306.9h0M545.6 314.6h0M551.2 325.2h0M544.2 305.2h0M542.2 303.1h0M548.8 318.6h0M546.7 314.6h0M549.6 321.5h0M540.9 301.8h0M545.9 310.7h0M549.1 323.0h0M547.8 318.0h0M551.4 327.1h0M551.3 326.7h0M551.3 325.2h0M548.1 318.1h0M542.5 303.4h0M544.0 306.7h0M550.8 323.5h0M547.3 315.3h0M549.5 321.4h0M546.9 314.6h0M546.8 312.5h0M546.8 314.9h0M544.4 309.8h0M548.8 319.8h0M541.9 303.7h0M549.3 321.5h0M548.2 317.6h0M549.0 318.9h0M552.0 326.6h0M549.4 320.5h0M542.0 301.5h0M548.5 317.7h0M545.6 311.1h0M549.3 323.7h0M548.7 316.9h0M548.9 320.5h0M549.3 321.5h0M543.7 306.9h0M546.2 313.4h0M551.3 326.7h0M548.8 319.5h0M548.7 319.4h0M542.2 301.1h0M544.2 306.5h0M545.8 312.0h0M551.4 327.1h0M542.0 302.1h0M547.3 314.8h0M546.2 311.3h0M544.7 312.1h0M545.7 312.4h0M544.4 309.5h0M547.6 317.0h0M547.7 318.1h0M542.4 304.2h0M541.8 303.2h0M543.9 306.8h0M547.3 316.7h0M548.9 321.4h0M547.5 314.1h0M543.3 305.4h0M545.6 311.9h0M542.3 301.2h0M543.6 305.1h0M548.1 319.8h0M548.0 318.4h0M549.2 320.9h0M549.4 320.7h0M544.5 308.8h0M542.3 307.5h0M544.7 309.2h0" stroke="#d7dd1c" stroke-opacity="1" stroke-width="1.8" stroke-linecap="round"/>
<path d="M561.1 319.5h0M562.3 318.8h0M561.8 319.0h0M571.2 312.1h0M551.7 325.5h0M561.6 319.3h0M570.8 312.6h0M571.5 312.9h0M557.4 321.1h0M565.3 315.9h0M568.6 314.0h0M567.6 315.8h0M566.3 316.5h0M557.4 321.7h0M552.6 325.6h0M557.7 321.0h0M569.5 314.4h0M565.1 316.5h0M569.6 312.6h0M561.5 319.5h0M568.7 314.6h0M563.4 316.9h0M563.2 317.7h0M565.8 316.6h0M553.4 323.9h0M567.0 316.0h0M565.7 315.4h0M567.9 316.2h0M553.7 323.8h0M550.1 325.8h0M563.1 317.7h0M564.2 316.9h0M552.4 323.8h0M571.2 312.2h0M550.8 325.9h0M556.9 322.4h0M556.1 321.7h0M551.1 325.8h0M558.1 320.9h0M567.6 316.4h0M567.9 315.3h0M551.0 326.1h0M571.1 313.1h0M570.6 313.5h0M554.2 323.5h0M555.8 322.1h0M570.3 314.4h0M568.9 315.1h0M565.2 317.3h0M550.5 325.4h0M567.5 315.2h0M566.5 316.2h0M549.2 326.8h0M558.2 320.0h0M561.9 318.7h0M556.6 321.3h0M566.8 314.9h0M572.0 312.6h0M551.6 323.4h0M551.8 325.8h0M558.1 320.5h0M569.5 313.6h0M566.5 315.7h0M561.1 319.0h0M561.1 319.1h0M569.0 313.7h0M568.9 314.3h0M566.6 315.1h0M568.8 314.3h0M554.8 323.3h0M560.7 319.3h0M559.9 320.7h0M566.4 315.8h0M555.5 322.4h0M567.7 316.3h0M556.3 323.2h0M556.2 322.7h0M552.9 324.3h0M565.5 317.4h0M550.7 326.1h0" stroke="#d7dd1c" stroke-opacity="1" stroke-width="1.8" stroke-linecap="round"/>
<path d="M563.1 307.8h0M570.2 314.3h0M568.3 312.2h0M570.3 315.6h0M562.9 308.9h0M560.6 306.7h0M567.1 311.9h0M572.4 315.5h0M569.5 313.3h0M568.9 312.3h0M569.4 312.8h0M564.3 310.9h0M558.8 305.2h0M558.2 306.6h0M574.0 316.1h0M563.1 309.5h0M569.6 313.5h0M560.8 308.3h0M564.2 309.8h0M564.3 309.8h0M565.2 310.0h0M560.0 306.8h0M563.5 309.6h0M565.6 311.3h0M565.3 310.3h0M566.0 310.9h0M565.8 310.7h0M563.7 307.8h0M571.6 315.1h0M566.6 310.5h0M560.9 307.3h0M570.3 313.6h0M572.3 315.1h0M569.0 313.0h0M561.8 307.0h0M558.8 305.8h0M561.9 309.2h0M562.2 309.4h0M562.2 309.6h0M562.6 309.4h0M569.0 313.4h0M561.5 309.2h0M565.8 310.8h0M571.3 315.5h0M563.3 309.5h0M558.8 306.0h0M566.8 310.9h0M568.4 313.0h0M564.9 311.6h0M559.5 306.6h0M573.6 316.2h0M560.6 307.3h0M565.9 310.7h0M561.9 308.0h0M567.8 311.7h0M562.8 309.3h0M573.2 315.9h0M563.4 309.0h0M563.7 309.3h0M567.1 310.6h0M562.5 309.6h0M560.9 308.6h0M564.1 309.2h0M566.8 313.5h0M574.1 316.9h0M570.5 313.9h0M572.5 315.8h0M573.8 316.9h0M559.5 305.9h0M567.5 312.3h0" stroke="#d7dd1c" stroke-opacity="1" stroke-width="1.8" stroke-linecap="round"/>
<path d="M532.4 311.4h0M542.3 314.8h0M535.4 313.7h0M531.6 309.8h0M538.3 313.6h0M532.3 312.6h0M543.5 311.9h0M546.4 312.8h0M533.0 311.5h0M536.2 312.0h0M532.6 312.9h0M532.5 313.0h0M534.3 310.5h0M538.4 310.0h0M531.6 310.6h0M542.4 313.5h0M549.3 314.4h0M533.4 313.4h0M538.5 314.0h0M535.7 313.5h0M527.8 309.8h0M528.6 312.7h0M547.6 312.8h0M538.0 314.4h0M546.4 314.8h0M538.9 313.3h0M542.8 314.0h0M544.0 314.0h0M536.2 312.1h0M545.8 312.1h0M545.1 314.5h0M537.2 313.1h0M538.9 313.3h0M533.0 311.5h0M546.5 314.8h0M534.1 311.3h0M539.2 311.2h0M535.8 313.4h0M536.6 312.0h0M543.5 312.6h0M539.7 312.2h0M544.2 315.1h0M538.7 313.0h0M544.4 312.9h0M533.6 310.7h0M535.2 311.1h0M527.6 310.9h0M544.9 311.8h0M543.9 312.9h0M532.0 311.3h0M534.0 310.6h0M538.2 312.1h0M533.6 310.8h0M545.2 313.6h0M547.2 315.5h0M539.7 314.7h0M540.3 311.7h0M537.5 312.3h0M531.9 312.2h0M531.0 311.1h0M535.2 310.4h0M538.1 311.7h0M544.7 312.3h0M535.3 310.8h0M540.6 313.0h0M548.3 313.8h0M548.2 312.9h0M543.5 315.0h0M543.4 312.9h0M527.3 312.8h0M536.4 311.8h0M540.0 313.0h0M538.8 312.1h0M542.6 312.8h0M543.9 312.1h0M541.6 311.5h0M533.6 310.7h0M536.2 313.0h0M533.8 312.8h0M544.0 314.2h0M540.8 311.4h0M544.8 315.0h0M539.4 313.1h0M533.5 310.7h0M538.0 312.1h0M533.7 311.7h0M531.4 311.7h0M530.8 309.2h0M543.5 311.5h0M536.9 313.0h0M533.1 312.3h0M535.6 311.0h0M538.4 312.4h0M537.5 313.4h0M537.0 312.3h0M535.7 311.7h0M542.7 311.1h0M536.8 311.0h0M547.4 314.2h0M534.1 311.9h0M527.5 311.4h0M534.3 310.7h0M541.6 310.5h0M540.1 312.0h0M542.0 312.4h0M542.5 312.7h0M547.1 315.2h0M535.7 313.6h0M544.2 313.6h0M539.6 312.7h0" stroke="#e91e8c" stroke-opacity="1" stroke-width="1.8" stroke-linecap="round"/>
<path d="M536.0 292.0h0M514.0 316.0h0M552.0 300.0h0M565.0 306.0h0" stroke="#e91e8c" stroke-opacity="1" stroke-width="1.8" stroke-linecap="round"/>
<circle cx="179.5" cy="19.9" r="3.6" fill="#1ea2a6"/>
<text x="190.7" y="22.65" font-size="9.3" fill="#383838">Normal</text>
<circle cx="179.5" cy="31.4" r="3.6" fill="#b3167f"/>
<text x="190.7" y="34.15" font-size="9.3" fill="#383838">Fault</text>
<circle cx="410.3" cy="21.6" r="3.6" fill="#1ea2a6"/>
<text x="421.4" y="24.35" font-size="9.3" fill="#383838">Normal</text>
<circle cx="410.3" cy="33.3" r="3.6" fill="#b3167f"/>
<text x="421.4" y="36.05" font-size="9.3" fill="#383838">Fault</text>
<circle cx="644.7" cy="21" r="3.6" fill="#1ea2a6"/>
<text x="655.7" y="23.75" font-size="9.3" fill="#383838">Normal</text>
<circle cx="644.7" cy="32.5" r="3.6" fill="#b3167f"/>
<text x="655.7" y="35.25" font-size="9.3" fill="#383838">Fault</text>
<circle cx="183.1" cy="207.5" r="3.6" fill="#1ea2a6"/>
<text x="194" y="210.25" font-size="9.3" fill="#383838">Normal</text>
<circle cx="183.1" cy="219.3" r="3.6" fill="#b3167f"/>
<text x="194" y="222.05" font-size="9.3" fill="#383838">Fault</text>
<circle cx="413.3" cy="194.6" r="3.6" fill="#56b9d9"/>
<text x="422.4" y="197.35" font-size="9.2" fill="#383838">1</text>
<circle cx="413.3" cy="206.2" r="3.6" fill="#f1e65b"/>
<text x="422.4" y="208.95" font-size="9.2" fill="#383838">2</text>
<circle cx="413.3" cy="217.8" r="3.6" fill="#a9d88a"/>
<text x="422.4" y="220.55" font-size="9.2" fill="#383838">3</text>
<circle cx="413.3" cy="229.4" r="3.6" fill="#5f8cc9"/>
<text x="422.4" y="232.15" font-size="9.2" fill="#383838">4</text>
<circle cx="413.3" cy="241" r="3.6" fill="#6e1144"/>
<text x="422.4" y="243.75" font-size="9.2" fill="#383838">5</text>
<circle cx="413.3" cy="252.6" r="3.6" fill="#e8223f"/>
<text x="422.4" y="255.35" font-size="9.2" fill="#383838">6</text>
<circle cx="413.3" cy="264.2" r="3.6" fill="#4a3c9c"/>
<text x="422.4" y="266.95" font-size="9.2" fill="#383838">7</text>
<circle cx="413.3" cy="275.8" r="3.6" fill="#7dcbe6"/>
<text x="422.4" y="278.55" font-size="9.2" fill="#383838">8</text>
<circle cx="413.3" cy="287.4" r="3.6" fill="#333"/>
<text x="422.4" y="290.15" font-size="9.2" fill="#383838">Normal</text>
<rect x="410.1" y="295.8" width="6.4" height="6.4" fill="#333"/>
<text x="422.4" y="301.75" font-size="9.2" fill="#383838">Fault</text>
<circle cx="645.1" cy="208.9" r="3.6" fill="#1fa5a8"/>
<text x="653.6" y="211.65" font-size="9.5" fill="#383838">LFP</text>
<circle cx="645.1" cy="222.25" r="3.6" fill="#d7dd1c"/>
<text x="653.6" y="225" font-size="9.5" fill="#383838">NMC</text>
<circle cx="645.1" cy="235.6" r="3.6" fill="#e91e8c"/>
<text x="653.6" y="238.35" font-size="9.5" fill="#383838">LMO</text>
<circle cx="645.1" cy="248.95" r="3.6" fill="#1e9e4a"/>
<text x="653.6" y="251.7" font-size="9.5" fill="#383838">LP</text>
<circle cx="645.1" cy="262.3" r="3.6" fill="#1c1a7e"/>
<text x="653.6" y="265.05" font-size="9.5" fill="#383838">LCO</text>
<circle cx="645.1" cy="275.65" r="3.6" fill="#333"/>
<text x="653.6" y="278.4" font-size="9.5" fill="#383838">Normal</text>
<rect x="641.9" y="285.8" width="6.4" height="6.4" fill="#333"/>
<text x="653.6" y="291.75" font-size="9.5" fill="#383838">Fault</text>
<text x="-1.5" y="8.8" font-size="12" font-weight="bold" fill="#000">a</text>
<text x="229.8" y="8.8" font-size="12" font-weight="bold" fill="#000">b</text>
<text x="463.8" y="8.8" font-size="12" font-weight="bold" fill="#000">c</text>
<text x="-1" y="195.8" font-size="12" font-weight="bold" fill="#000">d</text>
<text x="229.2" y="195.8" font-size="12" font-weight="bold" fill="#000">e</text>
<text x="463.8" y="195.8" font-size="12" font-weight="bold" fill="#000">f</text>
<rect x="10" y="38.8" width="158.5" height="3.5" fill="#bdbdbd"/>
<line x1="10" y1="39.5" x2="168.5" y2="39.5" stroke="#9a9a9a" stroke-width="1.3"/>
<line x1="10" y1="41.6" x2="168.5" y2="41.6" stroke="#9a9a9a" stroke-width="1.3"/>
<path d="M10 39.5V12.4H168.5V39.5" fill="none" stroke="#5f5f5f" stroke-width="1"/>
<path d="M10 41.6V168.3H168.5" fill="none" stroke="#5f5f5f" stroke-width="1"/>
<line x1="168.5" y1="41.6" x2="168.5" y2="168.3" stroke="#5f5f5f" stroke-width="1"/>
<path d="M171.5 168.3V41.8H211.5V168.3H171.5" fill="none" stroke="#5f5f5f" stroke-width="1"/>
<line x1="171.5" y1="41.8" x2="171.5" y2="168.3" stroke="#5f5f5f" stroke-width="1"/>
<line x1="10.5" y1="168.3" x2="10.5" y2="170.3" stroke="#5f5f5f" stroke-width="0.8"/>
<line x1="30" y1="168.3" x2="30" y2="170.3" stroke="#5f5f5f" stroke-width="0.8"/>
<line x1="50" y1="168.3" x2="50" y2="170.3" stroke="#5f5f5f" stroke-width="0.8"/>
<line x1="70" y1="168.3" x2="70" y2="170.3" stroke="#5f5f5f" stroke-width="0.8"/>
<line x1="90" y1="168.3" x2="90" y2="170.3" stroke="#5f5f5f" stroke-width="0.8"/>
<line x1="110" y1="168.3" x2="110" y2="170.3" stroke="#5f5f5f" stroke-width="0.8"/>
<line x1="130" y1="168.3" x2="130" y2="170.3" stroke="#5f5f5f" stroke-width="0.8"/>
<line x1="150" y1="168.3" x2="150" y2="170.3" stroke="#5f5f5f" stroke-width="0.8"/>
<line x1="36.4" y1="39" x2="36.4" y2="41" stroke="#333" stroke-width="0.9"/>
<line x1="62.6" y1="39" x2="62.6" y2="41" stroke="#333" stroke-width="0.9"/>
<line x1="89.4" y1="39" x2="89.4" y2="41" stroke="#333" stroke-width="0.9"/>
<line x1="115.7" y1="39" x2="115.7" y2="41" stroke="#333" stroke-width="0.9"/>
<line x1="142.5" y1="39" x2="142.5" y2="41" stroke="#333" stroke-width="0.9"/>
<rect x="242.5" y="39" width="159" height="3.7" fill="#bdbdbd"/>
<line x1="242.5" y1="39.7" x2="401.5" y2="39.7" stroke="#9a9a9a" stroke-width="1.3"/>
<line x1="242.5" y1="42" x2="401.5" y2="42" stroke="#9a9a9a" stroke-width="1.3"/>
<path d="M242.5 39.7V12.4H400.8V39.7" fill="none" stroke="#5f5f5f" stroke-width="1"/>
<path d="M242.5 42V168.4H401.5" fill="none" stroke="#5f5f5f" stroke-width="1"/>
<line x1="401.5" y1="42" x2="401.5" y2="168.4" stroke="#a0a0a0" stroke-width="1.6"/>
<path d="M404.2 168.4V41.8H444.3V168.4H404.2" fill="none" stroke="#5f5f5f" stroke-width="1"/>
<line x1="404.2" y1="41.8" x2="404.2" y2="168.4" stroke="#a0a0a0" stroke-width="1.6"/>
<line x1="242.7" y1="168.4" x2="242.7" y2="170.4" stroke="#5f5f5f" stroke-width="0.8"/>
<line x1="274.3" y1="168.4" x2="274.3" y2="170.4" stroke="#5f5f5f" stroke-width="0.8"/>
<line x1="306" y1="168.4" x2="306" y2="170.4" stroke="#5f5f5f" stroke-width="0.8"/>
<line x1="338" y1="168.4" x2="338" y2="170.4" stroke="#5f5f5f" stroke-width="0.8"/>
<line x1="369.7" y1="168.4" x2="369.7" y2="170.4" stroke="#5f5f5f" stroke-width="0.8"/>
<line x1="274.5" y1="39.2" x2="274.5" y2="41.2" stroke="#333" stroke-width="0.9"/>
<line x1="305.8" y1="39.2" x2="305.8" y2="41.2" stroke="#333" stroke-width="0.9"/>
<line x1="337.5" y1="39.2" x2="337.5" y2="41.2" stroke="#333" stroke-width="0.9"/>
<line x1="369.3" y1="39.2" x2="369.3" y2="41.2" stroke="#333" stroke-width="0.9"/>
<line x1="478.5" y1="39.35" x2="636.4" y2="39.35" stroke="#5f5f5f" stroke-width="1"/>
<line x1="478.5" y1="41.3" x2="636.4" y2="41.3" stroke="#5f5f5f" stroke-width="1"/>
<path d="M478.5 39.35V12.4H636.4V39.35" fill="none" stroke="#5f5f5f" stroke-width="1"/>
<path d="M478.5 41.3V168.3H636.4" fill="none" stroke="#5f5f5f" stroke-width="1"/>
<line x1="636.4" y1="41.3" x2="636.4" y2="168.3" stroke="#5f5f5f" stroke-width="1"/>
<path d="M639.3 168.3V41.8H680V168.3H639.3" fill="none" stroke="#5f5f5f" stroke-width="1"/>
<line x1="639.3" y1="41.8" x2="639.3" y2="168.3" stroke="#5f5f5f" stroke-width="1"/>
<line x1="478.7" y1="168.3" x2="478.7" y2="170.3" stroke="#5f5f5f" stroke-width="0.8"/>
<line x1="504.9" y1="168.3" x2="504.9" y2="170.3" stroke="#5f5f5f" stroke-width="0.8"/>
<line x1="531.4" y1="168.3" x2="531.4" y2="170.3" stroke="#5f5f5f" stroke-width="0.8"/>
<line x1="558" y1="168.3" x2="558" y2="170.3" stroke="#5f5f5f" stroke-width="0.8"/>
<line x1="584.4" y1="168.3" x2="584.4" y2="170.3" stroke="#5f5f5f" stroke-width="0.8"/>
<line x1="610.8" y1="168.3" x2="610.8" y2="170.3" stroke="#5f5f5f" stroke-width="0.8"/>
<line x1="504.7" y1="38.85" x2="504.7" y2="40.85" stroke="#333" stroke-width="0.9"/>
<line x1="531.5" y1="38.85" x2="531.5" y2="40.85" stroke="#333" stroke-width="0.9"/>
<line x1="557.8" y1="38.85" x2="557.8" y2="40.85" stroke="#333" stroke-width="0.9"/>
<line x1="584.2" y1="38.85" x2="584.2" y2="40.85" stroke="#333" stroke-width="0.9"/>
<line x1="610.6" y1="38.85" x2="610.6" y2="40.85" stroke="#333" stroke-width="0.9"/>
<line x1="9.6" y1="226.35" x2="168.6" y2="226.35" stroke="#5f5f5f" stroke-width="1"/>
<line x1="9.6" y1="228.3" x2="167.6" y2="228.3" stroke="#5f5f5f" stroke-width="1"/>
<path d="M9.6 226.35V199.4H168.6V226.35" fill="none" stroke="#5f5f5f" stroke-width="1"/>
<path d="M9.6 228.3V354.9H167.6" fill="none" stroke="#5f5f5f" stroke-width="1"/>
<line x1="167.6" y1="228.3" x2="167.6" y2="354.9" stroke="#5f5f5f" stroke-width="1"/>
<path d="M171.7 354.9V228.7H212.6V354.9H171.7" fill="none" stroke="#5f5f5f" stroke-width="1"/>
<line x1="171.7" y1="228.7" x2="171.7" y2="354.9" stroke="#5f5f5f" stroke-width="1"/>
<line x1="9.8" y1="354.9" x2="9.8" y2="356.9" stroke="#5f5f5f" stroke-width="0.8"/>
<line x1="36.5" y1="354.9" x2="36.5" y2="356.9" stroke="#5f5f5f" stroke-width="0.8"/>
<line x1="63" y1="354.9" x2="63" y2="356.9" stroke="#5f5f5f" stroke-width="0.8"/>
<line x1="89.4" y1="354.9" x2="89.4" y2="356.9" stroke="#5f5f5f" stroke-width="0.8"/>
<line x1="115.9" y1="354.9" x2="115.9" y2="356.9" stroke="#5f5f5f" stroke-width="0.8"/>
<line x1="142.5" y1="354.9" x2="142.5" y2="356.9" stroke="#5f5f5f" stroke-width="0.8"/>
<line x1="32.4" y1="225.85" x2="32.4" y2="227.85" stroke="#333" stroke-width="0.9"/>
<line x1="55.2" y1="225.85" x2="55.2" y2="227.85" stroke="#333" stroke-width="0.9"/>
<line x1="78" y1="225.85" x2="78" y2="227.85" stroke="#333" stroke-width="0.9"/>
<line x1="100.7" y1="225.85" x2="100.7" y2="227.85" stroke="#333" stroke-width="0.9"/>
<line x1="123.5" y1="225.85" x2="123.5" y2="227.85" stroke="#333" stroke-width="0.9"/>
<line x1="146.3" y1="225.85" x2="146.3" y2="227.85" stroke="#333" stroke-width="0.9"/>
<line x1="241.7" y1="227.2" x2="400.6" y2="227.2" stroke="#5f5f5f" stroke-width="1"/>
<line x1="241.7" y1="229.4" x2="400.6" y2="229.4" stroke="#5f5f5f" stroke-width="1"/>
<path d="M241.7 227.2V200.1H400.6V227.2" fill="none" stroke="#5f5f5f" stroke-width="1"/>
<path d="M241.7 229.4V355.2H400.6" fill="none" stroke="#5f5f5f" stroke-width="1"/>
<line x1="400.6" y1="229.4" x2="400.6" y2="355.2" stroke="#5f5f5f" stroke-width="1"/>
<path d="M403.3 355.2V229.4H443.8V355.2H403.3" fill="none" stroke="#5f5f5f" stroke-width="1"/>
<line x1="403.3" y1="229.4" x2="403.3" y2="355.2" stroke="#5f5f5f" stroke-width="1"/>
<line x1="241.9" y1="355.2" x2="241.9" y2="357.2" stroke="#5f5f5f" stroke-width="0.8"/>
<line x1="264.6" y1="355.2" x2="264.6" y2="357.2" stroke="#5f5f5f" stroke-width="0.8"/>
<line x1="287.2" y1="355.2" x2="287.2" y2="357.2" stroke="#5f5f5f" stroke-width="0.8"/>
<line x1="310" y1="355.2" x2="310" y2="357.2" stroke="#5f5f5f" stroke-width="0.8"/>
<line x1="332.8" y1="355.2" x2="332.8" y2="357.2" stroke="#5f5f5f" stroke-width="0.8"/>
<line x1="355.5" y1="355.2" x2="355.5" y2="357.2" stroke="#5f5f5f" stroke-width="0.8"/>
<line x1="378.3" y1="355.2" x2="378.3" y2="357.2" stroke="#5f5f5f" stroke-width="0.8"/>
<line x1="264.6" y1="226.7" x2="264.6" y2="228.7" stroke="#333" stroke-width="0.9"/>
<line x1="287.3" y1="226.7" x2="287.3" y2="228.7" stroke="#333" stroke-width="0.9"/>
<line x1="310" y1="226.7" x2="310" y2="228.7" stroke="#333" stroke-width="0.9"/>
<line x1="332.7" y1="226.7" x2="332.7" y2="228.7" stroke="#333" stroke-width="0.9"/>
<line x1="355.4" y1="226.7" x2="355.4" y2="228.7" stroke="#333" stroke-width="0.9"/>
<line x1="378.1" y1="226.7" x2="378.1" y2="228.7" stroke="#333" stroke-width="0.9"/>
<rect x="474.4" y="226.2" width="158.5" height="3.6" fill="#bdbdbd"/>
<line x1="474.4" y1="226.9" x2="632.9" y2="226.9" stroke="#9a9a9a" stroke-width="1.3"/>
<line x1="474.4" y1="229.1" x2="632.9" y2="229.1" stroke="#9a9a9a" stroke-width="1.3"/>
<path d="M474.4 226.9V199.8H632.7V226.9" fill="none" stroke="#5f5f5f" stroke-width="1"/>
<path d="M474.4 229.1V354.7H632.9" fill="none" stroke="#5f5f5f" stroke-width="1"/>
<line x1="632.9" y1="229.1" x2="632.9" y2="354.7" stroke="#5f5f5f" stroke-width="1"/>
<path d="M635.4 354.7V229.2H676.6V354.7H635.4" fill="none" stroke="#5f5f5f" stroke-width="1"/>
<line x1="635.4" y1="229.2" x2="635.4" y2="354.7" stroke="#5f5f5f" stroke-width="1"/>
<line x1="474.6" y1="354.7" x2="474.6" y2="356.7" stroke="#5f5f5f" stroke-width="0.8"/>
<line x1="506.2" y1="354.7" x2="506.2" y2="356.7" stroke="#5f5f5f" stroke-width="0.8"/>
<line x1="537.8" y1="354.7" x2="537.8" y2="356.7" stroke="#5f5f5f" stroke-width="0.8"/>
<line x1="569.8" y1="354.7" x2="569.8" y2="356.7" stroke="#5f5f5f" stroke-width="0.8"/>
<line x1="601.6" y1="354.7" x2="601.6" y2="356.7" stroke="#5f5f5f" stroke-width="0.8"/>
<line x1="500.6" y1="226.4" x2="500.6" y2="228.4" stroke="#333" stroke-width="0.9"/>
<line x1="527.4" y1="226.4" x2="527.4" y2="228.4" stroke="#333" stroke-width="0.9"/>
<line x1="553.4" y1="226.4" x2="553.4" y2="228.4" stroke="#333" stroke-width="0.9"/>
<line x1="579.4" y1="226.4" x2="579.4" y2="228.4" stroke="#333" stroke-width="0.9"/>
<line x1="605.6" y1="226.4" x2="605.6" y2="228.4" stroke="#333" stroke-width="0.9"/>
<polygon points="10.5,39.3 10.5,39.3 78.7,39.3 80.6,39.2 81.5,39.0 82.5,38.3 83.1,37.2 83.7,35.1 84.0,33.7 85.0,26.9 86.3,13.3 86.6,12.7 90.0,12.7 91.3,25.7 92.2,32.7 92.6,34.3 93.2,36.3 93.5,36.9 94.1,37.5 94.8,37.6 96.4,37.1 97.3,37.0 98.2,37.2 100.8,38.4 102.3,38.7 118.8,39.2 128.5,39.3 168.0,39.3 168,39.3" fill="#1ea2a6" fill-opacity="0.78"/>
<polyline points="81.5,39.0 82.5,38.3 83.1,37.2 83.7,35.1 84.0,33.7 85.0,26.9 86.3,13.3 86.6,12.7 90.0,12.7 91.3,25.7 91.9,30.8 92.9,35.5 93.2,36.3 93.8,37.3 94.1,37.5 94.8,37.6 96.7,37.0 97.6,37.0 100.8,38.4 102.3,38.7 115.6,39.1" fill="none" stroke="#1ea2a6" stroke-width="1.1"/>
<polygon points="10.5,39.3 10.5,39.3 45.9,39.3 61.6,38.7 63.5,38.4 65.1,37.8 66.7,36.9 70.2,34.3 71.4,33.7 72.4,33.5 73.3,33.6 74.6,34.1 78.4,36.9 79.9,37.8 81.8,38.4 83.7,38.6 110.6,38.3 114.0,37.9 120.0,36.6 122.5,36.4 125.4,36.7 132.3,38.6 136.4,39.1 143.1,39.3 168.0,39.3 168,39.3" fill="#b0177f" fill-opacity="0.75"/>
<polyline points="52.2,39.1 61.0,38.8 63.5,38.4 64.8,38.0 66.1,37.3 70.5,34.1 71.4,33.7 72.4,33.5 73.3,33.6 74.6,34.1 78.4,36.9 79.9,37.8 81.5,38.3 83.4,38.6 85.9,38.7 96.7,38.4 110.2,38.4 114.0,37.9 120.3,36.5 122.5,36.4 125.4,36.7 132.0,38.6 136.1,39.1" fill="none" stroke="#b3167f" stroke-width="1.1"/>
<polygon points="171.7,42.3 171.7,42.3 172.2,64.9 171.7,85.3 171.8,110.5 171.9,114.2 172.3,117.8 172.9,121.3 173.5,123.3 174.2,124.5 175.0,125.5 178.8,129.3 179.9,130.1 181.4,130.6 184.2,131.1 188.8,131.6 208.9,133.1 211.1,133.3 211.2,133.8 211.2,134.1 205.9,134.6 185.9,135.9 180.0,136.4 174.9,137.1 173.3,137.6 172.6,138.1 172.2,138.6 172.0,139.4 171.7,142.1 171.7,167.8 171.7,167.8" fill="#1ea2a6" fill-opacity="0.78"/>
<polyline points="171.9,52.9 172.2,64.9 171.9,77.0" fill="none" stroke="#1ea2a6" stroke-width="1.1"/>
<polyline points="171.9,114.0 172.2,117.0 172.6,120.0 173.1,122.0 173.6,123.5 174.4,124.8 175.2,125.8 178.8,129.3 179.9,130.1 182.6,130.8 186.2,131.3 208.9,133.1 211.1,133.3 211.2,133.6 211.2,134.1 209.0,134.4 185.9,135.9 180.0,136.4 176.1,136.9 174.0,137.4 172.9,137.9 172.2,138.6 171.9,139.6" fill="none" stroke="#1ea2a6" stroke-width="1.1"/>
<polygon points="171.7,42.3 171.7,42.3 171.8,72.5 172.4,96.6 172.2,110.2 172.4,113.2 172.9,115.7 173.7,117.8 175.2,120.0 178.4,123.5 179.3,124.8 180.1,126.3 180.3,127.6 180.1,128.6 179.5,129.8 178.7,131.1 175.6,134.9 174.9,136.1 174.6,137.1 174.5,138.1 174.6,139.4 175.0,140.6 176.5,144.2 176.7,145.4 176.7,146.4 176.5,147.4 176.2,148.4 173.9,152.7 173.2,155.0 172.9,156.7 172.7,161.3 171.8,167.8 171.7,167.8" fill="#b0177f" fill-opacity="0.75"/>
<polyline points="171.9,81.0 172.4,97.6 172.3,111.2 172.6,114.5 173.1,116.5 174.0,118.3 175.2,120.0 178.4,123.5 179.3,124.8 180.1,126.3 180.3,127.6 180.1,128.6 179.5,129.8 178.7,131.1 175.6,134.9 174.9,136.1 174.6,137.1 174.5,138.1 174.6,139.4 175.0,140.6 176.5,144.2 176.7,145.4 176.7,146.4 176.5,147.4 176.2,148.4 173.9,152.7 173.2,154.7 172.9,156.5 172.7,161.3 171.9,167.0" fill="none" stroke="#b3167f" stroke-width="1.1"/>
<polygon points="243,39.5 243.0,39.5 285.9,39.4 288.4,39.3 290.0,38.9 290.9,38.2 291.5,37.4 292.2,36.1 292.8,34.4 294.1,29.3 296.6,16.3 297.2,14.4 297.5,13.8 297.9,13.6 298.2,13.7 298.5,14.2 299.4,17.1 301.9,30.1 303.2,34.9 303.8,36.4 304.5,37.5 305.4,38.4 306.4,38.8 308.9,39.0 323.4,38.7 334.7,38.7 371.0,39.4 400.3,39.5 400.3,39.5" fill="#1ea2a6" fill-opacity="0.78"/>
<polyline points="288.4,39.3 290.0,38.9 290.9,38.2 291.9,36.8 292.5,35.4 293.8,30.7 296.6,16.3 297.2,14.4 297.5,13.8 297.9,13.6 298.2,13.7 298.5,14.2 299.4,17.1 301.9,30.1 303.2,34.9 303.8,36.4 304.5,37.5 305.1,38.1 306.0,38.7 307.0,38.9 308.3,39.0 323.1,38.7 333.5,38.7 366.6,39.3" fill="none" stroke="#1ea2a6" stroke-width="1.1"/>
<polygon points="243,39.5 243.0,39.5 269.5,39.4 288.4,38.8 290.0,38.6 291.5,38.3 293.1,37.7 296.6,36.2 298.5,35.8 300.4,36.1 305.1,38.1 306.4,38.4 307.9,38.6 310.5,38.6 320.5,38.3 334.1,38.3 336.9,38.1 339.8,37.6 342.6,37.0 349.9,34.9 352.1,34.5 354.3,34.3 356.2,34.4 358.4,34.8 366.9,37.4 371.0,38.1 379.5,38.6 389.0,39.3 400.3,39.5 400.3,39.5" fill="#b0177f" fill-opacity="0.75"/>
<polyline points="274.8,39.3 282.1,38.9 288.1,38.8 290.0,38.6 292.5,38.0 296.6,36.2 298.5,35.8 300.4,36.1 305.1,38.1 306.4,38.4 307.9,38.6 310.5,38.6 320.2,38.3 330.9,38.4 334.7,38.2 337.6,38.0 340.1,37.6 342.9,36.9 349.9,34.9 352.1,34.5 354.3,34.3 356.2,34.4 358.4,34.8 366.3,37.2 370.0,38.0 372.6,38.3 379.5,38.6 388.0,39.3" fill="none" stroke="#b3167f" stroke-width="1.1"/>
<polygon points="404.4,42.3 405.4,42.3 405.6,44.8 405.6,47.3 404.6,57.2 404.4,65.2 404.4,126.6 404.6,129.9 405.0,131.9 406.1,133.9 408.6,136.7 409.8,137.4 411.6,137.9 414.9,138.5 420.4,139.0 443.9,140.5 444.0,141.2 443.9,141.5 440.7,141.7 418.9,143.0 412.7,143.5 407.7,144.2 406.9,144.5 405.9,145.0 405.4,145.5 404.9,146.5 404.5,149.0 404.4,167.9 404.4,167.9" fill="#1ea2a6" fill-opacity="0.78"/>
<polyline points="405.4,42.3 405.6,45.1 405.6,47.6 404.6,57.2" fill="none" stroke="#1ea2a6" stroke-width="1.1"/>
<polyline points="404.6,130.1 404.9,131.4 405.2,132.4 406.5,134.4 408.6,136.7 409.3,137.2 410.6,137.7 413.0,138.2 417.4,138.7 440.7,140.2 443.9,140.5 444.0,140.7 443.9,141.5 418.9,143.0 412.7,143.5 408.9,144.0 406.9,144.5 405.6,145.2 405.0,146.3 404.6,147.8" fill="none" stroke="#1ea2a6" stroke-width="1.1"/>
<polygon points="404.4,42.3 404.4,42.3 404.5,51.1 404.8,57.7 406.3,76.3 407.5,87.9 407.7,92.9 407.6,97.9 406.7,109.0 406.0,120.8 405.2,130.4 405.2,132.9 405.4,134.7 405.9,136.2 406.8,137.7 409.0,141.0 409.4,142.0 409.6,143.0 409.5,143.7 409.2,144.7 407.0,148.5 406.6,149.5 406.2,150.8 405.8,156.6 404.8,163.4 404.5,167.9 404.4,167.9" fill="#b0177f" fill-opacity="0.75"/>
<polyline points="404.6,54.4 406.2,75.8 407.5,88.1 407.7,92.9 407.6,97.9 406.7,109.0 406.0,120.8 405.2,130.4 405.2,132.9 405.4,134.7 405.9,136.2 406.8,137.7 409.0,141.0 409.4,142.0 409.6,143.0 409.5,143.7 409.2,144.7 407.0,148.5 406.3,150.5 406.1,152.0 405.8,156.8 404.9,162.4 404.6,164.9" fill="none" stroke="#b3167f" stroke-width="1.1"/>
<polygon points="479,39.15 479.0,39.1 521.4,39.1 524.6,39.0 529.3,38.2 530.6,38.2 533.4,38.4 534.3,38.4 535.0,38.2 535.9,37.5 536.5,36.7 537.2,35.5 537.8,33.9 539.1,29.5 541.9,16.6 542.8,13.8 543.5,13.0 543.8,12.9 544.1,13.0 544.4,13.4 545.0,14.6 545.7,16.5 548.2,25.5 549.1,27.9 550.1,29.4 550.7,30.0 551.3,30.4 552.3,30.6 554.5,30.9 555.7,31.3 560.4,33.6 562.6,34.4 564.8,34.9 568.6,35.5 569.9,35.6 571.1,35.5 572.1,35.1 573.0,34.4 576.2,30.9 577.1,30.2 577.7,30.0 578.7,30.3 579.6,31.2 582.4,35.4 583.7,36.8 585.0,37.7 586.5,38.2 588.7,38.3 597.5,38.2 604.1,38.2 624.6,38.9 635.9,39.1 635.9,39.15" fill="#1ea2a6" fill-opacity="0.78"/>
<polyline points="524.9,38.9 529.6,38.2 534.0,38.4 535.3,38.0 536.2,37.1 536.9,36.1 537.5,34.8 538.4,31.9 539.4,28.1 541.3,19.2 542.2,15.5 542.8,13.8 543.1,13.3 543.5,13.0 543.8,12.9 544.1,13.0 544.4,13.4 545.0,14.6 545.7,16.5 548.2,25.5 549.1,27.9 550.1,29.4 550.7,30.0 551.3,30.4 552.3,30.6 554.5,30.9 555.7,31.3 560.4,33.6 562.3,34.3 564.5,34.8 568.3,35.5 569.9,35.6 571.1,35.5 572.1,35.1 573.0,34.4 576.2,30.9 577.1,30.2 577.7,30.0 578.7,30.3 579.6,31.2 582.4,35.4 583.7,36.8 585.0,37.7 586.5,38.2 588.7,38.3 597.9,38.2 604.5,38.2 626.8,38.9" fill="none" stroke="#1ea2a6" stroke-width="1.1"/>
<polygon points="479,39.15 479.0,39.1 510.1,39.1 513.9,38.8 520.5,38.0 525.5,37.8 527.4,37.4 528.4,37.0 529.3,36.3 530.3,35.4 531.2,34.1 533.1,30.8 536.2,23.7 537.5,21.3 538.7,19.6 539.4,19.1 540.0,18.9 540.6,19.0 541.3,19.4 542.5,20.9 543.8,23.0 546.9,29.2 548.8,31.9 549.7,32.9 551.0,33.7 552.3,34.3 553.5,34.6 557.9,35.3 561.1,35.5 563.6,35.4 569.9,34.7 574.0,34.7 578.0,35.2 585.0,36.5 587.8,36.7 589.1,36.5 590.3,36.2 591.9,35.6 595.7,33.6 596.9,33.3 597.9,33.2 599.1,33.4 600.4,34.0 604.5,36.8 606.0,37.7 607.6,38.4 609.5,38.8 611.7,39.0 614.5,39.1 635.9,39.1 635.9,39.15" fill="#b0177f" fill-opacity="0.75"/>
<polyline points="512.6,38.9 520.2,38.0 526.2,37.7 527.7,37.3 529.0,36.6 530.6,35.0 532.1,32.6 533.4,30.1 536.2,23.7 537.5,21.3 538.7,19.6 539.4,19.1 540.0,18.9 540.6,19.0 541.3,19.4 542.5,20.9 543.8,23.0 546.6,28.6 548.5,31.5 549.4,32.6 550.4,33.4 551.3,33.9 552.6,34.4 557.0,35.2 560.8,35.5 563.3,35.4 569.9,34.7 574.3,34.7 578.0,35.2 585.0,36.5 587.5,36.7 589.1,36.5 590.3,36.2 591.9,35.6 595.7,33.6 596.9,33.3 597.9,33.2 599.1,33.4 600.4,34.0 604.5,36.8 606.3,37.9 608.2,38.5 610.4,38.9" fill="none" stroke="#b3167f" stroke-width="1.1"/>
<polygon points="639.5,42.3 639.5,42.3 639.6,73.5 640.0,81.3 641.0,95.9 641.1,101.4 640.8,108.9 640.9,110.5 641.2,111.5 641.9,112.5 642.4,113.0 643.5,113.5 645.6,114.0 652.0,114.7 669.2,116.0 672.7,116.5 672.7,116.7 669.3,117.2 653.0,118.5 646.9,119.3 644.9,119.8 643.3,120.5 641.8,121.8 640.8,123.0 640.2,124.0 639.9,125.0 639.6,128.3 639.5,167.8 639.5,167.8" fill="#1ea2a6" fill-opacity="0.78"/>
<polyline points="639.7,75.7 640.0,81.8 641.0,96.9 641.1,101.7 640.8,109.5 641.1,111.2 641.9,112.5 642.4,113.0 643.5,113.5 647.2,114.2 652.0,114.7 669.2,116.0 672.7,116.5 672.7,116.7 669.3,117.2 650.5,118.8 645.8,119.5 644.2,120.0 643.3,120.5 642.3,121.3 641.3,122.3 640.8,123.0 640.2,124.0 639.9,125.0 639.7,126.3" fill="none" stroke="#1ea2a6" stroke-width="1.1"/>
<polygon points="639.5,42.3 639.5,42.3 639.7,56.9 640.7,73.2 641.0,88.1 641.7,101.9 641.7,106.4 641.4,113.7 641.4,115.7 641.6,117.2 642.1,118.8 642.9,120.3 645.2,123.8 645.6,124.8 645.8,125.8 645.6,126.8 645.0,128.1 642.3,131.6 641.4,133.1 640.7,134.6 640.4,136.1 640.2,139.1 640.5,147.2 640.5,152.0 639.7,167.8 639.5,167.8" fill="#b0177f" fill-opacity="0.75"/>
<polyline points="639.7,57.1 640.7,73.2 641.0,88.1 641.7,101.7 641.7,106.2 641.4,113.7 641.4,116.0 641.7,117.5 642.2,119.0 643.0,120.5 645.2,123.8 645.6,124.8 645.8,125.8 645.6,126.8 645.0,128.1 642.3,131.6 641.4,133.1 640.7,134.6 640.4,136.1 640.2,139.1 640.5,147.2 640.5,152.0 639.7,167.8" fill="none" stroke="#b3167f" stroke-width="1.1"/>
<polygon points="10.1,226.15 10.1,226.2 31.3,226.1 33.8,225.9 35.4,225.4 36.7,224.6 37.6,223.7 41.1,219.0 42.1,218.0 42.7,217.5 43.7,217.1 44.6,216.9 48.4,217.0 49.0,216.8 49.7,216.3 50.6,214.8 51.3,213.1 53.2,206.0 53.8,204.1 54.4,203.2 54.7,203.2 55.1,203.5 55.4,204.1 56.0,206.2 58.2,217.5 59.5,222.4 60.1,223.9 60.8,224.9 61.7,225.7 62.7,226.0 66.1,226.1 168.1,226.2 168.1,226.15" fill="#1ea2a6" fill-opacity="0.78"/>
<polyline points="33.5,225.9 35.4,225.4 37.0,224.3 38.3,222.9 41.1,219.0 42.1,218.0 42.7,217.5 43.7,217.1 44.6,216.9 48.4,217.0 49.0,216.8 49.7,216.3 50.6,214.8 51.3,213.1 53.2,206.0 53.8,204.1 54.4,203.2 54.7,203.2 55.1,203.5 55.4,204.1 56.0,206.2 58.2,217.5 59.5,222.4 60.1,223.9 60.8,224.9 61.4,225.5 62.3,225.9" fill="none" stroke="#1ea2a6" stroke-width="1.1"/>
<polygon points="10.1,226.15 10.1,226.1 16.7,226.0 21.8,225.7 25.9,225.3 34.2,224.3 37.6,224.0 41.4,224.0 47.8,224.3 50.0,224.2 51.6,223.9 53.2,223.5 58.9,221.1 60.1,220.8 61.1,220.7 62.3,220.9 63.9,221.4 69.3,224.3 72.2,225.4 73.7,225.7 75.6,225.9 79.8,225.9 82.9,225.4 85.8,224.6 88.6,223.3 93.4,220.6 95.3,219.7 97.2,219.0 99.1,218.8 101.0,219.0 102.9,219.6 108.6,222.5 111.1,223.6 113.3,224.3 115.5,224.6 118.7,224.8 128.8,224.7 145.9,225.5 168.1,225.8 168.1,226.15" fill="#b0177f" fill-opacity="0.75"/>
<polyline points="18.3,225.9 24.3,225.5 33.5,224.4 37.3,224.0 41.1,224.0 47.8,224.3 50.3,224.2 51.9,223.9 53.5,223.4 58.9,221.1 60.1,220.8 61.1,220.7 62.3,220.9 63.9,221.4 69.0,224.2 71.2,225.1 73.4,225.7 76.3,225.9" fill="none" stroke="#b3167f" stroke-width="1.1"/>
<polyline points="78.2,225.9 82.0,225.6 85.5,224.7 88.6,223.3 93.4,220.6 95.3,219.7 97.2,219.0 99.1,218.8 101.0,219.0 102.9,219.6 108.6,222.5 111.1,223.6 113.3,224.3 115.5,224.6 118.7,224.8 128.8,224.7 145.9,225.5 168.1,225.8" fill="none" stroke="#b3167f" stroke-width="1.1"/>
<polygon points="171.9,229.2 171.9,229.2 171.9,245.3 172.2,252.5 172.7,258.1 174.2,267.8 174.5,271.9 174.2,276.1 172.7,286.2 172.1,292.4 171.9,298.4 171.9,308.7 172.0,311.0 172.4,312.8 173.4,314.5 175.2,316.5 175.8,317.0 176.7,317.5 178.4,318.0 181.3,318.5 186.0,319.0 202.1,320.3 205.7,320.8 206.0,321.0 205.1,321.3 203.1,321.5 185.8,322.8 177.9,323.5 174.1,324.3 173.5,324.5 172.7,325.0 172.4,325.5 172.1,326.3 171.9,328.6 171.9,354.4 171.9,354.4" fill="#1ea2a6" fill-opacity="0.78"/>
<polyline points="172.1,251.8 172.6,257.8 174.2,267.8 174.5,272.1 174.2,276.1 172.7,286.2 172.1,292.2" fill="none" stroke="#1ea2a6" stroke-width="1.1"/>
<polyline points="172.1,311.7 172.7,313.5 174.0,315.3 175.8,317.0 177.4,317.8 179.6,318.3 183.4,318.8 204.4,320.5 205.7,320.8 206.0,321.0 205.1,321.3 203.1,321.5 182.7,323.0 176.2,323.8 174.1,324.3 173.0,324.8 172.5,325.3 172.1,326.3" fill="none" stroke="#1ea2a6" stroke-width="1.1"/>
<polygon points="171.9,229.2 171.9,229.2 172.0,238.5 172.7,249.0 172.5,257.1 172.6,259.8 172.9,261.8 173.3,263.6 175.6,269.8 175.9,271.4 176.0,272.6 175.9,274.1 175.6,275.6 173.9,280.6 173.3,282.6 173.0,284.6 172.8,286.9 172.9,301.0 172.6,312.5 172.7,314.5 172.9,315.8 173.2,316.8 173.7,317.8 175.4,320.5 175.7,321.3 175.7,322.0 175.6,322.8 175.3,323.5 173.5,326.0 172.8,327.3 172.4,328.6 172.2,329.8 172.0,335.1 171.9,354.4 171.9,354.4" fill="#b0177f" fill-opacity="0.75"/>
<polyline points="172.1,240.2 172.7,249.0 172.5,257.3 172.6,260.3 173.3,263.6 175.6,269.8 175.9,271.4 176.0,272.6 175.7,275.1 173.5,281.9 173.1,283.9 172.9,285.9 172.8,289.4 172.9,302.0 172.6,312.8 172.7,314.8 173.0,316.3 173.7,317.8 175.4,320.5 175.7,321.3 175.7,322.0 175.6,322.8 175.3,323.5 173.5,326.0 172.8,327.3 172.4,328.6 172.1,330.3" fill="none" stroke="#b3167f" stroke-width="1.1"/>
<polygon points="242.2,227 242.2,226.7 253.9,226.3 266.9,225.0 271.9,224.8 285.2,225.4 311.5,225.5 356.4,226.7 374.5,226.9 400.1,227.0 400.1,227" fill="#7dcbe6" fill-opacity="0.7"/>
<polyline points="242.2,226.7 253.9,226.3 266.9,225.0 271.9,224.8 285.2,225.4 311.2,225.5 345.0,226.5 361.2,226.8" fill="none" stroke="#7dcbe6" stroke-width="1.1"/>
<polygon points="242.2,227 242.2,227.0 265.9,227.0 269.1,226.9 270.4,226.7 271.6,226.3 272.6,225.8 275.1,224.0 276.1,223.6 276.7,223.5 278.0,223.9 281.4,226.2 282.7,226.7 284.0,226.9 286.8,227.0 302.3,227.0 305.8,226.8 306.8,226.5 307.4,226.0 308.0,225.3 308.7,224.2 309.9,220.5 312.1,212.0 312.8,210.5 313.1,210.0 313.4,209.8 313.7,209.9 314.0,210.3 314.7,211.6 316.9,219.5 317.8,222.1 318.8,223.6 319.4,224.1 320.0,224.4 321.0,224.4 324.5,224.0 326.4,224.1 328.6,224.5 333.3,225.9 335.5,226.4 338.1,226.7 341.2,226.9 400.1,227.0 400.1,227" fill="#a9d88a" fill-opacity="0.6"/>
<polyline points="270.0,226.8 271.3,226.4 272.3,225.9 275.4,223.8 276.1,223.6 276.7,223.5 278.0,223.9 281.4,226.2 283.0,226.7" fill="none" stroke="#a9d88a" stroke-width="1.1"/>
<polyline points="306.1,226.7 307.1,226.3 307.7,225.7 308.3,224.8 309.0,223.4 309.9,220.5 312.1,212.0 312.8,210.5 313.1,210.0 313.4,209.8 313.7,209.9 314.0,210.3 314.7,211.6 316.9,219.5 317.5,221.3 318.5,223.2 319.4,224.1 320.0,224.4 320.7,224.4 324.5,224.0 326.7,224.1 328.9,224.6 334.6,226.2 338.7,226.8" fill="none" stroke="#a9d88a" stroke-width="1.1"/>
<polygon points="242.2,227 242.2,227.0 279.5,227.0 284.3,226.8 287.4,226.6 290.3,226.0 293.1,225.1 296.0,223.7 301.1,220.5 303.0,219.4 305.2,218.6 307.1,218.4 308.7,218.6 310.5,219.2 315.9,222.2 317.8,223.0 319.7,223.3 323.5,223.2 325.1,223.3 327.0,224.0 331.4,226.1 333.0,226.6 334.9,226.8 340.3,227.0 400.1,227.0 400.1,227" fill="#e8223f" fill-opacity="0.55"/>
<polyline points="285.2,226.8 289.0,226.3 292.5,225.3 295.7,223.8 301.1,220.5 303.0,219.4 305.2,218.6 307.1,218.4 308.7,218.6 310.5,219.2 315.9,222.2 317.8,223.0 319.7,223.3 323.5,223.2 325.4,223.4 327.0,224.0 331.1,226.0 332.7,226.5 334.3,226.8" fill="none" stroke="#e8223f" stroke-width="1.1"/>
<polygon points="242.2,227 242.2,227.0 289.7,227.0 292.2,226.9 293.5,226.7 294.4,226.4 295.4,225.7 296.0,225.0 296.6,224.0 297.9,221.0 300.4,213.3 301.4,211.5 302.0,211.0 302.3,211.0 302.6,211.3 303.6,212.9 306.4,221.4 307.7,224.2 308.3,225.2 309.3,226.1 310.2,226.6 311.2,226.8 312.8,227.0 316.2,227.0 321.3,226.7 324.5,226.0 329.5,224.3 330.8,224.1 332.1,224.0 333.3,224.1 334.6,224.4 339.0,225.9 340.9,226.4 342.8,226.7 345.4,226.9 400.1,227.0 400.1,227" fill="#6e1144" fill-opacity="0.6"/>
<polyline points="293.5,226.7 294.4,226.4 295.4,225.7 296.0,225.0 296.6,224.0 297.9,221.0 300.4,213.3 301.4,211.5 302.0,211.0 302.3,211.0 302.6,211.3 303.6,212.9 306.4,221.4 307.7,224.2 308.3,225.2 309.0,225.8 309.9,226.5 310.9,226.8" fill="none" stroke="#6e1144" stroke-width="1.1"/>
<polyline points="320.7,226.8 324.2,226.1 329.9,224.3 332.1,224.0 334.3,224.3 340.0,226.2 343.5,226.8" fill="none" stroke="#6e1144" stroke-width="1.1"/>
<polygon points="242.2,227 242.2,227.0 275.4,227.0 278.9,226.8 280.2,226.4 281.4,225.6 282.7,224.1 285.6,219.9 286.5,219.1 287.1,219.0 287.8,219.3 288.7,220.2 291.9,224.9 292.8,225.8 293.8,226.4 295.4,226.8 297.6,226.9 300.1,226.7 302.3,226.1 303.6,225.5 304.5,224.6 305.2,223.4 305.8,221.6 306.8,217.3 309.0,203.1 309.6,201.1 309.9,200.9 310.2,201.3 310.9,203.4 312.4,212.9 313.4,217.5 314.0,219.5 314.7,220.7 315.3,221.4 316.2,221.9 320.4,223.1 325.4,225.1 327.6,225.9 330.5,226.5 334.0,226.9 345.4,227.0 347.3,226.9 347.9,226.4 348.2,225.8 349.5,221.3 349.8,220.3 350.1,220.0 350.4,220.3 350.7,221.3 351.4,223.9 352.0,225.9 352.6,226.7 353.3,227.0 400.1,227.0 400.1,227" fill="#5f8cc9" fill-opacity="0.65"/>
<polyline points="278.9,226.8 280.2,226.4 281.4,225.6 282.7,224.1 285.6,219.9 286.5,219.1 287.1,219.0 287.8,219.3 288.7,220.2 290.9,223.6 292.2,225.2 293.5,226.2 295.0,226.8" fill="none" stroke="#5f8cc9" stroke-width="1.1"/>
<polyline points="299.5,226.8 301.7,226.3 303.3,225.7 304.2,225.0 305.2,223.4 306.1,220.4 306.8,217.3 309.0,203.1 309.6,201.1 309.9,200.9 310.2,201.3 310.9,203.4 312.4,212.9 313.4,217.5 314.0,219.5 315.0,221.1 315.6,221.6 316.2,221.9 320.4,223.1 327.0,225.7 329.5,226.4 332.4,226.8" fill="none" stroke="#5f8cc9" stroke-width="1.1"/>
<polyline points="347.6,226.7 348.2,225.8 349.5,221.3 349.8,220.3 350.1,220.0 350.4,220.3 350.7,221.3 351.4,223.9 352.0,225.9 352.6,226.7" fill="none" stroke="#5f8cc9" stroke-width="1.1"/>
<polygon points="242.2,227 242.2,227.0 295.4,227.0 298.5,226.9 299.5,226.6 300.1,226.3 300.7,225.8 301.4,225.0 302.3,223.3 304.9,217.1 305.5,216.2 306.1,215.9 306.4,216.1 307.1,216.8 309.3,221.4 309.9,222.3 310.5,222.9 311.2,223.0 311.8,222.8 313.7,221.4 314.3,221.1 315.0,221.0 315.6,221.1 316.9,222.1 319.1,224.6 320.4,225.8 321.6,226.5 323.2,226.9 327.3,227.0 400.1,227.0 400.1,227" fill="#f1e65b" fill-opacity="0.6"/>
<polyline points="299.2,226.7 300.4,226.1 301.4,225.0 302.3,223.3 304.9,217.1 305.5,216.2 306.1,215.9 306.4,216.1 307.1,216.8 309.3,221.4 309.9,222.3 310.5,222.9 311.2,223.0 311.8,222.8 313.7,221.4 314.3,221.1 315.0,221.0 315.6,221.1 316.9,222.1 319.1,224.6 320.0,225.5 321.3,226.3 322.6,226.8" fill="none" stroke="#f1e65b" stroke-width="1.1"/>
<polygon points="242.2,227 242.2,227.0 275.4,227.0 278.9,226.9 280.2,226.6 281.4,226.1 282.7,225.2 285.6,222.5 286.5,222.1 287.1,222.0 287.8,222.2 288.4,222.5 291.2,225.1 292.5,226.0 294.1,226.5 296.0,226.6 297.9,226.2 299.8,225.6 302.0,224.5 306.8,221.8 308.3,221.2 309.9,221.0 311.5,221.2 313.1,221.7 318.5,224.8 320.7,225.8 323.2,226.5 326.4,226.9 334.0,227.0 352.3,227.0 353.9,226.9 354.5,226.6 355.2,225.8 356.7,221.6 357.1,221.1 357.4,221.0 357.7,221.3 358.0,222.0 359.0,224.7 359.6,226.0 360.2,226.7 360.9,226.9 400.1,227.0 400.1,227" fill="#56b9d9" fill-opacity="0.55"/>
<polyline points="279.5,226.8 280.8,226.4 281.8,225.9 282.7,225.2 285.6,222.5 286.2,222.2 286.8,222.0 287.4,222.1 288.4,222.5 291.2,225.1 292.5,226.0 293.8,226.5 295.4,226.6 297.3,226.4 299.5,225.7 301.7,224.7 306.8,221.8 308.3,221.2 309.9,221.0 311.5,221.2 313.1,221.7 318.5,224.8 320.7,225.8 322.9,226.4 325.4,226.8" fill="none" stroke="#56b9d9" stroke-width="1.1"/>
<polyline points="354.2,226.8 354.9,226.3 355.2,225.8 356.7,221.6 357.1,221.1 357.4,221.0 357.7,221.3 358.0,222.0 359.3,225.5 359.6,226.0 360.2,226.7" fill="none" stroke="#56b9d9" stroke-width="1.1"/>
<polygon points="242.2,227 242.2,227.0 275.4,227.0 278.9,226.8 280.2,226.5 281.4,225.9 282.7,224.8 285.6,221.7 286.5,221.1 287.1,221.0 287.8,221.2 288.4,221.6 290.9,224.4 291.9,225.2 292.8,225.7 293.5,225.9 294.1,225.8 295.0,225.4 296.0,224.7 298.5,222.3 299.5,221.7 300.1,221.6 300.7,221.7 301.7,222.2 304.9,224.7 305.8,225.1 307.1,225.4 309.0,225.3 316.2,224.2 320.7,224.0 325.4,224.4 337.1,226.3 344.4,226.8 354.5,227.0 362.1,226.9 364.7,226.6 369.4,225.5 371.6,225.2 373.5,225.4 378.6,226.6 381.1,226.9 400.1,227.0 400.1,227" fill="#4a3c9c" fill-opacity="0.35"/>
<polyline points="279.2,226.8 280.5,226.4 281.8,225.7 282.7,224.8 285.6,221.7 286.5,221.1 287.1,221.0 287.8,221.2 288.4,221.6 290.9,224.4 291.9,225.2 292.8,225.7 293.5,225.9 294.1,225.8 295.0,225.4 296.0,224.7 298.5,222.3 299.5,221.7 300.1,221.6 300.7,221.7 301.7,222.2 304.9,224.7 305.8,225.1 306.8,225.4 309.0,225.3 316.9,224.1 321.3,224.0 325.7,224.5 336.5,226.2 343.1,226.8" fill="none" stroke="#4a3c9c" stroke-width="1.1"/>
<polyline points="363.4,226.8 365.6,226.4 369.7,225.4 371.6,225.2 373.5,225.4 377.6,226.4 379.8,226.8" fill="none" stroke="#4a3c9c" stroke-width="1.1"/>
<polygon points="403.5,229.9 403.5,229.9 403.8,253.2 404.8,279.9 405.2,295.2 405.6,300.7 406.9,309.4 407.1,313.2 406.9,316.7 405.8,325.7 404.1,343.9 403.8,349.2 403.6,354.7 403.5,354.7" fill="#7dcbe6" fill-opacity="0.7"/>
<polyline points="403.7,249.9 404.0,260.4 404.8,280.2 405.2,295.9 405.7,300.9 406.9,309.4 407.1,313.2 406.9,316.7 405.8,325.7 404.2,342.7 403.7,350.4" fill="none" stroke="#7dcbe6" stroke-width="1.1"/>
<polygon points="403.5,229.9 404.0,229.9 404.3,242.4 404.4,251.9 403.6,294.2 403.5,354.7 403.5,354.7" fill="#e8223f" fill-opacity="0.7"/>
<polyline points="404.0,229.9 404.3,242.9 404.4,252.9 403.7,284.7" fill="none" stroke="#e8223f" stroke-width="1.1"/>
<polygon points="403.5,229.9 403.5,229.9 403.5,297.4 403.8,301.7 404.1,303.2 404.6,304.7 405.5,306.4 406.4,307.4 407.6,308.2 409.8,308.9 412.3,309.4 416.0,309.9 436.5,311.9 439.1,312.4 439.5,312.7 439.2,312.9 438.2,313.2 434.6,313.7 418.3,315.2 412.3,315.9 409.7,316.4 408.0,316.9 406.5,317.7 405.7,318.4 404.9,319.7 404.2,321.4 403.8,323.2 403.6,325.2 403.5,354.7 403.5,354.7" fill="#9cc8dc" fill-opacity="0.85"/>
<polyline points="403.7,301.2 404.3,303.9 404.8,305.2 405.5,306.4 406.7,307.7 407.6,308.2 408.9,308.7 412.3,309.4 416.0,309.9 436.5,311.9 439.1,312.4 439.5,312.7 439.2,312.9 436.6,313.4 416.0,315.4 412.3,315.9 408.7,316.7 406.9,317.4 406.2,317.9 405.5,318.7 404.9,319.7 404.4,320.9 403.7,323.7" fill="none" stroke="#56b9d9" stroke-width="1.1"/>
<polygon points="403.5,229.9 403.5,229.9 403.5,299.9 403.6,303.7 404.1,306.2 404.7,307.7 405.4,308.7 406.4,309.4 407.7,309.9 409.8,310.4 412.9,310.9 424.8,312.4 427.0,312.9 427.4,313.2 427.2,313.4 425.2,313.9 413.8,315.4 410.9,315.9 408.8,316.4 407.5,316.9 406.6,317.4 405.9,318.2 405.2,319.2 404.5,320.7 404.1,321.9 403.7,323.4 403.6,325.4 403.5,354.7 403.5,354.7" fill="#5f8cc9" fill-opacity="0.3"/>
<polyline points="403.7,304.4 404.2,306.4 405.0,308.2 405.6,308.9 407.0,309.7 408.7,310.2 411.2,310.7 424.8,312.4 427.0,312.9 427.4,313.2 427.2,313.4 425.2,313.9 413.8,315.4 410.9,315.9 408.8,316.4 407.5,316.9 406.6,317.4 406.1,317.9 405.1,319.4 404.2,321.4 403.7,323.7" fill="none" stroke="#4a3c9c" stroke-width="0.8"/>
<polygon points="403.5,229.9 403.5,229.9 403.5,302.7 403.6,305.4 403.7,306.9 403.9,307.7 404.2,308.2 404.8,308.7 405.9,309.2 408.7,309.9 416.6,311.4 417.9,311.9 417.9,312.2 416.9,312.7 410.0,314.2 408.3,314.7 407.2,315.2 406.4,315.7 405.6,316.7 404.6,318.2 404.1,319.4 403.7,321.2 403.5,323.7 403.5,354.7 403.5,354.7" fill="#e8223f" fill-opacity="0.08"/>
<polyline points="403.7,306.9 403.9,307.7 404.2,308.2 404.8,308.7 405.9,309.2 408.7,309.9 416.6,311.4 417.9,311.9 417.9,312.2 417.6,312.4 415.9,312.9 409.1,314.4 407.7,314.9 406.8,315.4 405.7,316.4 404.8,317.9 404.1,319.4 403.7,320.9" fill="none" stroke="#e8223f" stroke-width="0.7"/>
<polygon points="474.9,226.7 474.9,226.7 503.0,226.7 507.1,226.5 508.3,226.2 509.3,225.8 510.2,225.0 512.4,222.7 513.0,222.3 513.7,222.1 514.3,222.2 514.9,222.5 517.5,225.0 518.7,225.8 520.0,226.2 521.6,226.1 523.4,225.5 525.0,224.4 526.6,222.6 530.1,217.7 531.3,216.6 532.3,216.4 533.2,216.6 534.2,217.4 537.9,222.5 539.5,224.1 541.1,225.0 542.0,225.4 543.3,225.6 545.8,225.7 556.5,225.5 565.1,225.5 601.6,226.5 632.2,226.7 632.2,226.7" fill="#1fa5a8" fill-opacity="0.7"/>
<polyline points="507.4,226.5 508.6,226.1 509.6,225.5 512.4,222.7 513.0,222.3 513.7,222.1 514.3,222.2 514.9,222.5 517.5,225.0 518.1,225.5 519.0,225.9 520.0,226.2 520.9,226.2 522.8,225.8 524.4,224.9 525.7,223.8 526.9,222.2 529.4,218.5 530.4,217.4 531.3,216.6 532.3,216.4 533.2,216.6 534.2,217.4 535.1,218.5 537.6,222.1 539.2,223.8 540.2,224.5 541.1,225.0 543.0,225.6 545.5,225.7 557.5,225.5 566.9,225.6 601.6,226.5" fill="none" stroke="#1fa5a8" stroke-width="1.1"/>
<polygon points="474.9,226.7 474.9,226.7 536.1,226.6 538.9,226.5 541.4,226.1 547.7,224.5 549.9,224.1 552.1,224.0 556.9,224.4 559.1,224.5 561.6,224.3 568.2,223.6 572.0,223.4 574.8,223.5 577.7,223.7 590.6,225.7 598.2,226.4 607.9,226.7 632.2,226.7 632.2,226.7" fill="#1e9e4a" fill-opacity="0.6"/>
<polyline points="538.6,226.5 542.0,226.0 547.7,224.5 549.9,224.1 552.1,224.0 556.9,224.4 559.1,224.5 561.6,224.3 568.2,223.6 572.0,223.4 575.1,223.5 578.3,223.8 592.5,225.9 600.4,226.5" fill="none" stroke="#1e9e4a" stroke-width="1.1"/>
<polygon points="474.9,226.7 474.9,226.7 513.7,226.7 515.6,226.6 516.5,226.1 517.1,225.3 517.8,223.8 519.3,218.7 519.7,218.1 520.0,217.9 520.3,218.1 520.9,219.4 522.5,224.5 523.1,225.7 523.8,226.3 524.4,226.6 525.3,226.7 534.2,226.6 534.5,226.5 534.8,226.1 535.1,225.3 535.4,223.7 536.4,215.4 536.7,213.8 537.0,214.1 537.3,216.1 538.3,224.2 538.6,225.6 538.9,226.3 539.5,226.7 577.7,226.7 578.6,226.5 579.6,225.9 580.2,225.2 581.4,223.3 582.1,222.7 582.4,222.7 583.0,223.1 584.9,225.8 585.9,226.5 586.8,226.7 632.2,226.7 632.2,226.7" fill="#1c1a7e" fill-opacity="0.8"/>
<polyline points="515.9,226.5 516.5,226.1 516.8,225.8 517.5,224.6 519.3,218.7 519.7,218.1 520.0,217.9 520.3,218.1 520.6,218.6 522.2,223.7 522.8,225.2 523.4,226.1 524.1,226.5" fill="none" stroke="#1c1a7e" stroke-width="1.1"/>
<polyline points="534.8,226.1 535.1,225.3 535.4,223.7 536.4,215.4 536.7,213.8 537.0,214.1 537.3,216.1 538.3,224.2 538.6,225.6 538.9,226.3" fill="none" stroke="#1c1a7e" stroke-width="1.1"/>
<polyline points="578.9,226.4 579.9,225.6 581.8,222.9 582.4,222.7 583.0,223.1 584.9,225.8 585.9,226.5" fill="none" stroke="#1c1a7e" stroke-width="1.1"/>
<polygon points="474.9,226.7 474.9,226.7 531.0,226.7 532.9,226.6 533.5,226.2 533.8,225.9 534.5,224.5 534.8,223.4 535.4,220.1 537.0,209.2 537.3,208.0 537.6,207.7 537.9,208.2 538.3,209.5 539.8,220.5 540.5,223.6 540.8,224.7 541.4,225.9 541.7,226.3 542.4,226.6 544.3,226.7 556.5,226.6 560.0,226.4 565.7,225.6 567.9,225.5 570.4,225.6 577.0,226.5 581.4,226.7 632.2,226.7 632.2,226.7" fill="#d7dd1c" fill-opacity="0.5"/>
<polyline points="533.2,226.4 533.8,225.9 534.2,225.3 534.8,223.4 535.4,220.1 537.0,209.2 537.3,208.0 537.6,207.7 537.9,208.2 538.3,209.5 539.8,220.5 540.5,223.6 541.1,225.4 541.4,225.9 542.0,226.5" fill="none" stroke="#d7dd1c" stroke-width="1.1"/>
<polyline points="558.8,226.5 565.4,225.7 567.9,225.5 570.4,225.6 577.3,226.5" fill="none" stroke="#d7dd1c" stroke-width="1.1"/>
<polygon points="474.9,226.7 474.9,226.7 531.6,226.7 533.2,226.6 533.8,226.5 534.5,226.1 534.8,225.7 535.4,224.2 535.7,222.9 536.4,219.3 537.9,206.3 538.3,204.5 538.6,203.4 538.9,203.2 539.2,203.9 539.5,205.5 541.1,218.3 541.7,222.3 542.0,223.7 542.7,225.4 543.3,226.3 543.9,226.6 546.1,226.7 632.2,226.7 632.2,226.7" fill="#e91e8c" fill-opacity="0.6"/>
<polyline points="534.2,226.3 534.8,225.7 535.1,225.1 535.7,222.9 536.4,219.3 537.9,206.3 538.3,204.5 538.6,203.4 538.9,203.2 539.2,203.9 539.5,205.5 541.1,218.3 541.7,222.3 542.0,223.7 542.7,225.4 543.0,225.9 543.6,226.4" fill="none" stroke="#e91e8c" stroke-width="1.1"/>
<polygon points="635.6,229.7 635.6,229.7 635.6,286.3 635.7,289.6 635.9,291.8 636.2,293.1 636.7,294.1 637.8,295.8 639.6,297.6 644.5,301.6 645.7,302.8 646.7,304.3 647.3,305.5 647.4,306.8 647.2,307.8 646.3,309.3 646.2,309.8 646.3,310.0 647.2,310.8 651.0,312.3 651.3,312.5 651.3,312.8 651.0,313.0 649.6,313.5 641.6,315.0 638.5,315.8 636.8,316.5 636.2,317.0 635.9,317.5 635.7,318.5 635.6,320.8 635.6,354.2 635.6,354.2" fill="#1e9e4a" fill-opacity="0.65"/>
<polyline points="635.8,291.1 636.0,292.3 636.4,293.6 637.1,294.8 637.8,295.8 639.6,297.6 644.5,301.6 645.7,302.8 646.7,304.3 647.3,305.5 647.4,306.8 647.2,307.8 646.3,309.3 646.2,309.8 646.3,310.0 647.2,310.8 651.0,312.3 651.3,312.5 651.3,312.8 651.0,313.0 649.6,313.5 641.6,315.0 638.5,315.8 636.8,316.5 636.2,317.0 635.8,317.8" fill="none" stroke="#1e9e4a" stroke-width="1.1"/>
<polygon points="635.6,229.7 635.9,229.7 636.4,268.4 636.5,290.6 636.7,295.1 636.9,298.1 637.5,300.8 638.2,303.3 640.4,309.5 640.8,311.3 640.9,313.0 640.8,314.5 640.5,316.0 639.0,321.3 638.5,323.8 637.7,331.7 636.4,339.7 636.0,345.0 635.8,354.2 635.6,354.2" fill="#1fa5a8" fill-opacity="0.7"/>
<polyline points="635.9,229.7 636.4,268.4 636.5,290.6 636.7,295.1 636.9,298.1 637.5,300.8 638.2,303.3 640.4,309.5 640.8,311.3 640.9,313.0 640.8,314.5 640.5,316.0 639.0,321.3 638.5,323.8 637.7,331.7 636.4,339.7 636.0,345.0 635.8,354.2" fill="none" stroke="#1fa5a8" stroke-width="1.1"/>
<polygon points="635.6,229.7 635.6,229.7 635.6,306.5 635.7,309.3 636.0,310.0 636.7,310.8 637.4,311.3 638.6,311.8 642.4,312.8 650.7,314.5 652.1,315.0 652.5,315.3 652.6,315.5 652.4,315.8 652.0,316.0 650.5,316.5 642.1,318.3 638.5,319.3 637.3,319.8 636.6,320.3 635.9,321.3 635.7,322.3 635.6,323.8 635.6,354.2 635.6,354.2" fill="#1c1a7e" fill-opacity="0.8"/>
<polyline points="635.8,309.5 636.2,310.3 636.7,310.8 637.4,311.3 638.6,311.8 642.4,312.8 650.7,314.5 652.1,315.0 652.5,315.3 652.6,315.5 652.4,315.8 652.0,316.0 650.5,316.5 642.1,318.3 638.5,319.3 637.3,319.8 636.6,320.3 635.9,321.3" fill="none" stroke="#1c1a7e" stroke-width="1.1"/>
<polygon points="635.6,229.7 635.6,229.7 635.6,307.5 635.6,308.8 635.8,309.3 636.3,309.8 636.8,310.0 638.8,310.5 640.6,310.8 650.1,311.5 668.2,312.5 673.2,313.0 673.5,313.3 672.2,313.5 669.4,313.8 647.5,315.0 641.4,315.5 638.0,316.0 637.0,316.3 636.0,316.8 635.7,317.3 635.6,318.3 635.6,354.2 635.6,354.2" fill="#d7dd1c" fill-opacity="0.9"/>
<polyline points="636.0,309.5 636.8,310.0 637.6,310.3 640.6,310.8 643.1,311.0 668.2,312.5 673.2,313.0 673.5,313.3 672.2,313.5 669.4,313.8 647.5,315.0 641.4,315.5 639.4,315.8 637.0,316.3 636.4,316.5 635.8,317.0" fill="none" stroke="#e91e8c" stroke-width="0.5"/>
</svg></body></html>
